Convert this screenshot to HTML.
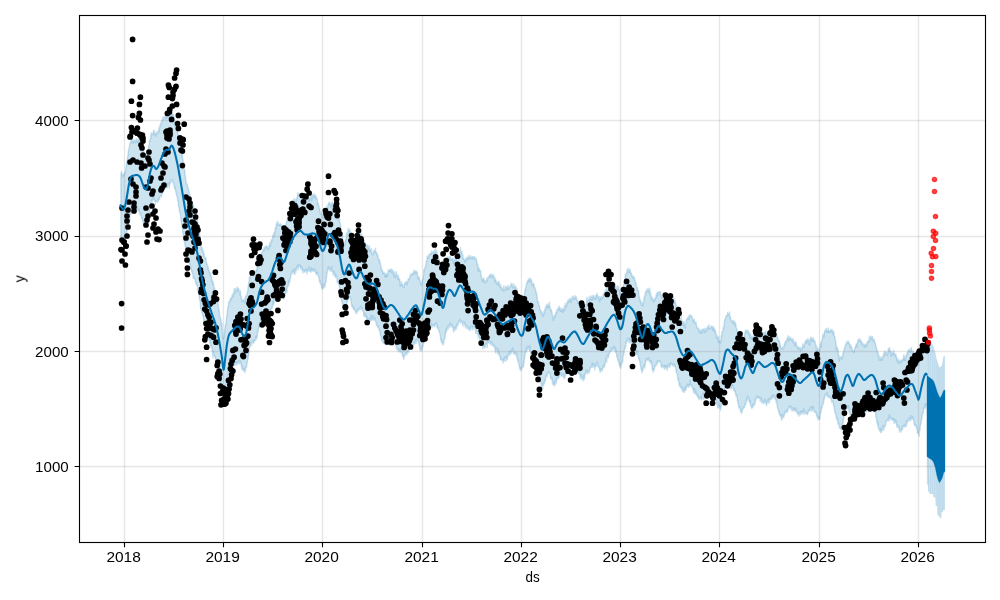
<!DOCTYPE html>
<html><head><meta charset="utf-8"><title>forecast</title>
<style>html,body{margin:0;padding:0;background:#fff;font-family:"Liberation Sans",sans-serif}svg{display:block}</style></head>
<body>
<svg width="1000" height="600" viewBox="0 0 1000 600">
<rect width="1000" height="600" fill="#fff"/>
<path d="M120.9 174.3 L121.2 172.4 L121.4 172.2 L121.7 171.0 L122.0 175.6 L122.3 174.4 L122.5 174.7 L122.8 176.3 L123.1 176.8 L123.3 174.7 L123.6 173.8 L123.9 174.0 L124.2 174.7 L124.4 175.0 L124.7 172.1 L125.0 172.2 L125.2 172.8 L125.5 172.7 L125.8 169.0 L126.1 166.2 L126.3 166.6 L126.6 162.4 L126.9 162.3 L127.1 161.3 L127.4 158.6 L127.7 156.4 L128.0 155.3 L128.2 151.5 L128.5 150.9 L128.8 149.4 L129.1 148.1 L129.3 147.1 L129.6 144.7 L129.9 143.5 L130.1 143.5 L130.4 142.6 L130.7 141.3 L131.0 142.2 L131.2 138.6 L131.5 142.2 L131.8 139.3 L132.0 137.9 L132.3 140.3 L132.6 141.3 L132.9 143.4 L133.1 140.4 L133.4 142.5 L133.7 142.2 L133.9 139.7 L134.2 139.6 L134.5 141.8 L134.8 142.4 L135.0 142.8 L135.3 140.9 L135.6 141.0 L135.8 140.0 L136.1 141.7 L136.4 138.6 L136.7 140.5 L136.9 141.1 L137.2 139.2 L137.5 142.1 L137.7 139.4 L138.0 140.5 L138.3 142.8 L138.6 138.8 L138.8 139.2 L139.1 142.3 L139.4 139.2 L139.6 139.5 L139.9 141.9 L140.2 142.7 L140.5 143.1 L140.7 144.1 L141.0 146.0 L141.3 146.0 L141.6 145.5 L141.8 143.2 L142.1 144.3 L142.4 144.3 L142.6 148.9 L142.9 146.8 L143.2 152.2 L143.5 153.4 L143.7 150.7 L144.0 153.0 L144.3 153.6 L144.5 156.9 L144.8 154.7 L145.1 155.6 L145.4 154.1 L145.6 155.0 L145.9 157.5 L146.2 154.8 L146.4 156.0 L146.7 156.1 L147.0 156.1 L147.3 151.4 L147.5 153.7 L147.8 152.1 L148.1 153.0 L148.3 150.2 L148.6 146.4 L148.9 145.0 L149.2 144.2 L149.4 141.0 L149.7 140.4 L150.0 141.5 L150.2 141.0 L150.5 136.8 L150.8 138.6 L151.1 133.2 L151.3 132.7 L151.6 135.7 L151.9 133.7 L152.1 134.6 L152.4 134.4 L152.7 133.5 L153.0 134.1 L153.2 132.5 L153.5 130.3 L153.8 132.6 L154.1 132.7 L154.3 134.8 L154.6 130.7 L154.9 133.4 L155.1 133.0 L155.4 133.8 L155.7 136.2 L156.0 134.1 L156.2 133.5 L156.5 133.4 L156.8 134.1 L157.0 131.4 L157.3 132.1 L157.6 133.5 L157.9 132.9 L158.1 132.0 L158.4 131.3 L158.7 130.8 L158.9 127.5 L159.2 131.3 L159.5 128.6 L159.8 127.0 L160.0 124.7 L160.3 125.1 L160.6 125.3 L160.8 124.5 L161.1 122.0 L161.4 123.1 L161.7 123.2 L161.9 120.4 L162.2 120.6 L162.5 119.7 L162.7 117.4 L163.0 119.9 L163.3 119.2 L163.6 119.1 L163.8 116.6 L164.1 116.8 L164.4 117.5 L164.6 116.9 L164.9 117.8 L165.2 116.1 L165.5 117.2 L165.7 118.5 L166.0 118.5 L166.3 118.6 L166.6 116.6 L166.8 118.0 L167.1 116.5 L167.4 117.6 L167.6 116.7 L167.9 117.2 L168.2 117.5 L168.5 118.1 L168.7 118.1 L169.0 117.1 L169.3 115.0 L169.5 116.1 L169.8 114.4 L170.1 118.1 L170.4 115.2 L170.6 115.3 L170.9 113.9 L171.2 111.0 L171.4 111.3 L171.7 113.5 L172.0 115.4 L172.3 113.2 L172.5 114.9 L172.8 115.8 L173.1 114.3 L173.3 115.0 L173.6 116.2 L173.9 118.0 L174.2 118.8 L174.4 122.3 L174.7 120.9 L175.0 122.2 L175.2 125.6 L175.5 126.3 L175.8 123.2 L176.1 125.8 L176.3 129.6 L176.6 128.2 L176.9 130.0 L177.1 130.6 L177.4 130.9 L177.7 131.9 L178.0 135.1 L178.2 138.1 L178.5 139.8 L178.8 138.5 L179.1 136.8 L179.3 139.2 L179.6 140.3 L179.9 141.4 L180.1 141.4 L180.4 140.4 L180.7 145.6 L181.0 143.5 L181.2 147.4 L181.5 151.6 L181.8 153.8 L182.0 157.4 L182.3 153.2 L182.6 158.2 L182.9 159.4 L183.1 160.2 L183.4 163.5 L183.7 163.8 L183.9 167.8 L184.2 169.6 L184.5 168.8 L184.8 171.1 L185.0 174.1 L185.3 175.3 L185.6 179.5 L185.8 179.8 L186.1 182.8 L186.4 183.9 L186.7 183.1 L186.9 183.9 L187.2 184.4 L187.5 185.8 L187.7 186.7 L188.0 188.7 L188.3 188.4 L188.6 190.3 L188.8 191.3 L189.1 191.8 L189.4 193.7 L189.6 196.4 L189.9 197.3 L190.2 195.5 L190.5 197.0 L190.7 198.6 L191.0 200.1 L191.3 203.2 L191.6 202.2 L191.8 204.3 L192.1 205.8 L192.4 202.8 L192.6 203.4 L192.9 204.4 L193.2 206.8 L193.5 205.0 L193.7 206.8 L194.0 208.5 L194.3 210.6 L194.5 210.7 L194.8 210.0 L195.1 209.8 L195.4 214.2 L195.6 214.5 L195.9 213.3 L196.2 215.0 L196.4 217.0 L196.7 216.0 L197.0 219.7 L197.3 220.4 L197.5 221.5 L197.8 223.8 L198.1 223.4 L198.3 226.0 L198.6 227.8 L198.9 229.0 L199.2 230.5 L199.4 234.4 L199.7 233.5 L200.0 238.1 L200.2 236.6 L200.5 241.1 L200.8 242.8 L201.1 242.8 L201.3 242.4 L201.6 249.8 L201.9 247.2 L202.1 247.2 L202.4 249.1 L202.7 250.6 L203.0 250.9 L203.2 252.1 L203.5 251.0 L203.8 255.3 L204.0 253.6 L204.3 255.8 L204.6 257.4 L204.9 258.5 L205.1 257.5 L205.4 258.1 L205.7 259.6 L206.0 257.8 L206.2 261.4 L206.5 262.9 L206.8 262.8 L207.0 264.6 L207.3 264.6 L207.6 268.2 L207.9 269.3 L208.1 266.1 L208.4 270.0 L208.7 269.3 L208.9 271.5 L209.2 271.2 L209.5 272.8 L209.8 272.4 L210.0 275.3 L210.3 274.4 L210.6 273.0 L210.8 275.9 L211.1 276.6 L211.4 277.0 L211.7 277.0 L211.9 281.5 L212.2 279.7 L212.5 283.1 L212.7 281.4 L213.0 284.4 L213.3 281.6 L213.6 285.8 L213.8 284.5 L214.1 288.5 L214.4 290.4 L214.6 287.6 L214.9 289.5 L215.2 293.1 L215.5 293.0 L215.7 292.3 L216.0 295.9 L216.3 294.8 L216.5 297.8 L216.8 298.0 L217.1 296.6 L217.4 299.2 L217.6 302.8 L217.9 300.5 L218.2 304.1 L218.5 307.2 L218.7 309.6 L219.0 311.6 L219.3 310.0 L219.5 315.8 L219.8 315.1 L220.1 317.7 L220.4 318.2 L220.6 318.8 L220.9 319.0 L221.2 320.9 L221.4 325.5 L221.7 323.5 L222.0 323.6 L222.3 329.8 L222.5 332.2 L222.8 335.2 L223.1 338.9 L223.3 336.4 L223.6 338.3 L223.9 337.6 L224.2 337.0 L224.4 335.2 L224.7 330.5 L225.0 327.2 L225.2 327.1 L225.5 324.0 L225.8 325.4 L226.1 320.5 L226.3 319.0 L226.6 316.1 L226.9 316.6 L227.1 313.3 L227.4 310.3 L227.7 309.7 L228.0 306.6 L228.2 305.7 L228.5 305.8 L228.8 301.4 L229.0 301.9 L229.3 301.7 L229.6 302.4 L229.9 301.1 L230.1 299.2 L230.4 297.9 L230.7 299.2 L231.0 297.9 L231.2 299.8 L231.5 297.6 L231.8 297.5 L232.0 295.1 L232.3 294.9 L232.6 294.6 L232.9 297.0 L233.1 294.8 L233.4 293.5 L233.7 291.0 L233.9 293.7 L234.2 288.4 L234.5 294.0 L234.8 290.9 L235.0 290.9 L235.3 289.1 L235.6 288.4 L235.8 290.8 L236.1 289.1 L236.4 291.2 L236.7 292.0 L236.9 291.4 L237.2 287.0 L237.5 288.8 L237.7 288.7 L238.0 288.8 L238.3 288.3 L238.6 288.3 L238.8 290.0 L239.1 291.3 L239.4 292.7 L239.6 292.4 L239.9 294.7 L240.2 290.4 L240.5 292.5 L240.7 295.5 L241.0 296.2 L241.3 296.5 L241.5 299.5 L241.8 300.9 L242.1 301.5 L242.4 299.5 L242.6 300.7 L242.9 300.3 L243.2 300.6 L243.5 301.7 L243.7 300.1 L244.0 300.9 L244.3 298.4 L244.5 302.6 L244.8 303.1 L245.1 301.0 L245.4 300.8 L245.6 295.9 L245.9 297.4 L246.2 295.9 L246.4 297.2 L246.7 296.6 L247.0 292.8 L247.3 292.6 L247.5 290.9 L247.8 292.0 L248.1 286.5 L248.3 285.0 L248.6 284.1 L248.9 282.1 L249.2 280.7 L249.4 277.2 L249.7 277.1 L250.0 278.5 L250.2 275.6 L250.5 273.8 L250.8 272.6 L251.1 274.7 L251.3 273.2 L251.6 271.8 L251.9 273.9 L252.1 271.4 L252.4 271.9 L252.7 273.2 L253.0 272.9 L253.2 273.5 L253.5 272.2 L253.8 271.6 L254.0 272.7 L254.3 271.7 L254.6 272.7 L254.9 271.5 L255.1 272.1 L255.4 272.8 L255.7 272.8 L256.0 270.1 L256.2 270.3 L256.5 270.1 L256.8 270.7 L257.0 267.3 L257.3 268.9 L257.6 264.6 L257.9 264.5 L258.1 266.4 L258.4 262.8 L258.7 263.2 L258.9 257.0 L259.2 258.7 L259.5 258.3 L259.8 258.5 L260.0 256.4 L260.3 258.6 L260.6 253.9 L260.8 258.0 L261.1 256.3 L261.4 256.9 L261.7 253.8 L261.9 252.4 L262.2 251.9 L262.5 251.3 L262.7 251.2 L263.0 248.9 L263.3 250.5 L263.6 250.5 L263.8 250.9 L264.1 247.0 L264.4 247.6 L264.6 248.9 L264.9 248.1 L265.2 246.7 L265.5 247.5 L265.7 247.4 L266.0 247.3 L266.3 245.9 L266.5 246.2 L266.8 245.6 L267.1 247.6 L267.4 249.8 L267.6 246.6 L267.9 248.3 L268.2 248.6 L268.5 246.5 L268.7 248.8 L269.0 245.8 L269.3 248.0 L269.5 244.9 L269.8 242.5 L270.1 244.6 L270.4 246.4 L270.6 243.0 L270.9 243.1 L271.2 240.5 L271.4 239.5 L271.7 241.8 L272.0 239.9 L272.3 240.0 L272.5 239.9 L272.8 235.3 L273.1 235.4 L273.3 235.1 L273.6 237.2 L273.9 233.2 L274.2 232.1 L274.4 232.2 L274.7 234.0 L275.0 229.8 L275.2 228.8 L275.5 227.3 L275.8 227.0 L276.1 228.5 L276.3 224.3 L276.6 222.9 L276.9 225.0 L277.1 224.5 L277.4 221.0 L277.7 223.9 L278.0 225.1 L278.2 223.0 L278.5 225.4 L278.8 224.6 L279.0 224.6 L279.3 224.4 L279.6 224.4 L279.9 225.6 L280.1 223.3 L280.4 225.0 L280.7 225.9 L280.9 224.5 L281.2 224.6 L281.5 225.0 L281.8 225.9 L282.0 230.2 L282.3 228.3 L282.6 229.9 L282.9 228.1 L283.1 228.0 L283.4 226.8 L283.7 227.6 L283.9 227.0 L284.2 228.5 L284.5 225.5 L284.8 227.1 L285.0 226.8 L285.3 226.3 L285.6 225.3 L285.8 225.2 L286.1 223.7 L286.4 222.6 L286.7 221.6 L286.9 220.5 L287.2 220.8 L287.5 218.2 L287.7 216.3 L288.0 217.8 L288.3 217.9 L288.6 217.2 L288.8 213.7 L289.1 215.4 L289.4 214.2 L289.6 213.5 L289.9 213.7 L290.2 210.6 L290.5 210.9 L290.7 208.7 L291.0 209.5 L291.3 209.2 L291.5 208.1 L291.8 207.9 L292.1 204.9 L292.4 206.1 L292.6 203.0 L292.9 208.0 L293.2 205.4 L293.4 201.6 L293.7 199.0 L294.0 204.1 L294.3 200.6 L294.5 202.1 L294.8 199.0 L295.1 201.0 L295.4 200.4 L295.6 202.0 L295.9 200.9 L296.2 203.1 L296.4 198.0 L296.7 199.8 L297.0 198.0 L297.3 198.2 L297.5 194.3 L297.8 192.8 L298.1 195.9 L298.3 193.8 L298.6 194.4 L298.9 195.0 L299.2 193.8 L299.4 195.7 L299.7 193.8 L300.0 193.6 L300.2 196.1 L300.5 193.6 L300.8 196.2 L301.1 195.5 L301.3 197.0 L301.6 195.6 L301.9 194.1 L302.1 195.3 L302.4 196.2 L302.7 198.8 L303.0 198.9 L303.2 198.7 L303.5 199.2 L303.8 199.4 L304.0 200.5 L304.3 200.4 L304.6 200.3 L304.9 200.3 L305.1 201.3 L305.4 200.2 L305.7 200.9 L305.9 200.5 L306.2 199.9 L306.5 199.4 L306.8 198.4 L307.0 198.1 L307.3 199.2 L307.6 199.6 L307.9 196.0 L308.1 199.9 L308.4 195.7 L308.7 198.5 L308.9 199.0 L309.2 201.4 L309.5 199.3 L309.8 197.7 L310.0 197.5 L310.3 198.7 L310.6 200.1 L310.8 198.0 L311.1 194.8 L311.4 196.1 L311.7 197.3 L311.9 200.6 L312.2 194.7 L312.5 195.3 L312.7 196.5 L313.0 196.8 L313.3 194.0 L313.6 196.3 L313.8 194.0 L314.1 195.5 L314.4 197.8 L314.6 194.5 L314.9 195.2 L315.2 197.5 L315.5 195.6 L315.7 195.2 L316.0 196.1 L316.3 199.0 L316.5 197.2 L316.8 198.8 L317.1 198.7 L317.4 200.4 L317.6 204.2 L317.9 203.1 L318.2 202.9 L318.4 205.6 L318.7 205.3 L319.0 205.7 L319.3 209.3 L319.5 210.5 L319.8 208.2 L320.1 211.5 L320.4 214.0 L320.6 213.5 L320.9 213.8 L321.2 211.7 L321.4 214.5 L321.7 212.8 L322.0 217.7 L322.3 215.9 L322.5 217.4 L322.8 216.3 L323.1 217.7 L323.3 214.6 L323.6 216.4 L323.9 217.1 L324.2 216.4 L324.4 215.4 L324.7 213.7 L325.0 216.7 L325.2 215.2 L325.5 215.9 L325.8 214.1 L326.1 210.3 L326.3 210.2 L326.6 211.9 L326.9 206.8 L327.1 207.8 L327.4 205.5 L327.7 208.0 L328.0 204.9 L328.2 204.1 L328.5 204.6 L328.8 202.9 L329.0 202.8 L329.3 201.9 L329.6 204.7 L329.9 203.4 L330.1 204.4 L330.4 204.1 L330.7 205.3 L330.9 207.0 L331.2 202.9 L331.5 203.6 L331.8 206.5 L332.0 208.1 L332.3 202.8 L332.6 201.8 L332.9 204.2 L333.1 204.3 L333.4 205.8 L333.7 205.2 L333.9 207.0 L334.2 207.0 L334.5 206.0 L334.8 205.8 L335.0 209.2 L335.3 210.7 L335.6 209.2 L335.8 213.5 L336.1 212.8 L336.4 211.9 L336.7 212.6 L336.9 212.7 L337.2 214.5 L337.5 215.5 L337.7 215.0 L338.0 212.9 L338.3 216.4 L338.6 216.9 L338.8 217.0 L339.1 220.1 L339.4 218.2 L339.6 222.4 L339.9 222.3 L340.2 222.9 L340.5 224.2 L340.7 229.5 L341.0 230.7 L341.3 229.7 L341.5 232.6 L341.8 235.4 L342.1 234.0 L342.4 235.0 L342.6 237.9 L342.9 239.2 L343.2 240.2 L343.4 244.2 L343.7 243.4 L344.0 243.4 L344.3 245.9 L344.5 242.9 L344.8 245.1 L345.1 241.8 L345.4 239.9 L345.6 239.2 L345.9 240.3 L346.2 239.5 L346.4 237.2 L346.7 233.5 L347.0 232.6 L347.3 233.3 L347.5 233.4 L347.8 233.7 L348.1 228.2 L348.3 231.0 L348.6 230.3 L348.9 230.6 L349.2 230.9 L349.4 229.1 L349.7 229.3 L350.0 232.9 L350.2 232.7 L350.5 231.1 L350.8 232.5 L351.1 233.2 L351.3 233.2 L351.6 236.0 L351.9 234.7 L352.1 234.3 L352.4 235.5 L352.7 239.7 L353.0 238.9 L353.2 239.2 L353.5 239.4 L353.8 240.8 L354.0 241.4 L354.3 238.2 L354.6 239.9 L354.9 238.8 L355.1 241.1 L355.4 240.6 L355.7 238.9 L355.9 242.5 L356.2 242.5 L356.5 240.4 L356.8 244.2 L357.0 242.5 L357.3 242.3 L357.6 241.0 L357.9 241.0 L358.1 239.7 L358.4 237.9 L358.7 238.3 L358.9 238.6 L359.2 237.1 L359.5 236.5 L359.8 235.5 L360.0 232.2 L360.3 236.3 L360.6 234.2 L360.8 233.6 L361.1 235.3 L361.4 233.2 L361.7 236.0 L361.9 235.1 L362.2 239.6 L362.5 237.6 L362.7 236.7 L363.0 237.8 L363.3 236.9 L363.6 239.6 L363.8 240.5 L364.1 242.0 L364.4 240.6 L364.6 243.9 L364.9 246.1 L365.2 244.6 L365.5 244.9 L365.7 246.4 L366.0 244.9 L366.3 245.5 L366.5 247.5 L366.8 247.0 L367.1 244.7 L367.4 245.0 L367.6 250.3 L367.9 247.6 L368.2 246.0 L368.4 248.3 L368.7 248.2 L369.0 247.6 L369.3 245.5 L369.5 251.3 L369.8 250.2 L370.1 249.1 L370.3 251.6 L370.6 250.3 L370.9 249.1 L371.2 251.8 L371.4 248.7 L371.7 253.1 L372.0 253.4 L372.3 254.2 L372.5 254.1 L372.8 255.0 L373.1 254.2 L373.3 253.6 L373.6 251.4 L373.9 252.4 L374.2 250.1 L374.4 249.7 L374.7 252.3 L375.0 252.2 L375.2 252.7 L375.5 248.2 L375.8 252.2 L376.1 252.7 L376.3 252.3 L376.6 254.0 L376.9 252.6 L377.1 254.9 L377.4 254.9 L377.7 256.2 L378.0 255.1 L378.2 257.9 L378.5 259.5 L378.8 259.5 L379.0 260.4 L379.3 259.1 L379.6 263.2 L379.9 260.6 L380.1 262.4 L380.4 264.2 L380.7 265.0 L380.9 266.3 L381.2 267.2 L381.5 270.9 L381.8 269.8 L382.0 270.5 L382.3 270.1 L382.6 271.8 L382.8 274.1 L383.1 272.9 L383.4 272.0 L383.7 273.0 L383.9 273.4 L384.2 273.7 L384.5 272.2 L384.8 276.6 L385.0 274.1 L385.3 274.4 L385.6 274.2 L385.8 274.9 L386.1 277.4 L386.4 273.6 L386.7 274.0 L386.9 273.7 L387.2 274.0 L387.5 276.4 L387.7 272.8 L388.0 272.0 L388.3 269.6 L388.6 271.2 L388.8 271.0 L389.1 270.6 L389.4 269.9 L389.6 271.4 L389.9 270.6 L390.2 269.8 L390.5 269.3 L390.7 269.1 L391.0 272.5 L391.3 268.9 L391.5 271.5 L391.8 271.3 L392.1 269.9 L392.4 271.8 L392.6 269.9 L392.9 273.5 L393.2 270.7 L393.4 273.6 L393.7 275.1 L394.0 272.8 L394.3 277.0 L394.5 275.4 L394.8 271.8 L395.1 276.8 L395.3 277.6 L395.6 274.9 L395.9 274.3 L396.2 274.7 L396.4 271.7 L396.7 274.7 L397.0 275.6 L397.3 275.4 L397.5 277.5 L397.8 279.6 L398.1 275.2 L398.3 275.3 L398.6 277.6 L398.9 279.7 L399.2 279.4 L399.4 278.6 L399.7 279.4 L400.0 281.9 L400.2 286.1 L400.5 282.3 L400.8 283.7 L401.1 285.0 L401.3 283.5 L401.6 281.5 L401.9 285.4 L402.1 284.3 L402.4 284.3 L402.7 285.4 L403.0 287.0 L403.2 285.7 L403.5 287.0 L403.8 287.3 L404.0 287.0 L404.3 283.2 L404.6 283.6 L404.9 282.5 L405.1 283.0 L405.4 283.5 L405.7 283.6 L405.9 282.5 L406.2 281.5 L406.5 283.5 L406.8 282.2 L407.0 284.9 L407.3 282.4 L407.6 280.8 L407.8 281.7 L408.1 278.9 L408.4 279.4 L408.7 278.8 L408.9 279.1 L409.2 279.6 L409.5 277.7 L409.8 276.9 L410.0 275.3 L410.3 275.6 L410.6 274.4 L410.8 276.0 L411.1 273.5 L411.4 275.4 L411.7 275.4 L411.9 275.3 L412.2 273.7 L412.5 274.2 L412.7 273.0 L413.0 272.8 L413.3 274.6 L413.6 273.6 L413.8 270.5 L414.1 271.1 L414.4 273.0 L414.6 271.5 L414.9 271.1 L415.2 273.5 L415.5 270.8 L415.7 271.5 L416.0 272.7 L416.3 271.0 L416.5 271.6 L416.8 272.3 L417.1 272.9 L417.4 272.4 L417.6 276.9 L417.9 276.8 L418.2 278.9 L418.4 278.0 L418.7 276.6 L419.0 277.5 L419.3 277.1 L419.5 279.7 L419.8 280.0 L420.1 282.0 L420.3 282.1 L420.6 281.2 L420.9 284.7 L421.2 282.5 L421.4 283.1 L421.7 284.9 L422.0 283.7 L422.3 280.0 L422.5 279.3 L422.8 279.5 L423.1 278.5 L423.3 276.7 L423.6 275.2 L423.9 269.6 L424.2 270.8 L424.4 268.5 L424.7 268.5 L425.0 267.7 L425.2 266.6 L425.5 267.2 L425.8 265.0 L426.1 262.9 L426.3 260.6 L426.6 262.2 L426.9 259.9 L427.1 256.6 L427.4 257.9 L427.7 257.7 L428.0 255.3 L428.2 256.7 L428.5 258.3 L428.8 256.1 L429.0 256.5 L429.3 255.0 L429.6 253.6 L429.9 254.4 L430.1 254.1 L430.4 254.6 L430.7 253.1 L430.9 254.6 L431.2 252.8 L431.5 253.4 L431.8 250.8 L432.0 253.3 L432.3 253.7 L432.6 253.6 L432.8 251.8 L433.1 252.1 L433.4 253.2 L433.7 252.1 L433.9 252.6 L434.2 253.7 L434.5 250.8 L434.8 249.9 L435.0 251.5 L435.3 251.9 L435.6 248.3 L435.8 253.8 L436.1 252.5 L436.4 251.9 L436.7 251.0 L436.9 252.8 L437.2 256.1 L437.5 258.5 L437.7 256.5 L438.0 256.3 L438.3 257.9 L438.6 259.6 L438.8 258.4 L439.1 259.0 L439.4 260.4 L439.6 263.7 L439.9 262.4 L440.2 264.6 L440.5 265.6 L440.7 265.6 L441.0 267.8 L441.3 269.6 L441.5 270.4 L441.8 268.5 L442.1 274.3 L442.4 273.6 L442.6 274.1 L442.9 273.8 L443.2 273.6 L443.4 270.8 L443.7 274.0 L444.0 275.2 L444.3 272.6 L444.5 269.7 L444.8 266.6 L445.1 267.1 L445.3 267.6 L445.6 268.3 L445.9 264.0 L446.2 264.4 L446.4 263.6 L446.7 261.8 L447.0 260.4 L447.2 256.4 L447.5 260.9 L447.8 259.7 L448.1 259.9 L448.3 256.9 L448.6 257.8 L448.9 260.2 L449.2 257.9 L449.4 258.8 L449.7 256.9 L450.0 259.7 L450.2 255.9 L450.5 257.8 L450.8 259.4 L451.1 259.4 L451.3 259.9 L451.6 259.5 L451.9 260.6 L452.1 258.7 L452.4 258.4 L452.7 259.8 L453.0 257.9 L453.2 263.6 L453.5 260.1 L453.8 262.5 L454.0 263.1 L454.3 262.6 L454.6 260.4 L454.9 258.5 L455.1 255.9 L455.4 259.4 L455.7 258.1 L455.9 260.1 L456.2 257.8 L456.5 259.1 L456.8 257.4 L457.0 258.0 L457.3 256.9 L457.6 256.5 L457.8 254.6 L458.1 254.6 L458.4 254.5 L458.7 255.6 L458.9 253.8 L459.2 250.9 L459.5 253.2 L459.7 251.3 L460.0 253.0 L460.3 250.1 L460.6 247.4 L460.8 251.3 L461.1 251.3 L461.4 253.0 L461.7 250.9 L461.9 253.0 L462.2 253.0 L462.5 255.4 L462.7 254.2 L463.0 257.7 L463.3 258.0 L463.6 259.0 L463.8 257.9 L464.1 258.8 L464.4 260.5 L464.6 259.2 L464.9 262.2 L465.2 260.0 L465.5 260.5 L465.7 261.2 L466.0 260.3 L466.3 257.1 L466.5 260.1 L466.8 257.8 L467.1 258.3 L467.4 258.6 L467.6 256.9 L467.9 258.2 L468.2 257.4 L468.4 259.6 L468.7 258.8 L469.0 255.1 L469.3 257.3 L469.5 257.1 L469.8 257.7 L470.1 256.9 L470.3 258.3 L470.6 257.4 L470.9 255.8 L471.2 257.8 L471.4 258.2 L471.7 257.1 L472.0 258.3 L472.2 258.6 L472.5 256.4 L472.8 256.8 L473.1 257.0 L473.3 257.0 L473.6 256.9 L473.9 258.9 L474.2 259.0 L474.4 257.1 L474.7 256.4 L475.0 258.2 L475.2 258.8 L475.5 259.1 L475.8 259.0 L476.1 259.2 L476.3 258.1 L476.6 261.5 L476.9 261.4 L477.1 264.4 L477.4 265.7 L477.7 263.9 L478.0 266.0 L478.2 271.1 L478.5 267.0 L478.8 267.9 L479.0 268.2 L479.3 268.5 L479.6 271.7 L479.9 270.5 L480.1 270.4 L480.4 272.2 L480.7 270.5 L480.9 275.2 L481.2 274.7 L481.5 276.8 L481.8 280.0 L482.0 278.6 L482.3 278.8 L482.6 279.0 L482.8 282.0 L483.1 278.8 L483.4 279.8 L483.7 277.7 L483.9 280.0 L484.2 280.7 L484.5 279.6 L484.7 282.4 L485.0 282.1 L485.3 282.7 L485.6 280.8 L485.8 283.0 L486.1 280.6 L486.4 281.7 L486.7 279.9 L486.9 278.2 L487.2 280.8 L487.5 279.6 L487.7 277.4 L488.0 277.9 L488.3 277.3 L488.6 276.8 L488.8 277.4 L489.1 276.1 L489.4 275.6 L489.6 275.3 L489.9 274.3 L490.2 274.5 L490.5 275.6 L490.7 274.4 L491.0 277.6 L491.3 277.3 L491.5 274.2 L491.8 276.8 L492.1 274.3 L492.4 275.6 L492.6 275.0 L492.9 275.9 L493.2 275.0 L493.4 278.1 L493.7 278.0 L494.0 275.8 L494.3 278.0 L494.5 279.7 L494.8 280.8 L495.1 277.8 L495.3 282.4 L495.6 279.2 L495.9 280.3 L496.2 281.4 L496.4 283.7 L496.7 283.0 L497.0 283.1 L497.2 284.1 L497.5 282.3 L497.8 282.3 L498.1 284.9 L498.3 283.3 L498.6 281.1 L498.9 281.3 L499.2 283.0 L499.4 285.6 L499.7 284.8 L500.0 285.7 L500.2 287.9 L500.5 284.3 L500.8 286.9 L501.1 286.3 L501.3 289.4 L501.6 286.7 L501.9 289.7 L502.1 289.5 L502.4 289.0 L502.7 290.2 L503.0 289.5 L503.2 290.9 L503.5 288.2 L503.8 285.8 L504.0 290.3 L504.3 290.5 L504.6 289.6 L504.9 290.3 L505.1 289.7 L505.4 287.5 L505.7 286.2 L505.9 288.9 L506.2 289.2 L506.5 289.1 L506.8 286.9 L507.0 287.0 L507.3 289.6 L507.6 287.2 L507.8 286.8 L508.1 285.0 L508.4 289.0 L508.7 287.7 L508.9 287.2 L509.2 288.3 L509.5 287.3 L509.7 287.3 L510.0 286.4 L510.3 286.2 L510.6 285.9 L510.8 285.7 L511.1 283.5 L511.4 284.9 L511.7 284.0 L511.9 283.2 L512.2 284.9 L512.5 287.7 L512.7 287.0 L513.0 286.4 L513.3 286.9 L513.6 287.4 L513.8 283.9 L514.1 286.1 L514.4 288.1 L514.6 287.5 L514.9 287.7 L515.2 287.5 L515.5 285.6 L515.7 286.5 L516.0 288.5 L516.3 289.6 L516.5 291.3 L516.8 288.2 L517.1 292.2 L517.4 294.8 L517.6 293.6 L517.9 294.5 L518.2 295.8 L518.4 296.2 L518.7 296.9 L519.0 297.8 L519.3 298.7 L519.5 297.4 L519.8 297.3 L520.1 297.9 L520.3 298.8 L520.6 300.1 L520.9 299.1 L521.2 299.9 L521.4 301.4 L521.7 304.3 L522.0 303.3 L522.2 302.1 L522.5 303.4 L522.8 301.5 L523.1 300.8 L523.3 301.3 L523.6 298.9 L523.9 297.0 L524.1 296.1 L524.4 293.0 L524.7 292.9 L525.0 289.2 L525.2 289.2 L525.5 290.5 L525.8 286.7 L526.1 286.5 L526.3 285.4 L526.6 283.3 L526.9 284.1 L527.1 281.6 L527.4 282.9 L527.7 280.2 L528.0 281.1 L528.2 279.7 L528.5 279.3 L528.8 281.3 L529.0 278.6 L529.3 278.7 L529.6 282.3 L529.9 279.0 L530.1 277.8 L530.4 279.4 L530.7 279.2 L530.9 280.5 L531.2 279.3 L531.5 280.8 L531.8 280.9 L532.0 284.5 L532.3 283.3 L532.6 285.6 L532.8 285.7 L533.1 283.1 L533.4 284.3 L533.7 283.6 L533.9 284.4 L534.2 287.4 L534.5 287.4 L534.7 287.1 L535.0 288.3 L535.3 289.3 L535.6 290.6 L535.8 291.2 L536.1 291.0 L536.4 294.5 L536.6 293.8 L536.9 294.4 L537.2 297.6 L537.5 300.7 L537.7 302.3 L538.0 301.3 L538.3 302.6 L538.6 302.0 L538.8 304.5 L539.1 305.1 L539.4 306.7 L539.6 306.5 L539.9 310.2 L540.2 309.8 L540.5 310.3 L540.7 310.5 L541.0 310.9 L541.3 313.9 L541.5 310.9 L541.8 313.2 L542.1 313.1 L542.4 314.5 L542.6 314.6 L542.9 316.3 L543.2 312.3 L543.4 316.1 L543.7 313.5 L544.0 314.3 L544.3 310.8 L544.5 312.4 L544.8 309.6 L545.1 309.9 L545.3 307.2 L545.6 309.2 L545.9 307.7 L546.2 305.0 L546.4 305.8 L546.7 305.5 L547.0 307.1 L547.2 304.3 L547.5 305.1 L547.8 306.6 L548.1 304.3 L548.3 308.0 L548.6 305.7 L548.9 305.1 L549.1 303.4 L549.4 302.3 L549.7 307.2 L550.0 306.6 L550.2 307.5 L550.5 310.0 L550.8 310.6 L551.1 311.2 L551.3 309.6 L551.6 309.8 L551.9 313.5 L552.1 313.0 L552.4 314.4 L552.7 318.5 L553.0 316.6 L553.2 318.3 L553.5 320.6 L553.8 318.1 L554.0 316.2 L554.3 315.6 L554.6 317.8 L554.9 314.6 L555.1 316.0 L555.4 316.8 L555.7 313.1 L555.9 313.5 L556.2 311.8 L556.5 313.5 L556.8 311.3 L557.0 309.5 L557.3 310.6 L557.6 309.6 L557.8 308.9 L558.1 308.8 L558.4 307.2 L558.7 308.0 L558.9 309.7 L559.2 306.0 L559.5 309.1 L559.7 309.0 L560.0 307.8 L560.3 311.2 L560.6 309.8 L560.8 309.0 L561.1 310.6 L561.4 311.5 L561.6 308.1 L561.9 310.9 L562.2 309.2 L562.5 309.3 L562.7 312.4 L563.0 308.5 L563.3 309.2 L563.6 308.6 L563.8 309.8 L564.1 310.8 L564.4 305.8 L564.6 310.6 L564.9 310.4 L565.2 303.4 L565.5 305.4 L565.7 306.8 L566.0 305.3 L566.3 306.9 L566.5 304.0 L566.8 305.9 L567.1 301.8 L567.4 303.6 L567.6 301.7 L567.9 301.1 L568.2 299.2 L568.4 301.0 L568.7 302.6 L569.0 300.3 L569.3 300.5 L569.5 301.1 L569.8 299.0 L570.1 299.6 L570.3 301.1 L570.6 299.4 L570.9 297.8 L571.2 302.3 L571.4 300.0 L571.7 299.3 L572.0 298.5 L572.2 298.4 L572.5 296.4 L572.8 298.6 L573.1 298.4 L573.3 299.1 L573.6 299.5 L573.9 295.6 L574.1 299.1 L574.4 297.7 L574.7 298.7 L575.0 296.2 L575.2 297.8 L575.5 295.9 L575.8 298.8 L576.1 296.4 L576.3 298.2 L576.6 298.3 L576.9 299.9 L577.1 300.3 L577.4 301.1 L577.7 300.2 L578.0 303.4 L578.2 303.2 L578.5 301.4 L578.8 304.7 L579.0 302.8 L579.3 304.4 L579.6 304.2 L579.9 305.7 L580.1 307.7 L580.4 305.6 L580.7 310.0 L580.9 305.6 L581.2 311.0 L581.5 311.3 L581.8 308.8 L582.0 311.6 L582.3 310.7 L582.6 308.7 L582.8 311.6 L583.1 310.8 L583.4 309.9 L583.7 311.4 L583.9 309.6 L584.2 309.7 L584.5 311.8 L584.7 308.4 L585.0 309.5 L585.3 310.1 L585.6 306.8 L585.8 305.0 L586.1 304.0 L586.4 304.3 L586.6 301.5 L586.9 297.3 L587.2 301.8 L587.5 300.1 L587.7 301.7 L588.0 299.5 L588.3 300.0 L588.6 300.6 L588.8 300.1 L589.1 296.9 L589.4 301.2 L589.6 299.3 L589.9 298.1 L590.2 296.0 L590.5 300.0 L590.7 298.6 L591.0 299.7 L591.3 296.6 L591.5 299.3 L591.8 297.7 L592.1 295.5 L592.4 299.7 L592.6 295.6 L592.9 298.1 L593.2 297.2 L593.4 296.9 L593.7 295.4 L594.0 296.3 L594.3 298.2 L594.5 299.6 L594.8 297.1 L595.1 297.3 L595.3 296.0 L595.6 299.2 L595.9 297.3 L596.2 296.2 L596.4 294.4 L596.7 294.2 L597.0 295.4 L597.2 293.3 L597.5 296.2 L597.8 296.9 L598.1 296.0 L598.3 297.0 L598.6 298.3 L598.9 297.1 L599.1 300.7 L599.4 296.5 L599.7 301.6 L600.0 296.7 L600.2 298.8 L600.5 298.1 L600.8 298.3 L601.0 296.8 L601.3 299.3 L601.6 297.0 L601.9 298.6 L602.1 297.1 L602.4 297.1 L602.7 298.1 L603.0 294.6 L603.2 295.0 L603.5 294.5 L603.8 294.6 L604.0 293.7 L604.3 293.0 L604.6 292.4 L604.9 291.2 L605.1 291.6 L605.4 292.3 L605.7 291.9 L605.9 293.6 L606.2 289.0 L606.5 290.5 L606.8 288.2 L607.0 289.0 L607.3 291.6 L607.6 292.3 L607.8 289.4 L608.1 290.3 L608.4 289.5 L608.7 289.8 L608.9 288.6 L609.2 287.6 L609.5 285.5 L609.7 285.3 L610.0 287.7 L610.3 286.4 L610.6 289.1 L610.8 285.8 L611.1 287.2 L611.4 284.2 L611.6 283.1 L611.9 284.6 L612.2 286.1 L612.5 284.6 L612.7 283.6 L613.0 285.0 L613.3 284.8 L613.5 284.3 L613.8 283.9 L614.1 283.8 L614.4 283.7 L614.6 285.1 L614.9 286.4 L615.2 284.1 L615.5 288.0 L615.7 287.2 L616.0 286.1 L616.3 288.7 L616.5 291.7 L616.8 288.6 L617.1 288.6 L617.4 289.9 L617.6 285.6 L617.9 286.4 L618.2 287.2 L618.4 290.1 L618.7 287.0 L619.0 290.3 L619.3 290.0 L619.5 290.9 L619.8 291.8 L620.1 295.0 L620.3 290.8 L620.6 291.1 L620.9 293.8 L621.2 293.4 L621.4 294.8 L621.7 293.5 L622.0 293.9 L622.2 293.4 L622.5 290.1 L622.8 288.7 L623.1 292.1 L623.3 286.5 L623.6 286.2 L623.9 282.4 L624.1 283.3 L624.4 281.0 L624.7 281.5 L625.0 277.9 L625.2 275.5 L625.5 273.8 L625.8 274.8 L626.0 274.6 L626.3 275.1 L626.6 274.0 L626.9 269.5 L627.1 271.4 L627.4 270.6 L627.7 272.5 L628.0 272.3 L628.2 268.2 L628.5 271.4 L628.8 270.5 L629.0 269.1 L629.3 269.4 L629.6 272.7 L629.9 270.5 L630.1 269.3 L630.4 272.1 L630.7 273.7 L630.9 274.0 L631.2 272.8 L631.5 273.4 L631.8 275.6 L632.0 277.1 L632.3 277.0 L632.6 275.5 L632.8 278.3 L633.1 277.7 L633.4 276.1 L633.7 277.1 L633.9 277.4 L634.2 277.0 L634.5 279.7 L634.7 280.0 L635.0 279.6 L635.3 282.0 L635.6 284.0 L635.8 281.7 L636.1 284.7 L636.4 284.3 L636.6 288.0 L636.9 288.6 L637.2 287.9 L637.5 287.5 L637.7 291.1 L638.0 290.6 L638.3 290.2 L638.5 290.7 L638.8 293.0 L639.1 297.3 L639.4 296.6 L639.6 297.6 L639.9 299.1 L640.2 301.2 L640.5 301.9 L640.7 300.0 L641.0 303.2 L641.3 304.4 L641.5 304.6 L641.8 305.2 L642.1 302.0 L642.4 305.4 L642.6 302.8 L642.9 306.2 L643.2 303.2 L643.4 303.1 L643.7 301.9 L644.0 297.6 L644.3 299.0 L644.5 295.4 L644.8 297.0 L645.1 294.5 L645.3 292.0 L645.6 294.0 L645.9 291.3 L646.2 290.2 L646.4 291.5 L646.7 291.5 L647.0 291.6 L647.2 288.5 L647.5 291.1 L647.8 290.2 L648.1 291.8 L648.3 290.8 L648.6 288.5 L648.9 292.1 L649.1 290.9 L649.4 291.1 L649.7 288.3 L650.0 290.9 L650.2 295.0 L650.5 295.2 L650.8 293.0 L651.0 296.6 L651.3 297.4 L651.6 299.5 L651.9 297.3 L652.1 296.8 L652.4 300.0 L652.7 299.6 L653.0 300.4 L653.2 300.0 L653.5 302.0 L653.8 299.0 L654.0 301.5 L654.3 301.0 L654.6 298.0 L654.9 299.9 L655.1 300.0 L655.4 298.6 L655.7 298.1 L655.9 297.0 L656.2 294.2 L656.5 294.9 L656.8 296.8 L657.0 292.6 L657.3 292.3 L657.6 295.1 L657.8 292.6 L658.1 292.5 L658.4 293.6 L658.7 292.0 L658.9 292.9 L659.2 291.9 L659.5 292.4 L659.7 292.4 L660.0 292.6 L660.3 291.4 L660.6 294.0 L660.8 294.4 L661.1 295.1 L661.4 295.3 L661.6 297.3 L661.9 295.1 L662.2 297.5 L662.5 298.1 L662.7 298.7 L663.0 296.5 L663.3 298.9 L663.5 298.3 L663.8 296.9 L664.1 298.9 L664.4 297.7 L664.6 299.5 L664.9 300.5 L665.2 300.6 L665.5 298.6 L665.7 298.8 L666.0 299.7 L666.3 299.4 L666.5 300.8 L666.8 299.8 L667.1 302.7 L667.4 300.8 L667.6 302.6 L667.9 300.4 L668.2 300.1 L668.4 300.4 L668.7 301.8 L669.0 301.3 L669.3 299.2 L669.5 298.8 L669.8 301.3 L670.1 300.9 L670.3 301.4 L670.6 301.3 L670.9 298.8 L671.2 300.4 L671.4 300.6 L671.7 297.2 L672.0 297.4 L672.2 300.6 L672.5 300.3 L672.8 297.4 L673.1 297.5 L673.3 296.5 L673.6 299.0 L673.9 299.0 L674.1 300.4 L674.4 303.6 L674.7 300.6 L675.0 300.6 L675.2 302.4 L675.5 302.1 L675.8 304.5 L676.0 304.6 L676.3 305.6 L676.6 309.4 L676.9 306.9 L677.1 306.6 L677.4 308.7 L677.7 309.9 L677.9 311.5 L678.2 313.4 L678.5 316.4 L678.8 313.7 L679.0 316.0 L679.3 313.5 L679.6 318.1 L679.9 316.5 L680.1 319.0 L680.4 320.8 L680.7 320.2 L680.9 318.9 L681.2 315.9 L681.5 322.1 L681.8 319.6 L682.0 321.7 L682.3 321.2 L682.6 322.4 L682.8 325.3 L683.1 321.7 L683.4 322.0 L683.7 322.9 L683.9 325.7 L684.2 321.8 L684.5 326.9 L684.7 325.2 L685.0 326.1 L685.3 328.1 L685.6 324.6 L685.8 323.8 L686.1 322.7 L686.4 319.9 L686.6 319.4 L686.9 318.4 L687.2 319.6 L687.5 318.6 L687.7 317.8 L688.0 317.8 L688.3 319.5 L688.5 316.2 L688.8 317.2 L689.1 319.2 L689.4 315.5 L689.6 314.7 L689.9 317.1 L690.2 315.3 L690.4 315.1 L690.7 316.7 L691.0 316.8 L691.3 315.6 L691.5 316.8 L691.8 316.2 L692.1 317.5 L692.4 318.4 L692.6 319.6 L692.9 319.8 L693.2 321.9 L693.4 319.7 L693.7 321.2 L694.0 320.0 L694.3 319.1 L694.5 321.6 L694.8 322.7 L695.1 323.5 L695.3 323.6 L695.6 322.7 L695.9 322.0 L696.2 323.7 L696.4 325.2 L696.7 326.2 L697.0 327.9 L697.2 327.7 L697.5 327.9 L697.8 329.2 L698.1 328.4 L698.3 327.9 L698.6 328.6 L698.9 330.7 L699.1 332.2 L699.4 330.7 L699.7 332.7 L700.0 330.3 L700.2 331.5 L700.5 331.0 L700.8 329.8 L701.0 333.0 L701.3 331.6 L701.6 330.9 L701.9 329.5 L702.1 332.7 L702.4 333.4 L702.7 329.6 L702.9 329.1 L703.2 330.1 L703.5 330.2 L703.8 328.7 L704.0 329.8 L704.3 328.3 L704.6 332.6 L704.9 330.9 L705.1 330.6 L705.4 328.9 L705.7 330.2 L705.9 331.6 L706.2 328.4 L706.5 330.4 L706.8 330.8 L707.0 330.0 L707.3 326.5 L707.6 328.1 L707.8 328.7 L708.1 327.7 L708.4 326.5 L708.7 328.6 L708.9 324.8 L709.2 328.2 L709.5 328.5 L709.7 329.0 L710.0 327.2 L710.3 328.4 L710.6 328.5 L710.8 327.7 L711.1 326.4 L711.4 325.9 L711.6 327.3 L711.9 327.1 L712.2 326.2 L712.5 330.3 L712.7 326.9 L713.0 327.8 L713.3 327.7 L713.5 326.7 L713.8 329.9 L714.1 327.6 L714.4 332.1 L714.6 328.6 L714.9 328.9 L715.2 330.6 L715.4 331.5 L715.7 331.8 L716.0 333.8 L716.3 335.5 L716.5 338.2 L716.8 334.3 L717.1 338.3 L717.4 337.0 L717.6 337.0 L717.9 337.2 L718.2 342.1 L718.4 339.7 L718.7 336.4 L719.0 341.9 L719.3 340.6 L719.5 341.4 L719.8 342.5 L720.1 340.7 L720.3 341.4 L720.6 342.9 L720.9 339.5 L721.2 337.5 L721.4 335.2 L721.7 336.2 L722.0 331.8 L722.2 332.4 L722.5 331.5 L722.8 331.1 L723.1 330.3 L723.3 326.9 L723.6 328.8 L723.9 326.3 L724.1 324.4 L724.4 321.9 L724.7 320.3 L725.0 319.1 L725.2 319.0 L725.5 318.0 L725.8 317.7 L726.0 315.5 L726.3 316.2 L726.6 316.3 L726.9 316.0 L727.1 315.8 L727.4 313.9 L727.7 312.2 L727.9 314.3 L728.2 313.6 L728.5 314.6 L728.8 315.1 L729.0 313.9 L729.3 314.8 L729.6 311.9 L729.9 318.5 L730.1 316.6 L730.4 316.9 L730.7 319.9 L730.9 319.9 L731.2 319.8 L731.5 321.2 L731.8 320.9 L732.0 320.7 L732.3 322.6 L732.6 321.5 L732.8 321.5 L733.1 320.3 L733.4 323.1 L733.7 321.0 L733.9 323.8 L734.2 324.4 L734.5 321.1 L734.7 323.4 L735.0 321.5 L735.3 325.0 L735.6 323.2 L735.8 324.1 L736.1 327.1 L736.4 328.5 L736.6 328.7 L736.9 328.9 L737.2 330.4 L737.5 332.5 L737.7 337.1 L738.0 337.6 L738.3 335.6 L738.5 337.5 L738.8 337.8 L739.1 341.1 L739.4 340.2 L739.6 339.4 L739.9 342.6 L740.2 342.7 L740.4 342.4 L740.7 343.7 L741.0 345.9 L741.3 343.5 L741.5 343.2 L741.8 342.0 L742.1 343.8 L742.4 345.0 L742.6 342.8 L742.9 340.6 L743.2 339.8 L743.4 340.2 L743.7 338.6 L744.0 336.6 L744.3 338.5 L744.5 335.2 L744.8 333.5 L745.1 333.3 L745.3 330.2 L745.6 330.8 L745.9 330.7 L746.2 331.4 L746.4 330.5 L746.7 332.8 L747.0 330.5 L747.2 329.9 L747.5 331.2 L747.8 330.2 L748.1 331.1 L748.3 331.9 L748.6 331.9 L748.9 334.6 L749.1 333.6 L749.4 333.1 L749.7 335.5 L750.0 333.7 L750.2 338.8 L750.5 333.4 L750.8 336.7 L751.0 337.1 L751.3 336.6 L751.6 337.9 L751.9 339.2 L752.1 335.9 L752.4 338.6 L752.7 337.0 L752.9 336.6 L753.2 339.3 L753.5 337.6 L753.8 335.9 L754.0 334.4 L754.3 334.4 L754.6 334.9 L754.9 336.9 L755.1 333.5 L755.4 331.8 L755.7 332.4 L755.9 333.5 L756.2 330.7 L756.5 331.1 L756.8 328.4 L757.0 327.1 L757.3 333.1 L757.6 329.1 L757.8 332.2 L758.1 330.1 L758.4 329.5 L758.7 327.0 L758.9 328.3 L759.2 328.9 L759.5 327.8 L759.7 329.7 L760.0 330.6 L760.3 329.9 L760.6 330.2 L760.8 327.7 L761.1 333.6 L761.4 332.8 L761.6 331.4 L761.9 331.0 L762.2 332.5 L762.5 331.8 L762.7 333.4 L763.0 332.4 L763.3 333.8 L763.5 333.2 L763.8 333.3 L764.1 332.5 L764.4 335.1 L764.6 336.0 L764.9 332.9 L765.2 332.6 L765.4 334.5 L765.7 330.9 L766.0 332.0 L766.3 334.9 L766.5 336.6 L766.8 335.0 L767.1 335.0 L767.3 337.0 L767.6 334.6 L767.9 336.0 L768.2 337.1 L768.4 337.8 L768.7 333.6 L769.0 332.7 L769.3 335.1 L769.5 335.0 L769.8 332.1 L770.1 332.2 L770.3 332.0 L770.6 330.0 L770.9 327.0 L771.2 330.0 L771.4 331.6 L771.7 328.7 L772.0 332.4 L772.2 330.4 L772.5 328.3 L772.8 330.3 L773.1 327.6 L773.3 331.4 L773.6 329.6 L773.9 332.1 L774.1 327.7 L774.4 330.5 L774.7 332.4 L775.0 332.1 L775.2 331.7 L775.5 332.4 L775.8 333.9 L776.0 335.1 L776.3 336.8 L776.6 333.0 L776.9 334.3 L777.1 335.7 L777.4 336.9 L777.7 337.7 L777.9 338.2 L778.2 339.5 L778.5 340.7 L778.8 341.7 L779.0 340.0 L779.3 340.8 L779.6 342.0 L779.8 346.9 L780.1 343.5 L780.4 346.1 L780.7 346.2 L780.9 346.9 L781.2 349.1 L781.5 348.0 L781.8 348.3 L782.0 348.8 L782.3 348.8 L782.6 347.2 L782.8 347.0 L783.1 349.0 L783.4 347.5 L783.7 348.1 L783.9 346.4 L784.2 344.4 L784.5 343.5 L784.7 342.8 L785.0 344.9 L785.3 342.9 L785.6 341.3 L785.8 340.8 L786.1 341.1 L786.4 341.3 L786.6 342.1 L786.9 339.5 L787.2 337.6 L787.5 338.9 L787.7 337.7 L788.0 337.0 L788.3 335.6 L788.5 338.9 L788.8 340.5 L789.1 338.3 L789.4 337.0 L789.6 338.7 L789.9 339.0 L790.2 340.2 L790.4 338.8 L790.7 337.2 L791.0 338.8 L791.3 338.9 L791.5 339.4 L791.8 340.5 L792.1 339.0 L792.3 340.1 L792.6 338.6 L792.9 341.0 L793.2 342.7 L793.4 339.2 L793.7 341.6 L794.0 342.6 L794.3 342.3 L794.5 344.0 L794.8 342.8 L795.1 345.8 L795.3 343.2 L795.6 341.4 L795.9 342.4 L796.2 342.4 L796.4 344.9 L796.7 346.1 L797.0 346.7 L797.2 347.5 L797.5 347.1 L797.8 348.0 L798.1 346.3 L798.3 349.0 L798.6 347.1 L798.9 348.0 L799.1 349.0 L799.4 349.0 L799.7 347.6 L800.0 347.7 L800.2 347.6 L800.5 351.5 L800.8 348.5 L801.0 347.9 L801.3 349.8 L801.6 349.5 L801.9 349.7 L802.1 347.1 L802.4 348.4 L802.7 343.7 L802.9 347.2 L803.2 346.2 L803.5 346.0 L803.8 344.6 L804.0 347.2 L804.3 346.5 L804.6 343.9 L804.8 343.2 L805.1 341.4 L805.4 341.8 L805.7 343.5 L805.9 341.0 L806.2 339.7 L806.5 340.7 L806.8 340.5 L807.0 342.7 L807.3 340.6 L807.6 340.2 L807.8 338.5 L808.1 340.4 L808.4 340.7 L808.7 339.7 L808.9 344.4 L809.2 339.4 L809.5 343.6 L809.7 345.2 L810.0 340.4 L810.3 338.7 L810.6 339.1 L810.8 337.2 L811.1 337.7 L811.4 338.6 L811.6 337.2 L811.9 341.3 L812.2 338.9 L812.5 339.4 L812.7 341.6 L813.0 337.7 L813.3 338.8 L813.5 340.0 L813.8 339.9 L814.1 340.3 L814.4 340.3 L814.6 341.8 L814.9 341.3 L815.2 341.9 L815.4 343.5 L815.7 344.9 L816.0 346.7 L816.3 345.3 L816.5 350.6 L816.8 351.3 L817.1 347.7 L817.3 347.1 L817.6 348.6 L817.9 350.4 L818.2 350.1 L818.4 353.4 L818.7 349.7 L819.0 350.6 L819.3 349.3 L819.5 351.3 L819.8 348.2 L820.1 347.7 L820.3 343.7 L820.6 344.2 L820.9 341.8 L821.2 346.9 L821.4 342.6 L821.7 341.3 L822.0 340.0 L822.2 338.9 L822.5 338.6 L822.8 334.2 L823.1 337.4 L823.3 334.5 L823.6 334.3 L823.9 337.2 L824.1 334.0 L824.4 331.6 L824.7 330.6 L825.0 331.6 L825.2 331.5 L825.5 332.1 L825.8 328.9 L826.0 329.9 L826.3 329.1 L826.6 328.8 L826.9 332.1 L827.1 330.2 L827.4 330.4 L827.7 331.2 L827.9 332.6 L828.2 327.9 L828.5 331.3 L828.8 331.0 L829.0 330.4 L829.3 332.2 L829.6 331.3 L829.8 330.8 L830.1 332.3 L830.4 330.4 L830.7 331.3 L830.9 329.1 L831.2 330.4 L831.5 331.7 L831.8 329.8 L832.0 329.5 L832.3 331.9 L832.6 330.5 L832.8 331.2 L833.1 334.5 L833.4 332.7 L833.7 331.0 L833.9 332.7 L834.2 335.7 L834.5 336.1 L834.7 336.6 L835.0 338.1 L835.3 339.6 L835.6 340.9 L835.8 342.3 L836.1 344.7 L836.4 349.8 L836.6 348.4 L836.9 348.0 L837.2 346.8 L837.5 348.6 L837.7 348.8 L838.0 351.8 L838.3 350.8 L838.5 355.4 L838.8 357.9 L839.1 357.7 L839.4 361.0 L839.6 356.0 L839.9 358.5 L840.2 358.2 L840.4 358.2 L840.7 356.7 L841.0 358.4 L841.3 357.6 L841.5 356.8 L841.8 359.1 L842.1 358.9 L842.3 358.7 L842.6 355.4 L842.9 354.3 L843.2 352.0 L843.4 353.9 L843.7 352.5 L844.0 350.1 L844.2 348.4 L844.5 348.4 L844.8 347.1 L845.1 346.8 L845.3 345.0 L845.6 345.6 L845.9 345.2 L846.2 342.7 L846.4 343.7 L846.7 342.9 L847.0 341.1 L847.2 342.4 L847.5 343.2 L847.8 343.7 L848.1 341.1 L848.3 341.3 L848.6 342.8 L848.9 343.4 L849.1 342.5 L849.4 344.9 L849.7 343.9 L850.0 346.3 L850.2 347.6 L850.5 346.7 L850.8 344.8 L851.0 345.8 L851.3 346.5 L851.6 347.6 L851.9 349.0 L852.1 348.5 L852.4 351.0 L852.7 350.8 L852.9 351.3 L853.2 351.0 L853.5 352.7 L853.8 352.4 L854.0 351.5 L854.3 349.3 L854.6 349.8 L854.8 349.0 L855.1 347.5 L855.4 346.9 L855.7 345.6 L855.9 346.1 L856.2 343.8 L856.5 344.2 L856.7 343.4 L857.0 346.9 L857.3 343.3 L857.6 343.0 L857.8 339.9 L858.1 341.3 L858.4 339.7 L858.7 340.9 L858.9 339.0 L859.2 338.6 L859.5 341.0 L859.7 340.8 L860.0 339.2 L860.3 340.9 L860.6 339.8 L860.8 342.4 L861.1 342.1 L861.4 342.4 L861.6 341.2 L861.9 344.5 L862.2 342.5 L862.5 344.1 L862.7 343.8 L863.0 344.1 L863.3 343.9 L863.5 346.4 L863.8 346.6 L864.1 344.2 L864.4 347.0 L864.6 345.1 L864.9 344.8 L865.2 345.1 L865.4 347.0 L865.7 344.3 L866.0 343.5 L866.3 344.6 L866.5 345.0 L866.8 346.4 L867.1 343.7 L867.3 342.0 L867.6 341.4 L867.9 341.5 L868.2 342.6 L868.4 342.4 L868.7 340.6 L869.0 340.0 L869.2 336.5 L869.5 341.2 L869.8 340.5 L870.1 336.2 L870.3 337.9 L870.6 337.2 L870.9 338.5 L871.2 336.2 L871.4 338.0 L871.7 339.4 L872.0 338.1 L872.2 337.0 L872.5 336.3 L872.8 338.9 L873.1 341.1 L873.3 341.3 L873.6 339.3 L873.9 340.8 L874.1 339.3 L874.4 340.3 L874.7 343.0 L875.0 343.0 L875.2 343.1 L875.5 343.5 L875.8 346.0 L876.0 347.2 L876.3 347.3 L876.6 348.0 L876.9 350.4 L877.1 351.5 L877.4 350.6 L877.7 353.6 L877.9 352.9 L878.2 353.3 L878.5 355.9 L878.8 354.9 L879.0 357.2 L879.3 360.2 L879.6 359.8 L879.8 358.1 L880.1 356.8 L880.4 359.5 L880.7 358.6 L880.9 360.1 L881.2 358.3 L881.5 360.1 L881.7 356.8 L882.0 358.7 L882.3 360.1 L882.6 358.1 L882.8 358.3 L883.1 356.0 L883.4 355.2 L883.7 353.4 L883.9 356.4 L884.2 352.5 L884.5 351.1 L884.7 352.4 L885.0 354.9 L885.3 353.4 L885.6 354.4 L885.8 351.9 L886.1 352.4 L886.4 352.6 L886.6 352.4 L886.9 353.0 L887.2 353.3 L887.5 355.7 L887.7 353.9 L888.0 351.0 L888.3 349.5 L888.5 348.3 L888.8 349.9 L889.1 348.8 L889.4 349.1 L889.6 347.8 L889.9 351.8 L890.2 350.3 L890.4 352.3 L890.7 351.4 L891.0 356.2 L891.3 351.4 L891.5 354.6 L891.8 355.1 L892.1 352.8 L892.3 354.1 L892.6 352.6 L892.9 353.6 L893.2 352.0 L893.4 354.7 L893.7 350.1 L894.0 354.2 L894.2 352.9 L894.5 354.0 L894.8 355.7 L895.1 354.2 L895.3 354.5 L895.6 356.5 L895.9 354.3 L896.2 356.2 L896.4 358.1 L896.7 357.2 L897.0 361.1 L897.2 358.0 L897.5 360.8 L897.8 361.0 L898.1 359.2 L898.3 363.1 L898.6 359.6 L898.9 363.3 L899.1 363.7 L899.4 361.5 L899.7 361.9 L900.0 361.6 L900.2 360.0 L900.5 360.2 L900.8 361.5 L901.0 361.9 L901.3 362.9 L901.6 360.9 L901.9 360.0 L902.1 361.4 L902.4 361.3 L902.7 359.5 L902.9 360.3 L903.2 358.1 L903.5 358.2 L903.8 354.8 L904.0 356.1 L904.3 360.2 L904.6 357.6 L904.8 356.8 L905.1 359.0 L905.4 360.4 L905.7 357.3 L905.9 355.7 L906.2 354.6 L906.5 356.2 L906.7 355.5 L907.0 353.2 L907.3 351.9 L907.6 352.6 L907.8 353.4 L908.1 351.5 L908.4 350.1 L908.7 350.2 L908.9 349.1 L909.2 351.0 L909.5 351.0 L909.7 349.1 L910.0 350.0 L910.3 352.3 L910.6 349.8 L910.8 351.8 L911.1 348.4 L911.4 347.5 L911.6 350.7 L911.9 351.5 L912.2 351.7 L912.5 351.4 L912.7 353.3 L913.0 350.8 L913.3 351.2 L913.5 352.4 L913.8 353.7 L914.1 353.2 L914.4 355.3 L914.6 356.1 L914.9 353.5 L915.2 355.1 L915.4 356.1 L915.7 357.8 L916.0 356.5 L916.3 360.3 L916.5 358.2 L916.8 361.7 L917.1 361.0 L917.3 361.7 L917.6 363.7 L917.9 362.0 L918.2 365.0 L918.4 365.0 L918.7 362.5 L919.0 364.9 L919.2 362.1 L919.5 362.3 L919.8 359.9 L920.1 359.7 L920.3 360.7 L920.6 359.4 L920.9 357.3 L921.1 357.7 L921.4 354.5 L921.7 355.3 L922.0 351.6 L922.2 352.0 L922.5 348.4 L922.8 349.0 L923.1 346.3 L923.3 346.9 L923.6 347.5 L923.9 344.3 L924.1 345.7 L924.4 344.8 L924.7 342.2 L925.0 341.8 L925.2 343.1 L925.5 343.1 L925.8 339.3 L926.0 340.2 L926.3 338.8 L926.6 342.2 L926.9 343.6 L927.1 342.0 L927.6 347.0 L927.6 484.8 L927.1 407.4 L926.9 404.5 L926.6 405.2 L926.3 404.3 L926.0 406.2 L925.8 408.0 L925.5 406.5 L925.2 405.4 L925.0 403.8 L924.7 407.0 L924.4 408.6 L924.1 407.8 L923.9 408.2 L923.6 408.5 L923.3 412.6 L923.1 412.6 L922.8 412.9 L922.5 414.1 L922.2 415.9 L922.0 418.0 L921.7 418.6 L921.4 420.2 L921.1 423.0 L920.9 423.0 L920.6 424.9 L920.3 425.5 L920.1 429.5 L919.8 430.4 L919.5 431.6 L919.2 432.2 L919.0 436.5 L918.7 433.9 L918.4 434.3 L918.2 433.7 L917.9 433.3 L917.6 433.0 L917.3 432.6 L917.1 430.0 L916.8 428.4 L916.5 428.4 L916.3 428.0 L916.0 426.6 L915.7 424.4 L915.4 425.5 L915.2 424.5 L914.9 425.3 L914.6 425.6 L914.4 425.1 L914.1 423.3 L913.8 420.8 L913.5 419.9 L913.3 417.8 L913.0 417.7 L912.7 418.9 L912.5 416.8 L912.2 419.3 L911.9 419.1 L911.6 418.8 L911.4 417.5 L911.1 415.6 L910.8 418.8 L910.6 421.0 L910.3 418.0 L910.0 418.7 L909.7 420.5 L909.5 420.0 L909.2 417.6 L908.9 419.0 L908.7 418.7 L908.4 419.8 L908.1 421.3 L907.8 420.4 L907.6 421.1 L907.3 422.5 L907.0 423.7 L906.7 421.0 L906.5 421.6 L906.2 426.6 L905.9 424.0 L905.7 426.2 L905.4 426.7 L905.1 425.1 L904.8 425.4 L904.6 426.9 L904.3 426.4 L904.0 425.8 L903.8 426.4 L903.5 426.3 L903.2 425.4 L902.9 428.1 L902.7 429.6 L902.4 426.3 L902.1 427.6 L901.9 430.0 L901.6 430.5 L901.3 430.5 L901.0 432.3 L900.8 430.0 L900.5 428.9 L900.2 429.2 L900.0 430.9 L899.7 429.2 L899.4 431.9 L899.1 426.5 L898.9 428.7 L898.6 426.2 L898.3 425.8 L898.1 425.9 L897.8 427.8 L897.5 424.8 L897.2 425.0 L897.0 426.6 L896.7 426.8 L896.4 421.5 L896.2 420.4 L895.9 422.8 L895.6 422.4 L895.3 421.5 L895.1 419.6 L894.8 423.5 L894.5 422.2 L894.2 419.0 L894.0 423.1 L893.7 419.6 L893.4 420.6 L893.2 418.4 L892.9 420.8 L892.6 419.7 L892.3 420.1 L892.1 419.2 L891.8 418.8 L891.5 419.8 L891.3 418.6 L891.0 417.6 L890.7 418.8 L890.4 417.0 L890.2 418.0 L889.9 419.4 L889.6 415.8 L889.4 414.7 L889.1 421.4 L888.8 417.0 L888.5 420.3 L888.3 418.7 L888.0 420.0 L887.7 419.4 L887.5 419.9 L887.2 420.7 L886.9 420.3 L886.6 421.7 L886.4 421.5 L886.1 421.4 L885.8 422.2 L885.6 425.3 L885.3 425.3 L885.0 426.4 L884.7 427.9 L884.5 426.3 L884.2 426.3 L883.9 425.9 L883.7 430.2 L883.4 426.6 L883.1 425.7 L882.8 427.2 L882.6 430.2 L882.3 429.1 L882.0 429.6 L881.7 432.2 L881.5 432.0 L881.2 429.9 L880.9 428.3 L880.7 431.5 L880.4 432.7 L880.1 431.0 L879.8 431.0 L879.6 430.2 L879.3 428.9 L879.0 429.8 L878.8 428.6 L878.5 427.6 L878.2 428.2 L877.9 422.5 L877.7 424.1 L877.4 425.3 L877.1 421.3 L876.9 422.4 L876.6 419.8 L876.3 416.6 L876.0 416.7 L875.8 416.9 L875.5 412.7 L875.2 411.9 L875.0 411.2 L874.7 408.6 L874.4 408.2 L874.1 409.7 L873.9 406.8 L873.6 409.0 L873.3 408.5 L873.1 408.2 L872.8 408.1 L872.5 408.9 L872.2 407.7 L872.0 404.7 L871.7 409.1 L871.4 407.5 L871.2 408.9 L870.9 407.1 L870.6 407.7 L870.3 408.2 L870.1 407.7 L869.8 408.4 L869.5 411.5 L869.2 409.2 L869.0 408.6 L868.7 407.1 L868.4 410.8 L868.2 409.0 L867.9 407.4 L867.6 408.4 L867.3 409.2 L867.1 409.6 L866.8 408.5 L866.5 407.0 L866.3 412.1 L866.0 411.8 L865.7 410.6 L865.4 408.4 L865.2 409.9 L864.9 410.5 L864.6 410.0 L864.4 412.2 L864.1 411.1 L863.8 409.5 L863.5 413.8 L863.3 411.6 L863.0 408.8 L862.7 413.1 L862.5 413.6 L862.2 413.2 L861.9 411.3 L861.6 408.0 L861.4 409.1 L861.1 406.3 L860.8 406.5 L860.6 408.7 L860.3 409.0 L860.0 407.8 L859.7 408.7 L859.5 407.8 L859.2 408.0 L858.9 407.3 L858.7 408.4 L858.4 409.8 L858.1 409.5 L857.8 406.1 L857.6 410.5 L857.3 411.9 L857.0 408.4 L856.7 409.3 L856.5 410.5 L856.2 412.1 L855.9 412.0 L855.7 411.8 L855.4 409.3 L855.1 415.1 L854.8 413.3 L854.6 415.7 L854.3 417.2 L854.0 419.0 L853.8 418.4 L853.5 419.0 L853.2 420.4 L852.9 420.5 L852.7 420.1 L852.4 417.4 L852.1 420.0 L851.9 417.0 L851.6 417.2 L851.3 419.6 L851.0 415.8 L850.8 415.6 L850.5 414.8 L850.2 414.5 L850.0 414.7 L849.7 412.5 L849.4 412.3 L849.1 412.2 L848.9 410.9 L848.6 406.2 L848.3 410.1 L848.1 405.7 L847.8 407.9 L847.5 406.2 L847.2 408.4 L847.0 408.5 L846.7 407.5 L846.4 408.5 L846.2 409.5 L845.9 409.1 L845.6 409.1 L845.3 411.6 L845.1 410.8 L844.8 411.4 L844.5 415.8 L844.2 414.8 L844.0 415.5 L843.7 419.5 L843.4 418.5 L843.2 423.1 L842.9 422.0 L842.6 423.0 L842.3 425.1 L842.1 425.8 L841.8 424.8 L841.5 429.6 L841.3 427.2 L841.0 428.1 L840.7 429.5 L840.4 427.6 L840.2 428.1 L839.9 428.1 L839.6 428.2 L839.4 427.6 L839.1 425.1 L838.8 424.5 L838.5 423.2 L838.3 424.5 L838.0 424.0 L837.7 419.5 L837.5 419.6 L837.2 420.7 L836.9 417.6 L836.6 418.1 L836.4 419.1 L836.1 416.7 L835.8 413.7 L835.6 413.7 L835.3 413.6 L835.0 413.2 L834.7 410.8 L834.5 409.6 L834.2 406.0 L833.9 406.9 L833.7 405.7 L833.4 404.7 L833.1 403.1 L832.8 400.6 L832.6 401.2 L832.3 401.8 L832.0 400.1 L831.8 402.6 L831.5 399.7 L831.2 400.1 L830.9 397.5 L830.7 397.2 L830.4 398.4 L830.1 396.7 L829.8 396.7 L829.6 396.6 L829.3 397.4 L829.0 395.8 L828.8 397.6 L828.5 396.3 L828.2 396.5 L827.9 395.6 L827.7 396.8 L827.4 396.1 L827.1 392.4 L826.9 393.1 L826.6 395.1 L826.3 394.0 L826.0 395.6 L825.8 395.1 L825.5 395.0 L825.2 395.5 L825.0 395.1 L824.7 397.0 L824.4 399.2 L824.1 397.5 L823.9 400.0 L823.6 402.8 L823.3 403.8 L823.1 403.7 L822.8 404.2 L822.5 405.6 L822.2 406.3 L822.0 407.7 L821.7 408.8 L821.4 407.1 L821.2 410.7 L820.9 413.0 L820.6 413.5 L820.3 412.2 L820.1 418.0 L819.8 419.4 L819.5 419.5 L819.3 416.8 L819.0 419.2 L818.7 419.1 L818.4 419.5 L818.2 419.8 L817.9 417.6 L817.6 416.8 L817.3 417.8 L817.1 414.6 L816.8 416.4 L816.5 414.9 L816.3 413.1 L816.0 412.5 L815.7 412.9 L815.4 412.5 L815.2 411.5 L814.9 411.7 L814.6 411.9 L814.4 412.2 L814.1 410.0 L813.8 409.4 L813.5 408.7 L813.3 406.1 L813.0 409.4 L812.7 410.3 L812.5 408.5 L812.2 411.2 L811.9 409.6 L811.6 407.0 L811.4 407.2 L811.1 408.3 L810.8 410.8 L810.6 408.1 L810.3 407.2 L810.0 409.2 L809.7 411.0 L809.5 410.0 L809.2 410.9 L808.9 410.9 L808.7 411.5 L808.4 409.9 L808.1 413.1 L807.8 412.6 L807.6 414.2 L807.3 414.7 L807.0 413.0 L806.8 413.6 L806.5 413.8 L806.2 413.6 L805.9 412.5 L805.7 412.6 L805.4 413.7 L805.1 413.0 L804.8 411.0 L804.6 411.9 L804.3 411.7 L804.0 408.7 L803.8 414.5 L803.5 411.5 L803.2 412.6 L802.9 411.9 L802.7 413.3 L802.4 410.4 L802.1 413.0 L801.9 411.7 L801.6 414.1 L801.3 412.3 L801.0 414.6 L800.8 411.4 L800.5 414.0 L800.2 413.0 L800.0 411.6 L799.7 415.1 L799.4 412.6 L799.1 413.1 L798.9 416.2 L798.6 412.6 L798.3 414.8 L798.1 413.4 L797.8 413.1 L797.5 414.3 L797.2 412.4 L797.0 412.7 L796.7 410.0 L796.4 411.9 L796.2 410.0 L795.9 412.1 L795.6 408.0 L795.3 410.0 L795.1 410.6 L794.8 410.5 L794.5 410.6 L794.3 410.9 L794.0 408.7 L793.7 410.2 L793.4 410.6 L793.2 409.6 L792.9 407.7 L792.6 407.7 L792.3 410.8 L792.1 410.8 L791.8 408.5 L791.5 407.1 L791.3 410.1 L791.0 407.4 L790.7 407.5 L790.4 405.7 L790.2 407.0 L789.9 406.7 L789.6 408.5 L789.4 408.1 L789.1 407.2 L788.8 406.8 L788.5 407.5 L788.3 408.5 L788.0 409.9 L787.7 410.9 L787.5 412.4 L787.2 409.8 L786.9 412.3 L786.6 410.7 L786.4 411.1 L786.1 412.1 L785.8 412.3 L785.6 412.4 L785.3 411.2 L785.0 412.5 L784.7 414.8 L784.5 413.0 L784.2 415.4 L783.9 416.6 L783.7 417.9 L783.4 416.3 L783.1 417.5 L782.8 417.9 L782.6 415.2 L782.3 414.3 L782.0 416.4 L781.8 419.9 L781.5 420.3 L781.2 414.9 L780.9 417.3 L780.7 416.8 L780.4 415.3 L780.1 413.5 L779.8 415.3 L779.6 415.2 L779.3 413.3 L779.0 413.1 L778.8 410.8 L778.5 412.3 L778.2 409.5 L777.9 408.4 L777.7 408.3 L777.4 407.5 L777.1 406.1 L776.9 401.9 L776.6 401.1 L776.3 403.3 L776.0 400.4 L775.8 399.2 L775.5 399.6 L775.2 399.7 L775.0 397.3 L774.7 397.4 L774.4 395.8 L774.1 397.5 L773.9 395.3 L773.6 396.5 L773.3 396.5 L773.1 398.2 L772.8 398.7 L772.5 396.1 L772.2 395.3 L772.0 398.0 L771.7 396.9 L771.4 396.5 L771.2 399.4 L770.9 399.4 L770.6 398.9 L770.3 399.1 L770.1 398.1 L769.8 402.1 L769.5 400.0 L769.3 398.9 L769.0 400.0 L768.7 403.4 L768.4 399.2 L768.2 400.7 L767.9 402.0 L767.6 400.2 L767.3 403.1 L767.1 402.2 L766.8 403.5 L766.5 405.9 L766.3 403.7 L766.0 404.2 L765.7 401.4 L765.4 402.3 L765.2 400.9 L764.9 402.1 L764.6 399.3 L764.4 401.4 L764.1 403.7 L763.8 403.1 L763.5 401.9 L763.3 401.6 L763.0 402.2 L762.7 401.5 L762.5 402.0 L762.2 403.3 L761.9 400.8 L761.6 401.4 L761.4 398.4 L761.1 400.2 L760.8 397.8 L760.6 398.6 L760.3 401.9 L760.0 397.9 L759.7 398.6 L759.5 397.9 L759.2 396.7 L758.9 398.6 L758.7 397.9 L758.4 398.3 L758.1 396.9 L757.8 397.8 L757.6 398.0 L757.3 395.9 L757.0 397.8 L756.8 396.3 L756.5 397.6 L756.2 397.6 L755.9 400.4 L755.7 400.2 L755.4 399.0 L755.1 403.5 L754.9 403.1 L754.6 404.9 L754.3 403.3 L754.0 404.6 L753.8 406.1 L753.5 404.7 L753.2 405.6 L752.9 404.4 L752.7 407.4 L752.4 407.7 L752.1 408.1 L751.9 407.8 L751.6 408.4 L751.3 405.3 L751.0 404.9 L750.8 406.3 L750.5 404.1 L750.2 400.6 L750.0 403.3 L749.7 401.9 L749.4 402.1 L749.1 399.5 L748.9 398.9 L748.6 397.5 L748.3 399.6 L748.1 398.3 L747.8 397.0 L747.5 396.0 L747.2 397.3 L747.0 401.3 L746.7 398.4 L746.4 400.9 L746.2 400.5 L745.9 404.8 L745.6 402.5 L745.3 403.8 L745.1 403.8 L744.8 405.0 L744.5 407.4 L744.3 406.4 L744.0 407.7 L743.7 407.1 L743.4 406.7 L743.2 408.8 L742.9 409.2 L742.6 409.9 L742.4 409.5 L742.1 411.5 L741.8 413.7 L741.5 411.2 L741.3 410.5 L741.0 412.6 L740.7 409.1 L740.4 411.9 L740.2 408.6 L739.9 408.1 L739.6 406.1 L739.4 408.0 L739.1 406.7 L738.8 408.1 L738.5 405.0 L738.3 403.7 L738.0 403.8 L737.7 399.9 L737.5 401.9 L737.2 398.3 L736.9 395.3 L736.6 395.2 L736.4 396.5 L736.1 396.1 L735.8 395.5 L735.6 393.0 L735.3 391.3 L735.0 392.3 L734.7 391.2 L734.5 390.3 L734.2 388.4 L733.9 388.7 L733.7 390.7 L733.4 388.3 L733.1 387.1 L732.8 387.7 L732.6 384.6 L732.3 387.0 L732.0 386.9 L731.8 387.2 L731.5 388.1 L731.2 389.2 L730.9 388.3 L730.7 388.0 L730.4 388.2 L730.1 384.3 L729.9 386.5 L729.6 385.8 L729.3 384.5 L729.0 385.0 L728.8 384.1 L728.5 383.8 L728.2 385.5 L727.9 384.0 L727.7 386.5 L727.4 385.2 L727.1 384.3 L726.9 384.1 L726.6 386.4 L726.3 384.6 L726.0 385.6 L725.8 383.6 L725.5 384.5 L725.2 388.2 L725.0 389.7 L724.7 390.8 L724.4 389.6 L724.1 392.2 L723.9 392.7 L723.6 394.4 L723.3 394.9 L723.1 396.3 L722.8 397.5 L722.5 398.2 L722.2 399.6 L722.0 403.1 L721.7 404.1 L721.4 403.8 L721.2 407.1 L720.9 406.3 L720.6 410.3 L720.3 409.0 L720.1 408.6 L719.8 406.7 L719.5 405.4 L719.3 407.9 L719.0 407.5 L718.7 407.4 L718.4 406.0 L718.2 406.5 L717.9 404.2 L717.6 408.3 L717.4 403.1 L717.1 401.2 L716.8 404.8 L716.5 402.6 L716.3 400.5 L716.0 399.0 L715.7 398.1 L715.4 398.3 L715.2 399.3 L714.9 399.2 L714.6 399.9 L714.4 397.0 L714.1 398.9 L713.8 396.6 L713.5 397.2 L713.3 396.5 L713.0 394.8 L712.7 394.3 L712.5 395.8 L712.2 395.3 L711.9 395.7 L711.6 395.1 L711.4 395.2 L711.1 393.5 L710.8 393.1 L710.6 395.0 L710.3 395.9 L710.0 393.7 L709.7 394.4 L709.5 396.8 L709.2 397.3 L708.9 392.8 L708.7 393.8 L708.4 393.9 L708.1 393.1 L707.8 393.6 L707.6 392.6 L707.3 391.4 L707.0 391.6 L706.8 394.0 L706.5 395.3 L706.2 393.1 L705.9 394.7 L705.7 394.3 L705.4 396.4 L705.1 395.6 L704.9 394.8 L704.6 397.0 L704.3 393.8 L704.0 398.3 L703.8 399.6 L703.5 398.7 L703.2 392.9 L702.9 396.3 L702.7 393.9 L702.4 394.9 L702.1 396.7 L701.9 399.7 L701.6 398.2 L701.3 399.4 L701.0 400.0 L700.8 396.7 L700.5 398.4 L700.2 397.3 L700.0 398.2 L699.7 398.2 L699.4 399.1 L699.1 399.2 L698.9 399.0 L698.6 398.7 L698.3 395.4 L698.1 397.5 L697.8 397.3 L697.5 396.5 L697.2 394.5 L697.0 395.0 L696.7 395.4 L696.4 394.4 L696.2 391.7 L695.9 392.4 L695.6 393.8 L695.3 394.3 L695.1 392.9 L694.8 389.3 L694.5 392.0 L694.3 392.7 L694.0 388.2 L693.7 391.2 L693.4 392.9 L693.2 389.4 L692.9 388.5 L692.6 388.3 L692.4 387.9 L692.1 387.8 L691.8 385.6 L691.5 385.7 L691.3 384.5 L691.0 385.4 L690.7 384.4 L690.4 385.5 L690.2 380.2 L689.9 385.9 L689.6 385.9 L689.4 384.8 L689.1 384.8 L688.8 387.4 L688.5 385.5 L688.3 384.4 L688.0 386.9 L687.7 385.8 L687.5 384.1 L687.2 386.6 L686.9 385.9 L686.6 387.4 L686.4 387.1 L686.1 390.1 L685.8 386.3 L685.6 387.8 L685.3 390.9 L685.0 390.6 L684.7 390.1 L684.5 387.6 L684.2 392.6 L683.9 391.7 L683.7 390.7 L683.4 389.6 L683.1 391.3 L682.8 389.5 L682.6 392.0 L682.3 389.9 L682.0 387.4 L681.8 389.1 L681.5 388.0 L681.2 386.4 L680.9 388.2 L680.7 387.0 L680.4 385.7 L680.1 383.6 L679.9 386.8 L679.6 384.7 L679.3 385.8 L679.0 382.4 L678.8 382.8 L678.5 378.8 L678.2 380.6 L677.9 379.4 L677.7 377.5 L677.4 374.8 L677.1 373.5 L676.9 373.4 L676.6 372.2 L676.3 370.1 L676.0 372.2 L675.8 369.0 L675.5 366.4 L675.2 367.6 L675.0 365.9 L674.7 364.0 L674.4 366.1 L674.1 365.6 L673.9 364.2 L673.6 365.0 L673.3 365.1 L673.1 366.2 L672.8 365.6 L672.5 364.8 L672.2 365.1 L672.0 364.9 L671.7 363.9 L671.4 364.1 L671.2 364.5 L670.9 363.9 L670.6 362.7 L670.3 364.5 L670.1 366.2 L669.8 367.4 L669.5 365.5 L669.3 364.3 L669.0 365.3 L668.7 364.1 L668.4 366.6 L668.2 365.1 L667.9 367.7 L667.6 368.2 L667.4 365.9 L667.1 370.4 L666.8 367.0 L666.5 367.7 L666.3 365.9 L666.0 368.9 L665.7 367.6 L665.5 365.6 L665.2 367.9 L664.9 367.8 L664.6 365.4 L664.4 369.4 L664.1 368.0 L663.8 365.6 L663.5 366.8 L663.3 367.0 L663.0 366.9 L662.7 367.4 L662.5 366.0 L662.2 365.2 L661.9 365.8 L661.6 366.0 L661.4 367.5 L661.1 365.4 L660.8 363.4 L660.6 362.0 L660.3 361.3 L660.0 361.0 L659.7 361.1 L659.5 362.0 L659.2 361.6 L658.9 360.9 L658.7 361.4 L658.4 361.5 L658.1 361.3 L657.8 360.6 L657.6 362.4 L657.3 363.9 L657.0 361.7 L656.8 361.9 L656.5 364.5 L656.2 365.6 L655.9 364.8 L655.7 365.4 L655.4 366.4 L655.1 365.8 L654.9 365.6 L654.6 367.7 L654.3 370.0 L654.0 369.4 L653.8 370.3 L653.5 370.8 L653.2 368.1 L653.0 372.1 L652.7 370.5 L652.4 370.0 L652.1 368.3 L651.9 364.7 L651.6 363.0 L651.3 365.3 L651.0 360.7 L650.8 362.4 L650.5 362.5 L650.2 362.4 L650.0 361.8 L649.7 360.3 L649.4 360.4 L649.1 361.5 L648.9 360.3 L648.6 357.8 L648.3 359.7 L648.1 358.4 L647.8 359.2 L647.5 360.3 L647.2 359.4 L647.0 359.6 L646.7 358.5 L646.4 361.0 L646.2 359.3 L645.9 360.4 L645.6 361.9 L645.3 364.9 L645.1 364.5 L644.8 368.4 L644.5 364.7 L644.3 366.1 L644.0 366.7 L643.7 365.7 L643.4 367.9 L643.2 367.5 L642.9 370.8 L642.6 370.8 L642.4 369.4 L642.1 373.2 L641.8 370.4 L641.5 371.1 L641.3 369.3 L641.0 369.2 L640.7 366.8 L640.5 365.6 L640.2 363.6 L639.9 361.1 L639.6 362.1 L639.4 358.0 L639.1 360.1 L638.8 357.6 L638.5 358.6 L638.3 356.7 L638.0 354.0 L637.7 356.2 L637.5 350.8 L637.2 353.3 L636.9 354.6 L636.6 351.8 L636.4 352.8 L636.1 354.4 L635.8 348.5 L635.6 351.4 L635.3 349.7 L635.0 348.7 L634.7 349.1 L634.5 349.4 L634.2 347.3 L633.9 344.9 L633.7 345.9 L633.4 345.2 L633.1 344.0 L632.8 346.8 L632.6 344.4 L632.3 342.5 L632.0 341.5 L631.8 344.2 L631.5 341.5 L631.2 342.2 L630.9 341.5 L630.7 342.0 L630.4 339.2 L630.1 341.9 L629.9 343.0 L629.6 338.4 L629.3 342.8 L629.0 339.4 L628.8 338.9 L628.5 339.4 L628.2 340.8 L628.0 338.4 L627.7 341.6 L627.4 338.3 L627.1 340.4 L626.9 340.7 L626.6 341.1 L626.3 342.9 L626.0 344.1 L625.8 342.3 L625.5 348.1 L625.2 346.5 L625.0 347.9 L624.7 349.3 L624.4 349.8 L624.1 351.2 L623.9 354.8 L623.6 355.3 L623.3 355.3 L623.1 356.3 L622.8 361.7 L622.5 360.4 L622.2 361.8 L622.0 363.7 L621.7 362.8 L621.4 363.5 L621.2 364.6 L620.9 368.3 L620.6 366.2 L620.3 365.6 L620.1 365.2 L619.8 363.9 L619.5 366.7 L619.3 364.2 L619.0 364.3 L618.7 360.9 L618.4 362.0 L618.2 359.3 L617.9 359.3 L617.6 360.3 L617.4 355.1 L617.1 357.4 L616.8 356.9 L616.5 352.0 L616.3 350.9 L616.0 353.0 L615.7 351.4 L615.5 347.8 L615.2 352.0 L614.9 348.7 L614.6 351.0 L614.4 349.4 L614.1 346.2 L613.8 349.2 L613.5 347.4 L613.3 348.2 L613.0 349.1 L612.7 349.9 L612.5 350.5 L612.2 347.9 L611.9 349.6 L611.6 347.9 L611.4 347.8 L611.1 351.5 L610.8 351.0 L610.6 350.8 L610.3 350.9 L610.0 351.5 L609.7 353.1 L609.5 352.4 L609.2 354.1 L608.9 354.2 L608.7 354.5 L608.4 357.8 L608.1 356.8 L607.8 356.5 L607.6 355.3 L607.3 357.2 L607.0 358.1 L606.8 362.2 L606.5 358.5 L606.2 357.8 L605.9 362.3 L605.7 361.0 L605.4 362.3 L605.1 364.8 L604.9 364.7 L604.6 364.4 L604.3 367.4 L604.0 367.0 L603.8 366.5 L603.5 367.0 L603.2 365.4 L603.0 368.5 L602.7 368.7 L602.4 369.2 L602.1 371.1 L601.9 370.3 L601.6 369.7 L601.3 369.0 L601.0 368.5 L600.8 371.4 L600.5 370.9 L600.2 372.4 L600.0 369.3 L599.7 370.8 L599.4 369.0 L599.1 367.1 L598.9 367.2 L598.6 367.0 L598.3 367.1 L598.1 366.2 L597.8 364.6 L597.5 362.6 L597.2 363.9 L597.0 362.2 L596.7 366.0 L596.4 364.2 L596.2 365.2 L595.9 366.7 L595.6 365.8 L595.3 366.9 L595.1 365.0 L594.8 369.9 L594.5 365.4 L594.3 365.4 L594.0 367.2 L593.7 365.6 L593.4 363.2 L593.2 364.7 L592.9 366.3 L592.6 367.3 L592.4 366.3 L592.1 363.5 L591.8 366.1 L591.5 367.1 L591.3 367.2 L591.0 367.3 L590.7 367.8 L590.5 368.2 L590.2 367.2 L589.9 368.1 L589.6 372.1 L589.4 371.6 L589.1 370.1 L588.8 373.1 L588.6 370.7 L588.3 371.1 L588.0 370.9 L587.7 372.5 L587.5 373.8 L587.2 372.2 L586.9 372.2 L586.6 371.9 L586.4 373.4 L586.1 369.9 L585.8 372.8 L585.6 373.6 L585.3 374.6 L585.0 373.7 L584.7 375.6 L584.5 379.1 L584.2 377.8 L583.9 379.6 L583.7 375.2 L583.4 380.9 L583.1 377.8 L582.8 380.0 L582.6 380.1 L582.3 377.3 L582.0 377.7 L581.8 376.8 L581.5 377.0 L581.2 374.6 L580.9 379.3 L580.7 376.1 L580.4 377.9 L580.1 377.7 L579.9 374.8 L579.6 371.9 L579.3 373.6 L579.0 372.5 L578.8 371.5 L578.5 373.9 L578.2 372.8 L578.0 373.3 L577.7 372.4 L577.4 370.9 L577.1 370.1 L576.9 369.4 L576.6 368.9 L576.3 368.9 L576.1 367.8 L575.8 367.3 L575.5 366.8 L575.2 368.2 L575.0 365.7 L574.7 364.8 L574.4 364.5 L574.1 365.1 L573.9 364.8 L573.6 365.2 L573.3 367.0 L573.1 367.6 L572.8 369.6 L572.5 365.6 L572.2 366.9 L572.0 367.9 L571.7 364.1 L571.4 367.8 L571.2 369.4 L570.9 368.8 L570.6 370.2 L570.3 367.0 L570.1 368.2 L569.8 368.6 L569.5 369.1 L569.3 368.8 L569.0 368.4 L568.7 372.5 L568.4 369.6 L568.2 374.5 L567.9 371.6 L567.6 371.9 L567.4 373.4 L567.1 373.2 L566.8 373.4 L566.5 373.4 L566.3 373.5 L566.0 374.8 L565.7 373.6 L565.5 375.8 L565.2 373.7 L564.9 377.9 L564.6 378.5 L564.4 376.8 L564.1 377.3 L563.8 378.4 L563.6 375.6 L563.3 376.9 L563.0 375.3 L562.7 373.7 L562.5 375.7 L562.2 374.4 L561.9 375.6 L561.6 376.5 L561.4 375.9 L561.1 376.2 L560.8 373.1 L560.6 372.6 L560.3 374.4 L560.0 372.9 L559.7 375.0 L559.5 375.9 L559.2 375.7 L558.9 377.7 L558.7 378.6 L558.4 377.7 L558.1 376.8 L557.8 377.3 L557.6 378.6 L557.3 377.3 L557.0 379.4 L556.8 380.6 L556.5 378.8 L556.2 383.2 L555.9 382.0 L555.7 380.3 L555.4 384.6 L555.1 381.2 L554.9 384.6 L554.6 385.0 L554.3 386.0 L554.0 383.2 L553.8 385.0 L553.5 384.5 L553.2 384.6 L553.0 384.7 L552.7 381.2 L552.4 383.1 L552.1 377.9 L551.9 377.8 L551.6 379.9 L551.3 378.1 L551.1 377.2 L550.8 379.3 L550.5 377.7 L550.2 374.5 L550.0 373.5 L549.7 373.1 L549.4 373.0 L549.1 373.5 L548.9 372.9 L548.6 372.2 L548.3 372.0 L548.1 372.5 L547.8 372.6 L547.5 372.7 L547.2 376.7 L547.0 374.6 L546.7 374.3 L546.4 375.8 L546.2 376.4 L545.9 377.0 L545.6 378.4 L545.3 380.7 L545.1 381.4 L544.8 382.3 L544.5 380.3 L544.3 383.7 L544.0 383.3 L543.7 385.4 L543.4 383.3 L543.2 384.4 L542.9 386.3 L542.6 388.7 L542.4 386.5 L542.1 385.4 L541.8 386.8 L541.5 387.4 L541.3 383.6 L541.0 383.9 L540.7 381.6 L540.5 380.2 L540.2 381.1 L539.9 378.6 L539.6 379.8 L539.4 376.9 L539.1 377.3 L538.8 375.7 L538.6 372.8 L538.3 371.3 L538.0 373.2 L537.7 369.4 L537.5 368.3 L537.2 365.9 L536.9 366.0 L536.6 365.2 L536.4 364.4 L536.1 362.5 L535.8 360.0 L535.6 361.0 L535.3 358.9 L535.0 357.9 L534.7 358.8 L534.5 354.9 L534.2 358.2 L533.9 357.8 L533.7 356.8 L533.4 356.9 L533.1 354.3 L532.8 357.3 L532.6 356.4 L532.3 355.8 L532.0 353.9 L531.8 351.8 L531.5 355.3 L531.2 355.1 L530.9 354.2 L530.7 353.3 L530.4 350.6 L530.1 350.7 L529.9 345.4 L529.6 351.3 L529.3 349.0 L529.0 349.4 L528.8 347.6 L528.5 346.8 L528.2 348.6 L528.0 347.9 L527.7 349.4 L527.4 346.1 L527.1 347.9 L526.9 350.1 L526.6 351.9 L526.3 348.0 L526.1 352.0 L525.8 351.7 L525.5 353.2 L525.2 352.8 L525.0 355.7 L524.7 357.9 L524.4 359.1 L524.1 362.3 L523.9 363.2 L523.6 366.2 L523.3 367.1 L523.1 365.2 L522.8 365.3 L522.5 366.0 L522.2 368.2 L522.0 367.0 L521.7 369.4 L521.4 369.9 L521.2 368.5 L520.9 370.7 L520.6 367.8 L520.3 370.5 L520.1 367.7 L519.8 369.0 L519.5 367.5 L519.3 365.7 L519.0 365.8 L518.7 363.0 L518.4 362.0 L518.2 360.9 L517.9 359.2 L517.6 361.3 L517.4 358.8 L517.1 358.8 L516.8 353.1 L516.5 357.0 L516.3 354.6 L516.0 354.0 L515.7 353.6 L515.5 354.6 L515.2 352.0 L514.9 354.1 L514.6 352.8 L514.4 352.7 L514.1 353.8 L513.8 353.3 L513.6 354.3 L513.3 351.3 L513.0 347.7 L512.7 349.1 L512.5 351.6 L512.2 351.0 L511.9 349.1 L511.7 351.1 L511.4 353.1 L511.1 350.9 L510.8 354.0 L510.6 353.2 L510.3 351.0 L510.0 355.3 L509.7 354.3 L509.5 351.5 L509.2 354.6 L508.9 355.1 L508.7 354.3 L508.4 354.7 L508.1 355.2 L507.8 356.4 L507.6 357.4 L507.3 359.6 L507.0 358.6 L506.8 359.1 L506.5 356.4 L506.2 359.4 L505.9 361.4 L505.7 357.2 L505.4 356.8 L505.1 358.5 L504.9 357.9 L504.6 360.2 L504.3 357.4 L504.0 361.4 L503.8 359.9 L503.5 359.7 L503.2 363.0 L503.0 360.4 L502.7 361.3 L502.4 359.9 L502.1 359.4 L501.9 360.5 L501.6 359.1 L501.3 358.1 L501.1 359.0 L500.8 359.4 L500.5 359.7 L500.2 356.4 L500.0 355.9 L499.7 356.9 L499.4 355.0 L499.2 352.7 L498.9 353.2 L498.6 353.8 L498.3 349.2 L498.1 354.5 L497.8 352.0 L497.5 353.3 L497.2 350.6 L497.0 349.4 L496.7 348.3 L496.4 347.7 L496.2 349.8 L495.9 350.3 L495.6 352.9 L495.3 348.9 L495.1 350.7 L494.8 346.6 L494.5 345.8 L494.3 346.7 L494.0 346.2 L493.7 346.8 L493.4 344.2 L493.2 346.1 L492.9 344.6 L492.6 345.1 L492.4 344.4 L492.1 343.7 L491.8 344.8 L491.5 341.9 L491.3 343.5 L491.0 341.9 L490.7 344.9 L490.5 343.8 L490.2 343.2 L489.9 341.7 L489.6 342.9 L489.4 340.6 L489.1 341.2 L488.8 341.6 L488.6 341.4 L488.3 343.0 L488.0 342.6 L487.7 340.9 L487.5 342.6 L487.2 347.6 L486.9 343.0 L486.7 344.6 L486.4 344.8 L486.1 343.8 L485.8 343.3 L485.6 343.6 L485.3 347.7 L485.0 346.8 L484.7 345.8 L484.5 348.0 L484.2 346.8 L483.9 345.0 L483.7 347.6 L483.4 346.8 L483.1 346.6 L482.8 348.8 L482.6 345.5 L482.3 342.3 L482.0 343.3 L481.8 342.3 L481.5 341.3 L481.2 342.4 L480.9 338.5 L480.7 339.5 L480.4 339.3 L480.1 338.1 L479.9 336.4 L479.6 340.3 L479.3 337.0 L479.0 335.4 L478.8 334.7 L478.5 333.2 L478.2 337.7 L478.0 335.4 L477.7 334.2 L477.4 332.9 L477.1 331.5 L476.9 333.7 L476.6 331.2 L476.3 330.0 L476.1 330.7 L475.8 333.3 L475.5 330.1 L475.2 327.8 L475.0 326.3 L474.7 326.8 L474.4 327.0 L474.2 328.3 L473.9 325.4 L473.6 324.9 L473.3 327.1 L473.1 326.9 L472.8 330.1 L472.5 326.9 L472.2 328.4 L472.0 326.2 L471.7 326.4 L471.4 326.9 L471.2 325.9 L470.9 329.8 L470.6 326.4 L470.3 328.0 L470.1 329.0 L469.8 330.6 L469.5 328.3 L469.3 329.5 L469.0 329.0 L468.7 329.7 L468.4 329.5 L468.2 326.7 L467.9 327.7 L467.6 326.8 L467.4 326.4 L467.1 326.6 L466.8 325.9 L466.5 328.5 L466.3 326.1 L466.0 325.9 L465.7 324.6 L465.5 327.6 L465.2 325.6 L464.9 322.8 L464.6 324.5 L464.4 325.0 L464.1 321.6 L463.8 323.4 L463.6 321.9 L463.3 322.5 L463.0 326.2 L462.7 323.3 L462.5 322.6 L462.2 322.0 L461.9 321.1 L461.7 322.2 L461.4 321.8 L461.1 320.7 L460.8 323.4 L460.6 321.3 L460.3 320.6 L460.0 319.3 L459.7 321.9 L459.5 321.3 L459.2 320.3 L458.9 321.8 L458.7 321.9 L458.4 323.6 L458.1 323.0 L457.8 325.2 L457.6 325.1 L457.3 323.5 L457.0 326.1 L456.8 328.3 L456.5 325.8 L456.2 326.7 L455.9 329.7 L455.7 327.4 L455.4 328.3 L455.1 326.6 L454.9 330.4 L454.6 329.5 L454.3 328.3 L454.0 328.3 L453.8 332.1 L453.5 331.3 L453.2 328.0 L453.0 327.2 L452.7 327.7 L452.4 324.9 L452.1 326.1 L451.9 327.2 L451.6 324.7 L451.3 324.9 L451.1 325.5 L450.8 324.7 L450.5 322.4 L450.2 323.1 L450.0 326.9 L449.7 324.2 L449.4 327.7 L449.2 325.4 L448.9 326.3 L448.6 325.7 L448.3 325.2 L448.1 329.5 L447.8 327.1 L447.5 327.7 L447.2 329.3 L447.0 330.5 L446.7 329.4 L446.4 328.3 L446.2 332.4 L445.9 333.4 L445.6 330.9 L445.3 334.7 L445.1 338.3 L444.8 338.4 L444.5 338.6 L444.3 339.5 L444.0 339.9 L443.7 343.9 L443.4 343.2 L443.2 342.5 L442.9 345.2 L442.6 343.5 L442.4 343.0 L442.1 343.7 L441.8 341.2 L441.5 342.4 L441.3 339.1 L441.0 341.0 L440.7 339.5 L440.5 337.2 L440.2 335.7 L439.9 333.8 L439.6 333.4 L439.4 332.3 L439.1 330.6 L438.8 330.7 L438.6 329.9 L438.3 328.1 L438.0 328.1 L437.7 326.9 L437.5 326.5 L437.2 328.5 L436.9 327.3 L436.7 323.0 L436.4 324.4 L436.1 324.6 L435.8 324.3 L435.6 324.0 L435.3 323.2 L435.0 324.0 L434.8 326.7 L434.5 324.7 L434.2 326.4 L433.9 326.0 L433.7 325.3 L433.4 325.8 L433.1 325.2 L432.8 324.7 L432.6 325.8 L432.3 324.9 L432.0 327.5 L431.8 326.5 L431.5 326.9 L431.2 324.6 L430.9 325.4 L430.7 322.8 L430.4 324.0 L430.1 325.1 L429.9 324.4 L429.6 323.5 L429.3 325.7 L429.0 323.8 L428.8 327.4 L428.5 322.7 L428.2 323.7 L428.0 321.2 L427.7 324.8 L427.4 326.7 L427.1 326.7 L426.9 327.7 L426.6 325.5 L426.3 329.0 L426.1 328.8 L425.8 329.2 L425.5 330.5 L425.2 333.6 L425.0 334.8 L424.7 337.0 L424.4 340.3 L424.2 338.6 L423.9 341.7 L423.6 343.3 L423.3 343.4 L423.1 345.7 L422.8 347.2 L422.5 346.5 L422.3 349.7 L422.0 346.5 L421.7 348.7 L421.4 350.7 L421.2 350.7 L420.9 349.8 L420.6 348.2 L420.3 350.7 L420.1 348.0 L419.8 349.7 L419.5 344.0 L419.3 346.2 L419.0 344.6 L418.7 341.5 L418.4 343.1 L418.2 341.6 L417.9 340.0 L417.6 339.6 L417.4 338.4 L417.1 339.9 L416.8 340.3 L416.5 339.7 L416.3 341.4 L416.0 343.6 L415.7 340.6 L415.5 340.0 L415.2 342.8 L414.9 342.0 L414.6 343.3 L414.4 342.8 L414.1 344.8 L413.8 342.3 L413.6 342.0 L413.3 345.5 L413.0 348.6 L412.7 346.2 L412.5 349.2 L412.2 346.3 L411.9 347.5 L411.7 345.3 L411.4 345.4 L411.1 347.6 L410.8 345.7 L410.6 345.4 L410.3 348.7 L410.0 348.6 L409.8 349.5 L409.5 349.2 L409.2 348.6 L408.9 349.3 L408.7 352.2 L408.4 351.1 L408.1 350.5 L407.8 352.7 L407.6 351.3 L407.3 351.3 L407.0 354.9 L406.8 352.2 L406.5 353.5 L406.2 352.8 L405.9 352.9 L405.7 352.7 L405.4 354.6 L405.1 355.6 L404.9 355.4 L404.6 355.6 L404.3 356.6 L404.0 356.7 L403.8 359.4 L403.5 357.3 L403.2 357.2 L403.0 356.9 L402.7 354.0 L402.4 356.3 L402.1 354.6 L401.9 352.2 L401.6 351.5 L401.3 351.4 L401.1 348.3 L400.8 351.0 L400.5 352.5 L400.2 351.0 L400.0 349.4 L399.7 350.7 L399.4 351.7 L399.2 350.9 L398.9 348.7 L398.6 350.9 L398.3 350.3 L398.1 351.6 L397.8 348.6 L397.5 348.7 L397.3 349.8 L397.0 347.3 L396.7 349.2 L396.4 346.7 L396.2 346.4 L395.9 346.2 L395.6 342.9 L395.3 345.4 L395.1 342.5 L394.8 342.0 L394.5 342.8 L394.3 341.7 L394.0 341.7 L393.7 341.0 L393.4 340.7 L393.2 341.2 L392.9 338.3 L392.6 339.0 L392.4 341.9 L392.1 341.5 L391.8 343.9 L391.5 341.1 L391.3 340.8 L391.0 341.2 L390.7 341.6 L390.5 342.1 L390.2 343.2 L389.9 343.7 L389.6 345.3 L389.4 342.9 L389.1 341.9 L388.8 339.1 L388.6 341.0 L388.3 343.3 L388.0 344.0 L387.7 342.8 L387.5 343.1 L387.2 344.9 L386.9 342.8 L386.7 341.8 L386.4 344.0 L386.1 343.6 L385.8 341.5 L385.6 340.8 L385.3 342.3 L385.0 342.9 L384.8 344.0 L384.5 340.6 L384.2 343.8 L383.9 343.5 L383.7 343.4 L383.4 343.0 L383.1 342.6 L382.8 341.3 L382.6 341.3 L382.3 340.1 L382.0 341.1 L381.8 340.2 L381.5 340.7 L381.2 336.4 L380.9 336.7 L380.7 335.6 L380.4 335.2 L380.1 332.8 L379.9 331.8 L379.6 331.0 L379.3 330.7 L379.0 328.4 L378.8 328.4 L378.5 326.9 L378.2 328.0 L378.0 328.0 L377.7 325.4 L377.4 326.8 L377.1 324.9 L376.9 325.4 L376.6 324.9 L376.3 324.1 L376.1 323.6 L375.8 321.6 L375.5 321.6 L375.2 319.0 L375.0 319.1 L374.7 318.6 L374.4 317.2 L374.2 319.6 L373.9 318.9 L373.6 320.5 L373.3 318.7 L373.1 317.5 L372.8 317.2 L372.5 315.3 L372.3 319.7 L372.0 320.4 L371.7 319.0 L371.4 320.2 L371.2 319.6 L370.9 315.5 L370.6 319.1 L370.3 321.4 L370.1 319.1 L369.8 320.3 L369.5 322.2 L369.3 321.3 L369.0 319.3 L368.7 318.4 L368.4 320.5 L368.2 319.2 L367.9 319.9 L367.6 319.5 L367.4 317.1 L367.1 316.6 L366.8 321.3 L366.5 317.6 L366.3 317.7 L366.0 316.7 L365.7 317.0 L365.5 314.5 L365.2 317.0 L364.9 315.5 L364.6 315.5 L364.4 313.2 L364.1 316.0 L363.8 316.1 L363.6 312.1 L363.3 310.9 L363.0 311.0 L362.7 311.1 L362.5 310.2 L362.2 310.2 L361.9 307.7 L361.7 308.9 L361.4 307.8 L361.1 308.3 L360.8 306.5 L360.6 306.1 L360.3 309.9 L360.0 307.0 L359.8 308.8 L359.5 308.3 L359.2 308.7 L358.9 309.5 L358.7 310.0 L358.4 309.0 L358.1 310.9 L357.9 311.1 L357.6 309.4 L357.3 309.7 L357.0 313.1 L356.8 312.2 L356.5 312.2 L356.2 312.2 L355.9 313.6 L355.7 311.7 L355.4 311.8 L355.1 309.9 L354.9 309.5 L354.6 309.9 L354.3 309.7 L354.0 307.8 L353.8 309.6 L353.5 309.6 L353.2 308.2 L353.0 307.2 L352.7 306.2 L352.4 307.6 L352.1 306.2 L351.9 304.7 L351.6 306.6 L351.3 302.9 L351.1 301.6 L350.8 300.7 L350.5 298.0 L350.2 296.6 L350.0 297.9 L349.7 298.0 L349.4 296.4 L349.2 296.9 L348.9 297.8 L348.6 298.5 L348.3 297.2 L348.1 297.8 L347.8 301.8 L347.5 300.4 L347.3 300.4 L347.0 300.1 L346.7 303.8 L346.4 304.7 L346.2 304.5 L345.9 305.0 L345.6 308.2 L345.4 309.3 L345.1 308.1 L344.8 306.6 L344.5 310.0 L344.3 306.6 L344.0 308.8 L343.7 305.3 L343.4 306.2 L343.2 304.2 L342.9 304.4 L342.6 305.9 L342.4 304.1 L342.1 301.7 L341.8 301.9 L341.5 300.8 L341.3 298.9 L341.0 295.3 L340.7 295.4 L340.5 291.6 L340.2 290.9 L339.9 289.5 L339.6 287.9 L339.4 287.0 L339.1 285.3 L338.8 284.1 L338.6 284.9 L338.3 283.1 L338.0 281.3 L337.7 281.9 L337.5 282.0 L337.2 282.6 L336.9 277.9 L336.7 277.0 L336.4 276.9 L336.1 276.5 L335.8 274.7 L335.6 277.6 L335.3 277.3 L335.0 276.4 L334.8 273.7 L334.5 272.8 L334.2 274.3 L333.9 271.8 L333.7 272.7 L333.4 275.3 L333.1 274.5 L332.9 271.2 L332.6 271.8 L332.3 269.1 L332.0 268.6 L331.8 266.5 L331.5 271.5 L331.2 268.0 L330.9 269.6 L330.7 268.4 L330.4 271.3 L330.1 269.2 L329.9 268.8 L329.6 269.8 L329.3 269.5 L329.0 266.7 L328.8 270.0 L328.5 268.4 L328.2 267.5 L328.0 268.6 L327.7 269.5 L327.4 270.9 L327.1 273.4 L326.9 273.5 L326.6 277.8 L326.3 276.4 L326.1 281.3 L325.8 282.8 L325.5 282.3 L325.2 282.8 L325.0 287.0 L324.7 285.4 L324.4 287.0 L324.2 284.9 L323.9 287.9 L323.6 284.4 L323.3 287.3 L323.1 287.6 L322.8 288.2 L322.5 289.3 L322.3 288.5 L322.0 288.5 L321.7 288.4 L321.4 286.6 L321.2 284.4 L320.9 283.1 L320.6 284.3 L320.4 283.5 L320.1 280.7 L319.8 282.5 L319.5 281.9 L319.3 279.5 L319.0 277.6 L318.7 277.4 L318.4 276.7 L318.2 275.4 L317.9 275.1 L317.6 273.4 L317.4 271.9 L317.1 273.6 L316.8 274.2 L316.5 274.7 L316.3 273.3 L316.0 273.9 L315.7 273.1 L315.5 272.0 L315.2 270.0 L314.9 271.8 L314.6 269.2 L314.4 271.4 L314.1 270.1 L313.8 271.4 L313.6 270.1 L313.3 268.8 L313.0 270.9 L312.7 269.4 L312.5 271.1 L312.2 271.1 L311.9 270.5 L311.7 271.6 L311.4 268.3 L311.1 272.3 L310.8 271.7 L310.6 271.2 L310.3 271.0 L310.0 271.6 L309.8 268.4 L309.5 267.7 L309.2 269.1 L308.9 266.9 L308.7 271.0 L308.4 270.9 L308.1 271.5 L307.9 269.5 L307.6 272.1 L307.3 270.1 L307.0 273.9 L306.8 272.3 L306.5 269.1 L306.2 271.9 L305.9 269.5 L305.7 269.7 L305.4 271.3 L305.1 269.7 L304.9 271.9 L304.6 271.4 L304.3 272.2 L304.0 270.8 L303.8 271.5 L303.5 270.4 L303.2 269.7 L303.0 273.1 L302.7 270.1 L302.4 270.4 L302.1 269.3 L301.9 266.9 L301.6 270.0 L301.3 266.1 L301.1 266.7 L300.8 268.9 L300.5 268.7 L300.2 267.4 L300.0 264.9 L299.7 266.0 L299.4 266.0 L299.2 265.6 L298.9 266.4 L298.6 266.9 L298.3 264.7 L298.1 270.2 L297.8 265.7 L297.5 267.6 L297.3 268.6 L297.0 266.2 L296.7 269.3 L296.4 267.9 L296.2 269.7 L295.9 272.6 L295.6 270.1 L295.4 268.9 L295.1 270.1 L294.8 274.8 L294.5 274.2 L294.3 272.7 L294.0 269.2 L293.7 272.5 L293.4 271.8 L293.2 271.7 L292.9 273.5 L292.6 271.7 L292.4 271.4 L292.1 271.1 L291.8 270.8 L291.5 273.8 L291.3 273.3 L291.0 275.3 L290.7 276.1 L290.5 278.9 L290.2 278.1 L289.9 281.0 L289.6 282.6 L289.4 280.3 L289.1 282.3 L288.8 285.1 L288.6 281.1 L288.3 285.6 L288.0 286.6 L287.7 286.6 L287.5 286.6 L287.2 287.2 L286.9 292.5 L286.7 292.1 L286.4 290.7 L286.1 292.0 L285.8 289.3 L285.6 292.6 L285.3 295.1 L285.0 296.6 L284.8 296.3 L284.5 296.9 L284.2 298.1 L283.9 295.1 L283.7 299.1 L283.4 298.8 L283.1 295.3 L282.9 293.8 L282.6 291.9 L282.3 294.6 L282.0 297.1 L281.8 295.0 L281.5 294.5 L281.2 295.4 L280.9 294.4 L280.7 293.3 L280.4 292.8 L280.1 293.5 L279.9 292.3 L279.6 293.1 L279.3 291.4 L279.0 292.0 L278.8 293.9 L278.5 290.5 L278.2 294.1 L278.0 292.1 L277.7 290.4 L277.4 290.7 L277.1 289.1 L276.9 293.4 L276.6 293.3 L276.3 293.3 L276.1 290.9 L275.8 291.8 L275.5 292.6 L275.2 295.5 L275.0 294.6 L274.7 299.6 L274.4 296.4 L274.2 302.1 L273.9 302.7 L273.6 304.5 L273.3 305.2 L273.1 301.3 L272.8 302.6 L272.5 305.5 L272.3 307.5 L272.0 308.7 L271.7 307.4 L271.4 308.0 L271.2 309.1 L270.9 309.7 L270.6 309.7 L270.4 309.1 L270.1 310.7 L269.8 314.2 L269.5 311.8 L269.3 312.3 L269.0 312.4 L268.7 315.3 L268.5 313.6 L268.2 313.6 L267.9 312.0 L267.6 312.4 L267.4 312.7 L267.1 311.5 L266.8 310.2 L266.5 313.5 L266.3 314.5 L266.0 313.6 L265.7 315.3 L265.5 316.1 L265.2 316.5 L264.9 314.3 L264.6 313.4 L264.4 315.9 L264.1 317.8 L263.8 317.7 L263.6 318.8 L263.3 319.2 L263.0 317.5 L262.7 316.7 L262.5 321.8 L262.2 321.2 L261.9 320.2 L261.7 321.3 L261.4 320.8 L261.1 319.9 L260.8 319.1 L260.6 322.2 L260.3 324.0 L260.0 322.9 L259.8 326.3 L259.5 327.6 L259.2 327.2 L258.9 326.9 L258.7 326.6 L258.4 328.8 L258.1 332.2 L257.9 331.8 L257.6 331.3 L257.3 337.5 L257.0 335.5 L256.8 337.4 L256.5 339.4 L256.2 337.0 L256.0 339.7 L255.7 336.9 L255.4 340.6 L255.1 339.6 L254.9 340.7 L254.6 339.8 L254.3 341.0 L254.0 342.5 L253.8 342.2 L253.5 342.6 L253.2 343.4 L253.0 340.2 L252.7 340.1 L252.4 340.9 L252.1 342.4 L251.9 341.5 L251.6 345.9 L251.3 341.5 L251.1 342.9 L250.8 343.4 L250.5 344.6 L250.2 346.6 L250.0 345.5 L249.7 345.9 L249.4 348.3 L249.2 350.0 L248.9 353.0 L248.6 355.5 L248.3 356.2 L248.1 359.1 L247.8 355.8 L247.5 361.4 L247.3 363.1 L247.0 361.9 L246.7 367.0 L246.4 366.2 L246.2 367.4 L245.9 366.8 L245.6 369.2 L245.4 369.7 L245.1 370.9 L244.8 372.6 L244.5 371.3 L244.3 371.0 L244.0 368.3 L243.7 370.6 L243.5 369.0 L243.2 370.6 L242.9 370.3 L242.6 369.8 L242.4 367.4 L242.1 365.2 L241.8 366.3 L241.5 368.9 L241.3 366.2 L241.0 362.8 L240.7 363.9 L240.5 361.9 L240.2 363.0 L239.9 359.8 L239.6 360.0 L239.4 364.0 L239.1 361.5 L238.8 360.8 L238.6 360.9 L238.3 363.1 L238.0 363.7 L237.7 363.8 L237.5 362.3 L237.2 362.0 L236.9 361.8 L236.7 364.9 L236.4 364.0 L236.1 362.3 L235.8 364.8 L235.6 363.3 L235.3 363.2 L235.0 360.7 L234.8 364.3 L234.5 365.6 L234.2 365.5 L233.9 361.9 L233.7 364.9 L233.4 364.8 L233.1 364.8 L232.9 364.5 L232.6 366.0 L232.3 365.3 L232.0 365.3 L231.8 365.6 L231.5 365.7 L231.2 368.1 L231.0 368.5 L230.7 369.0 L230.4 368.4 L230.1 366.1 L229.9 367.3 L229.6 370.1 L229.3 368.7 L229.0 373.4 L228.8 369.6 L228.5 372.1 L228.2 374.2 L228.0 374.9 L227.7 375.1 L227.4 374.9 L227.1 378.1 L226.9 377.9 L226.6 381.8 L226.3 383.6 L226.1 384.9 L225.8 387.9 L225.5 389.3 L225.2 391.9 L225.0 394.4 L224.7 398.2 L224.4 397.5 L224.2 402.1 L223.9 401.4 L223.6 403.4 L223.3 403.3 L223.1 402.0 L222.8 398.5 L222.5 394.5 L222.3 394.0 L222.0 390.9 L221.7 388.2 L221.4 386.0 L221.2 386.4 L220.9 385.7 L220.6 383.3 L220.4 380.2 L220.1 380.1 L219.8 377.4 L219.5 376.3 L219.3 376.0 L219.0 372.6 L218.7 373.0 L218.5 370.9 L218.2 368.0 L217.9 367.2 L217.6 367.7 L217.4 364.9 L217.1 363.7 L216.8 361.0 L216.5 362.0 L216.3 361.9 L216.0 360.2 L215.7 360.7 L215.5 357.2 L215.2 358.2 L214.9 357.5 L214.6 355.3 L214.4 355.0 L214.1 355.5 L213.8 354.3 L213.6 353.4 L213.3 351.1 L213.0 358.0 L212.7 353.5 L212.5 351.6 L212.2 350.6 L211.9 348.2 L211.7 347.7 L211.4 346.0 L211.1 345.3 L210.8 346.7 L210.6 346.0 L210.3 339.6 L210.0 342.0 L209.8 343.2 L209.5 336.7 L209.2 340.1 L208.9 339.7 L208.7 339.9 L208.4 336.2 L208.1 337.5 L207.9 335.4 L207.6 336.1 L207.3 331.3 L207.0 332.9 L206.8 331.7 L206.5 331.4 L206.2 329.0 L206.0 331.3 L205.7 330.5 L205.4 324.8 L205.1 324.2 L204.9 324.2 L204.6 322.6 L204.3 321.2 L204.0 323.6 L203.8 322.6 L203.5 317.4 L203.2 317.4 L203.0 315.1 L202.7 315.8 L202.4 314.2 L202.1 313.1 L201.9 312.4 L201.6 309.9 L201.3 309.0 L201.1 310.3 L200.8 308.7 L200.5 308.2 L200.2 301.0 L200.0 301.9 L199.7 299.2 L199.4 298.4 L199.2 297.8 L198.9 294.3 L198.6 292.7 L198.3 290.8 L198.1 292.1 L197.8 290.8 L197.5 285.7 L197.3 284.3 L197.0 286.0 L196.7 284.4 L196.4 282.8 L196.2 282.2 L195.9 283.1 L195.6 284.0 L195.4 280.2 L195.1 279.9 L194.8 279.7 L194.5 277.1 L194.3 277.0 L194.0 278.6 L193.7 277.1 L193.5 278.6 L193.2 278.4 L192.9 274.2 L192.6 274.0 L192.4 271.7 L192.1 270.9 L191.8 272.1 L191.6 271.4 L191.3 269.3 L191.0 269.5 L190.7 267.4 L190.5 266.1 L190.2 264.7 L189.9 263.0 L189.6 264.6 L189.4 262.4 L189.1 261.3 L188.8 262.1 L188.6 262.1 L188.3 258.5 L188.0 260.5 L187.7 258.4 L187.5 259.1 L187.2 256.0 L186.9 254.6 L186.7 256.8 L186.4 251.4 L186.1 251.4 L185.8 246.5 L185.6 246.3 L185.3 247.2 L185.0 243.9 L184.8 244.6 L184.5 239.9 L184.2 237.4 L183.9 241.0 L183.7 237.5 L183.4 235.2 L183.1 234.6 L182.9 233.2 L182.6 228.7 L182.3 227.9 L182.0 227.1 L181.8 225.8 L181.5 222.8 L181.2 220.1 L181.0 220.2 L180.7 217.0 L180.4 214.2 L180.1 212.6 L179.9 212.9 L179.6 212.0 L179.3 211.5 L179.1 207.0 L178.8 206.0 L178.5 206.9 L178.2 202.6 L178.0 201.5 L177.7 201.1 L177.4 197.0 L177.1 196.3 L176.9 196.5 L176.6 195.3 L176.3 193.6 L176.1 193.2 L175.8 191.7 L175.5 190.3 L175.2 187.4 L175.0 190.0 L174.7 187.1 L174.4 187.1 L174.2 187.8 L173.9 185.2 L173.6 182.6 L173.3 183.2 L173.1 182.5 L172.8 182.4 L172.5 181.5 L172.3 180.3 L172.0 180.7 L171.7 179.8 L171.4 179.8 L171.2 180.5 L170.9 181.1 L170.6 182.9 L170.4 182.3 L170.1 184.2 L169.8 182.2 L169.5 184.2 L169.3 188.2 L169.0 185.5 L168.7 184.6 L168.5 183.4 L168.2 186.0 L167.9 183.6 L167.6 186.8 L167.4 186.9 L167.1 187.9 L166.8 186.0 L166.6 187.4 L166.3 187.9 L166.0 187.5 L165.7 187.2 L165.5 188.3 L165.2 186.0 L164.9 185.9 L164.6 187.8 L164.4 189.4 L164.1 187.6 L163.8 190.5 L163.6 189.3 L163.3 190.6 L163.0 189.1 L162.7 191.0 L162.5 192.8 L162.2 193.1 L161.9 195.4 L161.7 195.1 L161.4 196.6 L161.1 197.1 L160.8 195.1 L160.6 195.8 L160.3 195.9 L160.0 196.6 L159.8 196.9 L159.5 199.4 L159.2 199.0 L158.9 197.8 L158.7 198.8 L158.4 201.5 L158.1 199.4 L157.9 199.3 L157.6 202.0 L157.3 201.3 L157.0 201.8 L156.8 201.5 L156.5 201.8 L156.2 201.0 L156.0 202.0 L155.7 200.6 L155.4 204.5 L155.1 200.3 L154.9 200.5 L154.6 199.9 L154.3 200.1 L154.1 198.4 L153.8 199.3 L153.5 200.3 L153.2 195.7 L153.0 199.8 L152.7 199.3 L152.4 198.3 L152.1 202.3 L151.9 200.8 L151.6 199.9 L151.3 202.7 L151.1 204.8 L150.8 204.0 L150.5 203.4 L150.2 207.9 L150.0 207.7 L149.7 209.7 L149.4 212.8 L149.2 214.4 L148.9 214.5 L148.6 213.4 L148.3 218.4 L148.1 218.0 L147.8 222.0 L147.5 223.1 L147.3 222.6 L147.0 220.5 L146.7 223.6 L146.4 224.3 L146.2 222.2 L145.9 221.8 L145.6 221.8 L145.4 223.1 L145.1 223.4 L144.8 222.8 L144.5 223.6 L144.3 224.7 L144.0 224.9 L143.7 222.8 L143.5 221.5 L143.2 222.1 L142.9 221.2 L142.6 221.8 L142.4 218.1 L142.1 219.0 L141.8 218.1 L141.6 218.9 L141.3 217.3 L141.0 215.1 L140.7 213.4 L140.5 215.5 L140.2 213.0 L139.9 214.6 L139.6 213.3 L139.4 209.9 L139.1 211.4 L138.8 209.2 L138.6 211.8 L138.3 210.4 L138.0 209.3 L137.7 209.9 L137.5 206.1 L137.2 210.1 L136.9 207.4 L136.7 209.1 L136.4 211.3 L136.1 208.4 L135.8 211.9 L135.6 210.4 L135.3 208.9 L135.0 211.3 L134.8 209.2 L134.5 209.6 L134.2 210.0 L133.9 211.9 L133.7 210.1 L133.4 207.8 L133.1 208.5 L132.9 208.9 L132.6 211.0 L132.3 212.3 L132.0 212.8 L131.8 211.7 L131.5 213.0 L131.2 212.3 L131.0 214.1 L130.7 211.8 L130.4 211.7 L130.1 214.5 L129.9 217.8 L129.6 222.0 L129.3 219.5 L129.1 219.6 L128.8 222.7 L128.5 220.4 L128.2 224.4 L128.0 226.4 L127.7 227.6 L127.4 230.3 L127.1 229.0 L126.9 233.1 L126.6 232.1 L126.3 236.4 L126.1 237.0 L125.8 238.9 L125.5 238.5 L125.2 238.3 L125.0 243.5 L124.7 241.0 L124.4 238.3 L124.2 237.9 L123.9 241.0 L123.6 240.9 L123.3 241.4 L123.1 242.9 L122.8 241.3 L122.5 243.6 L122.3 242.1 L122.0 244.3 L121.7 240.8 L121.4 240.8 L121.2 243.8 L120.9 240.3Z" fill="#0072B2" fill-opacity="0.2" stroke="none"/>
<path d="M927.6 484.8 L927.1 407.4 L926.9 404.5 L926.6 405.2 L926.3 404.3 L926.0 406.2 L925.8 408.0 L925.5 406.5 L925.2 405.4 L925.0 403.8 L924.7 407.0 L924.4 408.6 L924.1 407.8 L923.9 408.2 L923.6 408.5 L923.3 412.6 L923.1 412.6 L922.8 412.9 L922.5 414.1 L922.2 415.9 L922.0 418.0 L921.7 418.6 L921.4 420.2 L921.1 423.0 L920.9 423.0 L920.6 424.9 L920.3 425.5 L920.1 429.5 L919.8 430.4 L919.5 431.6 L919.2 432.2 L919.0 436.5 L918.7 433.9 L918.4 434.3 L918.2 433.7 L917.9 433.3 L917.6 433.0 L917.3 432.6 L917.1 430.0 L916.8 428.4 L916.5 428.4 L916.3 428.0 L916.0 426.6 L915.7 424.4 L915.4 425.5 L915.2 424.5 L914.9 425.3 L914.6 425.6 L914.4 425.1 L914.1 423.3 L913.8 420.8 L913.5 419.9 L913.3 417.8 L913.0 417.7 L912.7 418.9 L912.5 416.8 L912.2 419.3 L911.9 419.1 L911.6 418.8 L911.4 417.5 L911.1 415.6 L910.8 418.8 L910.6 421.0 L910.3 418.0 L910.0 418.7 L909.7 420.5 L909.5 420.0 L909.2 417.6 L908.9 419.0 L908.7 418.7 L908.4 419.8 L908.1 421.3 L907.8 420.4 L907.6 421.1 L907.3 422.5 L907.0 423.7 L906.7 421.0 L906.5 421.6 L906.2 426.6 L905.9 424.0 L905.7 426.2 L905.4 426.7 L905.1 425.1 L904.8 425.4 L904.6 426.9 L904.3 426.4 L904.0 425.8 L903.8 426.4 L903.5 426.3 L903.2 425.4 L902.9 428.1 L902.7 429.6 L902.4 426.3 L902.1 427.6 L901.9 430.0 L901.6 430.5 L901.3 430.5 L901.0 432.3 L900.8 430.0 L900.5 428.9 L900.2 429.2 L900.0 430.9 L899.7 429.2 L899.4 431.9 L899.1 426.5 L898.9 428.7 L898.6 426.2 L898.3 425.8 L898.1 425.9 L897.8 427.8 L897.5 424.8 L897.2 425.0 L897.0 426.6 L896.7 426.8 L896.4 421.5 L896.2 420.4 L895.9 422.8 L895.6 422.4 L895.3 421.5 L895.1 419.6 L894.8 423.5 L894.5 422.2 L894.2 419.0 L894.0 423.1 L893.7 419.6 L893.4 420.6 L893.2 418.4 L892.9 420.8 L892.6 419.7 L892.3 420.1 L892.1 419.2 L891.8 418.8 L891.5 419.8 L891.3 418.6 L891.0 417.6 L890.7 418.8 L890.4 417.0 L890.2 418.0 L889.9 419.4 L889.6 415.8 L889.4 414.7 L889.1 421.4 L888.8 417.0 L888.5 420.3 L888.3 418.7 L888.0 420.0 L887.7 419.4 L887.5 419.9 L887.2 420.7 L886.9 420.3 L886.6 421.7 L886.4 421.5 L886.1 421.4 L885.8 422.2 L885.6 425.3 L885.3 425.3 L885.0 426.4 L884.7 427.9 L884.5 426.3 L884.2 426.3 L883.9 425.9 L883.7 430.2 L883.4 426.6 L883.1 425.7 L882.8 427.2 L882.6 430.2 L882.3 429.1 L882.0 429.6 L881.7 432.2 L881.5 432.0 L881.2 429.9 L880.9 428.3 L880.7 431.5 L880.4 432.7 L880.1 431.0 L879.8 431.0 L879.6 430.2 L879.3 428.9 L879.0 429.8 L878.8 428.6 L878.5 427.6 L878.2 428.2 L877.9 422.5 L877.7 424.1 L877.4 425.3 L877.1 421.3 L876.9 422.4 L876.6 419.8 L876.3 416.6 L876.0 416.7 L875.8 416.9 L875.5 412.7 L875.2 411.9 L875.0 411.2 L874.7 408.6 L874.4 408.2 L874.1 409.7 L873.9 406.8 L873.6 409.0 L873.3 408.5 L873.1 408.2 L872.8 408.1 L872.5 408.9 L872.2 407.7 L872.0 404.7 L871.7 409.1 L871.4 407.5 L871.2 408.9 L870.9 407.1 L870.6 407.7 L870.3 408.2 L870.1 407.7 L869.8 408.4 L869.5 411.5 L869.2 409.2 L869.0 408.6 L868.7 407.1 L868.4 410.8 L868.2 409.0 L867.9 407.4 L867.6 408.4 L867.3 409.2 L867.1 409.6 L866.8 408.5 L866.5 407.0 L866.3 412.1 L866.0 411.8 L865.7 410.6 L865.4 408.4 L865.2 409.9 L864.9 410.5 L864.6 410.0 L864.4 412.2 L864.1 411.1 L863.8 409.5 L863.5 413.8 L863.3 411.6 L863.0 408.8 L862.7 413.1 L862.5 413.6 L862.2 413.2 L861.9 411.3 L861.6 408.0 L861.4 409.1 L861.1 406.3 L860.8 406.5 L860.6 408.7 L860.3 409.0 L860.0 407.8 L859.7 408.7 L859.5 407.8 L859.2 408.0 L858.9 407.3 L858.7 408.4 L858.4 409.8 L858.1 409.5 L857.8 406.1 L857.6 410.5 L857.3 411.9 L857.0 408.4 L856.7 409.3 L856.5 410.5 L856.2 412.1 L855.9 412.0 L855.7 411.8 L855.4 409.3 L855.1 415.1 L854.8 413.3 L854.6 415.7 L854.3 417.2 L854.0 419.0 L853.8 418.4 L853.5 419.0 L853.2 420.4 L852.9 420.5 L852.7 420.1 L852.4 417.4 L852.1 420.0 L851.9 417.0 L851.6 417.2 L851.3 419.6 L851.0 415.8 L850.8 415.6 L850.5 414.8 L850.2 414.5 L850.0 414.7 L849.7 412.5 L849.4 412.3 L849.1 412.2 L848.9 410.9 L848.6 406.2 L848.3 410.1 L848.1 405.7 L847.8 407.9 L847.5 406.2 L847.2 408.4 L847.0 408.5 L846.7 407.5 L846.4 408.5 L846.2 409.5 L845.9 409.1 L845.6 409.1 L845.3 411.6 L845.1 410.8 L844.8 411.4 L844.5 415.8 L844.2 414.8 L844.0 415.5 L843.7 419.5 L843.4 418.5 L843.2 423.1 L842.9 422.0 L842.6 423.0 L842.3 425.1 L842.1 425.8 L841.8 424.8 L841.5 429.6 L841.3 427.2 L841.0 428.1 L840.7 429.5 L840.4 427.6 L840.2 428.1 L839.9 428.1 L839.6 428.2 L839.4 427.6 L839.1 425.1 L838.8 424.5 L838.5 423.2 L838.3 424.5 L838.0 424.0 L837.7 419.5 L837.5 419.6 L837.2 420.7 L836.9 417.6 L836.6 418.1 L836.4 419.1 L836.1 416.7 L835.8 413.7 L835.6 413.7 L835.3 413.6 L835.0 413.2 L834.7 410.8 L834.5 409.6 L834.2 406.0 L833.9 406.9 L833.7 405.7 L833.4 404.7 L833.1 403.1 L832.8 400.6 L832.6 401.2 L832.3 401.8 L832.0 400.1 L831.8 402.6 L831.5 399.7 L831.2 400.1 L830.9 397.5 L830.7 397.2 L830.4 398.4 L830.1 396.7 L829.8 396.7 L829.6 396.6 L829.3 397.4 L829.0 395.8 L828.8 397.6 L828.5 396.3 L828.2 396.5 L827.9 395.6 L827.7 396.8 L827.4 396.1 L827.1 392.4 L826.9 393.1 L826.6 395.1 L826.3 394.0 L826.0 395.6 L825.8 395.1 L825.5 395.0 L825.2 395.5 L825.0 395.1 L824.7 397.0 L824.4 399.2 L824.1 397.5 L823.9 400.0 L823.6 402.8 L823.3 403.8 L823.1 403.7 L822.8 404.2 L822.5 405.6 L822.2 406.3 L822.0 407.7 L821.7 408.8 L821.4 407.1 L821.2 410.7 L820.9 413.0 L820.6 413.5 L820.3 412.2 L820.1 418.0 L819.8 419.4 L819.5 419.5 L819.3 416.8 L819.0 419.2 L818.7 419.1 L818.4 419.5 L818.2 419.8 L817.9 417.6 L817.6 416.8 L817.3 417.8 L817.1 414.6 L816.8 416.4 L816.5 414.9 L816.3 413.1 L816.0 412.5 L815.7 412.9 L815.4 412.5 L815.2 411.5 L814.9 411.7 L814.6 411.9 L814.4 412.2 L814.1 410.0 L813.8 409.4 L813.5 408.7 L813.3 406.1 L813.0 409.4 L812.7 410.3 L812.5 408.5 L812.2 411.2 L811.9 409.6 L811.6 407.0 L811.4 407.2 L811.1 408.3 L810.8 410.8 L810.6 408.1 L810.3 407.2 L810.0 409.2 L809.7 411.0 L809.5 410.0 L809.2 410.9 L808.9 410.9 L808.7 411.5 L808.4 409.9 L808.1 413.1 L807.8 412.6 L807.6 414.2 L807.3 414.7 L807.0 413.0 L806.8 413.6 L806.5 413.8 L806.2 413.6 L805.9 412.5 L805.7 412.6 L805.4 413.7 L805.1 413.0 L804.8 411.0 L804.6 411.9 L804.3 411.7 L804.0 408.7 L803.8 414.5 L803.5 411.5 L803.2 412.6 L802.9 411.9 L802.7 413.3 L802.4 410.4 L802.1 413.0 L801.9 411.7 L801.6 414.1 L801.3 412.3 L801.0 414.6 L800.8 411.4 L800.5 414.0 L800.2 413.0 L800.0 411.6 L799.7 415.1 L799.4 412.6 L799.1 413.1 L798.9 416.2 L798.6 412.6 L798.3 414.8 L798.1 413.4 L797.8 413.1 L797.5 414.3 L797.2 412.4 L797.0 412.7 L796.7 410.0 L796.4 411.9 L796.2 410.0 L795.9 412.1 L795.6 408.0 L795.3 410.0 L795.1 410.6 L794.8 410.5 L794.5 410.6 L794.3 410.9 L794.0 408.7 L793.7 410.2 L793.4 410.6 L793.2 409.6 L792.9 407.7 L792.6 407.7 L792.3 410.8 L792.1 410.8 L791.8 408.5 L791.5 407.1 L791.3 410.1 L791.0 407.4 L790.7 407.5 L790.4 405.7 L790.2 407.0 L789.9 406.7 L789.6 408.5 L789.4 408.1 L789.1 407.2 L788.8 406.8 L788.5 407.5 L788.3 408.5 L788.0 409.9 L787.7 410.9 L787.5 412.4 L787.2 409.8 L786.9 412.3 L786.6 410.7 L786.4 411.1 L786.1 412.1 L785.8 412.3 L785.6 412.4 L785.3 411.2 L785.0 412.5 L784.7 414.8 L784.5 413.0 L784.2 415.4 L783.9 416.6 L783.7 417.9 L783.4 416.3 L783.1 417.5 L782.8 417.9 L782.6 415.2 L782.3 414.3 L782.0 416.4 L781.8 419.9 L781.5 420.3 L781.2 414.9 L780.9 417.3 L780.7 416.8 L780.4 415.3 L780.1 413.5 L779.8 415.3 L779.6 415.2 L779.3 413.3 L779.0 413.1 L778.8 410.8 L778.5 412.3 L778.2 409.5 L777.9 408.4 L777.7 408.3 L777.4 407.5 L777.1 406.1 L776.9 401.9 L776.6 401.1 L776.3 403.3 L776.0 400.4 L775.8 399.2 L775.5 399.6 L775.2 399.7 L775.0 397.3 L774.7 397.4 L774.4 395.8 L774.1 397.5 L773.9 395.3 L773.6 396.5 L773.3 396.5 L773.1 398.2 L772.8 398.7 L772.5 396.1 L772.2 395.3 L772.0 398.0 L771.7 396.9 L771.4 396.5 L771.2 399.4 L770.9 399.4 L770.6 398.9 L770.3 399.1 L770.1 398.1 L769.8 402.1 L769.5 400.0 L769.3 398.9 L769.0 400.0 L768.7 403.4 L768.4 399.2 L768.2 400.7 L767.9 402.0 L767.6 400.2 L767.3 403.1 L767.1 402.2 L766.8 403.5 L766.5 405.9 L766.3 403.7 L766.0 404.2 L765.7 401.4 L765.4 402.3 L765.2 400.9 L764.9 402.1 L764.6 399.3 L764.4 401.4 L764.1 403.7 L763.8 403.1 L763.5 401.9 L763.3 401.6 L763.0 402.2 L762.7 401.5 L762.5 402.0 L762.2 403.3 L761.9 400.8 L761.6 401.4 L761.4 398.4 L761.1 400.2 L760.8 397.8 L760.6 398.6 L760.3 401.9 L760.0 397.9 L759.7 398.6 L759.5 397.9 L759.2 396.7 L758.9 398.6 L758.7 397.9 L758.4 398.3 L758.1 396.9 L757.8 397.8 L757.6 398.0 L757.3 395.9 L757.0 397.8 L756.8 396.3 L756.5 397.6 L756.2 397.6 L755.9 400.4 L755.7 400.2 L755.4 399.0 L755.1 403.5 L754.9 403.1 L754.6 404.9 L754.3 403.3 L754.0 404.6 L753.8 406.1 L753.5 404.7 L753.2 405.6 L752.9 404.4 L752.7 407.4 L752.4 407.7 L752.1 408.1 L751.9 407.8 L751.6 408.4 L751.3 405.3 L751.0 404.9 L750.8 406.3 L750.5 404.1 L750.2 400.6 L750.0 403.3 L749.7 401.9 L749.4 402.1 L749.1 399.5 L748.9 398.9 L748.6 397.5 L748.3 399.6 L748.1 398.3 L747.8 397.0 L747.5 396.0 L747.2 397.3 L747.0 401.3 L746.7 398.4 L746.4 400.9 L746.2 400.5 L745.9 404.8 L745.6 402.5 L745.3 403.8 L745.1 403.8 L744.8 405.0 L744.5 407.4 L744.3 406.4 L744.0 407.7 L743.7 407.1 L743.4 406.7 L743.2 408.8 L742.9 409.2 L742.6 409.9 L742.4 409.5 L742.1 411.5 L741.8 413.7 L741.5 411.2 L741.3 410.5 L741.0 412.6 L740.7 409.1 L740.4 411.9 L740.2 408.6 L739.9 408.1 L739.6 406.1 L739.4 408.0 L739.1 406.7 L738.8 408.1 L738.5 405.0 L738.3 403.7 L738.0 403.8 L737.7 399.9 L737.5 401.9 L737.2 398.3 L736.9 395.3 L736.6 395.2 L736.4 396.5 L736.1 396.1 L735.8 395.5 L735.6 393.0 L735.3 391.3 L735.0 392.3 L734.7 391.2 L734.5 390.3 L734.2 388.4 L733.9 388.7 L733.7 390.7 L733.4 388.3 L733.1 387.1 L732.8 387.7 L732.6 384.6 L732.3 387.0 L732.0 386.9 L731.8 387.2 L731.5 388.1 L731.2 389.2 L730.9 388.3 L730.7 388.0 L730.4 388.2 L730.1 384.3 L729.9 386.5 L729.6 385.8 L729.3 384.5 L729.0 385.0 L728.8 384.1 L728.5 383.8 L728.2 385.5 L727.9 384.0 L727.7 386.5 L727.4 385.2 L727.1 384.3 L726.9 384.1 L726.6 386.4 L726.3 384.6 L726.0 385.6 L725.8 383.6 L725.5 384.5 L725.2 388.2 L725.0 389.7 L724.7 390.8 L724.4 389.6 L724.1 392.2 L723.9 392.7 L723.6 394.4 L723.3 394.9 L723.1 396.3 L722.8 397.5 L722.5 398.2 L722.2 399.6 L722.0 403.1 L721.7 404.1 L721.4 403.8 L721.2 407.1 L720.9 406.3 L720.6 410.3 L720.3 409.0 L720.1 408.6 L719.8 406.7 L719.5 405.4 L719.3 407.9 L719.0 407.5 L718.7 407.4 L718.4 406.0 L718.2 406.5 L717.9 404.2 L717.6 408.3 L717.4 403.1 L717.1 401.2 L716.8 404.8 L716.5 402.6 L716.3 400.5 L716.0 399.0 L715.7 398.1 L715.4 398.3 L715.2 399.3 L714.9 399.2 L714.6 399.9 L714.4 397.0 L714.1 398.9 L713.8 396.6 L713.5 397.2 L713.3 396.5 L713.0 394.8 L712.7 394.3 L712.5 395.8 L712.2 395.3 L711.9 395.7 L711.6 395.1 L711.4 395.2 L711.1 393.5 L710.8 393.1 L710.6 395.0 L710.3 395.9 L710.0 393.7 L709.7 394.4 L709.5 396.8 L709.2 397.3 L708.9 392.8 L708.7 393.8 L708.4 393.9 L708.1 393.1 L707.8 393.6 L707.6 392.6 L707.3 391.4 L707.0 391.6 L706.8 394.0 L706.5 395.3 L706.2 393.1 L705.9 394.7 L705.7 394.3 L705.4 396.4 L705.1 395.6 L704.9 394.8 L704.6 397.0 L704.3 393.8 L704.0 398.3 L703.8 399.6 L703.5 398.7 L703.2 392.9 L702.9 396.3 L702.7 393.9 L702.4 394.9 L702.1 396.7 L701.9 399.7 L701.6 398.2 L701.3 399.4 L701.0 400.0 L700.8 396.7 L700.5 398.4 L700.2 397.3 L700.0 398.2 L699.7 398.2 L699.4 399.1 L699.1 399.2 L698.9 399.0 L698.6 398.7 L698.3 395.4 L698.1 397.5 L697.8 397.3 L697.5 396.5 L697.2 394.5 L697.0 395.0 L696.7 395.4 L696.4 394.4 L696.2 391.7 L695.9 392.4 L695.6 393.8 L695.3 394.3 L695.1 392.9 L694.8 389.3 L694.5 392.0 L694.3 392.7 L694.0 388.2 L693.7 391.2 L693.4 392.9 L693.2 389.4 L692.9 388.5 L692.6 388.3 L692.4 387.9 L692.1 387.8 L691.8 385.6 L691.5 385.7 L691.3 384.5 L691.0 385.4 L690.7 384.4 L690.4 385.5 L690.2 380.2 L689.9 385.9 L689.6 385.9 L689.4 384.8 L689.1 384.8 L688.8 387.4 L688.5 385.5 L688.3 384.4 L688.0 386.9 L687.7 385.8 L687.5 384.1 L687.2 386.6 L686.9 385.9 L686.6 387.4 L686.4 387.1 L686.1 390.1 L685.8 386.3 L685.6 387.8 L685.3 390.9 L685.0 390.6 L684.7 390.1 L684.5 387.6 L684.2 392.6 L683.9 391.7 L683.7 390.7 L683.4 389.6 L683.1 391.3 L682.8 389.5 L682.6 392.0 L682.3 389.9 L682.0 387.4 L681.8 389.1 L681.5 388.0 L681.2 386.4 L680.9 388.2 L680.7 387.0 L680.4 385.7 L680.1 383.6 L679.9 386.8 L679.6 384.7 L679.3 385.8 L679.0 382.4 L678.8 382.8 L678.5 378.8 L678.2 380.6 L677.9 379.4 L677.7 377.5 L677.4 374.8 L677.1 373.5 L676.9 373.4 L676.6 372.2 L676.3 370.1 L676.0 372.2 L675.8 369.0 L675.5 366.4 L675.2 367.6 L675.0 365.9 L674.7 364.0 L674.4 366.1 L674.1 365.6 L673.9 364.2 L673.6 365.0 L673.3 365.1 L673.1 366.2 L672.8 365.6 L672.5 364.8 L672.2 365.1 L672.0 364.9 L671.7 363.9 L671.4 364.1 L671.2 364.5 L670.9 363.9 L670.6 362.7 L670.3 364.5 L670.1 366.2 L669.8 367.4 L669.5 365.5 L669.3 364.3 L669.0 365.3 L668.7 364.1 L668.4 366.6 L668.2 365.1 L667.9 367.7 L667.6 368.2 L667.4 365.9 L667.1 370.4 L666.8 367.0 L666.5 367.7 L666.3 365.9 L666.0 368.9 L665.7 367.6 L665.5 365.6 L665.2 367.9 L664.9 367.8 L664.6 365.4 L664.4 369.4 L664.1 368.0 L663.8 365.6 L663.5 366.8 L663.3 367.0 L663.0 366.9 L662.7 367.4 L662.5 366.0 L662.2 365.2 L661.9 365.8 L661.6 366.0 L661.4 367.5 L661.1 365.4 L660.8 363.4 L660.6 362.0 L660.3 361.3 L660.0 361.0 L659.7 361.1 L659.5 362.0 L659.2 361.6 L658.9 360.9 L658.7 361.4 L658.4 361.5 L658.1 361.3 L657.8 360.6 L657.6 362.4 L657.3 363.9 L657.0 361.7 L656.8 361.9 L656.5 364.5 L656.2 365.6 L655.9 364.8 L655.7 365.4 L655.4 366.4 L655.1 365.8 L654.9 365.6 L654.6 367.7 L654.3 370.0 L654.0 369.4 L653.8 370.3 L653.5 370.8 L653.2 368.1 L653.0 372.1 L652.7 370.5 L652.4 370.0 L652.1 368.3 L651.9 364.7 L651.6 363.0 L651.3 365.3 L651.0 360.7 L650.8 362.4 L650.5 362.5 L650.2 362.4 L650.0 361.8 L649.7 360.3 L649.4 360.4 L649.1 361.5 L648.9 360.3 L648.6 357.8 L648.3 359.7 L648.1 358.4 L647.8 359.2 L647.5 360.3 L647.2 359.4 L647.0 359.6 L646.7 358.5 L646.4 361.0 L646.2 359.3 L645.9 360.4 L645.6 361.9 L645.3 364.9 L645.1 364.5 L644.8 368.4 L644.5 364.7 L644.3 366.1 L644.0 366.7 L643.7 365.7 L643.4 367.9 L643.2 367.5 L642.9 370.8 L642.6 370.8 L642.4 369.4 L642.1 373.2 L641.8 370.4 L641.5 371.1 L641.3 369.3 L641.0 369.2 L640.7 366.8 L640.5 365.6 L640.2 363.6 L639.9 361.1 L639.6 362.1 L639.4 358.0 L639.1 360.1 L638.8 357.6 L638.5 358.6 L638.3 356.7 L638.0 354.0 L637.7 356.2 L637.5 350.8 L637.2 353.3 L636.9 354.6 L636.6 351.8 L636.4 352.8 L636.1 354.4 L635.8 348.5 L635.6 351.4 L635.3 349.7 L635.0 348.7 L634.7 349.1 L634.5 349.4 L634.2 347.3 L633.9 344.9 L633.7 345.9 L633.4 345.2 L633.1 344.0 L632.8 346.8 L632.6 344.4 L632.3 342.5 L632.0 341.5 L631.8 344.2 L631.5 341.5 L631.2 342.2 L630.9 341.5 L630.7 342.0 L630.4 339.2 L630.1 341.9 L629.9 343.0 L629.6 338.4 L629.3 342.8 L629.0 339.4 L628.8 338.9 L628.5 339.4 L628.2 340.8 L628.0 338.4 L627.7 341.6 L627.4 338.3 L627.1 340.4 L626.9 340.7 L626.6 341.1 L626.3 342.9 L626.0 344.1 L625.8 342.3 L625.5 348.1 L625.2 346.5 L625.0 347.9 L624.7 349.3 L624.4 349.8 L624.1 351.2 L623.9 354.8 L623.6 355.3 L623.3 355.3 L623.1 356.3 L622.8 361.7 L622.5 360.4 L622.2 361.8 L622.0 363.7 L621.7 362.8 L621.4 363.5 L621.2 364.6 L620.9 368.3 L620.6 366.2 L620.3 365.6 L620.1 365.2 L619.8 363.9 L619.5 366.7 L619.3 364.2 L619.0 364.3 L618.7 360.9 L618.4 362.0 L618.2 359.3 L617.9 359.3 L617.6 360.3 L617.4 355.1 L617.1 357.4 L616.8 356.9 L616.5 352.0 L616.3 350.9 L616.0 353.0 L615.7 351.4 L615.5 347.8 L615.2 352.0 L614.9 348.7 L614.6 351.0 L614.4 349.4 L614.1 346.2 L613.8 349.2 L613.5 347.4 L613.3 348.2 L613.0 349.1 L612.7 349.9 L612.5 350.5 L612.2 347.9 L611.9 349.6 L611.6 347.9 L611.4 347.8 L611.1 351.5 L610.8 351.0 L610.6 350.8 L610.3 350.9 L610.0 351.5 L609.7 353.1 L609.5 352.4 L609.2 354.1 L608.9 354.2 L608.7 354.5 L608.4 357.8 L608.1 356.8 L607.8 356.5 L607.6 355.3 L607.3 357.2 L607.0 358.1 L606.8 362.2 L606.5 358.5 L606.2 357.8 L605.9 362.3 L605.7 361.0 L605.4 362.3 L605.1 364.8 L604.9 364.7 L604.6 364.4 L604.3 367.4 L604.0 367.0 L603.8 366.5 L603.5 367.0 L603.2 365.4 L603.0 368.5 L602.7 368.7 L602.4 369.2 L602.1 371.1 L601.9 370.3 L601.6 369.7 L601.3 369.0 L601.0 368.5 L600.8 371.4 L600.5 370.9 L600.2 372.4 L600.0 369.3 L599.7 370.8 L599.4 369.0 L599.1 367.1 L598.9 367.2 L598.6 367.0 L598.3 367.1 L598.1 366.2 L597.8 364.6 L597.5 362.6 L597.2 363.9 L597.0 362.2 L596.7 366.0 L596.4 364.2 L596.2 365.2 L595.9 366.7 L595.6 365.8 L595.3 366.9 L595.1 365.0 L594.8 369.9 L594.5 365.4 L594.3 365.4 L594.0 367.2 L593.7 365.6 L593.4 363.2 L593.2 364.7 L592.9 366.3 L592.6 367.3 L592.4 366.3 L592.1 363.5 L591.8 366.1 L591.5 367.1 L591.3 367.2 L591.0 367.3 L590.7 367.8 L590.5 368.2 L590.2 367.2 L589.9 368.1 L589.6 372.1 L589.4 371.6 L589.1 370.1 L588.8 373.1 L588.6 370.7 L588.3 371.1 L588.0 370.9 L587.7 372.5 L587.5 373.8 L587.2 372.2 L586.9 372.2 L586.6 371.9 L586.4 373.4 L586.1 369.9 L585.8 372.8 L585.6 373.6 L585.3 374.6 L585.0 373.7 L584.7 375.6 L584.5 379.1 L584.2 377.8 L583.9 379.6 L583.7 375.2 L583.4 380.9 L583.1 377.8 L582.8 380.0 L582.6 380.1 L582.3 377.3 L582.0 377.7 L581.8 376.8 L581.5 377.0 L581.2 374.6 L580.9 379.3 L580.7 376.1 L580.4 377.9 L580.1 377.7 L579.9 374.8 L579.6 371.9 L579.3 373.6 L579.0 372.5 L578.8 371.5 L578.5 373.9 L578.2 372.8 L578.0 373.3 L577.7 372.4 L577.4 370.9 L577.1 370.1 L576.9 369.4 L576.6 368.9 L576.3 368.9 L576.1 367.8 L575.8 367.3 L575.5 366.8 L575.2 368.2 L575.0 365.7 L574.7 364.8 L574.4 364.5 L574.1 365.1 L573.9 364.8 L573.6 365.2 L573.3 367.0 L573.1 367.6 L572.8 369.6 L572.5 365.6 L572.2 366.9 L572.0 367.9 L571.7 364.1 L571.4 367.8 L571.2 369.4 L570.9 368.8 L570.6 370.2 L570.3 367.0 L570.1 368.2 L569.8 368.6 L569.5 369.1 L569.3 368.8 L569.0 368.4 L568.7 372.5 L568.4 369.6 L568.2 374.5 L567.9 371.6 L567.6 371.9 L567.4 373.4 L567.1 373.2 L566.8 373.4 L566.5 373.4 L566.3 373.5 L566.0 374.8 L565.7 373.6 L565.5 375.8 L565.2 373.7 L564.9 377.9 L564.6 378.5 L564.4 376.8 L564.1 377.3 L563.8 378.4 L563.6 375.6 L563.3 376.9 L563.0 375.3 L562.7 373.7 L562.5 375.7 L562.2 374.4 L561.9 375.6 L561.6 376.5 L561.4 375.9 L561.1 376.2 L560.8 373.1 L560.6 372.6 L560.3 374.4 L560.0 372.9 L559.7 375.0 L559.5 375.9 L559.2 375.7 L558.9 377.7 L558.7 378.6 L558.4 377.7 L558.1 376.8 L557.8 377.3 L557.6 378.6 L557.3 377.3 L557.0 379.4 L556.8 380.6 L556.5 378.8 L556.2 383.2 L555.9 382.0 L555.7 380.3 L555.4 384.6 L555.1 381.2 L554.9 384.6 L554.6 385.0 L554.3 386.0 L554.0 383.2 L553.8 385.0 L553.5 384.5 L553.2 384.6 L553.0 384.7 L552.7 381.2 L552.4 383.1 L552.1 377.9 L551.9 377.8 L551.6 379.9 L551.3 378.1 L551.1 377.2 L550.8 379.3 L550.5 377.7 L550.2 374.5 L550.0 373.5 L549.7 373.1 L549.4 373.0 L549.1 373.5 L548.9 372.9 L548.6 372.2 L548.3 372.0 L548.1 372.5 L547.8 372.6 L547.5 372.7 L547.2 376.7 L547.0 374.6 L546.7 374.3 L546.4 375.8 L546.2 376.4 L545.9 377.0 L545.6 378.4 L545.3 380.7 L545.1 381.4 L544.8 382.3 L544.5 380.3 L544.3 383.7 L544.0 383.3 L543.7 385.4 L543.4 383.3 L543.2 384.4 L542.9 386.3 L542.6 388.7 L542.4 386.5 L542.1 385.4 L541.8 386.8 L541.5 387.4 L541.3 383.6 L541.0 383.9 L540.7 381.6 L540.5 380.2 L540.2 381.1 L539.9 378.6 L539.6 379.8 L539.4 376.9 L539.1 377.3 L538.8 375.7 L538.6 372.8 L538.3 371.3 L538.0 373.2 L537.7 369.4 L537.5 368.3 L537.2 365.9 L536.9 366.0 L536.6 365.2 L536.4 364.4 L536.1 362.5 L535.8 360.0 L535.6 361.0 L535.3 358.9 L535.0 357.9 L534.7 358.8 L534.5 354.9 L534.2 358.2 L533.9 357.8 L533.7 356.8 L533.4 356.9 L533.1 354.3 L532.8 357.3 L532.6 356.4 L532.3 355.8 L532.0 353.9 L531.8 351.8 L531.5 355.3 L531.2 355.1 L530.9 354.2 L530.7 353.3 L530.4 350.6 L530.1 350.7 L529.9 345.4 L529.6 351.3 L529.3 349.0 L529.0 349.4 L528.8 347.6 L528.5 346.8 L528.2 348.6 L528.0 347.9 L527.7 349.4 L527.4 346.1 L527.1 347.9 L526.9 350.1 L526.6 351.9 L526.3 348.0 L526.1 352.0 L525.8 351.7 L525.5 353.2 L525.2 352.8 L525.0 355.7 L524.7 357.9 L524.4 359.1 L524.1 362.3 L523.9 363.2 L523.6 366.2 L523.3 367.1 L523.1 365.2 L522.8 365.3 L522.5 366.0 L522.2 368.2 L522.0 367.0 L521.7 369.4 L521.4 369.9 L521.2 368.5 L520.9 370.7 L520.6 367.8 L520.3 370.5 L520.1 367.7 L519.8 369.0 L519.5 367.5 L519.3 365.7 L519.0 365.8 L518.7 363.0 L518.4 362.0 L518.2 360.9 L517.9 359.2 L517.6 361.3 L517.4 358.8 L517.1 358.8 L516.8 353.1 L516.5 357.0 L516.3 354.6 L516.0 354.0 L515.7 353.6 L515.5 354.6 L515.2 352.0 L514.9 354.1 L514.6 352.8 L514.4 352.7 L514.1 353.8 L513.8 353.3 L513.6 354.3 L513.3 351.3 L513.0 347.7 L512.7 349.1 L512.5 351.6 L512.2 351.0 L511.9 349.1 L511.7 351.1 L511.4 353.1 L511.1 350.9 L510.8 354.0 L510.6 353.2 L510.3 351.0 L510.0 355.3 L509.7 354.3 L509.5 351.5 L509.2 354.6 L508.9 355.1 L508.7 354.3 L508.4 354.7 L508.1 355.2 L507.8 356.4 L507.6 357.4 L507.3 359.6 L507.0 358.6 L506.8 359.1 L506.5 356.4 L506.2 359.4 L505.9 361.4 L505.7 357.2 L505.4 356.8 L505.1 358.5 L504.9 357.9 L504.6 360.2 L504.3 357.4 L504.0 361.4 L503.8 359.9 L503.5 359.7 L503.2 363.0 L503.0 360.4 L502.7 361.3 L502.4 359.9 L502.1 359.4 L501.9 360.5 L501.6 359.1 L501.3 358.1 L501.1 359.0 L500.8 359.4 L500.5 359.7 L500.2 356.4 L500.0 355.9 L499.7 356.9 L499.4 355.0 L499.2 352.7 L498.9 353.2 L498.6 353.8 L498.3 349.2 L498.1 354.5 L497.8 352.0 L497.5 353.3 L497.2 350.6 L497.0 349.4 L496.7 348.3 L496.4 347.7 L496.2 349.8 L495.9 350.3 L495.6 352.9 L495.3 348.9 L495.1 350.7 L494.8 346.6 L494.5 345.8 L494.3 346.7 L494.0 346.2 L493.7 346.8 L493.4 344.2 L493.2 346.1 L492.9 344.6 L492.6 345.1 L492.4 344.4 L492.1 343.7 L491.8 344.8 L491.5 341.9 L491.3 343.5 L491.0 341.9 L490.7 344.9 L490.5 343.8 L490.2 343.2 L489.9 341.7 L489.6 342.9 L489.4 340.6 L489.1 341.2 L488.8 341.6 L488.6 341.4 L488.3 343.0 L488.0 342.6 L487.7 340.9 L487.5 342.6 L487.2 347.6 L486.9 343.0 L486.7 344.6 L486.4 344.8 L486.1 343.8 L485.8 343.3 L485.6 343.6 L485.3 347.7 L485.0 346.8 L484.7 345.8 L484.5 348.0 L484.2 346.8 L483.9 345.0 L483.7 347.6 L483.4 346.8 L483.1 346.6 L482.8 348.8 L482.6 345.5 L482.3 342.3 L482.0 343.3 L481.8 342.3 L481.5 341.3 L481.2 342.4 L480.9 338.5 L480.7 339.5 L480.4 339.3 L480.1 338.1 L479.9 336.4 L479.6 340.3 L479.3 337.0 L479.0 335.4 L478.8 334.7 L478.5 333.2 L478.2 337.7 L478.0 335.4 L477.7 334.2 L477.4 332.9 L477.1 331.5 L476.9 333.7 L476.6 331.2 L476.3 330.0 L476.1 330.7 L475.8 333.3 L475.5 330.1 L475.2 327.8 L475.0 326.3 L474.7 326.8 L474.4 327.0 L474.2 328.3 L473.9 325.4 L473.6 324.9 L473.3 327.1 L473.1 326.9 L472.8 330.1 L472.5 326.9 L472.2 328.4 L472.0 326.2 L471.7 326.4 L471.4 326.9 L471.2 325.9 L470.9 329.8 L470.6 326.4 L470.3 328.0 L470.1 329.0 L469.8 330.6 L469.5 328.3 L469.3 329.5 L469.0 329.0 L468.7 329.7 L468.4 329.5 L468.2 326.7 L467.9 327.7 L467.6 326.8 L467.4 326.4 L467.1 326.6 L466.8 325.9 L466.5 328.5 L466.3 326.1 L466.0 325.9 L465.7 324.6 L465.5 327.6 L465.2 325.6 L464.9 322.8 L464.6 324.5 L464.4 325.0 L464.1 321.6 L463.8 323.4 L463.6 321.9 L463.3 322.5 L463.0 326.2 L462.7 323.3 L462.5 322.6 L462.2 322.0 L461.9 321.1 L461.7 322.2 L461.4 321.8 L461.1 320.7 L460.8 323.4 L460.6 321.3 L460.3 320.6 L460.0 319.3 L459.7 321.9 L459.5 321.3 L459.2 320.3 L458.9 321.8 L458.7 321.9 L458.4 323.6 L458.1 323.0 L457.8 325.2 L457.6 325.1 L457.3 323.5 L457.0 326.1 L456.8 328.3 L456.5 325.8 L456.2 326.7 L455.9 329.7 L455.7 327.4 L455.4 328.3 L455.1 326.6 L454.9 330.4 L454.6 329.5 L454.3 328.3 L454.0 328.3 L453.8 332.1 L453.5 331.3 L453.2 328.0 L453.0 327.2 L452.7 327.7 L452.4 324.9 L452.1 326.1 L451.9 327.2 L451.6 324.7 L451.3 324.9 L451.1 325.5 L450.8 324.7 L450.5 322.4 L450.2 323.1 L450.0 326.9 L449.7 324.2 L449.4 327.7 L449.2 325.4 L448.9 326.3 L448.6 325.7 L448.3 325.2 L448.1 329.5 L447.8 327.1 L447.5 327.7 L447.2 329.3 L447.0 330.5 L446.7 329.4 L446.4 328.3 L446.2 332.4 L445.9 333.4 L445.6 330.9 L445.3 334.7 L445.1 338.3 L444.8 338.4 L444.5 338.6 L444.3 339.5 L444.0 339.9 L443.7 343.9 L443.4 343.2 L443.2 342.5 L442.9 345.2 L442.6 343.5 L442.4 343.0 L442.1 343.7 L441.8 341.2 L441.5 342.4 L441.3 339.1 L441.0 341.0 L440.7 339.5 L440.5 337.2 L440.2 335.7 L439.9 333.8 L439.6 333.4 L439.4 332.3 L439.1 330.6 L438.8 330.7 L438.6 329.9 L438.3 328.1 L438.0 328.1 L437.7 326.9 L437.5 326.5 L437.2 328.5 L436.9 327.3 L436.7 323.0 L436.4 324.4 L436.1 324.6 L435.8 324.3 L435.6 324.0 L435.3 323.2 L435.0 324.0 L434.8 326.7 L434.5 324.7 L434.2 326.4 L433.9 326.0 L433.7 325.3 L433.4 325.8 L433.1 325.2 L432.8 324.7 L432.6 325.8 L432.3 324.9 L432.0 327.5 L431.8 326.5 L431.5 326.9 L431.2 324.6 L430.9 325.4 L430.7 322.8 L430.4 324.0 L430.1 325.1 L429.9 324.4 L429.6 323.5 L429.3 325.7 L429.0 323.8 L428.8 327.4 L428.5 322.7 L428.2 323.7 L428.0 321.2 L427.7 324.8 L427.4 326.7 L427.1 326.7 L426.9 327.7 L426.6 325.5 L426.3 329.0 L426.1 328.8 L425.8 329.2 L425.5 330.5 L425.2 333.6 L425.0 334.8 L424.7 337.0 L424.4 340.3 L424.2 338.6 L423.9 341.7 L423.6 343.3 L423.3 343.4 L423.1 345.7 L422.8 347.2 L422.5 346.5 L422.3 349.7 L422.0 346.5 L421.7 348.7 L421.4 350.7 L421.2 350.7 L420.9 349.8 L420.6 348.2 L420.3 350.7 L420.1 348.0 L419.8 349.7 L419.5 344.0 L419.3 346.2 L419.0 344.6 L418.7 341.5 L418.4 343.1 L418.2 341.6 L417.9 340.0 L417.6 339.6 L417.4 338.4 L417.1 339.9 L416.8 340.3 L416.5 339.7 L416.3 341.4 L416.0 343.6 L415.7 340.6 L415.5 340.0 L415.2 342.8 L414.9 342.0 L414.6 343.3 L414.4 342.8 L414.1 344.8 L413.8 342.3 L413.6 342.0 L413.3 345.5 L413.0 348.6 L412.7 346.2 L412.5 349.2 L412.2 346.3 L411.9 347.5 L411.7 345.3 L411.4 345.4 L411.1 347.6 L410.8 345.7 L410.6 345.4 L410.3 348.7 L410.0 348.6 L409.8 349.5 L409.5 349.2 L409.2 348.6 L408.9 349.3 L408.7 352.2 L408.4 351.1 L408.1 350.5 L407.8 352.7 L407.6 351.3 L407.3 351.3 L407.0 354.9 L406.8 352.2 L406.5 353.5 L406.2 352.8 L405.9 352.9 L405.7 352.7 L405.4 354.6 L405.1 355.6 L404.9 355.4 L404.6 355.6 L404.3 356.6 L404.0 356.7 L403.8 359.4 L403.5 357.3 L403.2 357.2 L403.0 356.9 L402.7 354.0 L402.4 356.3 L402.1 354.6 L401.9 352.2 L401.6 351.5 L401.3 351.4 L401.1 348.3 L400.8 351.0 L400.5 352.5 L400.2 351.0 L400.0 349.4 L399.7 350.7 L399.4 351.7 L399.2 350.9 L398.9 348.7 L398.6 350.9 L398.3 350.3 L398.1 351.6 L397.8 348.6 L397.5 348.7 L397.3 349.8 L397.0 347.3 L396.7 349.2 L396.4 346.7 L396.2 346.4 L395.9 346.2 L395.6 342.9 L395.3 345.4 L395.1 342.5 L394.8 342.0 L394.5 342.8 L394.3 341.7 L394.0 341.7 L393.7 341.0 L393.4 340.7 L393.2 341.2 L392.9 338.3 L392.6 339.0 L392.4 341.9 L392.1 341.5 L391.8 343.9 L391.5 341.1 L391.3 340.8 L391.0 341.2 L390.7 341.6 L390.5 342.1 L390.2 343.2 L389.9 343.7 L389.6 345.3 L389.4 342.9 L389.1 341.9 L388.8 339.1 L388.6 341.0 L388.3 343.3 L388.0 344.0 L387.7 342.8 L387.5 343.1 L387.2 344.9 L386.9 342.8 L386.7 341.8 L386.4 344.0 L386.1 343.6 L385.8 341.5 L385.6 340.8 L385.3 342.3 L385.0 342.9 L384.8 344.0 L384.5 340.6 L384.2 343.8 L383.9 343.5 L383.7 343.4 L383.4 343.0 L383.1 342.6 L382.8 341.3 L382.6 341.3 L382.3 340.1 L382.0 341.1 L381.8 340.2 L381.5 340.7 L381.2 336.4 L380.9 336.7 L380.7 335.6 L380.4 335.2 L380.1 332.8 L379.9 331.8 L379.6 331.0 L379.3 330.7 L379.0 328.4 L378.8 328.4 L378.5 326.9 L378.2 328.0 L378.0 328.0 L377.7 325.4 L377.4 326.8 L377.1 324.9 L376.9 325.4 L376.6 324.9 L376.3 324.1 L376.1 323.6 L375.8 321.6 L375.5 321.6 L375.2 319.0 L375.0 319.1 L374.7 318.6 L374.4 317.2 L374.2 319.6 L373.9 318.9 L373.6 320.5 L373.3 318.7 L373.1 317.5 L372.8 317.2 L372.5 315.3 L372.3 319.7 L372.0 320.4 L371.7 319.0 L371.4 320.2 L371.2 319.6 L370.9 315.5 L370.6 319.1 L370.3 321.4 L370.1 319.1 L369.8 320.3 L369.5 322.2 L369.3 321.3 L369.0 319.3 L368.7 318.4 L368.4 320.5 L368.2 319.2 L367.9 319.9 L367.6 319.5 L367.4 317.1 L367.1 316.6 L366.8 321.3 L366.5 317.6 L366.3 317.7 L366.0 316.7 L365.7 317.0 L365.5 314.5 L365.2 317.0 L364.9 315.5 L364.6 315.5 L364.4 313.2 L364.1 316.0 L363.8 316.1 L363.6 312.1 L363.3 310.9 L363.0 311.0 L362.7 311.1 L362.5 310.2 L362.2 310.2 L361.9 307.7 L361.7 308.9 L361.4 307.8 L361.1 308.3 L360.8 306.5 L360.6 306.1 L360.3 309.9 L360.0 307.0 L359.8 308.8 L359.5 308.3 L359.2 308.7 L358.9 309.5 L358.7 310.0 L358.4 309.0 L358.1 310.9 L357.9 311.1 L357.6 309.4 L357.3 309.7 L357.0 313.1 L356.8 312.2 L356.5 312.2 L356.2 312.2 L355.9 313.6 L355.7 311.7 L355.4 311.8 L355.1 309.9 L354.9 309.5 L354.6 309.9 L354.3 309.7 L354.0 307.8 L353.8 309.6 L353.5 309.6 L353.2 308.2 L353.0 307.2 L352.7 306.2 L352.4 307.6 L352.1 306.2 L351.9 304.7 L351.6 306.6 L351.3 302.9 L351.1 301.6 L350.8 300.7 L350.5 298.0 L350.2 296.6 L350.0 297.9 L349.7 298.0 L349.4 296.4 L349.2 296.9 L348.9 297.8 L348.6 298.5 L348.3 297.2 L348.1 297.8 L347.8 301.8 L347.5 300.4 L347.3 300.4 L347.0 300.1 L346.7 303.8 L346.4 304.7 L346.2 304.5 L345.9 305.0 L345.6 308.2 L345.4 309.3 L345.1 308.1 L344.8 306.6 L344.5 310.0 L344.3 306.6 L344.0 308.8 L343.7 305.3 L343.4 306.2 L343.2 304.2 L342.9 304.4 L342.6 305.9 L342.4 304.1 L342.1 301.7 L341.8 301.9 L341.5 300.8 L341.3 298.9 L341.0 295.3 L340.7 295.4 L340.5 291.6 L340.2 290.9 L339.9 289.5 L339.6 287.9 L339.4 287.0 L339.1 285.3 L338.8 284.1 L338.6 284.9 L338.3 283.1 L338.0 281.3 L337.7 281.9 L337.5 282.0 L337.2 282.6 L336.9 277.9 L336.7 277.0 L336.4 276.9 L336.1 276.5 L335.8 274.7 L335.6 277.6 L335.3 277.3 L335.0 276.4 L334.8 273.7 L334.5 272.8 L334.2 274.3 L333.9 271.8 L333.7 272.7 L333.4 275.3 L333.1 274.5 L332.9 271.2 L332.6 271.8 L332.3 269.1 L332.0 268.6 L331.8 266.5 L331.5 271.5 L331.2 268.0 L330.9 269.6 L330.7 268.4 L330.4 271.3 L330.1 269.2 L329.9 268.8 L329.6 269.8 L329.3 269.5 L329.0 266.7 L328.8 270.0 L328.5 268.4 L328.2 267.5 L328.0 268.6 L327.7 269.5 L327.4 270.9 L327.1 273.4 L326.9 273.5 L326.6 277.8 L326.3 276.4 L326.1 281.3 L325.8 282.8 L325.5 282.3 L325.2 282.8 L325.0 287.0 L324.7 285.4 L324.4 287.0 L324.2 284.9 L323.9 287.9 L323.6 284.4 L323.3 287.3 L323.1 287.6 L322.8 288.2 L322.5 289.3 L322.3 288.5 L322.0 288.5 L321.7 288.4 L321.4 286.6 L321.2 284.4 L320.9 283.1 L320.6 284.3 L320.4 283.5 L320.1 280.7 L319.8 282.5 L319.5 281.9 L319.3 279.5 L319.0 277.6 L318.7 277.4 L318.4 276.7 L318.2 275.4 L317.9 275.1 L317.6 273.4 L317.4 271.9 L317.1 273.6 L316.8 274.2 L316.5 274.7 L316.3 273.3 L316.0 273.9 L315.7 273.1 L315.5 272.0 L315.2 270.0 L314.9 271.8 L314.6 269.2 L314.4 271.4 L314.1 270.1 L313.8 271.4 L313.6 270.1 L313.3 268.8 L313.0 270.9 L312.7 269.4 L312.5 271.1 L312.2 271.1 L311.9 270.5 L311.7 271.6 L311.4 268.3 L311.1 272.3 L310.8 271.7 L310.6 271.2 L310.3 271.0 L310.0 271.6 L309.8 268.4 L309.5 267.7 L309.2 269.1 L308.9 266.9 L308.7 271.0 L308.4 270.9 L308.1 271.5 L307.9 269.5 L307.6 272.1 L307.3 270.1 L307.0 273.9 L306.8 272.3 L306.5 269.1 L306.2 271.9 L305.9 269.5 L305.7 269.7 L305.4 271.3 L305.1 269.7 L304.9 271.9 L304.6 271.4 L304.3 272.2 L304.0 270.8 L303.8 271.5 L303.5 270.4 L303.2 269.7 L303.0 273.1 L302.7 270.1 L302.4 270.4 L302.1 269.3 L301.9 266.9 L301.6 270.0 L301.3 266.1 L301.1 266.7 L300.8 268.9 L300.5 268.7 L300.2 267.4 L300.0 264.9 L299.7 266.0 L299.4 266.0 L299.2 265.6 L298.9 266.4 L298.6 266.9 L298.3 264.7 L298.1 270.2 L297.8 265.7 L297.5 267.6 L297.3 268.6 L297.0 266.2 L296.7 269.3 L296.4 267.9 L296.2 269.7 L295.9 272.6 L295.6 270.1 L295.4 268.9 L295.1 270.1 L294.8 274.8 L294.5 274.2 L294.3 272.7 L294.0 269.2 L293.7 272.5 L293.4 271.8 L293.2 271.7 L292.9 273.5 L292.6 271.7 L292.4 271.4 L292.1 271.1 L291.8 270.8 L291.5 273.8 L291.3 273.3 L291.0 275.3 L290.7 276.1 L290.5 278.9 L290.2 278.1 L289.9 281.0 L289.6 282.6 L289.4 280.3 L289.1 282.3 L288.8 285.1 L288.6 281.1 L288.3 285.6 L288.0 286.6 L287.7 286.6 L287.5 286.6 L287.2 287.2 L286.9 292.5 L286.7 292.1 L286.4 290.7 L286.1 292.0 L285.8 289.3 L285.6 292.6 L285.3 295.1 L285.0 296.6 L284.8 296.3 L284.5 296.9 L284.2 298.1 L283.9 295.1 L283.7 299.1 L283.4 298.8 L283.1 295.3 L282.9 293.8 L282.6 291.9 L282.3 294.6 L282.0 297.1 L281.8 295.0 L281.5 294.5 L281.2 295.4 L280.9 294.4 L280.7 293.3 L280.4 292.8 L280.1 293.5 L279.9 292.3 L279.6 293.1 L279.3 291.4 L279.0 292.0 L278.8 293.9 L278.5 290.5 L278.2 294.1 L278.0 292.1 L277.7 290.4 L277.4 290.7 L277.1 289.1 L276.9 293.4 L276.6 293.3 L276.3 293.3 L276.1 290.9 L275.8 291.8 L275.5 292.6 L275.2 295.5 L275.0 294.6 L274.7 299.6 L274.4 296.4 L274.2 302.1 L273.9 302.7 L273.6 304.5 L273.3 305.2 L273.1 301.3 L272.8 302.6 L272.5 305.5 L272.3 307.5 L272.0 308.7 L271.7 307.4 L271.4 308.0 L271.2 309.1 L270.9 309.7 L270.6 309.7 L270.4 309.1 L270.1 310.7 L269.8 314.2 L269.5 311.8 L269.3 312.3 L269.0 312.4 L268.7 315.3 L268.5 313.6 L268.2 313.6 L267.9 312.0 L267.6 312.4 L267.4 312.7 L267.1 311.5 L266.8 310.2 L266.5 313.5 L266.3 314.5 L266.0 313.6 L265.7 315.3 L265.5 316.1 L265.2 316.5 L264.9 314.3 L264.6 313.4 L264.4 315.9 L264.1 317.8 L263.8 317.7 L263.6 318.8 L263.3 319.2 L263.0 317.5 L262.7 316.7 L262.5 321.8 L262.2 321.2 L261.9 320.2 L261.7 321.3 L261.4 320.8 L261.1 319.9 L260.8 319.1 L260.6 322.2 L260.3 324.0 L260.0 322.9 L259.8 326.3 L259.5 327.6 L259.2 327.2 L258.9 326.9 L258.7 326.6 L258.4 328.8 L258.1 332.2 L257.9 331.8 L257.6 331.3 L257.3 337.5 L257.0 335.5 L256.8 337.4 L256.5 339.4 L256.2 337.0 L256.0 339.7 L255.7 336.9 L255.4 340.6 L255.1 339.6 L254.9 340.7 L254.6 339.8 L254.3 341.0 L254.0 342.5 L253.8 342.2 L253.5 342.6 L253.2 343.4 L253.0 340.2 L252.7 340.1 L252.4 340.9 L252.1 342.4 L251.9 341.5 L251.6 345.9 L251.3 341.5 L251.1 342.9 L250.8 343.4 L250.5 344.6 L250.2 346.6 L250.0 345.5 L249.7 345.9 L249.4 348.3 L249.2 350.0 L248.9 353.0 L248.6 355.5 L248.3 356.2 L248.1 359.1 L247.8 355.8 L247.5 361.4 L247.3 363.1 L247.0 361.9 L246.7 367.0 L246.4 366.2 L246.2 367.4 L245.9 366.8 L245.6 369.2 L245.4 369.7 L245.1 370.9 L244.8 372.6 L244.5 371.3 L244.3 371.0 L244.0 368.3 L243.7 370.6 L243.5 369.0 L243.2 370.6 L242.9 370.3 L242.6 369.8 L242.4 367.4 L242.1 365.2 L241.8 366.3 L241.5 368.9 L241.3 366.2 L241.0 362.8 L240.7 363.9 L240.5 361.9 L240.2 363.0 L239.9 359.8 L239.6 360.0 L239.4 364.0 L239.1 361.5 L238.8 360.8 L238.6 360.9 L238.3 363.1 L238.0 363.7 L237.7 363.8 L237.5 362.3 L237.2 362.0 L236.9 361.8 L236.7 364.9 L236.4 364.0 L236.1 362.3 L235.8 364.8 L235.6 363.3 L235.3 363.2 L235.0 360.7 L234.8 364.3 L234.5 365.6 L234.2 365.5 L233.9 361.9 L233.7 364.9 L233.4 364.8 L233.1 364.8 L232.9 364.5 L232.6 366.0 L232.3 365.3 L232.0 365.3 L231.8 365.6 L231.5 365.7 L231.2 368.1 L231.0 368.5 L230.7 369.0 L230.4 368.4 L230.1 366.1 L229.9 367.3 L229.6 370.1 L229.3 368.7 L229.0 373.4 L228.8 369.6 L228.5 372.1 L228.2 374.2 L228.0 374.9 L227.7 375.1 L227.4 374.9 L227.1 378.1 L226.9 377.9 L226.6 381.8 L226.3 383.6 L226.1 384.9 L225.8 387.9 L225.5 389.3 L225.2 391.9 L225.0 394.4 L224.7 398.2 L224.4 397.5 L224.2 402.1 L223.9 401.4 L223.6 403.4 L223.3 403.3 L223.1 402.0 L222.8 398.5 L222.5 394.5 L222.3 394.0 L222.0 390.9 L221.7 388.2 L221.4 386.0 L221.2 386.4 L220.9 385.7 L220.6 383.3 L220.4 380.2 L220.1 380.1 L219.8 377.4 L219.5 376.3 L219.3 376.0 L219.0 372.6 L218.7 373.0 L218.5 370.9 L218.2 368.0 L217.9 367.2 L217.6 367.7 L217.4 364.9 L217.1 363.7 L216.8 361.0 L216.5 362.0 L216.3 361.9 L216.0 360.2 L215.7 360.7 L215.5 357.2 L215.2 358.2 L214.9 357.5 L214.6 355.3 L214.4 355.0 L214.1 355.5 L213.8 354.3 L213.6 353.4 L213.3 351.1 L213.0 358.0 L212.7 353.5 L212.5 351.6 L212.2 350.6 L211.9 348.2 L211.7 347.7 L211.4 346.0 L211.1 345.3 L210.8 346.7 L210.6 346.0 L210.3 339.6 L210.0 342.0 L209.8 343.2 L209.5 336.7 L209.2 340.1 L208.9 339.7 L208.7 339.9 L208.4 336.2 L208.1 337.5 L207.9 335.4 L207.6 336.1 L207.3 331.3 L207.0 332.9 L206.8 331.7 L206.5 331.4 L206.2 329.0 L206.0 331.3 L205.7 330.5 L205.4 324.8 L205.1 324.2 L204.9 324.2 L204.6 322.6 L204.3 321.2 L204.0 323.6 L203.8 322.6 L203.5 317.4 L203.2 317.4 L203.0 315.1 L202.7 315.8 L202.4 314.2 L202.1 313.1 L201.9 312.4 L201.6 309.9 L201.3 309.0 L201.1 310.3 L200.8 308.7 L200.5 308.2 L200.2 301.0 L200.0 301.9 L199.7 299.2 L199.4 298.4 L199.2 297.8 L198.9 294.3 L198.6 292.7 L198.3 290.8 L198.1 292.1 L197.8 290.8 L197.5 285.7 L197.3 284.3 L197.0 286.0 L196.7 284.4 L196.4 282.8 L196.2 282.2 L195.9 283.1 L195.6 284.0 L195.4 280.2 L195.1 279.9 L194.8 279.7 L194.5 277.1 L194.3 277.0 L194.0 278.6 L193.7 277.1 L193.5 278.6 L193.2 278.4 L192.9 274.2 L192.6 274.0 L192.4 271.7 L192.1 270.9 L191.8 272.1 L191.6 271.4 L191.3 269.3 L191.0 269.5 L190.7 267.4 L190.5 266.1 L190.2 264.7 L189.9 263.0 L189.6 264.6 L189.4 262.4 L189.1 261.3 L188.8 262.1 L188.6 262.1 L188.3 258.5 L188.0 260.5 L187.7 258.4 L187.5 259.1 L187.2 256.0 L186.9 254.6 L186.7 256.8 L186.4 251.4 L186.1 251.4 L185.8 246.5 L185.6 246.3 L185.3 247.2 L185.0 243.9 L184.8 244.6 L184.5 239.9 L184.2 237.4 L183.9 241.0 L183.7 237.5 L183.4 235.2 L183.1 234.6 L182.9 233.2 L182.6 228.7 L182.3 227.9 L182.0 227.1 L181.8 225.8 L181.5 222.8 L181.2 220.1 L181.0 220.2 L180.7 217.0 L180.4 214.2 L180.1 212.6 L179.9 212.9 L179.6 212.0 L179.3 211.5 L179.1 207.0 L178.8 206.0 L178.5 206.9 L178.2 202.6 L178.0 201.5 L177.7 201.1 L177.4 197.0 L177.1 196.3 L176.9 196.5 L176.6 195.3 L176.3 193.6 L176.1 193.2 L175.8 191.7 L175.5 190.3 L175.2 187.4 L175.0 190.0 L174.7 187.1 L174.4 187.1 L174.2 187.8 L173.9 185.2 L173.6 182.6 L173.3 183.2 L173.1 182.5 L172.8 182.4 L172.5 181.5 L172.3 180.3 L172.0 180.7 L171.7 179.8 L171.4 179.8 L171.2 180.5 L170.9 181.1 L170.6 182.9 L170.4 182.3 L170.1 184.2 L169.8 182.2 L169.5 184.2 L169.3 188.2 L169.0 185.5 L168.7 184.6 L168.5 183.4 L168.2 186.0 L167.9 183.6 L167.6 186.8 L167.4 186.9 L167.1 187.9 L166.8 186.0 L166.6 187.4 L166.3 187.9 L166.0 187.5 L165.7 187.2 L165.5 188.3 L165.2 186.0 L164.9 185.9 L164.6 187.8 L164.4 189.4 L164.1 187.6 L163.8 190.5 L163.6 189.3 L163.3 190.6 L163.0 189.1 L162.7 191.0 L162.5 192.8 L162.2 193.1 L161.9 195.4 L161.7 195.1 L161.4 196.6 L161.1 197.1 L160.8 195.1 L160.6 195.8 L160.3 195.9 L160.0 196.6 L159.8 196.9 L159.5 199.4 L159.2 199.0 L158.9 197.8 L158.7 198.8 L158.4 201.5 L158.1 199.4 L157.9 199.3 L157.6 202.0 L157.3 201.3 L157.0 201.8 L156.8 201.5 L156.5 201.8 L156.2 201.0 L156.0 202.0 L155.7 200.6 L155.4 204.5 L155.1 200.3 L154.9 200.5 L154.6 199.9 L154.3 200.1 L154.1 198.4 L153.8 199.3 L153.5 200.3 L153.2 195.7 L153.0 199.8 L152.7 199.3 L152.4 198.3 L152.1 202.3 L151.9 200.8 L151.6 199.9 L151.3 202.7 L151.1 204.8 L150.8 204.0 L150.5 203.4 L150.2 207.9 L150.0 207.7 L149.7 209.7 L149.4 212.8 L149.2 214.4 L148.9 214.5 L148.6 213.4 L148.3 218.4 L148.1 218.0 L147.8 222.0 L147.5 223.1 L147.3 222.6 L147.0 220.5 L146.7 223.6 L146.4 224.3 L146.2 222.2 L145.9 221.8 L145.6 221.8 L145.4 223.1 L145.1 223.4 L144.8 222.8 L144.5 223.6 L144.3 224.7 L144.0 224.9 L143.7 222.8 L143.5 221.5 L143.2 222.1 L142.9 221.2 L142.6 221.8 L142.4 218.1 L142.1 219.0 L141.8 218.1 L141.6 218.9 L141.3 217.3 L141.0 215.1 L140.7 213.4 L140.5 215.5 L140.2 213.0 L139.9 214.6 L139.6 213.3 L139.4 209.9 L139.1 211.4 L138.8 209.2 L138.6 211.8 L138.3 210.4 L138.0 209.3 L137.7 209.9 L137.5 206.1 L137.2 210.1 L136.9 207.4 L136.7 209.1 L136.4 211.3 L136.1 208.4 L135.8 211.9 L135.6 210.4 L135.3 208.9 L135.0 211.3 L134.8 209.2 L134.5 209.6 L134.2 210.0 L133.9 211.9 L133.7 210.1 L133.4 207.8 L133.1 208.5 L132.9 208.9 L132.6 211.0 L132.3 212.3 L132.0 212.8 L131.8 211.7 L131.5 213.0 L131.2 212.3 L131.0 214.1 L130.7 211.8 L130.4 211.7 L130.1 214.5 L129.9 217.8 L129.6 222.0 L129.3 219.5 L129.1 219.6 L128.8 222.7 L128.5 220.4 L128.2 224.4 L128.0 226.4 L127.7 227.6 L127.4 230.3 L127.1 229.0 L126.9 233.1 L126.6 232.1 L126.3 236.4 L126.1 237.0 L125.8 238.9 L125.5 238.5 L125.2 238.3 L125.0 243.5 L124.7 241.0 L124.4 238.3 L124.2 237.9 L123.9 241.0 L123.6 240.9 L123.3 241.4 L123.1 242.9 L122.8 241.3 L122.5 243.6 L122.3 242.1 L122.0 244.3 L121.7 240.8 L121.4 240.8 L121.2 243.8 L120.9 240.3 L120.9 174.3 L121.2 172.4 L121.4 172.2 L121.7 171.0 L122.0 175.6 L122.3 174.4 L122.5 174.7 L122.8 176.3 L123.1 176.8 L123.3 174.7 L123.6 173.8 L123.9 174.0 L124.2 174.7 L124.4 175.0 L124.7 172.1 L125.0 172.2 L125.2 172.8 L125.5 172.7 L125.8 169.0 L126.1 166.2 L126.3 166.6 L126.6 162.4 L126.9 162.3 L127.1 161.3 L127.4 158.6 L127.7 156.4 L128.0 155.3 L128.2 151.5 L128.5 150.9 L128.8 149.4 L129.1 148.1 L129.3 147.1 L129.6 144.7 L129.9 143.5 L130.1 143.5 L130.4 142.6 L130.7 141.3 L131.0 142.2 L131.2 138.6 L131.5 142.2 L131.8 139.3 L132.0 137.9 L132.3 140.3 L132.6 141.3 L132.9 143.4 L133.1 140.4 L133.4 142.5 L133.7 142.2 L133.9 139.7 L134.2 139.6 L134.5 141.8 L134.8 142.4 L135.0 142.8 L135.3 140.9 L135.6 141.0 L135.8 140.0 L136.1 141.7 L136.4 138.6 L136.7 140.5 L136.9 141.1 L137.2 139.2 L137.5 142.1 L137.7 139.4 L138.0 140.5 L138.3 142.8 L138.6 138.8 L138.8 139.2 L139.1 142.3 L139.4 139.2 L139.6 139.5 L139.9 141.9 L140.2 142.7 L140.5 143.1 L140.7 144.1 L141.0 146.0 L141.3 146.0 L141.6 145.5 L141.8 143.2 L142.1 144.3 L142.4 144.3 L142.6 148.9 L142.9 146.8 L143.2 152.2 L143.5 153.4 L143.7 150.7 L144.0 153.0 L144.3 153.6 L144.5 156.9 L144.8 154.7 L145.1 155.6 L145.4 154.1 L145.6 155.0 L145.9 157.5 L146.2 154.8 L146.4 156.0 L146.7 156.1 L147.0 156.1 L147.3 151.4 L147.5 153.7 L147.8 152.1 L148.1 153.0 L148.3 150.2 L148.6 146.4 L148.9 145.0 L149.2 144.2 L149.4 141.0 L149.7 140.4 L150.0 141.5 L150.2 141.0 L150.5 136.8 L150.8 138.6 L151.1 133.2 L151.3 132.7 L151.6 135.7 L151.9 133.7 L152.1 134.6 L152.4 134.4 L152.7 133.5 L153.0 134.1 L153.2 132.5 L153.5 130.3 L153.8 132.6 L154.1 132.7 L154.3 134.8 L154.6 130.7 L154.9 133.4 L155.1 133.0 L155.4 133.8 L155.7 136.2 L156.0 134.1 L156.2 133.5 L156.5 133.4 L156.8 134.1 L157.0 131.4 L157.3 132.1 L157.6 133.5 L157.9 132.9 L158.1 132.0 L158.4 131.3 L158.7 130.8 L158.9 127.5 L159.2 131.3 L159.5 128.6 L159.8 127.0 L160.0 124.7 L160.3 125.1 L160.6 125.3 L160.8 124.5 L161.1 122.0 L161.4 123.1 L161.7 123.2 L161.9 120.4 L162.2 120.6 L162.5 119.7 L162.7 117.4 L163.0 119.9 L163.3 119.2 L163.6 119.1 L163.8 116.6 L164.1 116.8 L164.4 117.5 L164.6 116.9 L164.9 117.8 L165.2 116.1 L165.5 117.2 L165.7 118.5 L166.0 118.5 L166.3 118.6 L166.6 116.6 L166.8 118.0 L167.1 116.5 L167.4 117.6 L167.6 116.7 L167.9 117.2 L168.2 117.5 L168.5 118.1 L168.7 118.1 L169.0 117.1 L169.3 115.0 L169.5 116.1 L169.8 114.4 L170.1 118.1 L170.4 115.2 L170.6 115.3 L170.9 113.9 L171.2 111.0 L171.4 111.3 L171.7 113.5 L172.0 115.4 L172.3 113.2 L172.5 114.9 L172.8 115.8 L173.1 114.3 L173.3 115.0 L173.6 116.2 L173.9 118.0 L174.2 118.8 L174.4 122.3 L174.7 120.9 L175.0 122.2 L175.2 125.6 L175.5 126.3 L175.8 123.2 L176.1 125.8 L176.3 129.6 L176.6 128.2 L176.9 130.0 L177.1 130.6 L177.4 130.9 L177.7 131.9 L178.0 135.1 L178.2 138.1 L178.5 139.8 L178.8 138.5 L179.1 136.8 L179.3 139.2 L179.6 140.3 L179.9 141.4 L180.1 141.4 L180.4 140.4 L180.7 145.6 L181.0 143.5 L181.2 147.4 L181.5 151.6 L181.8 153.8 L182.0 157.4 L182.3 153.2 L182.6 158.2 L182.9 159.4 L183.1 160.2 L183.4 163.5 L183.7 163.8 L183.9 167.8 L184.2 169.6 L184.5 168.8 L184.8 171.1 L185.0 174.1 L185.3 175.3 L185.6 179.5 L185.8 179.8 L186.1 182.8 L186.4 183.9 L186.7 183.1 L186.9 183.9 L187.2 184.4 L187.5 185.8 L187.7 186.7 L188.0 188.7 L188.3 188.4 L188.6 190.3 L188.8 191.3 L189.1 191.8 L189.4 193.7 L189.6 196.4 L189.9 197.3 L190.2 195.5 L190.5 197.0 L190.7 198.6 L191.0 200.1 L191.3 203.2 L191.6 202.2 L191.8 204.3 L192.1 205.8 L192.4 202.8 L192.6 203.4 L192.9 204.4 L193.2 206.8 L193.5 205.0 L193.7 206.8 L194.0 208.5 L194.3 210.6 L194.5 210.7 L194.8 210.0 L195.1 209.8 L195.4 214.2 L195.6 214.5 L195.9 213.3 L196.2 215.0 L196.4 217.0 L196.7 216.0 L197.0 219.7 L197.3 220.4 L197.5 221.5 L197.8 223.8 L198.1 223.4 L198.3 226.0 L198.6 227.8 L198.9 229.0 L199.2 230.5 L199.4 234.4 L199.7 233.5 L200.0 238.1 L200.2 236.6 L200.5 241.1 L200.8 242.8 L201.1 242.8 L201.3 242.4 L201.6 249.8 L201.9 247.2 L202.1 247.2 L202.4 249.1 L202.7 250.6 L203.0 250.9 L203.2 252.1 L203.5 251.0 L203.8 255.3 L204.0 253.6 L204.3 255.8 L204.6 257.4 L204.9 258.5 L205.1 257.5 L205.4 258.1 L205.7 259.6 L206.0 257.8 L206.2 261.4 L206.5 262.9 L206.8 262.8 L207.0 264.6 L207.3 264.6 L207.6 268.2 L207.9 269.3 L208.1 266.1 L208.4 270.0 L208.7 269.3 L208.9 271.5 L209.2 271.2 L209.5 272.8 L209.8 272.4 L210.0 275.3 L210.3 274.4 L210.6 273.0 L210.8 275.9 L211.1 276.6 L211.4 277.0 L211.7 277.0 L211.9 281.5 L212.2 279.7 L212.5 283.1 L212.7 281.4 L213.0 284.4 L213.3 281.6 L213.6 285.8 L213.8 284.5 L214.1 288.5 L214.4 290.4 L214.6 287.6 L214.9 289.5 L215.2 293.1 L215.5 293.0 L215.7 292.3 L216.0 295.9 L216.3 294.8 L216.5 297.8 L216.8 298.0 L217.1 296.6 L217.4 299.2 L217.6 302.8 L217.9 300.5 L218.2 304.1 L218.5 307.2 L218.7 309.6 L219.0 311.6 L219.3 310.0 L219.5 315.8 L219.8 315.1 L220.1 317.7 L220.4 318.2 L220.6 318.8 L220.9 319.0 L221.2 320.9 L221.4 325.5 L221.7 323.5 L222.0 323.6 L222.3 329.8 L222.5 332.2 L222.8 335.2 L223.1 338.9 L223.3 336.4 L223.6 338.3 L223.9 337.6 L224.2 337.0 L224.4 335.2 L224.7 330.5 L225.0 327.2 L225.2 327.1 L225.5 324.0 L225.8 325.4 L226.1 320.5 L226.3 319.0 L226.6 316.1 L226.9 316.6 L227.1 313.3 L227.4 310.3 L227.7 309.7 L228.0 306.6 L228.2 305.7 L228.5 305.8 L228.8 301.4 L229.0 301.9 L229.3 301.7 L229.6 302.4 L229.9 301.1 L230.1 299.2 L230.4 297.9 L230.7 299.2 L231.0 297.9 L231.2 299.8 L231.5 297.6 L231.8 297.5 L232.0 295.1 L232.3 294.9 L232.6 294.6 L232.9 297.0 L233.1 294.8 L233.4 293.5 L233.7 291.0 L233.9 293.7 L234.2 288.4 L234.5 294.0 L234.8 290.9 L235.0 290.9 L235.3 289.1 L235.6 288.4 L235.8 290.8 L236.1 289.1 L236.4 291.2 L236.7 292.0 L236.9 291.4 L237.2 287.0 L237.5 288.8 L237.7 288.7 L238.0 288.8 L238.3 288.3 L238.6 288.3 L238.8 290.0 L239.1 291.3 L239.4 292.7 L239.6 292.4 L239.9 294.7 L240.2 290.4 L240.5 292.5 L240.7 295.5 L241.0 296.2 L241.3 296.5 L241.5 299.5 L241.8 300.9 L242.1 301.5 L242.4 299.5 L242.6 300.7 L242.9 300.3 L243.2 300.6 L243.5 301.7 L243.7 300.1 L244.0 300.9 L244.3 298.4 L244.5 302.6 L244.8 303.1 L245.1 301.0 L245.4 300.8 L245.6 295.9 L245.9 297.4 L246.2 295.9 L246.4 297.2 L246.7 296.6 L247.0 292.8 L247.3 292.6 L247.5 290.9 L247.8 292.0 L248.1 286.5 L248.3 285.0 L248.6 284.1 L248.9 282.1 L249.2 280.7 L249.4 277.2 L249.7 277.1 L250.0 278.5 L250.2 275.6 L250.5 273.8 L250.8 272.6 L251.1 274.7 L251.3 273.2 L251.6 271.8 L251.9 273.9 L252.1 271.4 L252.4 271.9 L252.7 273.2 L253.0 272.9 L253.2 273.5 L253.5 272.2 L253.8 271.6 L254.0 272.7 L254.3 271.7 L254.6 272.7 L254.9 271.5 L255.1 272.1 L255.4 272.8 L255.7 272.8 L256.0 270.1 L256.2 270.3 L256.5 270.1 L256.8 270.7 L257.0 267.3 L257.3 268.9 L257.6 264.6 L257.9 264.5 L258.1 266.4 L258.4 262.8 L258.7 263.2 L258.9 257.0 L259.2 258.7 L259.5 258.3 L259.8 258.5 L260.0 256.4 L260.3 258.6 L260.6 253.9 L260.8 258.0 L261.1 256.3 L261.4 256.9 L261.7 253.8 L261.9 252.4 L262.2 251.9 L262.5 251.3 L262.7 251.2 L263.0 248.9 L263.3 250.5 L263.6 250.5 L263.8 250.9 L264.1 247.0 L264.4 247.6 L264.6 248.9 L264.9 248.1 L265.2 246.7 L265.5 247.5 L265.7 247.4 L266.0 247.3 L266.3 245.9 L266.5 246.2 L266.8 245.6 L267.1 247.6 L267.4 249.8 L267.6 246.6 L267.9 248.3 L268.2 248.6 L268.5 246.5 L268.7 248.8 L269.0 245.8 L269.3 248.0 L269.5 244.9 L269.8 242.5 L270.1 244.6 L270.4 246.4 L270.6 243.0 L270.9 243.1 L271.2 240.5 L271.4 239.5 L271.7 241.8 L272.0 239.9 L272.3 240.0 L272.5 239.9 L272.8 235.3 L273.1 235.4 L273.3 235.1 L273.6 237.2 L273.9 233.2 L274.2 232.1 L274.4 232.2 L274.7 234.0 L275.0 229.8 L275.2 228.8 L275.5 227.3 L275.8 227.0 L276.1 228.5 L276.3 224.3 L276.6 222.9 L276.9 225.0 L277.1 224.5 L277.4 221.0 L277.7 223.9 L278.0 225.1 L278.2 223.0 L278.5 225.4 L278.8 224.6 L279.0 224.6 L279.3 224.4 L279.6 224.4 L279.9 225.6 L280.1 223.3 L280.4 225.0 L280.7 225.9 L280.9 224.5 L281.2 224.6 L281.5 225.0 L281.8 225.9 L282.0 230.2 L282.3 228.3 L282.6 229.9 L282.9 228.1 L283.1 228.0 L283.4 226.8 L283.7 227.6 L283.9 227.0 L284.2 228.5 L284.5 225.5 L284.8 227.1 L285.0 226.8 L285.3 226.3 L285.6 225.3 L285.8 225.2 L286.1 223.7 L286.4 222.6 L286.7 221.6 L286.9 220.5 L287.2 220.8 L287.5 218.2 L287.7 216.3 L288.0 217.8 L288.3 217.9 L288.6 217.2 L288.8 213.7 L289.1 215.4 L289.4 214.2 L289.6 213.5 L289.9 213.7 L290.2 210.6 L290.5 210.9 L290.7 208.7 L291.0 209.5 L291.3 209.2 L291.5 208.1 L291.8 207.9 L292.1 204.9 L292.4 206.1 L292.6 203.0 L292.9 208.0 L293.2 205.4 L293.4 201.6 L293.7 199.0 L294.0 204.1 L294.3 200.6 L294.5 202.1 L294.8 199.0 L295.1 201.0 L295.4 200.4 L295.6 202.0 L295.9 200.9 L296.2 203.1 L296.4 198.0 L296.7 199.8 L297.0 198.0 L297.3 198.2 L297.5 194.3 L297.8 192.8 L298.1 195.9 L298.3 193.8 L298.6 194.4 L298.9 195.0 L299.2 193.8 L299.4 195.7 L299.7 193.8 L300.0 193.6 L300.2 196.1 L300.5 193.6 L300.8 196.2 L301.1 195.5 L301.3 197.0 L301.6 195.6 L301.9 194.1 L302.1 195.3 L302.4 196.2 L302.7 198.8 L303.0 198.9 L303.2 198.7 L303.5 199.2 L303.8 199.4 L304.0 200.5 L304.3 200.4 L304.6 200.3 L304.9 200.3 L305.1 201.3 L305.4 200.2 L305.7 200.9 L305.9 200.5 L306.2 199.9 L306.5 199.4 L306.8 198.4 L307.0 198.1 L307.3 199.2 L307.6 199.6 L307.9 196.0 L308.1 199.9 L308.4 195.7 L308.7 198.5 L308.9 199.0 L309.2 201.4 L309.5 199.3 L309.8 197.7 L310.0 197.5 L310.3 198.7 L310.6 200.1 L310.8 198.0 L311.1 194.8 L311.4 196.1 L311.7 197.3 L311.9 200.6 L312.2 194.7 L312.5 195.3 L312.7 196.5 L313.0 196.8 L313.3 194.0 L313.6 196.3 L313.8 194.0 L314.1 195.5 L314.4 197.8 L314.6 194.5 L314.9 195.2 L315.2 197.5 L315.5 195.6 L315.7 195.2 L316.0 196.1 L316.3 199.0 L316.5 197.2 L316.8 198.8 L317.1 198.7 L317.4 200.4 L317.6 204.2 L317.9 203.1 L318.2 202.9 L318.4 205.6 L318.7 205.3 L319.0 205.7 L319.3 209.3 L319.5 210.5 L319.8 208.2 L320.1 211.5 L320.4 214.0 L320.6 213.5 L320.9 213.8 L321.2 211.7 L321.4 214.5 L321.7 212.8 L322.0 217.7 L322.3 215.9 L322.5 217.4 L322.8 216.3 L323.1 217.7 L323.3 214.6 L323.6 216.4 L323.9 217.1 L324.2 216.4 L324.4 215.4 L324.7 213.7 L325.0 216.7 L325.2 215.2 L325.5 215.9 L325.8 214.1 L326.1 210.3 L326.3 210.2 L326.6 211.9 L326.9 206.8 L327.1 207.8 L327.4 205.5 L327.7 208.0 L328.0 204.9 L328.2 204.1 L328.5 204.6 L328.8 202.9 L329.0 202.8 L329.3 201.9 L329.6 204.7 L329.9 203.4 L330.1 204.4 L330.4 204.1 L330.7 205.3 L330.9 207.0 L331.2 202.9 L331.5 203.6 L331.8 206.5 L332.0 208.1 L332.3 202.8 L332.6 201.8 L332.9 204.2 L333.1 204.3 L333.4 205.8 L333.7 205.2 L333.9 207.0 L334.2 207.0 L334.5 206.0 L334.8 205.8 L335.0 209.2 L335.3 210.7 L335.6 209.2 L335.8 213.5 L336.1 212.8 L336.4 211.9 L336.7 212.6 L336.9 212.7 L337.2 214.5 L337.5 215.5 L337.7 215.0 L338.0 212.9 L338.3 216.4 L338.6 216.9 L338.8 217.0 L339.1 220.1 L339.4 218.2 L339.6 222.4 L339.9 222.3 L340.2 222.9 L340.5 224.2 L340.7 229.5 L341.0 230.7 L341.3 229.7 L341.5 232.6 L341.8 235.4 L342.1 234.0 L342.4 235.0 L342.6 237.9 L342.9 239.2 L343.2 240.2 L343.4 244.2 L343.7 243.4 L344.0 243.4 L344.3 245.9 L344.5 242.9 L344.8 245.1 L345.1 241.8 L345.4 239.9 L345.6 239.2 L345.9 240.3 L346.2 239.5 L346.4 237.2 L346.7 233.5 L347.0 232.6 L347.3 233.3 L347.5 233.4 L347.8 233.7 L348.1 228.2 L348.3 231.0 L348.6 230.3 L348.9 230.6 L349.2 230.9 L349.4 229.1 L349.7 229.3 L350.0 232.9 L350.2 232.7 L350.5 231.1 L350.8 232.5 L351.1 233.2 L351.3 233.2 L351.6 236.0 L351.9 234.7 L352.1 234.3 L352.4 235.5 L352.7 239.7 L353.0 238.9 L353.2 239.2 L353.5 239.4 L353.8 240.8 L354.0 241.4 L354.3 238.2 L354.6 239.9 L354.9 238.8 L355.1 241.1 L355.4 240.6 L355.7 238.9 L355.9 242.5 L356.2 242.5 L356.5 240.4 L356.8 244.2 L357.0 242.5 L357.3 242.3 L357.6 241.0 L357.9 241.0 L358.1 239.7 L358.4 237.9 L358.7 238.3 L358.9 238.6 L359.2 237.1 L359.5 236.5 L359.8 235.5 L360.0 232.2 L360.3 236.3 L360.6 234.2 L360.8 233.6 L361.1 235.3 L361.4 233.2 L361.7 236.0 L361.9 235.1 L362.2 239.6 L362.5 237.6 L362.7 236.7 L363.0 237.8 L363.3 236.9 L363.6 239.6 L363.8 240.5 L364.1 242.0 L364.4 240.6 L364.6 243.9 L364.9 246.1 L365.2 244.6 L365.5 244.9 L365.7 246.4 L366.0 244.9 L366.3 245.5 L366.5 247.5 L366.8 247.0 L367.1 244.7 L367.4 245.0 L367.6 250.3 L367.9 247.6 L368.2 246.0 L368.4 248.3 L368.7 248.2 L369.0 247.6 L369.3 245.5 L369.5 251.3 L369.8 250.2 L370.1 249.1 L370.3 251.6 L370.6 250.3 L370.9 249.1 L371.2 251.8 L371.4 248.7 L371.7 253.1 L372.0 253.4 L372.3 254.2 L372.5 254.1 L372.8 255.0 L373.1 254.2 L373.3 253.6 L373.6 251.4 L373.9 252.4 L374.2 250.1 L374.4 249.7 L374.7 252.3 L375.0 252.2 L375.2 252.7 L375.5 248.2 L375.8 252.2 L376.1 252.7 L376.3 252.3 L376.6 254.0 L376.9 252.6 L377.1 254.9 L377.4 254.9 L377.7 256.2 L378.0 255.1 L378.2 257.9 L378.5 259.5 L378.8 259.5 L379.0 260.4 L379.3 259.1 L379.6 263.2 L379.9 260.6 L380.1 262.4 L380.4 264.2 L380.7 265.0 L380.9 266.3 L381.2 267.2 L381.5 270.9 L381.8 269.8 L382.0 270.5 L382.3 270.1 L382.6 271.8 L382.8 274.1 L383.1 272.9 L383.4 272.0 L383.7 273.0 L383.9 273.4 L384.2 273.7 L384.5 272.2 L384.8 276.6 L385.0 274.1 L385.3 274.4 L385.6 274.2 L385.8 274.9 L386.1 277.4 L386.4 273.6 L386.7 274.0 L386.9 273.7 L387.2 274.0 L387.5 276.4 L387.7 272.8 L388.0 272.0 L388.3 269.6 L388.6 271.2 L388.8 271.0 L389.1 270.6 L389.4 269.9 L389.6 271.4 L389.9 270.6 L390.2 269.8 L390.5 269.3 L390.7 269.1 L391.0 272.5 L391.3 268.9 L391.5 271.5 L391.8 271.3 L392.1 269.9 L392.4 271.8 L392.6 269.9 L392.9 273.5 L393.2 270.7 L393.4 273.6 L393.7 275.1 L394.0 272.8 L394.3 277.0 L394.5 275.4 L394.8 271.8 L395.1 276.8 L395.3 277.6 L395.6 274.9 L395.9 274.3 L396.2 274.7 L396.4 271.7 L396.7 274.7 L397.0 275.6 L397.3 275.4 L397.5 277.5 L397.8 279.6 L398.1 275.2 L398.3 275.3 L398.6 277.6 L398.9 279.7 L399.2 279.4 L399.4 278.6 L399.7 279.4 L400.0 281.9 L400.2 286.1 L400.5 282.3 L400.8 283.7 L401.1 285.0 L401.3 283.5 L401.6 281.5 L401.9 285.4 L402.1 284.3 L402.4 284.3 L402.7 285.4 L403.0 287.0 L403.2 285.7 L403.5 287.0 L403.8 287.3 L404.0 287.0 L404.3 283.2 L404.6 283.6 L404.9 282.5 L405.1 283.0 L405.4 283.5 L405.7 283.6 L405.9 282.5 L406.2 281.5 L406.5 283.5 L406.8 282.2 L407.0 284.9 L407.3 282.4 L407.6 280.8 L407.8 281.7 L408.1 278.9 L408.4 279.4 L408.7 278.8 L408.9 279.1 L409.2 279.6 L409.5 277.7 L409.8 276.9 L410.0 275.3 L410.3 275.6 L410.6 274.4 L410.8 276.0 L411.1 273.5 L411.4 275.4 L411.7 275.4 L411.9 275.3 L412.2 273.7 L412.5 274.2 L412.7 273.0 L413.0 272.8 L413.3 274.6 L413.6 273.6 L413.8 270.5 L414.1 271.1 L414.4 273.0 L414.6 271.5 L414.9 271.1 L415.2 273.5 L415.5 270.8 L415.7 271.5 L416.0 272.7 L416.3 271.0 L416.5 271.6 L416.8 272.3 L417.1 272.9 L417.4 272.4 L417.6 276.9 L417.9 276.8 L418.2 278.9 L418.4 278.0 L418.7 276.6 L419.0 277.5 L419.3 277.1 L419.5 279.7 L419.8 280.0 L420.1 282.0 L420.3 282.1 L420.6 281.2 L420.9 284.7 L421.2 282.5 L421.4 283.1 L421.7 284.9 L422.0 283.7 L422.3 280.0 L422.5 279.3 L422.8 279.5 L423.1 278.5 L423.3 276.7 L423.6 275.2 L423.9 269.6 L424.2 270.8 L424.4 268.5 L424.7 268.5 L425.0 267.7 L425.2 266.6 L425.5 267.2 L425.8 265.0 L426.1 262.9 L426.3 260.6 L426.6 262.2 L426.9 259.9 L427.1 256.6 L427.4 257.9 L427.7 257.7 L428.0 255.3 L428.2 256.7 L428.5 258.3 L428.8 256.1 L429.0 256.5 L429.3 255.0 L429.6 253.6 L429.9 254.4 L430.1 254.1 L430.4 254.6 L430.7 253.1 L430.9 254.6 L431.2 252.8 L431.5 253.4 L431.8 250.8 L432.0 253.3 L432.3 253.7 L432.6 253.6 L432.8 251.8 L433.1 252.1 L433.4 253.2 L433.7 252.1 L433.9 252.6 L434.2 253.7 L434.5 250.8 L434.8 249.9 L435.0 251.5 L435.3 251.9 L435.6 248.3 L435.8 253.8 L436.1 252.5 L436.4 251.9 L436.7 251.0 L436.9 252.8 L437.2 256.1 L437.5 258.5 L437.7 256.5 L438.0 256.3 L438.3 257.9 L438.6 259.6 L438.8 258.4 L439.1 259.0 L439.4 260.4 L439.6 263.7 L439.9 262.4 L440.2 264.6 L440.5 265.6 L440.7 265.6 L441.0 267.8 L441.3 269.6 L441.5 270.4 L441.8 268.5 L442.1 274.3 L442.4 273.6 L442.6 274.1 L442.9 273.8 L443.2 273.6 L443.4 270.8 L443.7 274.0 L444.0 275.2 L444.3 272.6 L444.5 269.7 L444.8 266.6 L445.1 267.1 L445.3 267.6 L445.6 268.3 L445.9 264.0 L446.2 264.4 L446.4 263.6 L446.7 261.8 L447.0 260.4 L447.2 256.4 L447.5 260.9 L447.8 259.7 L448.1 259.9 L448.3 256.9 L448.6 257.8 L448.9 260.2 L449.2 257.9 L449.4 258.8 L449.7 256.9 L450.0 259.7 L450.2 255.9 L450.5 257.8 L450.8 259.4 L451.1 259.4 L451.3 259.9 L451.6 259.5 L451.9 260.6 L452.1 258.7 L452.4 258.4 L452.7 259.8 L453.0 257.9 L453.2 263.6 L453.5 260.1 L453.8 262.5 L454.0 263.1 L454.3 262.6 L454.6 260.4 L454.9 258.5 L455.1 255.9 L455.4 259.4 L455.7 258.1 L455.9 260.1 L456.2 257.8 L456.5 259.1 L456.8 257.4 L457.0 258.0 L457.3 256.9 L457.6 256.5 L457.8 254.6 L458.1 254.6 L458.4 254.5 L458.7 255.6 L458.9 253.8 L459.2 250.9 L459.5 253.2 L459.7 251.3 L460.0 253.0 L460.3 250.1 L460.6 247.4 L460.8 251.3 L461.1 251.3 L461.4 253.0 L461.7 250.9 L461.9 253.0 L462.2 253.0 L462.5 255.4 L462.7 254.2 L463.0 257.7 L463.3 258.0 L463.6 259.0 L463.8 257.9 L464.1 258.8 L464.4 260.5 L464.6 259.2 L464.9 262.2 L465.2 260.0 L465.5 260.5 L465.7 261.2 L466.0 260.3 L466.3 257.1 L466.5 260.1 L466.8 257.8 L467.1 258.3 L467.4 258.6 L467.6 256.9 L467.9 258.2 L468.2 257.4 L468.4 259.6 L468.7 258.8 L469.0 255.1 L469.3 257.3 L469.5 257.1 L469.8 257.7 L470.1 256.9 L470.3 258.3 L470.6 257.4 L470.9 255.8 L471.2 257.8 L471.4 258.2 L471.7 257.1 L472.0 258.3 L472.2 258.6 L472.5 256.4 L472.8 256.8 L473.1 257.0 L473.3 257.0 L473.6 256.9 L473.9 258.9 L474.2 259.0 L474.4 257.1 L474.7 256.4 L475.0 258.2 L475.2 258.8 L475.5 259.1 L475.8 259.0 L476.1 259.2 L476.3 258.1 L476.6 261.5 L476.9 261.4 L477.1 264.4 L477.4 265.7 L477.7 263.9 L478.0 266.0 L478.2 271.1 L478.5 267.0 L478.8 267.9 L479.0 268.2 L479.3 268.5 L479.6 271.7 L479.9 270.5 L480.1 270.4 L480.4 272.2 L480.7 270.5 L480.9 275.2 L481.2 274.7 L481.5 276.8 L481.8 280.0 L482.0 278.6 L482.3 278.8 L482.6 279.0 L482.8 282.0 L483.1 278.8 L483.4 279.8 L483.7 277.7 L483.9 280.0 L484.2 280.7 L484.5 279.6 L484.7 282.4 L485.0 282.1 L485.3 282.7 L485.6 280.8 L485.8 283.0 L486.1 280.6 L486.4 281.7 L486.7 279.9 L486.9 278.2 L487.2 280.8 L487.5 279.6 L487.7 277.4 L488.0 277.9 L488.3 277.3 L488.6 276.8 L488.8 277.4 L489.1 276.1 L489.4 275.6 L489.6 275.3 L489.9 274.3 L490.2 274.5 L490.5 275.6 L490.7 274.4 L491.0 277.6 L491.3 277.3 L491.5 274.2 L491.8 276.8 L492.1 274.3 L492.4 275.6 L492.6 275.0 L492.9 275.9 L493.2 275.0 L493.4 278.1 L493.7 278.0 L494.0 275.8 L494.3 278.0 L494.5 279.7 L494.8 280.8 L495.1 277.8 L495.3 282.4 L495.6 279.2 L495.9 280.3 L496.2 281.4 L496.4 283.7 L496.7 283.0 L497.0 283.1 L497.2 284.1 L497.5 282.3 L497.8 282.3 L498.1 284.9 L498.3 283.3 L498.6 281.1 L498.9 281.3 L499.2 283.0 L499.4 285.6 L499.7 284.8 L500.0 285.7 L500.2 287.9 L500.5 284.3 L500.8 286.9 L501.1 286.3 L501.3 289.4 L501.6 286.7 L501.9 289.7 L502.1 289.5 L502.4 289.0 L502.7 290.2 L503.0 289.5 L503.2 290.9 L503.5 288.2 L503.8 285.8 L504.0 290.3 L504.3 290.5 L504.6 289.6 L504.9 290.3 L505.1 289.7 L505.4 287.5 L505.7 286.2 L505.9 288.9 L506.2 289.2 L506.5 289.1 L506.8 286.9 L507.0 287.0 L507.3 289.6 L507.6 287.2 L507.8 286.8 L508.1 285.0 L508.4 289.0 L508.7 287.7 L508.9 287.2 L509.2 288.3 L509.5 287.3 L509.7 287.3 L510.0 286.4 L510.3 286.2 L510.6 285.9 L510.8 285.7 L511.1 283.5 L511.4 284.9 L511.7 284.0 L511.9 283.2 L512.2 284.9 L512.5 287.7 L512.7 287.0 L513.0 286.4 L513.3 286.9 L513.6 287.4 L513.8 283.9 L514.1 286.1 L514.4 288.1 L514.6 287.5 L514.9 287.7 L515.2 287.5 L515.5 285.6 L515.7 286.5 L516.0 288.5 L516.3 289.6 L516.5 291.3 L516.8 288.2 L517.1 292.2 L517.4 294.8 L517.6 293.6 L517.9 294.5 L518.2 295.8 L518.4 296.2 L518.7 296.9 L519.0 297.8 L519.3 298.7 L519.5 297.4 L519.8 297.3 L520.1 297.9 L520.3 298.8 L520.6 300.1 L520.9 299.1 L521.2 299.9 L521.4 301.4 L521.7 304.3 L522.0 303.3 L522.2 302.1 L522.5 303.4 L522.8 301.5 L523.1 300.8 L523.3 301.3 L523.6 298.9 L523.9 297.0 L524.1 296.1 L524.4 293.0 L524.7 292.9 L525.0 289.2 L525.2 289.2 L525.5 290.5 L525.8 286.7 L526.1 286.5 L526.3 285.4 L526.6 283.3 L526.9 284.1 L527.1 281.6 L527.4 282.9 L527.7 280.2 L528.0 281.1 L528.2 279.7 L528.5 279.3 L528.8 281.3 L529.0 278.6 L529.3 278.7 L529.6 282.3 L529.9 279.0 L530.1 277.8 L530.4 279.4 L530.7 279.2 L530.9 280.5 L531.2 279.3 L531.5 280.8 L531.8 280.9 L532.0 284.5 L532.3 283.3 L532.6 285.6 L532.8 285.7 L533.1 283.1 L533.4 284.3 L533.7 283.6 L533.9 284.4 L534.2 287.4 L534.5 287.4 L534.7 287.1 L535.0 288.3 L535.3 289.3 L535.6 290.6 L535.8 291.2 L536.1 291.0 L536.4 294.5 L536.6 293.8 L536.9 294.4 L537.2 297.6 L537.5 300.7 L537.7 302.3 L538.0 301.3 L538.3 302.6 L538.6 302.0 L538.8 304.5 L539.1 305.1 L539.4 306.7 L539.6 306.5 L539.9 310.2 L540.2 309.8 L540.5 310.3 L540.7 310.5 L541.0 310.9 L541.3 313.9 L541.5 310.9 L541.8 313.2 L542.1 313.1 L542.4 314.5 L542.6 314.6 L542.9 316.3 L543.2 312.3 L543.4 316.1 L543.7 313.5 L544.0 314.3 L544.3 310.8 L544.5 312.4 L544.8 309.6 L545.1 309.9 L545.3 307.2 L545.6 309.2 L545.9 307.7 L546.2 305.0 L546.4 305.8 L546.7 305.5 L547.0 307.1 L547.2 304.3 L547.5 305.1 L547.8 306.6 L548.1 304.3 L548.3 308.0 L548.6 305.7 L548.9 305.1 L549.1 303.4 L549.4 302.3 L549.7 307.2 L550.0 306.6 L550.2 307.5 L550.5 310.0 L550.8 310.6 L551.1 311.2 L551.3 309.6 L551.6 309.8 L551.9 313.5 L552.1 313.0 L552.4 314.4 L552.7 318.5 L553.0 316.6 L553.2 318.3 L553.5 320.6 L553.8 318.1 L554.0 316.2 L554.3 315.6 L554.6 317.8 L554.9 314.6 L555.1 316.0 L555.4 316.8 L555.7 313.1 L555.9 313.5 L556.2 311.8 L556.5 313.5 L556.8 311.3 L557.0 309.5 L557.3 310.6 L557.6 309.6 L557.8 308.9 L558.1 308.8 L558.4 307.2 L558.7 308.0 L558.9 309.7 L559.2 306.0 L559.5 309.1 L559.7 309.0 L560.0 307.8 L560.3 311.2 L560.6 309.8 L560.8 309.0 L561.1 310.6 L561.4 311.5 L561.6 308.1 L561.9 310.9 L562.2 309.2 L562.5 309.3 L562.7 312.4 L563.0 308.5 L563.3 309.2 L563.6 308.6 L563.8 309.8 L564.1 310.8 L564.4 305.8 L564.6 310.6 L564.9 310.4 L565.2 303.4 L565.5 305.4 L565.7 306.8 L566.0 305.3 L566.3 306.9 L566.5 304.0 L566.8 305.9 L567.1 301.8 L567.4 303.6 L567.6 301.7 L567.9 301.1 L568.2 299.2 L568.4 301.0 L568.7 302.6 L569.0 300.3 L569.3 300.5 L569.5 301.1 L569.8 299.0 L570.1 299.6 L570.3 301.1 L570.6 299.4 L570.9 297.8 L571.2 302.3 L571.4 300.0 L571.7 299.3 L572.0 298.5 L572.2 298.4 L572.5 296.4 L572.8 298.6 L573.1 298.4 L573.3 299.1 L573.6 299.5 L573.9 295.6 L574.1 299.1 L574.4 297.7 L574.7 298.7 L575.0 296.2 L575.2 297.8 L575.5 295.9 L575.8 298.8 L576.1 296.4 L576.3 298.2 L576.6 298.3 L576.9 299.9 L577.1 300.3 L577.4 301.1 L577.7 300.2 L578.0 303.4 L578.2 303.2 L578.5 301.4 L578.8 304.7 L579.0 302.8 L579.3 304.4 L579.6 304.2 L579.9 305.7 L580.1 307.7 L580.4 305.6 L580.7 310.0 L580.9 305.6 L581.2 311.0 L581.5 311.3 L581.8 308.8 L582.0 311.6 L582.3 310.7 L582.6 308.7 L582.8 311.6 L583.1 310.8 L583.4 309.9 L583.7 311.4 L583.9 309.6 L584.2 309.7 L584.5 311.8 L584.7 308.4 L585.0 309.5 L585.3 310.1 L585.6 306.8 L585.8 305.0 L586.1 304.0 L586.4 304.3 L586.6 301.5 L586.9 297.3 L587.2 301.8 L587.5 300.1 L587.7 301.7 L588.0 299.5 L588.3 300.0 L588.6 300.6 L588.8 300.1 L589.1 296.9 L589.4 301.2 L589.6 299.3 L589.9 298.1 L590.2 296.0 L590.5 300.0 L590.7 298.6 L591.0 299.7 L591.3 296.6 L591.5 299.3 L591.8 297.7 L592.1 295.5 L592.4 299.7 L592.6 295.6 L592.9 298.1 L593.2 297.2 L593.4 296.9 L593.7 295.4 L594.0 296.3 L594.3 298.2 L594.5 299.6 L594.8 297.1 L595.1 297.3 L595.3 296.0 L595.6 299.2 L595.9 297.3 L596.2 296.2 L596.4 294.4 L596.7 294.2 L597.0 295.4 L597.2 293.3 L597.5 296.2 L597.8 296.9 L598.1 296.0 L598.3 297.0 L598.6 298.3 L598.9 297.1 L599.1 300.7 L599.4 296.5 L599.7 301.6 L600.0 296.7 L600.2 298.8 L600.5 298.1 L600.8 298.3 L601.0 296.8 L601.3 299.3 L601.6 297.0 L601.9 298.6 L602.1 297.1 L602.4 297.1 L602.7 298.1 L603.0 294.6 L603.2 295.0 L603.5 294.5 L603.8 294.6 L604.0 293.7 L604.3 293.0 L604.6 292.4 L604.9 291.2 L605.1 291.6 L605.4 292.3 L605.7 291.9 L605.9 293.6 L606.2 289.0 L606.5 290.5 L606.8 288.2 L607.0 289.0 L607.3 291.6 L607.6 292.3 L607.8 289.4 L608.1 290.3 L608.4 289.5 L608.7 289.8 L608.9 288.6 L609.2 287.6 L609.5 285.5 L609.7 285.3 L610.0 287.7 L610.3 286.4 L610.6 289.1 L610.8 285.8 L611.1 287.2 L611.4 284.2 L611.6 283.1 L611.9 284.6 L612.2 286.1 L612.5 284.6 L612.7 283.6 L613.0 285.0 L613.3 284.8 L613.5 284.3 L613.8 283.9 L614.1 283.8 L614.4 283.7 L614.6 285.1 L614.9 286.4 L615.2 284.1 L615.5 288.0 L615.7 287.2 L616.0 286.1 L616.3 288.7 L616.5 291.7 L616.8 288.6 L617.1 288.6 L617.4 289.9 L617.6 285.6 L617.9 286.4 L618.2 287.2 L618.4 290.1 L618.7 287.0 L619.0 290.3 L619.3 290.0 L619.5 290.9 L619.8 291.8 L620.1 295.0 L620.3 290.8 L620.6 291.1 L620.9 293.8 L621.2 293.4 L621.4 294.8 L621.7 293.5 L622.0 293.9 L622.2 293.4 L622.5 290.1 L622.8 288.7 L623.1 292.1 L623.3 286.5 L623.6 286.2 L623.9 282.4 L624.1 283.3 L624.4 281.0 L624.7 281.5 L625.0 277.9 L625.2 275.5 L625.5 273.8 L625.8 274.8 L626.0 274.6 L626.3 275.1 L626.6 274.0 L626.9 269.5 L627.1 271.4 L627.4 270.6 L627.7 272.5 L628.0 272.3 L628.2 268.2 L628.5 271.4 L628.8 270.5 L629.0 269.1 L629.3 269.4 L629.6 272.7 L629.9 270.5 L630.1 269.3 L630.4 272.1 L630.7 273.7 L630.9 274.0 L631.2 272.8 L631.5 273.4 L631.8 275.6 L632.0 277.1 L632.3 277.0 L632.6 275.5 L632.8 278.3 L633.1 277.7 L633.4 276.1 L633.7 277.1 L633.9 277.4 L634.2 277.0 L634.5 279.7 L634.7 280.0 L635.0 279.6 L635.3 282.0 L635.6 284.0 L635.8 281.7 L636.1 284.7 L636.4 284.3 L636.6 288.0 L636.9 288.6 L637.2 287.9 L637.5 287.5 L637.7 291.1 L638.0 290.6 L638.3 290.2 L638.5 290.7 L638.8 293.0 L639.1 297.3 L639.4 296.6 L639.6 297.6 L639.9 299.1 L640.2 301.2 L640.5 301.9 L640.7 300.0 L641.0 303.2 L641.3 304.4 L641.5 304.6 L641.8 305.2 L642.1 302.0 L642.4 305.4 L642.6 302.8 L642.9 306.2 L643.2 303.2 L643.4 303.1 L643.7 301.9 L644.0 297.6 L644.3 299.0 L644.5 295.4 L644.8 297.0 L645.1 294.5 L645.3 292.0 L645.6 294.0 L645.9 291.3 L646.2 290.2 L646.4 291.5 L646.7 291.5 L647.0 291.6 L647.2 288.5 L647.5 291.1 L647.8 290.2 L648.1 291.8 L648.3 290.8 L648.6 288.5 L648.9 292.1 L649.1 290.9 L649.4 291.1 L649.7 288.3 L650.0 290.9 L650.2 295.0 L650.5 295.2 L650.8 293.0 L651.0 296.6 L651.3 297.4 L651.6 299.5 L651.9 297.3 L652.1 296.8 L652.4 300.0 L652.7 299.6 L653.0 300.4 L653.2 300.0 L653.5 302.0 L653.8 299.0 L654.0 301.5 L654.3 301.0 L654.6 298.0 L654.9 299.9 L655.1 300.0 L655.4 298.6 L655.7 298.1 L655.9 297.0 L656.2 294.2 L656.5 294.9 L656.8 296.8 L657.0 292.6 L657.3 292.3 L657.6 295.1 L657.8 292.6 L658.1 292.5 L658.4 293.6 L658.7 292.0 L658.9 292.9 L659.2 291.9 L659.5 292.4 L659.7 292.4 L660.0 292.6 L660.3 291.4 L660.6 294.0 L660.8 294.4 L661.1 295.1 L661.4 295.3 L661.6 297.3 L661.9 295.1 L662.2 297.5 L662.5 298.1 L662.7 298.7 L663.0 296.5 L663.3 298.9 L663.5 298.3 L663.8 296.9 L664.1 298.9 L664.4 297.7 L664.6 299.5 L664.9 300.5 L665.2 300.6 L665.5 298.6 L665.7 298.8 L666.0 299.7 L666.3 299.4 L666.5 300.8 L666.8 299.8 L667.1 302.7 L667.4 300.8 L667.6 302.6 L667.9 300.4 L668.2 300.1 L668.4 300.4 L668.7 301.8 L669.0 301.3 L669.3 299.2 L669.5 298.8 L669.8 301.3 L670.1 300.9 L670.3 301.4 L670.6 301.3 L670.9 298.8 L671.2 300.4 L671.4 300.6 L671.7 297.2 L672.0 297.4 L672.2 300.6 L672.5 300.3 L672.8 297.4 L673.1 297.5 L673.3 296.5 L673.6 299.0 L673.9 299.0 L674.1 300.4 L674.4 303.6 L674.7 300.6 L675.0 300.6 L675.2 302.4 L675.5 302.1 L675.8 304.5 L676.0 304.6 L676.3 305.6 L676.6 309.4 L676.9 306.9 L677.1 306.6 L677.4 308.7 L677.7 309.9 L677.9 311.5 L678.2 313.4 L678.5 316.4 L678.8 313.7 L679.0 316.0 L679.3 313.5 L679.6 318.1 L679.9 316.5 L680.1 319.0 L680.4 320.8 L680.7 320.2 L680.9 318.9 L681.2 315.9 L681.5 322.1 L681.8 319.6 L682.0 321.7 L682.3 321.2 L682.6 322.4 L682.8 325.3 L683.1 321.7 L683.4 322.0 L683.7 322.9 L683.9 325.7 L684.2 321.8 L684.5 326.9 L684.7 325.2 L685.0 326.1 L685.3 328.1 L685.6 324.6 L685.8 323.8 L686.1 322.7 L686.4 319.9 L686.6 319.4 L686.9 318.4 L687.2 319.6 L687.5 318.6 L687.7 317.8 L688.0 317.8 L688.3 319.5 L688.5 316.2 L688.8 317.2 L689.1 319.2 L689.4 315.5 L689.6 314.7 L689.9 317.1 L690.2 315.3 L690.4 315.1 L690.7 316.7 L691.0 316.8 L691.3 315.6 L691.5 316.8 L691.8 316.2 L692.1 317.5 L692.4 318.4 L692.6 319.6 L692.9 319.8 L693.2 321.9 L693.4 319.7 L693.7 321.2 L694.0 320.0 L694.3 319.1 L694.5 321.6 L694.8 322.7 L695.1 323.5 L695.3 323.6 L695.6 322.7 L695.9 322.0 L696.2 323.7 L696.4 325.2 L696.7 326.2 L697.0 327.9 L697.2 327.7 L697.5 327.9 L697.8 329.2 L698.1 328.4 L698.3 327.9 L698.6 328.6 L698.9 330.7 L699.1 332.2 L699.4 330.7 L699.7 332.7 L700.0 330.3 L700.2 331.5 L700.5 331.0 L700.8 329.8 L701.0 333.0 L701.3 331.6 L701.6 330.9 L701.9 329.5 L702.1 332.7 L702.4 333.4 L702.7 329.6 L702.9 329.1 L703.2 330.1 L703.5 330.2 L703.8 328.7 L704.0 329.8 L704.3 328.3 L704.6 332.6 L704.9 330.9 L705.1 330.6 L705.4 328.9 L705.7 330.2 L705.9 331.6 L706.2 328.4 L706.5 330.4 L706.8 330.8 L707.0 330.0 L707.3 326.5 L707.6 328.1 L707.8 328.7 L708.1 327.7 L708.4 326.5 L708.7 328.6 L708.9 324.8 L709.2 328.2 L709.5 328.5 L709.7 329.0 L710.0 327.2 L710.3 328.4 L710.6 328.5 L710.8 327.7 L711.1 326.4 L711.4 325.9 L711.6 327.3 L711.9 327.1 L712.2 326.2 L712.5 330.3 L712.7 326.9 L713.0 327.8 L713.3 327.7 L713.5 326.7 L713.8 329.9 L714.1 327.6 L714.4 332.1 L714.6 328.6 L714.9 328.9 L715.2 330.6 L715.4 331.5 L715.7 331.8 L716.0 333.8 L716.3 335.5 L716.5 338.2 L716.8 334.3 L717.1 338.3 L717.4 337.0 L717.6 337.0 L717.9 337.2 L718.2 342.1 L718.4 339.7 L718.7 336.4 L719.0 341.9 L719.3 340.6 L719.5 341.4 L719.8 342.5 L720.1 340.7 L720.3 341.4 L720.6 342.9 L720.9 339.5 L721.2 337.5 L721.4 335.2 L721.7 336.2 L722.0 331.8 L722.2 332.4 L722.5 331.5 L722.8 331.1 L723.1 330.3 L723.3 326.9 L723.6 328.8 L723.9 326.3 L724.1 324.4 L724.4 321.9 L724.7 320.3 L725.0 319.1 L725.2 319.0 L725.5 318.0 L725.8 317.7 L726.0 315.5 L726.3 316.2 L726.6 316.3 L726.9 316.0 L727.1 315.8 L727.4 313.9 L727.7 312.2 L727.9 314.3 L728.2 313.6 L728.5 314.6 L728.8 315.1 L729.0 313.9 L729.3 314.8 L729.6 311.9 L729.9 318.5 L730.1 316.6 L730.4 316.9 L730.7 319.9 L730.9 319.9 L731.2 319.8 L731.5 321.2 L731.8 320.9 L732.0 320.7 L732.3 322.6 L732.6 321.5 L732.8 321.5 L733.1 320.3 L733.4 323.1 L733.7 321.0 L733.9 323.8 L734.2 324.4 L734.5 321.1 L734.7 323.4 L735.0 321.5 L735.3 325.0 L735.6 323.2 L735.8 324.1 L736.1 327.1 L736.4 328.5 L736.6 328.7 L736.9 328.9 L737.2 330.4 L737.5 332.5 L737.7 337.1 L738.0 337.6 L738.3 335.6 L738.5 337.5 L738.8 337.8 L739.1 341.1 L739.4 340.2 L739.6 339.4 L739.9 342.6 L740.2 342.7 L740.4 342.4 L740.7 343.7 L741.0 345.9 L741.3 343.5 L741.5 343.2 L741.8 342.0 L742.1 343.8 L742.4 345.0 L742.6 342.8 L742.9 340.6 L743.2 339.8 L743.4 340.2 L743.7 338.6 L744.0 336.6 L744.3 338.5 L744.5 335.2 L744.8 333.5 L745.1 333.3 L745.3 330.2 L745.6 330.8 L745.9 330.7 L746.2 331.4 L746.4 330.5 L746.7 332.8 L747.0 330.5 L747.2 329.9 L747.5 331.2 L747.8 330.2 L748.1 331.1 L748.3 331.9 L748.6 331.9 L748.9 334.6 L749.1 333.6 L749.4 333.1 L749.7 335.5 L750.0 333.7 L750.2 338.8 L750.5 333.4 L750.8 336.7 L751.0 337.1 L751.3 336.6 L751.6 337.9 L751.9 339.2 L752.1 335.9 L752.4 338.6 L752.7 337.0 L752.9 336.6 L753.2 339.3 L753.5 337.6 L753.8 335.9 L754.0 334.4 L754.3 334.4 L754.6 334.9 L754.9 336.9 L755.1 333.5 L755.4 331.8 L755.7 332.4 L755.9 333.5 L756.2 330.7 L756.5 331.1 L756.8 328.4 L757.0 327.1 L757.3 333.1 L757.6 329.1 L757.8 332.2 L758.1 330.1 L758.4 329.5 L758.7 327.0 L758.9 328.3 L759.2 328.9 L759.5 327.8 L759.7 329.7 L760.0 330.6 L760.3 329.9 L760.6 330.2 L760.8 327.7 L761.1 333.6 L761.4 332.8 L761.6 331.4 L761.9 331.0 L762.2 332.5 L762.5 331.8 L762.7 333.4 L763.0 332.4 L763.3 333.8 L763.5 333.2 L763.8 333.3 L764.1 332.5 L764.4 335.1 L764.6 336.0 L764.9 332.9 L765.2 332.6 L765.4 334.5 L765.7 330.9 L766.0 332.0 L766.3 334.9 L766.5 336.6 L766.8 335.0 L767.1 335.0 L767.3 337.0 L767.6 334.6 L767.9 336.0 L768.2 337.1 L768.4 337.8 L768.7 333.6 L769.0 332.7 L769.3 335.1 L769.5 335.0 L769.8 332.1 L770.1 332.2 L770.3 332.0 L770.6 330.0 L770.9 327.0 L771.2 330.0 L771.4 331.6 L771.7 328.7 L772.0 332.4 L772.2 330.4 L772.5 328.3 L772.8 330.3 L773.1 327.6 L773.3 331.4 L773.6 329.6 L773.9 332.1 L774.1 327.7 L774.4 330.5 L774.7 332.4 L775.0 332.1 L775.2 331.7 L775.5 332.4 L775.8 333.9 L776.0 335.1 L776.3 336.8 L776.6 333.0 L776.9 334.3 L777.1 335.7 L777.4 336.9 L777.7 337.7 L777.9 338.2 L778.2 339.5 L778.5 340.7 L778.8 341.7 L779.0 340.0 L779.3 340.8 L779.6 342.0 L779.8 346.9 L780.1 343.5 L780.4 346.1 L780.7 346.2 L780.9 346.9 L781.2 349.1 L781.5 348.0 L781.8 348.3 L782.0 348.8 L782.3 348.8 L782.6 347.2 L782.8 347.0 L783.1 349.0 L783.4 347.5 L783.7 348.1 L783.9 346.4 L784.2 344.4 L784.5 343.5 L784.7 342.8 L785.0 344.9 L785.3 342.9 L785.6 341.3 L785.8 340.8 L786.1 341.1 L786.4 341.3 L786.6 342.1 L786.9 339.5 L787.2 337.6 L787.5 338.9 L787.7 337.7 L788.0 337.0 L788.3 335.6 L788.5 338.9 L788.8 340.5 L789.1 338.3 L789.4 337.0 L789.6 338.7 L789.9 339.0 L790.2 340.2 L790.4 338.8 L790.7 337.2 L791.0 338.8 L791.3 338.9 L791.5 339.4 L791.8 340.5 L792.1 339.0 L792.3 340.1 L792.6 338.6 L792.9 341.0 L793.2 342.7 L793.4 339.2 L793.7 341.6 L794.0 342.6 L794.3 342.3 L794.5 344.0 L794.8 342.8 L795.1 345.8 L795.3 343.2 L795.6 341.4 L795.9 342.4 L796.2 342.4 L796.4 344.9 L796.7 346.1 L797.0 346.7 L797.2 347.5 L797.5 347.1 L797.8 348.0 L798.1 346.3 L798.3 349.0 L798.6 347.1 L798.9 348.0 L799.1 349.0 L799.4 349.0 L799.7 347.6 L800.0 347.7 L800.2 347.6 L800.5 351.5 L800.8 348.5 L801.0 347.9 L801.3 349.8 L801.6 349.5 L801.9 349.7 L802.1 347.1 L802.4 348.4 L802.7 343.7 L802.9 347.2 L803.2 346.2 L803.5 346.0 L803.8 344.6 L804.0 347.2 L804.3 346.5 L804.6 343.9 L804.8 343.2 L805.1 341.4 L805.4 341.8 L805.7 343.5 L805.9 341.0 L806.2 339.7 L806.5 340.7 L806.8 340.5 L807.0 342.7 L807.3 340.6 L807.6 340.2 L807.8 338.5 L808.1 340.4 L808.4 340.7 L808.7 339.7 L808.9 344.4 L809.2 339.4 L809.5 343.6 L809.7 345.2 L810.0 340.4 L810.3 338.7 L810.6 339.1 L810.8 337.2 L811.1 337.7 L811.4 338.6 L811.6 337.2 L811.9 341.3 L812.2 338.9 L812.5 339.4 L812.7 341.6 L813.0 337.7 L813.3 338.8 L813.5 340.0 L813.8 339.9 L814.1 340.3 L814.4 340.3 L814.6 341.8 L814.9 341.3 L815.2 341.9 L815.4 343.5 L815.7 344.9 L816.0 346.7 L816.3 345.3 L816.5 350.6 L816.8 351.3 L817.1 347.7 L817.3 347.1 L817.6 348.6 L817.9 350.4 L818.2 350.1 L818.4 353.4 L818.7 349.7 L819.0 350.6 L819.3 349.3 L819.5 351.3 L819.8 348.2 L820.1 347.7 L820.3 343.7 L820.6 344.2 L820.9 341.8 L821.2 346.9 L821.4 342.6 L821.7 341.3 L822.0 340.0 L822.2 338.9 L822.5 338.6 L822.8 334.2 L823.1 337.4 L823.3 334.5 L823.6 334.3 L823.9 337.2 L824.1 334.0 L824.4 331.6 L824.7 330.6 L825.0 331.6 L825.2 331.5 L825.5 332.1 L825.8 328.9 L826.0 329.9 L826.3 329.1 L826.6 328.8 L826.9 332.1 L827.1 330.2 L827.4 330.4 L827.7 331.2 L827.9 332.6 L828.2 327.9 L828.5 331.3 L828.8 331.0 L829.0 330.4 L829.3 332.2 L829.6 331.3 L829.8 330.8 L830.1 332.3 L830.4 330.4 L830.7 331.3 L830.9 329.1 L831.2 330.4 L831.5 331.7 L831.8 329.8 L832.0 329.5 L832.3 331.9 L832.6 330.5 L832.8 331.2 L833.1 334.5 L833.4 332.7 L833.7 331.0 L833.9 332.7 L834.2 335.7 L834.5 336.1 L834.7 336.6 L835.0 338.1 L835.3 339.6 L835.6 340.9 L835.8 342.3 L836.1 344.7 L836.4 349.8 L836.6 348.4 L836.9 348.0 L837.2 346.8 L837.5 348.6 L837.7 348.8 L838.0 351.8 L838.3 350.8 L838.5 355.4 L838.8 357.9 L839.1 357.7 L839.4 361.0 L839.6 356.0 L839.9 358.5 L840.2 358.2 L840.4 358.2 L840.7 356.7 L841.0 358.4 L841.3 357.6 L841.5 356.8 L841.8 359.1 L842.1 358.9 L842.3 358.7 L842.6 355.4 L842.9 354.3 L843.2 352.0 L843.4 353.9 L843.7 352.5 L844.0 350.1 L844.2 348.4 L844.5 348.4 L844.8 347.1 L845.1 346.8 L845.3 345.0 L845.6 345.6 L845.9 345.2 L846.2 342.7 L846.4 343.7 L846.7 342.9 L847.0 341.1 L847.2 342.4 L847.5 343.2 L847.8 343.7 L848.1 341.1 L848.3 341.3 L848.6 342.8 L848.9 343.4 L849.1 342.5 L849.4 344.9 L849.7 343.9 L850.0 346.3 L850.2 347.6 L850.5 346.7 L850.8 344.8 L851.0 345.8 L851.3 346.5 L851.6 347.6 L851.9 349.0 L852.1 348.5 L852.4 351.0 L852.7 350.8 L852.9 351.3 L853.2 351.0 L853.5 352.7 L853.8 352.4 L854.0 351.5 L854.3 349.3 L854.6 349.8 L854.8 349.0 L855.1 347.5 L855.4 346.9 L855.7 345.6 L855.9 346.1 L856.2 343.8 L856.5 344.2 L856.7 343.4 L857.0 346.9 L857.3 343.3 L857.6 343.0 L857.8 339.9 L858.1 341.3 L858.4 339.7 L858.7 340.9 L858.9 339.0 L859.2 338.6 L859.5 341.0 L859.7 340.8 L860.0 339.2 L860.3 340.9 L860.6 339.8 L860.8 342.4 L861.1 342.1 L861.4 342.4 L861.6 341.2 L861.9 344.5 L862.2 342.5 L862.5 344.1 L862.7 343.8 L863.0 344.1 L863.3 343.9 L863.5 346.4 L863.8 346.6 L864.1 344.2 L864.4 347.0 L864.6 345.1 L864.9 344.8 L865.2 345.1 L865.4 347.0 L865.7 344.3 L866.0 343.5 L866.3 344.6 L866.5 345.0 L866.8 346.4 L867.1 343.7 L867.3 342.0 L867.6 341.4 L867.9 341.5 L868.2 342.6 L868.4 342.4 L868.7 340.6 L869.0 340.0 L869.2 336.5 L869.5 341.2 L869.8 340.5 L870.1 336.2 L870.3 337.9 L870.6 337.2 L870.9 338.5 L871.2 336.2 L871.4 338.0 L871.7 339.4 L872.0 338.1 L872.2 337.0 L872.5 336.3 L872.8 338.9 L873.1 341.1 L873.3 341.3 L873.6 339.3 L873.9 340.8 L874.1 339.3 L874.4 340.3 L874.7 343.0 L875.0 343.0 L875.2 343.1 L875.5 343.5 L875.8 346.0 L876.0 347.2 L876.3 347.3 L876.6 348.0 L876.9 350.4 L877.1 351.5 L877.4 350.6 L877.7 353.6 L877.9 352.9 L878.2 353.3 L878.5 355.9 L878.8 354.9 L879.0 357.2 L879.3 360.2 L879.6 359.8 L879.8 358.1 L880.1 356.8 L880.4 359.5 L880.7 358.6 L880.9 360.1 L881.2 358.3 L881.5 360.1 L881.7 356.8 L882.0 358.7 L882.3 360.1 L882.6 358.1 L882.8 358.3 L883.1 356.0 L883.4 355.2 L883.7 353.4 L883.9 356.4 L884.2 352.5 L884.5 351.1 L884.7 352.4 L885.0 354.9 L885.3 353.4 L885.6 354.4 L885.8 351.9 L886.1 352.4 L886.4 352.6 L886.6 352.4 L886.9 353.0 L887.2 353.3 L887.5 355.7 L887.7 353.9 L888.0 351.0 L888.3 349.5 L888.5 348.3 L888.8 349.9 L889.1 348.8 L889.4 349.1 L889.6 347.8 L889.9 351.8 L890.2 350.3 L890.4 352.3 L890.7 351.4 L891.0 356.2 L891.3 351.4 L891.5 354.6 L891.8 355.1 L892.1 352.8 L892.3 354.1 L892.6 352.6 L892.9 353.6 L893.2 352.0 L893.4 354.7 L893.7 350.1 L894.0 354.2 L894.2 352.9 L894.5 354.0 L894.8 355.7 L895.1 354.2 L895.3 354.5 L895.6 356.5 L895.9 354.3 L896.2 356.2 L896.4 358.1 L896.7 357.2 L897.0 361.1 L897.2 358.0 L897.5 360.8 L897.8 361.0 L898.1 359.2 L898.3 363.1 L898.6 359.6 L898.9 363.3 L899.1 363.7 L899.4 361.5 L899.7 361.9 L900.0 361.6 L900.2 360.0 L900.5 360.2 L900.8 361.5 L901.0 361.9 L901.3 362.9 L901.6 360.9 L901.9 360.0 L902.1 361.4 L902.4 361.3 L902.7 359.5 L902.9 360.3 L903.2 358.1 L903.5 358.2 L903.8 354.8 L904.0 356.1 L904.3 360.2 L904.6 357.6 L904.8 356.8 L905.1 359.0 L905.4 360.4 L905.7 357.3 L905.9 355.7 L906.2 354.6 L906.5 356.2 L906.7 355.5 L907.0 353.2 L907.3 351.9 L907.6 352.6 L907.8 353.4 L908.1 351.5 L908.4 350.1 L908.7 350.2 L908.9 349.1 L909.2 351.0 L909.5 351.0 L909.7 349.1 L910.0 350.0 L910.3 352.3 L910.6 349.8 L910.8 351.8 L911.1 348.4 L911.4 347.5 L911.6 350.7 L911.9 351.5 L912.2 351.7 L912.5 351.4 L912.7 353.3 L913.0 350.8 L913.3 351.2 L913.5 352.4 L913.8 353.7 L914.1 353.2 L914.4 355.3 L914.6 356.1 L914.9 353.5 L915.2 355.1 L915.4 356.1 L915.7 357.8 L916.0 356.5 L916.3 360.3 L916.5 358.2 L916.8 361.7 L917.1 361.0 L917.3 361.7 L917.6 363.7 L917.9 362.0 L918.2 365.0 L918.4 365.0 L918.7 362.5 L919.0 364.9 L919.2 362.1 L919.5 362.3 L919.8 359.9 L920.1 359.7 L920.3 360.7 L920.6 359.4 L920.9 357.3 L921.1 357.7 L921.4 354.5 L921.7 355.3 L922.0 351.6 L922.2 352.0 L922.5 348.4 L922.8 349.0 L923.1 346.3 L923.3 346.9 L923.6 347.5 L923.9 344.3 L924.1 345.7 L924.4 344.8 L924.7 342.2 L925.0 341.8 L925.2 343.1 L925.5 343.1 L925.8 339.3 L926.0 340.2 L926.3 338.8 L926.6 342.2 L926.9 343.6 L927.1 342.0 L927.6 347.0" fill="none" stroke="#0072B2" stroke-opacity="0.2" stroke-width="1.39" stroke-linejoin="round"/>
<path d="M927.4 346.0 L929.6 343.0 L932.0 343.6 L933.6 346.4 L935.2 352.2 L936.8 359.6 L938.4 364.4 L939.2 367.2 L940.8 366.8 L942.0 365.2 L942.8 359.6 L943.6 356.4 L945.0 356.0 L945.0 510.0 L943.2 510.0 L942.8 512.0 L941.4 512.4 L941.2 517.6 L940.0 518.8 L939.2 516.0 L937.4 515.2 L937.2 506.4 L935.6 505.6 L935.2 497.6 L933.6 497.6 L932.8 494.0 L930.0 494.0 L928.0 490.8Z" fill="#0072B2" fill-opacity="0.2" stroke="none"/>
<path d="M928.4 344.6V491.4" stroke="#0072B2" stroke-opacity="0.075" stroke-width="1.05"/>
<path d="M930.5 343.2V494.0" stroke="#0072B2" stroke-opacity="0.075" stroke-width="1.05"/>
<path d="M932.6 344.7V494.0" stroke="#0072B2" stroke-opacity="0.075" stroke-width="1.05"/>
<path d="M934.7 350.4V497.6" stroke="#0072B2" stroke-opacity="0.075" stroke-width="1.05"/>
<path d="M936.8 359.6V506.2" stroke="#0072B2" stroke-opacity="0.075" stroke-width="1.05"/>
<path d="M938.2 363.8V515.6" stroke="#0072B2" stroke-opacity="0.075" stroke-width="1.05"/>
<path d="M939.6 367.1V517.4" stroke="#0072B2" stroke-opacity="0.075" stroke-width="1.05"/>
<path d="M941.0 366.5V517.8" stroke="#0072B2" stroke-opacity="0.075" stroke-width="1.05"/>
<path d="M942.4 362.4V512.1" stroke="#0072B2" stroke-opacity="0.075" stroke-width="1.05"/>
<path d="M943.8 356.3V510.0" stroke="#0072B2" stroke-opacity="0.075" stroke-width="1.05"/>
<path d="M124.50 15.5V542.5M223.50 15.5V542.5M322.50 15.5V542.5M422.50 15.5V542.5M521.50 15.5V542.5M620.50 15.5V542.5M719.50 15.5V542.5M819.50 15.5V542.5M918.50 15.5V542.5" stroke="#808080" stroke-opacity="0.2" stroke-width="1.39" fill="none"/>
<path d="M79.5 120.50H985.5M79.5 236.50H985.5M79.5 351.50H985.5M79.5 466.50H985.5" stroke="#808080" stroke-opacity="0.2" stroke-width="1.39" fill="none"/>
<g fill="#000">
<circle cx="132.6" cy="39.4" r="2.85"/>
<circle cx="132.6" cy="81.4" r="2.85"/>
<circle cx="131.4" cy="101.2" r="2.85"/>
<circle cx="140.4" cy="97.2" r="2.85"/>
<circle cx="139.4" cy="104.4" r="2.85"/>
<circle cx="132.6" cy="115.6" r="2.85"/>
<circle cx="139.4" cy="113.4" r="2.85"/>
<circle cx="138.4" cy="117.4" r="2.85"/>
<circle cx="140.4" cy="120.0" r="2.85"/>
<circle cx="131.4" cy="127.6" r="2.85"/>
<circle cx="137.4" cy="128.0" r="2.85"/>
<circle cx="133.4" cy="130.6" r="2.85"/>
<circle cx="130.4" cy="136.2" r="2.85"/>
<circle cx="137.0" cy="133.0" r="2.85"/>
<circle cx="140.0" cy="134.4" r="2.85"/>
<circle cx="142.4" cy="135.0" r="2.85"/>
<circle cx="143.0" cy="138.0" r="2.85"/>
<circle cx="176.6" cy="70.0" r="2.85"/>
<circle cx="176.0" cy="73.4" r="2.85"/>
<circle cx="174.6" cy="78.0" r="2.85"/>
<circle cx="168.4" cy="85.0" r="2.85"/>
<circle cx="169.2" cy="87.4" r="2.85"/>
<circle cx="176.0" cy="86.4" r="2.85"/>
<circle cx="174.4" cy="89.4" r="2.85"/>
<circle cx="173.0" cy="92.0" r="2.85"/>
<circle cx="168.4" cy="97.2" r="2.85"/>
<circle cx="173.0" cy="95.6" r="2.85"/>
<circle cx="172.4" cy="98.6" r="2.85"/>
<circle cx="176.6" cy="104.4" r="2.85"/>
<circle cx="172.4" cy="106.0" r="2.85"/>
<circle cx="169.8" cy="109.4" r="2.85"/>
<circle cx="169.4" cy="112.0" r="2.85"/>
<circle cx="167.4" cy="113.4" r="2.85"/>
<circle cx="178.4" cy="115.4" r="2.85"/>
<circle cx="171.6" cy="119.4" r="2.85"/>
<circle cx="177.6" cy="123.6" r="2.85"/>
<circle cx="184.2" cy="124.2" r="2.85"/>
<circle cx="178.4" cy="128.4" r="2.85"/>
<circle cx="167.0" cy="131.0" r="2.85"/>
<circle cx="170.0" cy="130.0" r="2.85"/>
<circle cx="167.0" cy="135.0" r="2.85"/>
<circle cx="170.0" cy="135.0" r="2.85"/>
<circle cx="180.0" cy="138.0" r="2.85"/>
<circle cx="183.0" cy="139.4" r="2.85"/>
<circle cx="132.0" cy="132.0" r="2.85"/>
<circle cx="137.0" cy="133.0" r="2.85"/>
<circle cx="140.0" cy="135.0" r="2.85"/>
<circle cx="142.0" cy="138.0" r="2.85"/>
<circle cx="130.0" cy="137.0" r="2.85"/>
<circle cx="143.0" cy="141.0" r="2.85"/>
<circle cx="141.0" cy="145.0" r="2.85"/>
<circle cx="142.0" cy="148.0" r="2.85"/>
<circle cx="149.0" cy="152.0" r="2.85"/>
<circle cx="143.0" cy="155.0" r="2.85"/>
<circle cx="148.0" cy="158.0" r="2.85"/>
<circle cx="130.0" cy="162.0" r="2.85"/>
<circle cx="133.0" cy="160.0" r="2.85"/>
<circle cx="137.0" cy="162.0" r="2.85"/>
<circle cx="141.0" cy="163.0" r="2.85"/>
<circle cx="145.0" cy="166.0" r="2.85"/>
<circle cx="141.6" cy="168.0" r="2.85"/>
<circle cx="149.0" cy="160.0" r="2.85"/>
<circle cx="150.0" cy="164.0" r="2.85"/>
<circle cx="131.0" cy="179.0" r="2.85"/>
<circle cx="133.0" cy="184.0" r="2.85"/>
<circle cx="136.0" cy="187.0" r="2.85"/>
<circle cx="136.0" cy="192.0" r="2.85"/>
<circle cx="136.0" cy="196.0" r="2.85"/>
<circle cx="129.0" cy="202.0" r="2.85"/>
<circle cx="134.0" cy="203.0" r="2.85"/>
<circle cx="134.0" cy="207.0" r="2.85"/>
<circle cx="122.0" cy="208.0" r="2.85"/>
<circle cx="128.0" cy="210.0" r="2.85"/>
<circle cx="134.0" cy="211.0" r="2.85"/>
<circle cx="127.0" cy="216.0" r="2.85"/>
<circle cx="127.0" cy="221.0" r="2.85"/>
<circle cx="128.0" cy="227.0" r="2.85"/>
<circle cx="127.0" cy="236.0" r="2.85"/>
<circle cx="122.0" cy="240.0" r="2.85"/>
<circle cx="124.0" cy="242.0" r="2.85"/>
<circle cx="126.0" cy="246.0" r="2.85"/>
<circle cx="121.0" cy="249.6" r="2.85"/>
<circle cx="151.0" cy="178.0" r="2.85"/>
<circle cx="150.0" cy="181.0" r="2.85"/>
<circle cx="146.0" cy="187.0" r="2.85"/>
<circle cx="148.0" cy="188.0" r="2.85"/>
<circle cx="153.0" cy="191.0" r="2.85"/>
<circle cx="152.0" cy="194.0" r="2.85"/>
<circle cx="146.0" cy="208.0" r="2.85"/>
<circle cx="152.0" cy="206.0" r="2.85"/>
<circle cx="155.0" cy="211.0" r="2.85"/>
<circle cx="148.0" cy="216.0" r="2.85"/>
<circle cx="153.0" cy="214.0" r="2.85"/>
<circle cx="156.0" cy="218.0" r="2.85"/>
<circle cx="147.0" cy="220.0" r="2.85"/>
<circle cx="146.0" cy="225.0" r="2.85"/>
<circle cx="154.0" cy="224.0" r="2.85"/>
<circle cx="153.0" cy="228.0" r="2.85"/>
<circle cx="158.0" cy="229.0" r="2.85"/>
<circle cx="156.0" cy="232.0" r="2.85"/>
<circle cx="160.0" cy="231.0" r="2.85"/>
<circle cx="148.0" cy="235.0" r="2.85"/>
<circle cx="147.0" cy="242.0" r="2.85"/>
<circle cx="157.0" cy="239.0" r="2.85"/>
<circle cx="159.0" cy="239.6" r="2.85"/>
<circle cx="166.0" cy="132.0" r="2.85"/>
<circle cx="170.0" cy="133.0" r="2.85"/>
<circle cx="167.0" cy="138.0" r="2.85"/>
<circle cx="169.0" cy="139.0" r="2.85"/>
<circle cx="166.0" cy="149.0" r="2.85"/>
<circle cx="168.0" cy="152.0" r="2.85"/>
<circle cx="165.0" cy="154.0" r="2.85"/>
<circle cx="162.0" cy="163.0" r="2.85"/>
<circle cx="164.0" cy="166.0" r="2.85"/>
<circle cx="165.0" cy="167.0" r="2.85"/>
<circle cx="163.0" cy="173.0" r="2.85"/>
<circle cx="161.0" cy="178.0" r="2.85"/>
<circle cx="164.0" cy="185.0" r="2.85"/>
<circle cx="162.0" cy="188.0" r="2.85"/>
<circle cx="161.0" cy="190.0" r="2.85"/>
<circle cx="180.0" cy="138.0" r="2.85"/>
<circle cx="183.0" cy="140.0" r="2.85"/>
<circle cx="180.0" cy="143.0" r="2.85"/>
<circle cx="183.0" cy="145.0" r="2.85"/>
<circle cx="181.0" cy="150.0" r="2.85"/>
<circle cx="182.4" cy="151.0" r="2.85"/>
<circle cx="182.4" cy="165.6" r="2.85"/>
<circle cx="186.0" cy="197.0" r="2.85"/>
<circle cx="189.0" cy="199.0" r="2.85"/>
<circle cx="190.0" cy="203.0" r="2.85"/>
<circle cx="190.0" cy="207.0" r="2.85"/>
<circle cx="189.0" cy="211.0" r="2.85"/>
<circle cx="195.0" cy="211.0" r="2.85"/>
<circle cx="190.0" cy="215.0" r="2.85"/>
<circle cx="195.6" cy="217.0" r="2.85"/>
<circle cx="186.0" cy="220.0" r="2.85"/>
<circle cx="192.0" cy="222.0" r="2.85"/>
<circle cx="195.0" cy="224.0" r="2.85"/>
<circle cx="185.0" cy="226.0" r="2.85"/>
<circle cx="197.0" cy="227.0" r="2.85"/>
<circle cx="194.0" cy="229.0" r="2.85"/>
<circle cx="198.0" cy="230.0" r="2.85"/>
<circle cx="188.0" cy="233.0" r="2.85"/>
<circle cx="196.0" cy="234.0" r="2.85"/>
<circle cx="193.0" cy="236.0" r="2.85"/>
<circle cx="186.0" cy="238.0" r="2.85"/>
<circle cx="198.0" cy="239.0" r="2.85"/>
<circle cx="194.0" cy="242.0" r="2.85"/>
<circle cx="199.0" cy="243.0" r="2.85"/>
<circle cx="195.0" cy="248.0" r="2.85"/>
<circle cx="188.0" cy="250.0" r="2.85"/>
<circle cx="121.6" cy="303.6" r="2.85"/>
<circle cx="121.6" cy="328.0" r="2.85"/>
<circle cx="122.0" cy="250.0" r="2.85"/>
<circle cx="125.0" cy="254.0" r="2.85"/>
<circle cx="122.0" cy="261.0" r="2.85"/>
<circle cx="125.4" cy="265.0" r="2.85"/>
<circle cx="124.0" cy="242.0" r="2.85"/>
<circle cx="126.0" cy="246.0" r="2.85"/>
<circle cx="186.0" cy="254.0" r="2.85"/>
<circle cx="187.0" cy="260.0" r="2.85"/>
<circle cx="187.4" cy="268.0" r="2.85"/>
<circle cx="187.4" cy="274.4" r="2.85"/>
<circle cx="192.0" cy="252.0" r="2.85"/>
<circle cx="198.0" cy="243.0" r="2.85"/>
<circle cx="199.0" cy="258.0" r="2.85"/>
<circle cx="253.5" cy="239.2" r="2.85"/>
<circle cx="252.2" cy="244.9" r="2.85"/>
<circle cx="254.8" cy="244.9" r="2.85"/>
<circle cx="259.8" cy="244.2" r="2.85"/>
<circle cx="259.1" cy="247.4" r="2.85"/>
<circle cx="254.1" cy="249.2" r="2.85"/>
<circle cx="254.8" cy="252.4" r="2.85"/>
<circle cx="251.6" cy="255.5" r="2.85"/>
<circle cx="259.8" cy="256.8" r="2.85"/>
<circle cx="284.1" cy="228.0" r="2.85"/>
<circle cx="286.0" cy="229.9" r="2.85"/>
<circle cx="288.5" cy="231.8" r="2.85"/>
<circle cx="290.4" cy="233.6" r="2.85"/>
<circle cx="284.8" cy="233.0" r="2.85"/>
<circle cx="282.9" cy="238.0" r="2.85"/>
<circle cx="287.9" cy="236.8" r="2.85"/>
<circle cx="291.0" cy="238.0" r="2.85"/>
<circle cx="286.0" cy="241.8" r="2.85"/>
<circle cx="289.8" cy="241.8" r="2.85"/>
<circle cx="284.1" cy="244.9" r="2.85"/>
<circle cx="287.9" cy="245.5" r="2.85"/>
<circle cx="286.0" cy="250.5" r="2.85"/>
<circle cx="279.1" cy="255.5" r="2.85"/>
<circle cx="307.9" cy="184.2" r="2.85"/>
<circle cx="307.2" cy="189.2" r="2.85"/>
<circle cx="309.1" cy="193.0" r="2.85"/>
<circle cx="302.2" cy="195.5" r="2.85"/>
<circle cx="306.0" cy="196.8" r="2.85"/>
<circle cx="303.5" cy="201.8" r="2.85"/>
<circle cx="292.2" cy="203.6" r="2.85"/>
<circle cx="294.8" cy="205.5" r="2.85"/>
<circle cx="309.1" cy="206.1" r="2.85"/>
<circle cx="291.6" cy="208.6" r="2.85"/>
<circle cx="302.9" cy="209.2" r="2.85"/>
<circle cx="296.0" cy="210.5" r="2.85"/>
<circle cx="299.1" cy="211.1" r="2.85"/>
<circle cx="304.8" cy="212.4" r="2.85"/>
<circle cx="289.8" cy="213.6" r="2.85"/>
<circle cx="294.8" cy="214.2" r="2.85"/>
<circle cx="301.0" cy="215.5" r="2.85"/>
<circle cx="290.4" cy="218.6" r="2.85"/>
<circle cx="298.5" cy="218.6" r="2.85"/>
<circle cx="296.0" cy="221.8" r="2.85"/>
<circle cx="299.1" cy="223.0" r="2.85"/>
<circle cx="296.6" cy="226.1" r="2.85"/>
<circle cx="299.1" cy="226.8" r="2.85"/>
<circle cx="297.2" cy="229.9" r="2.85"/>
<circle cx="309.8" cy="236.8" r="2.85"/>
<circle cx="200.4" cy="261.0" r="2.85"/>
<circle cx="200.4" cy="269.8" r="2.85"/>
<circle cx="201.0" cy="272.9" r="2.85"/>
<circle cx="201.6" cy="278.5" r="2.85"/>
<circle cx="202.2" cy="281.0" r="2.85"/>
<circle cx="202.9" cy="284.8" r="2.85"/>
<circle cx="201.6" cy="289.1" r="2.85"/>
<circle cx="201.0" cy="292.2" r="2.85"/>
<circle cx="203.5" cy="293.5" r="2.85"/>
<circle cx="204.1" cy="299.8" r="2.85"/>
<circle cx="205.4" cy="303.5" r="2.85"/>
<circle cx="204.8" cy="309.1" r="2.85"/>
<circle cx="206.6" cy="311.0" r="2.85"/>
<circle cx="209.1" cy="304.8" r="2.85"/>
<circle cx="207.9" cy="314.8" r="2.85"/>
<circle cx="209.1" cy="317.2" r="2.85"/>
<circle cx="206.0" cy="323.5" r="2.85"/>
<circle cx="209.1" cy="322.9" r="2.85"/>
<circle cx="211.0" cy="322.2" r="2.85"/>
<circle cx="206.6" cy="328.5" r="2.85"/>
<circle cx="210.4" cy="327.9" r="2.85"/>
<circle cx="214.8" cy="329.8" r="2.85"/>
<circle cx="216.0" cy="327.9" r="2.85"/>
<circle cx="215.4" cy="272.2" r="2.85"/>
<circle cx="215.4" cy="292.9" r="2.85"/>
<circle cx="214.1" cy="297.2" r="2.85"/>
<circle cx="216.6" cy="299.1" r="2.85"/>
<circle cx="213.5" cy="301.6" r="2.85"/>
<circle cx="210.4" cy="303.5" r="2.85"/>
<circle cx="240.4" cy="314.1" r="2.85"/>
<circle cx="237.9" cy="317.2" r="2.85"/>
<circle cx="241.0" cy="319.1" r="2.85"/>
<circle cx="236.0" cy="321.6" r="2.85"/>
<circle cx="239.1" cy="322.9" r="2.85"/>
<circle cx="234.8" cy="325.4" r="2.85"/>
<circle cx="241.6" cy="324.8" r="2.85"/>
<circle cx="236.0" cy="329.1" r="2.85"/>
<circle cx="239.8" cy="329.8" r="2.85"/>
<circle cx="247.2" cy="318.5" r="2.85"/>
<circle cx="249.1" cy="323.5" r="2.85"/>
<circle cx="246.6" cy="326.0" r="2.85"/>
<circle cx="248.5" cy="327.9" r="2.85"/>
<circle cx="251.0" cy="311.0" r="2.85"/>
<circle cx="251.0" cy="297.9" r="2.85"/>
<circle cx="249.8" cy="300.4" r="2.85"/>
<circle cx="252.2" cy="301.6" r="2.85"/>
<circle cx="249.1" cy="303.5" r="2.85"/>
<circle cx="252.9" cy="304.1" r="2.85"/>
<circle cx="250.4" cy="305.4" r="2.85"/>
<circle cx="252.2" cy="272.9" r="2.85"/>
<circle cx="252.2" cy="285.4" r="2.85"/>
<circle cx="258.5" cy="276.6" r="2.85"/>
<circle cx="257.9" cy="279.1" r="2.85"/>
<circle cx="261.6" cy="281.6" r="2.85"/>
<circle cx="257.9" cy="263.5" r="2.85"/>
<circle cx="259.8" cy="262.9" r="2.85"/>
<circle cx="261.0" cy="259.8" r="2.85"/>
<circle cx="259.1" cy="257.9" r="2.85"/>
<circle cx="261.6" cy="292.2" r="2.85"/>
<circle cx="267.2" cy="297.2" r="2.85"/>
<circle cx="267.9" cy="299.8" r="2.85"/>
<circle cx="264.8" cy="302.9" r="2.85"/>
<circle cx="261.6" cy="304.1" r="2.85"/>
<circle cx="266.0" cy="301.6" r="2.85"/>
<circle cx="266.0" cy="311.0" r="2.85"/>
<circle cx="262.2" cy="314.1" r="2.85"/>
<circle cx="266.0" cy="314.8" r="2.85"/>
<circle cx="271.0" cy="313.5" r="2.85"/>
<circle cx="263.5" cy="317.9" r="2.85"/>
<circle cx="267.9" cy="318.5" r="2.85"/>
<circle cx="264.8" cy="321.0" r="2.85"/>
<circle cx="271.0" cy="321.6" r="2.85"/>
<circle cx="267.9" cy="324.1" r="2.85"/>
<circle cx="272.2" cy="323.5" r="2.85"/>
<circle cx="262.2" cy="324.8" r="2.85"/>
<circle cx="271.0" cy="328.5" r="2.85"/>
<circle cx="269.1" cy="330.4" r="2.85"/>
<circle cx="277.9" cy="310.4" r="2.85"/>
<circle cx="277.9" cy="299.1" r="2.85"/>
<circle cx="282.2" cy="295.4" r="2.85"/>
<circle cx="273.5" cy="295.4" r="2.85"/>
<circle cx="277.2" cy="293.5" r="2.85"/>
<circle cx="273.5" cy="275.4" r="2.85"/>
<circle cx="272.2" cy="279.8" r="2.85"/>
<circle cx="281.6" cy="279.8" r="2.85"/>
<circle cx="274.8" cy="282.9" r="2.85"/>
<circle cx="278.5" cy="282.9" r="2.85"/>
<circle cx="282.9" cy="282.9" r="2.85"/>
<circle cx="276.0" cy="286.6" r="2.85"/>
<circle cx="282.2" cy="289.1" r="2.85"/>
<circle cx="276.6" cy="290.4" r="2.85"/>
<circle cx="277.9" cy="292.9" r="2.85"/>
<circle cx="279.8" cy="264.8" r="2.85"/>
<circle cx="280.4" cy="268.5" r="2.85"/>
<circle cx="281.0" cy="262.2" r="2.85"/>
<circle cx="278.5" cy="258.5" r="2.85"/>
<circle cx="309.8" cy="257.2" r="2.85"/>
<circle cx="205.4" cy="336.6" r="2.85"/>
<circle cx="207.9" cy="334.1" r="2.85"/>
<circle cx="211.0" cy="335.4" r="2.85"/>
<circle cx="213.5" cy="337.2" r="2.85"/>
<circle cx="204.8" cy="339.8" r="2.85"/>
<circle cx="216.0" cy="342.2" r="2.85"/>
<circle cx="206.6" cy="347.2" r="2.85"/>
<circle cx="206.6" cy="359.5" r="2.85"/>
<circle cx="217.9" cy="362.2" r="2.85"/>
<circle cx="217.2" cy="365.4" r="2.85"/>
<circle cx="219.1" cy="371.0" r="2.85"/>
<circle cx="217.9" cy="373.5" r="2.85"/>
<circle cx="219.8" cy="374.1" r="2.85"/>
<circle cx="217.2" cy="376.6" r="2.85"/>
<circle cx="219.1" cy="378.5" r="2.85"/>
<circle cx="220.4" cy="386.0" r="2.85"/>
<circle cx="222.9" cy="387.9" r="2.85"/>
<circle cx="220.4" cy="393.5" r="2.85"/>
<circle cx="223.5" cy="392.2" r="2.85"/>
<circle cx="221.6" cy="400.4" r="2.85"/>
<circle cx="224.1" cy="399.1" r="2.85"/>
<circle cx="221.0" cy="404.8" r="2.85"/>
<circle cx="224.8" cy="404.1" r="2.85"/>
<circle cx="236.0" cy="334.1" r="2.85"/>
<circle cx="235.4" cy="349.1" r="2.85"/>
<circle cx="232.9" cy="350.4" r="2.85"/>
<circle cx="234.1" cy="357.2" r="2.85"/>
<circle cx="232.2" cy="360.4" r="2.85"/>
<circle cx="231.0" cy="364.1" r="2.85"/>
<circle cx="230.4" cy="368.5" r="2.85"/>
<circle cx="232.9" cy="371.0" r="2.85"/>
<circle cx="231.6" cy="374.8" r="2.85"/>
<circle cx="231.0" cy="378.5" r="2.85"/>
<circle cx="228.5" cy="380.4" r="2.85"/>
<circle cx="229.8" cy="384.8" r="2.85"/>
<circle cx="229.1" cy="389.1" r="2.85"/>
<circle cx="226.6" cy="389.8" r="2.85"/>
<circle cx="228.5" cy="393.5" r="2.85"/>
<circle cx="226.0" cy="396.0" r="2.85"/>
<circle cx="227.9" cy="399.1" r="2.85"/>
<circle cx="226.0" cy="402.9" r="2.85"/>
<circle cx="241.0" cy="339.8" r="2.85"/>
<circle cx="244.8" cy="338.5" r="2.85"/>
<circle cx="247.9" cy="336.0" r="2.85"/>
<circle cx="246.6" cy="342.9" r="2.85"/>
<circle cx="244.1" cy="345.4" r="2.85"/>
<circle cx="246.0" cy="350.4" r="2.85"/>
<circle cx="242.9" cy="355.4" r="2.85"/>
<circle cx="243.5" cy="356.6" r="2.85"/>
<circle cx="268.5" cy="336.0" r="2.85"/>
<circle cx="272.2" cy="336.6" r="2.85"/>
<circle cx="269.5" cy="342.5" r="2.85"/>
<circle cx="269.8" cy="332.9" r="2.85"/>
<circle cx="328.5" cy="176.2" r="2.85"/>
<circle cx="328.5" cy="192.5" r="2.85"/>
<circle cx="334.1" cy="190.6" r="2.85"/>
<circle cx="335.4" cy="193.1" r="2.85"/>
<circle cx="336.6" cy="199.4" r="2.85"/>
<circle cx="336.6" cy="203.8" r="2.85"/>
<circle cx="336.0" cy="206.2" r="2.85"/>
<circle cx="335.4" cy="210.0" r="2.85"/>
<circle cx="337.9" cy="210.6" r="2.85"/>
<circle cx="337.2" cy="215.6" r="2.85"/>
<circle cx="325.4" cy="210.6" r="2.85"/>
<circle cx="326.0" cy="213.8" r="2.85"/>
<circle cx="329.8" cy="213.8" r="2.85"/>
<circle cx="327.2" cy="216.9" r="2.85"/>
<circle cx="328.5" cy="218.1" r="2.85"/>
<circle cx="318.5" cy="221.2" r="2.85"/>
<circle cx="324.1" cy="224.4" r="2.85"/>
<circle cx="330.4" cy="224.4" r="2.85"/>
<circle cx="317.9" cy="227.5" r="2.85"/>
<circle cx="320.4" cy="228.8" r="2.85"/>
<circle cx="319.1" cy="231.2" r="2.85"/>
<circle cx="322.9" cy="231.9" r="2.85"/>
<circle cx="324.8" cy="233.8" r="2.85"/>
<circle cx="319.8" cy="235.0" r="2.85"/>
<circle cx="317.2" cy="237.5" r="2.85"/>
<circle cx="322.9" cy="237.5" r="2.85"/>
<circle cx="321.6" cy="241.2" r="2.85"/>
<circle cx="324.1" cy="241.9" r="2.85"/>
<circle cx="313.5" cy="241.2" r="2.85"/>
<circle cx="311.0" cy="238.8" r="2.85"/>
<circle cx="311.0" cy="207.5" r="2.85"/>
<circle cx="338.5" cy="230.0" r="2.85"/>
<circle cx="339.8" cy="233.8" r="2.85"/>
<circle cx="334.8" cy="232.5" r="2.85"/>
<circle cx="332.9" cy="235.0" r="2.85"/>
<circle cx="335.4" cy="237.5" r="2.85"/>
<circle cx="340.4" cy="241.2" r="2.85"/>
<circle cx="329.8" cy="241.2" r="2.85"/>
<circle cx="358.5" cy="225.0" r="2.85"/>
<circle cx="358.5" cy="230.6" r="2.85"/>
<circle cx="351.6" cy="235.6" r="2.85"/>
<circle cx="357.2" cy="235.6" r="2.85"/>
<circle cx="351.0" cy="240.6" r="2.85"/>
<circle cx="352.9" cy="241.2" r="2.85"/>
<circle cx="357.9" cy="239.4" r="2.85"/>
<circle cx="361.0" cy="238.8" r="2.85"/>
<circle cx="311.0" cy="243.8" r="2.85"/>
<circle cx="314.1" cy="242.5" r="2.85"/>
<circle cx="316.0" cy="246.2" r="2.85"/>
<circle cx="312.9" cy="248.8" r="2.85"/>
<circle cx="311.0" cy="251.2" r="2.85"/>
<circle cx="315.4" cy="252.5" r="2.85"/>
<circle cx="316.6" cy="254.4" r="2.85"/>
<circle cx="311.0" cy="256.2" r="2.85"/>
<circle cx="323.5" cy="242.5" r="2.85"/>
<circle cx="329.8" cy="242.5" r="2.85"/>
<circle cx="331.6" cy="246.2" r="2.85"/>
<circle cx="331.0" cy="250.6" r="2.85"/>
<circle cx="337.9" cy="242.5" r="2.85"/>
<circle cx="341.0" cy="243.8" r="2.85"/>
<circle cx="340.4" cy="247.5" r="2.85"/>
<circle cx="341.0" cy="251.2" r="2.85"/>
<circle cx="337.9" cy="251.9" r="2.85"/>
<circle cx="352.2" cy="242.5" r="2.85"/>
<circle cx="356.0" cy="242.5" r="2.85"/>
<circle cx="361.0" cy="242.5" r="2.85"/>
<circle cx="354.1" cy="245.0" r="2.85"/>
<circle cx="359.1" cy="245.6" r="2.85"/>
<circle cx="362.9" cy="245.0" r="2.85"/>
<circle cx="352.2" cy="248.8" r="2.85"/>
<circle cx="355.4" cy="249.4" r="2.85"/>
<circle cx="362.2" cy="248.8" r="2.85"/>
<circle cx="351.0" cy="252.5" r="2.85"/>
<circle cx="354.8" cy="253.1" r="2.85"/>
<circle cx="360.4" cy="252.5" r="2.85"/>
<circle cx="364.8" cy="251.9" r="2.85"/>
<circle cx="351.6" cy="256.2" r="2.85"/>
<circle cx="356.6" cy="255.6" r="2.85"/>
<circle cx="362.2" cy="256.2" r="2.85"/>
<circle cx="365.4" cy="256.2" r="2.85"/>
<circle cx="353.5" cy="259.4" r="2.85"/>
<circle cx="359.1" cy="260.0" r="2.85"/>
<circle cx="364.1" cy="260.0" r="2.85"/>
<circle cx="364.8" cy="266.2" r="2.85"/>
<circle cx="359.1" cy="269.4" r="2.85"/>
<circle cx="349.1" cy="273.1" r="2.85"/>
<circle cx="341.6" cy="281.9" r="2.85"/>
<circle cx="345.4" cy="280.6" r="2.85"/>
<circle cx="347.9" cy="282.5" r="2.85"/>
<circle cx="348.5" cy="286.9" r="2.85"/>
<circle cx="346.6" cy="289.4" r="2.85"/>
<circle cx="341.0" cy="291.9" r="2.85"/>
<circle cx="347.2" cy="291.9" r="2.85"/>
<circle cx="341.6" cy="295.0" r="2.85"/>
<circle cx="346.0" cy="296.9" r="2.85"/>
<circle cx="345.4" cy="306.9" r="2.85"/>
<circle cx="370.4" cy="275.0" r="2.85"/>
<circle cx="366.6" cy="277.5" r="2.85"/>
<circle cx="369.1" cy="280.6" r="2.85"/>
<circle cx="376.6" cy="280.6" r="2.85"/>
<circle cx="364.8" cy="283.8" r="2.85"/>
<circle cx="377.9" cy="284.4" r="2.85"/>
<circle cx="366.0" cy="286.9" r="2.85"/>
<circle cx="369.8" cy="288.1" r="2.85"/>
<circle cx="373.5" cy="289.4" r="2.85"/>
<circle cx="376.0" cy="292.5" r="2.85"/>
<circle cx="368.5" cy="293.8" r="2.85"/>
<circle cx="372.2" cy="295.0" r="2.85"/>
<circle cx="375.4" cy="296.2" r="2.85"/>
<circle cx="379.1" cy="296.9" r="2.85"/>
<circle cx="366.0" cy="298.8" r="2.85"/>
<circle cx="373.5" cy="299.4" r="2.85"/>
<circle cx="381.0" cy="300.0" r="2.85"/>
<circle cx="372.2" cy="302.5" r="2.85"/>
<circle cx="379.1" cy="301.9" r="2.85"/>
<circle cx="382.9" cy="303.8" r="2.85"/>
<circle cx="367.9" cy="305.0" r="2.85"/>
<circle cx="379.8" cy="305.6" r="2.85"/>
<circle cx="384.1" cy="306.9" r="2.85"/>
<circle cx="345.4" cy="307.5" r="2.85"/>
<circle cx="342.2" cy="314.4" r="2.85"/>
<circle cx="346.0" cy="313.1" r="2.85"/>
<circle cx="342.2" cy="330.0" r="2.85"/>
<circle cx="342.9" cy="333.1" r="2.85"/>
<circle cx="343.5" cy="336.2" r="2.85"/>
<circle cx="342.9" cy="342.5" r="2.85"/>
<circle cx="346.0" cy="341.2" r="2.85"/>
<circle cx="367.2" cy="322.5" r="2.85"/>
<circle cx="367.9" cy="308.1" r="2.85"/>
<circle cx="372.2" cy="307.5" r="2.85"/>
<circle cx="369.8" cy="307.5" r="2.85"/>
<circle cx="379.8" cy="307.5" r="2.85"/>
<circle cx="380.4" cy="312.5" r="2.85"/>
<circle cx="382.9" cy="313.8" r="2.85"/>
<circle cx="386.0" cy="315.6" r="2.85"/>
<circle cx="383.5" cy="318.8" r="2.85"/>
<circle cx="386.6" cy="319.4" r="2.85"/>
<circle cx="386.0" cy="326.2" r="2.85"/>
<circle cx="393.5" cy="324.4" r="2.85"/>
<circle cx="399.8" cy="320.0" r="2.85"/>
<circle cx="402.2" cy="323.8" r="2.85"/>
<circle cx="401.0" cy="326.9" r="2.85"/>
<circle cx="394.8" cy="328.1" r="2.85"/>
<circle cx="387.2" cy="332.5" r="2.85"/>
<circle cx="391.0" cy="334.4" r="2.85"/>
<circle cx="397.2" cy="332.5" r="2.85"/>
<circle cx="401.0" cy="331.9" r="2.85"/>
<circle cx="406.0" cy="331.2" r="2.85"/>
<circle cx="409.8" cy="330.0" r="2.85"/>
<circle cx="413.5" cy="330.0" r="2.85"/>
<circle cx="386.0" cy="337.5" r="2.85"/>
<circle cx="392.2" cy="337.5" r="2.85"/>
<circle cx="398.5" cy="336.2" r="2.85"/>
<circle cx="403.5" cy="335.6" r="2.85"/>
<circle cx="408.5" cy="335.0" r="2.85"/>
<circle cx="412.2" cy="333.8" r="2.85"/>
<circle cx="387.2" cy="341.9" r="2.85"/>
<circle cx="391.6" cy="342.5" r="2.85"/>
<circle cx="397.2" cy="341.9" r="2.85"/>
<circle cx="401.6" cy="340.0" r="2.85"/>
<circle cx="406.0" cy="339.4" r="2.85"/>
<circle cx="410.4" cy="338.1" r="2.85"/>
<circle cx="404.1" cy="343.8" r="2.85"/>
<circle cx="408.5" cy="343.1" r="2.85"/>
<circle cx="404.1" cy="347.5" r="2.85"/>
<circle cx="410.4" cy="346.9" r="2.85"/>
<circle cx="415.4" cy="310.6" r="2.85"/>
<circle cx="413.5" cy="314.4" r="2.85"/>
<circle cx="417.9" cy="316.2" r="2.85"/>
<circle cx="409.8" cy="320.0" r="2.85"/>
<circle cx="414.8" cy="320.6" r="2.85"/>
<circle cx="419.1" cy="323.1" r="2.85"/>
<circle cx="413.5" cy="324.4" r="2.85"/>
<circle cx="421.0" cy="326.9" r="2.85"/>
<circle cx="420.4" cy="331.2" r="2.85"/>
<circle cx="424.8" cy="332.5" r="2.85"/>
<circle cx="419.8" cy="335.6" r="2.85"/>
<circle cx="424.1" cy="336.2" r="2.85"/>
<circle cx="422.9" cy="339.4" r="2.85"/>
<circle cx="424.8" cy="323.1" r="2.85"/>
<circle cx="448.5" cy="225.6" r="2.85"/>
<circle cx="448.1" cy="233.1" r="2.85"/>
<circle cx="451.9" cy="233.8" r="2.85"/>
<circle cx="447.5" cy="238.8" r="2.85"/>
<circle cx="451.9" cy="238.8" r="2.85"/>
<circle cx="445.6" cy="241.2" r="2.85"/>
<circle cx="450.0" cy="242.5" r="2.85"/>
<circle cx="455.0" cy="242.5" r="2.85"/>
<circle cx="451.9" cy="246.9" r="2.85"/>
<circle cx="434.4" cy="245.0" r="2.85"/>
<circle cx="446.2" cy="249.4" r="2.85"/>
<circle cx="456.2" cy="250.0" r="2.85"/>
<circle cx="443.1" cy="253.8" r="2.85"/>
<circle cx="452.5" cy="253.1" r="2.85"/>
<circle cx="457.5" cy="256.2" r="2.85"/>
<circle cx="435.6" cy="256.9" r="2.85"/>
<circle cx="433.8" cy="261.2" r="2.85"/>
<circle cx="436.9" cy="262.5" r="2.85"/>
<circle cx="446.2" cy="260.6" r="2.85"/>
<circle cx="442.5" cy="264.4" r="2.85"/>
<circle cx="446.9" cy="265.0" r="2.85"/>
<circle cx="441.9" cy="268.1" r="2.85"/>
<circle cx="445.6" cy="269.4" r="2.85"/>
<circle cx="443.8" cy="272.5" r="2.85"/>
<circle cx="457.5" cy="264.4" r="2.85"/>
<circle cx="461.9" cy="266.9" r="2.85"/>
<circle cx="458.1" cy="269.4" r="2.85"/>
<circle cx="463.1" cy="268.1" r="2.85"/>
<circle cx="458.8" cy="272.5" r="2.85"/>
<circle cx="462.5" cy="272.5" r="2.85"/>
<circle cx="456.9" cy="275.6" r="2.85"/>
<circle cx="461.2" cy="276.2" r="2.85"/>
<circle cx="465.0" cy="276.2" r="2.85"/>
<circle cx="458.8" cy="280.0" r="2.85"/>
<circle cx="463.8" cy="280.0" r="2.85"/>
<circle cx="465.6" cy="283.8" r="2.85"/>
<circle cx="467.5" cy="288.1" r="2.85"/>
<circle cx="432.5" cy="275.0" r="2.85"/>
<circle cx="433.1" cy="278.8" r="2.85"/>
<circle cx="430.0" cy="282.5" r="2.85"/>
<circle cx="436.2" cy="281.9" r="2.85"/>
<circle cx="431.9" cy="285.6" r="2.85"/>
<circle cx="437.5" cy="285.6" r="2.85"/>
<circle cx="442.5" cy="286.2" r="2.85"/>
<circle cx="428.8" cy="285.0" r="2.85"/>
<circle cx="428.8" cy="290.0" r="2.85"/>
<circle cx="432.5" cy="290.0" r="2.85"/>
<circle cx="437.5" cy="290.0" r="2.85"/>
<circle cx="442.5" cy="290.0" r="2.85"/>
<circle cx="430.0" cy="292.5" r="2.85"/>
<circle cx="440.0" cy="291.9" r="2.85"/>
<circle cx="441.9" cy="294.4" r="2.85"/>
<circle cx="429.4" cy="296.9" r="2.85"/>
<circle cx="437.5" cy="301.2" r="2.85"/>
<circle cx="440.0" cy="303.1" r="2.85"/>
<circle cx="429.4" cy="310.0" r="2.85"/>
<circle cx="428.1" cy="311.9" r="2.85"/>
<circle cx="427.5" cy="320.6" r="2.85"/>
<circle cx="426.2" cy="325.0" r="2.85"/>
<circle cx="428.1" cy="328.1" r="2.85"/>
<circle cx="426.9" cy="333.1" r="2.85"/>
<circle cx="425.0" cy="338.8" r="2.85"/>
<circle cx="466.2" cy="290.0" r="2.85"/>
<circle cx="468.1" cy="290.6" r="2.85"/>
<circle cx="466.9" cy="295.6" r="2.85"/>
<circle cx="470.0" cy="296.9" r="2.85"/>
<circle cx="474.4" cy="295.6" r="2.85"/>
<circle cx="468.1" cy="300.6" r="2.85"/>
<circle cx="473.1" cy="300.6" r="2.85"/>
<circle cx="467.5" cy="303.8" r="2.85"/>
<circle cx="473.1" cy="305.0" r="2.85"/>
<circle cx="476.2" cy="303.8" r="2.85"/>
<circle cx="475.0" cy="307.5" r="2.85"/>
<circle cx="468.1" cy="310.6" r="2.85"/>
<circle cx="475.6" cy="310.6" r="2.85"/>
<circle cx="476.2" cy="316.9" r="2.85"/>
<circle cx="475.6" cy="321.9" r="2.85"/>
<circle cx="480.0" cy="322.5" r="2.85"/>
<circle cx="478.1" cy="326.2" r="2.85"/>
<circle cx="481.9" cy="326.9" r="2.85"/>
<circle cx="481.2" cy="330.6" r="2.85"/>
<circle cx="485.0" cy="329.4" r="2.85"/>
<circle cx="483.1" cy="333.8" r="2.85"/>
<circle cx="486.2" cy="333.1" r="2.85"/>
<circle cx="483.8" cy="337.5" r="2.85"/>
<circle cx="486.9" cy="337.5" r="2.85"/>
<circle cx="481.2" cy="343.1" r="2.85"/>
<circle cx="491.2" cy="301.2" r="2.85"/>
<circle cx="489.4" cy="305.0" r="2.85"/>
<circle cx="495.0" cy="305.6" r="2.85"/>
<circle cx="488.1" cy="309.4" r="2.85"/>
<circle cx="493.8" cy="308.8" r="2.85"/>
<circle cx="490.0" cy="316.9" r="2.85"/>
<circle cx="493.1" cy="319.4" r="2.85"/>
<circle cx="486.9" cy="320.0" r="2.85"/>
<circle cx="488.1" cy="324.4" r="2.85"/>
<circle cx="486.2" cy="326.9" r="2.85"/>
<circle cx="510.6" cy="303.1" r="2.85"/>
<circle cx="506.2" cy="306.9" r="2.85"/>
<circle cx="512.5" cy="307.5" r="2.85"/>
<circle cx="503.1" cy="310.6" r="2.85"/>
<circle cx="508.1" cy="311.2" r="2.85"/>
<circle cx="513.8" cy="311.9" r="2.85"/>
<circle cx="500.0" cy="314.4" r="2.85"/>
<circle cx="505.0" cy="315.0" r="2.85"/>
<circle cx="511.2" cy="315.6" r="2.85"/>
<circle cx="497.5" cy="318.1" r="2.85"/>
<circle cx="502.5" cy="318.8" r="2.85"/>
<circle cx="514.4" cy="321.2" r="2.85"/>
<circle cx="511.2" cy="323.8" r="2.85"/>
<circle cx="497.5" cy="324.4" r="2.85"/>
<circle cx="506.9" cy="325.6" r="2.85"/>
<circle cx="499.4" cy="328.1" r="2.85"/>
<circle cx="512.5" cy="330.0" r="2.85"/>
<circle cx="499.4" cy="332.5" r="2.85"/>
<circle cx="507.5" cy="334.4" r="2.85"/>
<circle cx="515.0" cy="292.5" r="2.85"/>
<circle cx="516.9" cy="296.2" r="2.85"/>
<circle cx="521.2" cy="298.1" r="2.85"/>
<circle cx="524.4" cy="298.8" r="2.85"/>
<circle cx="516.2" cy="300.6" r="2.85"/>
<circle cx="520.6" cy="302.5" r="2.85"/>
<circle cx="526.2" cy="303.1" r="2.85"/>
<circle cx="515.6" cy="305.6" r="2.85"/>
<circle cx="520.0" cy="306.9" r="2.85"/>
<circle cx="525.0" cy="306.9" r="2.85"/>
<circle cx="530.6" cy="305.6" r="2.85"/>
<circle cx="518.1" cy="310.6" r="2.85"/>
<circle cx="523.1" cy="310.6" r="2.85"/>
<circle cx="527.5" cy="310.0" r="2.85"/>
<circle cx="531.2" cy="311.9" r="2.85"/>
<circle cx="520.0" cy="313.1" r="2.85"/>
<circle cx="526.2" cy="315.0" r="2.85"/>
<circle cx="532.5" cy="315.0" r="2.85"/>
<circle cx="533.1" cy="318.1" r="2.85"/>
<circle cx="529.4" cy="321.2" r="2.85"/>
<circle cx="531.9" cy="325.0" r="2.85"/>
<circle cx="528.1" cy="328.8" r="2.85"/>
<circle cx="534.4" cy="353.1" r="2.85"/>
<circle cx="533.1" cy="357.5" r="2.85"/>
<circle cx="541.2" cy="355.0" r="2.85"/>
<circle cx="543.8" cy="338.1" r="2.85"/>
<circle cx="546.9" cy="336.9" r="2.85"/>
<circle cx="542.5" cy="341.2" r="2.85"/>
<circle cx="548.8" cy="341.2" r="2.85"/>
<circle cx="546.2" cy="345.0" r="2.85"/>
<circle cx="548.8" cy="347.5" r="2.85"/>
<circle cx="543.1" cy="347.5" r="2.85"/>
<circle cx="546.9" cy="352.5" r="2.85"/>
<circle cx="548.8" cy="356.9" r="2.85"/>
<circle cx="501.2" cy="327.5" r="2.85"/>
<circle cx="506.2" cy="327.5" r="2.85"/>
<circle cx="511.2" cy="327.5" r="2.85"/>
<circle cx="500.0" cy="331.2" r="2.85"/>
<circle cx="507.5" cy="333.8" r="2.85"/>
<circle cx="512.5" cy="330.0" r="2.85"/>
<circle cx="528.8" cy="328.1" r="2.85"/>
<circle cx="534.4" cy="353.1" r="2.85"/>
<circle cx="533.1" cy="358.1" r="2.85"/>
<circle cx="541.2" cy="355.0" r="2.85"/>
<circle cx="536.2" cy="361.2" r="2.85"/>
<circle cx="533.1" cy="365.0" r="2.85"/>
<circle cx="538.1" cy="363.8" r="2.85"/>
<circle cx="541.9" cy="365.0" r="2.85"/>
<circle cx="536.9" cy="368.8" r="2.85"/>
<circle cx="541.2" cy="368.8" r="2.85"/>
<circle cx="536.2" cy="373.1" r="2.85"/>
<circle cx="539.4" cy="372.5" r="2.85"/>
<circle cx="538.1" cy="379.4" r="2.85"/>
<circle cx="539.4" cy="389.4" r="2.85"/>
<circle cx="539.4" cy="395.0" r="2.85"/>
<circle cx="543.8" cy="337.5" r="2.85"/>
<circle cx="546.9" cy="338.1" r="2.85"/>
<circle cx="543.1" cy="341.9" r="2.85"/>
<circle cx="550.0" cy="346.9" r="2.85"/>
<circle cx="546.9" cy="349.4" r="2.85"/>
<circle cx="550.0" cy="351.9" r="2.85"/>
<circle cx="547.5" cy="355.6" r="2.85"/>
<circle cx="551.9" cy="356.2" r="2.85"/>
<circle cx="562.5" cy="338.1" r="2.85"/>
<circle cx="560.6" cy="349.4" r="2.85"/>
<circle cx="565.0" cy="348.1" r="2.85"/>
<circle cx="563.1" cy="351.9" r="2.85"/>
<circle cx="566.9" cy="352.5" r="2.85"/>
<circle cx="556.9" cy="358.8" r="2.85"/>
<circle cx="561.2" cy="358.8" r="2.85"/>
<circle cx="566.2" cy="357.5" r="2.85"/>
<circle cx="552.5" cy="363.1" r="2.85"/>
<circle cx="556.9" cy="363.8" r="2.85"/>
<circle cx="565.0" cy="363.1" r="2.85"/>
<circle cx="560.0" cy="367.5" r="2.85"/>
<circle cx="555.6" cy="368.1" r="2.85"/>
<circle cx="556.9" cy="373.1" r="2.85"/>
<circle cx="567.5" cy="363.8" r="2.85"/>
<circle cx="566.2" cy="367.5" r="2.85"/>
<circle cx="568.1" cy="371.2" r="2.85"/>
<circle cx="571.9" cy="373.1" r="2.85"/>
<circle cx="570.6" cy="380.0" r="2.85"/>
<circle cx="574.4" cy="371.9" r="2.85"/>
<circle cx="575.6" cy="358.8" r="2.85"/>
<circle cx="580.0" cy="360.6" r="2.85"/>
<circle cx="575.0" cy="363.1" r="2.85"/>
<circle cx="579.4" cy="365.0" r="2.85"/>
<circle cx="576.2" cy="367.5" r="2.85"/>
<circle cx="580.0" cy="368.1" r="2.85"/>
<circle cx="572.5" cy="366.2" r="2.85"/>
<circle cx="586.2" cy="327.5" r="2.85"/>
<circle cx="590.0" cy="327.5" r="2.85"/>
<circle cx="596.2" cy="327.5" r="2.85"/>
<circle cx="593.8" cy="333.8" r="2.85"/>
<circle cx="598.8" cy="334.4" r="2.85"/>
<circle cx="595.0" cy="340.0" r="2.85"/>
<circle cx="598.1" cy="343.8" r="2.85"/>
<circle cx="598.8" cy="347.5" r="2.85"/>
<circle cx="587.5" cy="330.0" r="2.85"/>
<circle cx="581.6" cy="303.2" r="2.85"/>
<circle cx="582.2" cy="305.8" r="2.85"/>
<circle cx="590.4" cy="305.1" r="2.85"/>
<circle cx="591.0" cy="308.9" r="2.85"/>
<circle cx="582.9" cy="310.8" r="2.85"/>
<circle cx="592.2" cy="310.8" r="2.85"/>
<circle cx="579.8" cy="315.8" r="2.85"/>
<circle cx="585.4" cy="315.1" r="2.85"/>
<circle cx="589.8" cy="314.5" r="2.85"/>
<circle cx="593.5" cy="319.5" r="2.85"/>
<circle cx="584.1" cy="320.1" r="2.85"/>
<circle cx="589.1" cy="320.8" r="2.85"/>
<circle cx="585.4" cy="324.5" r="2.85"/>
<circle cx="590.4" cy="324.5" r="2.85"/>
<circle cx="586.6" cy="328.2" r="2.85"/>
<circle cx="596.0" cy="326.4" r="2.85"/>
<circle cx="608.5" cy="271.4" r="2.85"/>
<circle cx="606.0" cy="274.5" r="2.85"/>
<circle cx="611.0" cy="274.5" r="2.85"/>
<circle cx="609.1" cy="278.9" r="2.85"/>
<circle cx="607.2" cy="284.5" r="2.85"/>
<circle cx="612.2" cy="284.5" r="2.85"/>
<circle cx="611.0" cy="288.9" r="2.85"/>
<circle cx="607.2" cy="294.5" r="2.85"/>
<circle cx="614.1" cy="292.0" r="2.85"/>
<circle cx="614.8" cy="296.4" r="2.85"/>
<circle cx="616.0" cy="299.5" r="2.85"/>
<circle cx="613.5" cy="302.0" r="2.85"/>
<circle cx="617.2" cy="304.5" r="2.85"/>
<circle cx="619.1" cy="305.8" r="2.85"/>
<circle cx="617.2" cy="308.9" r="2.85"/>
<circle cx="618.5" cy="313.2" r="2.85"/>
<circle cx="619.8" cy="317.0" r="2.85"/>
<circle cx="622.2" cy="305.1" r="2.85"/>
<circle cx="624.8" cy="302.0" r="2.85"/>
<circle cx="622.9" cy="298.2" r="2.85"/>
<circle cx="623.5" cy="295.8" r="2.85"/>
<circle cx="626.6" cy="281.4" r="2.85"/>
<circle cx="623.5" cy="289.5" r="2.85"/>
<circle cx="629.1" cy="287.0" r="2.85"/>
<circle cx="627.2" cy="291.4" r="2.85"/>
<circle cx="631.6" cy="290.1" r="2.85"/>
<circle cx="626.0" cy="295.1" r="2.85"/>
<circle cx="630.4" cy="295.1" r="2.85"/>
<circle cx="632.9" cy="295.1" r="2.85"/>
<circle cx="639.1" cy="313.9" r="2.85"/>
<circle cx="639.8" cy="318.2" r="2.85"/>
<circle cx="640.4" cy="322.0" r="2.85"/>
<circle cx="636.0" cy="323.9" r="2.85"/>
<circle cx="635.4" cy="327.6" r="2.85"/>
<circle cx="643.5" cy="327.0" r="2.85"/>
<circle cx="639.1" cy="329.5" r="2.85"/>
<circle cx="665.4" cy="295.1" r="2.85"/>
<circle cx="670.4" cy="295.8" r="2.85"/>
<circle cx="667.2" cy="299.5" r="2.85"/>
<circle cx="671.0" cy="301.4" r="2.85"/>
<circle cx="664.8" cy="302.6" r="2.85"/>
<circle cx="669.1" cy="304.5" r="2.85"/>
<circle cx="660.4" cy="306.4" r="2.85"/>
<circle cx="666.0" cy="306.4" r="2.85"/>
<circle cx="671.0" cy="307.6" r="2.85"/>
<circle cx="659.8" cy="310.1" r="2.85"/>
<circle cx="664.1" cy="310.8" r="2.85"/>
<circle cx="669.8" cy="311.4" r="2.85"/>
<circle cx="678.5" cy="309.5" r="2.85"/>
<circle cx="658.5" cy="314.5" r="2.85"/>
<circle cx="662.9" cy="315.1" r="2.85"/>
<circle cx="673.5" cy="313.2" r="2.85"/>
<circle cx="679.1" cy="313.2" r="2.85"/>
<circle cx="657.9" cy="318.9" r="2.85"/>
<circle cx="663.5" cy="319.5" r="2.85"/>
<circle cx="671.6" cy="317.6" r="2.85"/>
<circle cx="677.2" cy="317.0" r="2.85"/>
<circle cx="657.2" cy="323.2" r="2.85"/>
<circle cx="674.8" cy="320.8" r="2.85"/>
<circle cx="679.1" cy="323.2" r="2.85"/>
<circle cx="656.6" cy="327.0" r="2.85"/>
<circle cx="658.5" cy="329.5" r="2.85"/>
<circle cx="672.2" cy="327.0" r="2.85"/>
<circle cx="606.2" cy="330.6" r="2.85"/>
<circle cx="605.0" cy="335.0" r="2.85"/>
<circle cx="601.9" cy="336.9" r="2.85"/>
<circle cx="605.6" cy="340.0" r="2.85"/>
<circle cx="601.2" cy="343.1" r="2.85"/>
<circle cx="604.4" cy="345.0" r="2.85"/>
<circle cx="601.9" cy="348.1" r="2.85"/>
<circle cx="635.6" cy="330.6" r="2.85"/>
<circle cx="641.2" cy="330.6" r="2.85"/>
<circle cx="635.0" cy="332.5" r="2.85"/>
<circle cx="640.0" cy="331.9" r="2.85"/>
<circle cx="633.8" cy="336.2" r="2.85"/>
<circle cx="634.4" cy="340.0" r="2.85"/>
<circle cx="640.6" cy="339.4" r="2.85"/>
<circle cx="633.8" cy="346.2" r="2.85"/>
<circle cx="633.1" cy="348.8" r="2.85"/>
<circle cx="632.5" cy="353.8" r="2.85"/>
<circle cx="632.5" cy="366.5" r="2.85"/>
<circle cx="644.4" cy="330.6" r="2.85"/>
<circle cx="648.1" cy="330.6" r="2.85"/>
<circle cx="643.8" cy="335.0" r="2.85"/>
<circle cx="649.4" cy="335.0" r="2.85"/>
<circle cx="653.8" cy="335.0" r="2.85"/>
<circle cx="645.0" cy="339.4" r="2.85"/>
<circle cx="651.2" cy="339.4" r="2.85"/>
<circle cx="656.2" cy="339.4" r="2.85"/>
<circle cx="646.9" cy="343.1" r="2.85"/>
<circle cx="653.1" cy="343.8" r="2.85"/>
<circle cx="646.9" cy="346.9" r="2.85"/>
<circle cx="652.5" cy="347.5" r="2.85"/>
<circle cx="656.2" cy="345.6" r="2.85"/>
<circle cx="657.5" cy="330.6" r="2.85"/>
<circle cx="680.4" cy="331.5" r="2.85"/>
<circle cx="687.5" cy="350.6" r="2.85"/>
<circle cx="688.8" cy="354.4" r="2.85"/>
<circle cx="686.2" cy="358.1" r="2.85"/>
<circle cx="680.0" cy="360.6" r="2.85"/>
<circle cx="685.0" cy="362.5" r="2.85"/>
<circle cx="681.9" cy="364.4" r="2.85"/>
<circle cx="688.1" cy="363.8" r="2.85"/>
<circle cx="682.5" cy="368.1" r="2.85"/>
<circle cx="687.5" cy="368.1" r="2.85"/>
<circle cx="690.0" cy="354.5" r="2.85"/>
<circle cx="691.2" cy="364.5" r="2.85"/>
<circle cx="694.4" cy="366.4" r="2.85"/>
<circle cx="696.9" cy="364.5" r="2.85"/>
<circle cx="692.5" cy="370.1" r="2.85"/>
<circle cx="697.5" cy="369.5" r="2.85"/>
<circle cx="700.0" cy="368.2" r="2.85"/>
<circle cx="691.9" cy="373.9" r="2.85"/>
<circle cx="696.2" cy="374.5" r="2.85"/>
<circle cx="701.2" cy="373.2" r="2.85"/>
<circle cx="706.2" cy="373.9" r="2.85"/>
<circle cx="695.6" cy="378.9" r="2.85"/>
<circle cx="699.4" cy="377.6" r="2.85"/>
<circle cx="704.4" cy="377.0" r="2.85"/>
<circle cx="700.6" cy="382.6" r="2.85"/>
<circle cx="702.5" cy="385.8" r="2.85"/>
<circle cx="706.9" cy="388.9" r="2.85"/>
<circle cx="708.8" cy="392.0" r="2.85"/>
<circle cx="706.9" cy="395.8" r="2.85"/>
<circle cx="711.2" cy="394.5" r="2.85"/>
<circle cx="713.1" cy="398.2" r="2.85"/>
<circle cx="706.2" cy="403.2" r="2.85"/>
<circle cx="712.5" cy="403.2" r="2.85"/>
<circle cx="716.2" cy="383.2" r="2.85"/>
<circle cx="714.4" cy="387.6" r="2.85"/>
<circle cx="717.5" cy="388.2" r="2.85"/>
<circle cx="716.2" cy="392.6" r="2.85"/>
<circle cx="720.6" cy="390.8" r="2.85"/>
<circle cx="719.4" cy="395.8" r="2.85"/>
<circle cx="724.4" cy="392.6" r="2.85"/>
<circle cx="722.5" cy="399.5" r="2.85"/>
<circle cx="725.0" cy="402.6" r="2.85"/>
<circle cx="735.6" cy="358.2" r="2.85"/>
<circle cx="734.4" cy="363.2" r="2.85"/>
<circle cx="733.1" cy="366.4" r="2.85"/>
<circle cx="730.6" cy="372.0" r="2.85"/>
<circle cx="733.8" cy="373.2" r="2.85"/>
<circle cx="725.6" cy="376.4" r="2.85"/>
<circle cx="730.6" cy="377.0" r="2.85"/>
<circle cx="733.1" cy="380.1" r="2.85"/>
<circle cx="724.4" cy="382.0" r="2.85"/>
<circle cx="728.8" cy="382.0" r="2.85"/>
<circle cx="727.5" cy="385.8" r="2.85"/>
<circle cx="740.0" cy="333.9" r="2.85"/>
<circle cx="738.1" cy="338.2" r="2.85"/>
<circle cx="742.5" cy="339.5" r="2.85"/>
<circle cx="736.9" cy="343.9" r="2.85"/>
<circle cx="741.2" cy="344.5" r="2.85"/>
<circle cx="745.0" cy="344.5" r="2.85"/>
<circle cx="735.0" cy="347.6" r="2.85"/>
<circle cx="739.4" cy="348.2" r="2.85"/>
<circle cx="744.4" cy="348.9" r="2.85"/>
<circle cx="747.5" cy="353.2" r="2.85"/>
<circle cx="746.2" cy="357.6" r="2.85"/>
<circle cx="751.2" cy="357.0" r="2.85"/>
<circle cx="748.1" cy="361.4" r="2.85"/>
<circle cx="751.9" cy="361.4" r="2.85"/>
<circle cx="751.2" cy="365.1" r="2.85"/>
<circle cx="754.4" cy="351.4" r="2.85"/>
<circle cx="756.2" cy="348.2" r="2.85"/>
<circle cx="756.2" cy="333.2" r="2.85"/>
<circle cx="760.0" cy="334.5" r="2.85"/>
<circle cx="770.0" cy="333.2" r="2.85"/>
<circle cx="773.8" cy="334.5" r="2.85"/>
<circle cx="755.6" cy="339.5" r="2.85"/>
<circle cx="758.1" cy="343.2" r="2.85"/>
<circle cx="765.6" cy="338.2" r="2.85"/>
<circle cx="770.0" cy="339.5" r="2.85"/>
<circle cx="762.5" cy="344.5" r="2.85"/>
<circle cx="767.5" cy="343.9" r="2.85"/>
<circle cx="774.4" cy="345.1" r="2.85"/>
<circle cx="761.9" cy="348.2" r="2.85"/>
<circle cx="765.6" cy="349.5" r="2.85"/>
<circle cx="770.0" cy="348.9" r="2.85"/>
<circle cx="775.6" cy="348.9" r="2.85"/>
<circle cx="762.5" cy="352.6" r="2.85"/>
<circle cx="777.5" cy="354.5" r="2.85"/>
<circle cx="776.9" cy="358.9" r="2.85"/>
<circle cx="778.1" cy="363.2" r="2.85"/>
<circle cx="786.2" cy="363.9" r="2.85"/>
<circle cx="783.1" cy="368.9" r="2.85"/>
<circle cx="786.9" cy="368.9" r="2.85"/>
<circle cx="781.9" cy="372.6" r="2.85"/>
<circle cx="785.6" cy="373.2" r="2.85"/>
<circle cx="781.2" cy="377.0" r="2.85"/>
<circle cx="777.5" cy="383.9" r="2.85"/>
<circle cx="779.4" cy="387.6" r="2.85"/>
<circle cx="779.4" cy="395.8" r="2.85"/>
<circle cx="790.0" cy="378.2" r="2.85"/>
<circle cx="793.8" cy="377.0" r="2.85"/>
<circle cx="788.8" cy="382.0" r="2.85"/>
<circle cx="793.1" cy="382.0" r="2.85"/>
<circle cx="788.1" cy="386.4" r="2.85"/>
<circle cx="791.9" cy="385.8" r="2.85"/>
<circle cx="787.5" cy="389.5" r="2.85"/>
<circle cx="791.2" cy="389.5" r="2.85"/>
<circle cx="788.8" cy="393.2" r="2.85"/>
<circle cx="803.1" cy="356.4" r="2.85"/>
<circle cx="799.4" cy="360.1" r="2.85"/>
<circle cx="796.2" cy="362.0" r="2.85"/>
<circle cx="801.2" cy="363.9" r="2.85"/>
<circle cx="793.1" cy="365.8" r="2.85"/>
<circle cx="798.1" cy="367.0" r="2.85"/>
<circle cx="803.1" cy="367.6" r="2.85"/>
<circle cx="793.8" cy="370.1" r="2.85"/>
<circle cx="816.9" cy="354.4" r="2.85"/>
<circle cx="805.6" cy="356.2" r="2.85"/>
<circle cx="817.5" cy="358.8" r="2.85"/>
<circle cx="807.5" cy="360.0" r="2.85"/>
<circle cx="812.5" cy="361.9" r="2.85"/>
<circle cx="817.5" cy="363.1" r="2.85"/>
<circle cx="806.9" cy="364.4" r="2.85"/>
<circle cx="811.2" cy="365.6" r="2.85"/>
<circle cx="815.6" cy="366.2" r="2.85"/>
<circle cx="807.5" cy="368.8" r="2.85"/>
<circle cx="811.9" cy="369.4" r="2.85"/>
<circle cx="820.0" cy="371.9" r="2.85"/>
<circle cx="820.6" cy="379.4" r="2.85"/>
<circle cx="823.8" cy="383.1" r="2.85"/>
<circle cx="823.1" cy="386.9" r="2.85"/>
<circle cx="830.6" cy="361.9" r="2.85"/>
<circle cx="827.5" cy="366.2" r="2.85"/>
<circle cx="833.1" cy="365.6" r="2.85"/>
<circle cx="828.8" cy="370.6" r="2.85"/>
<circle cx="832.5" cy="370.0" r="2.85"/>
<circle cx="828.1" cy="375.0" r="2.85"/>
<circle cx="831.9" cy="375.0" r="2.85"/>
<circle cx="829.4" cy="379.4" r="2.85"/>
<circle cx="833.1" cy="379.4" r="2.85"/>
<circle cx="830.6" cy="383.1" r="2.85"/>
<circle cx="834.4" cy="383.8" r="2.85"/>
<circle cx="835.0" cy="387.5" r="2.85"/>
<circle cx="835.6" cy="391.9" r="2.85"/>
<circle cx="839.4" cy="393.1" r="2.85"/>
<circle cx="843.1" cy="393.8" r="2.85"/>
<circle cx="835.0" cy="396.2" r="2.85"/>
<circle cx="840.0" cy="398.1" r="2.85"/>
<circle cx="843.8" cy="406.9" r="2.85"/>
<circle cx="855.0" cy="403.8" r="2.85"/>
<circle cx="855.6" cy="407.5" r="2.85"/>
<circle cx="859.4" cy="406.9" r="2.85"/>
<circle cx="868.1" cy="393.1" r="2.85"/>
<circle cx="865.0" cy="397.5" r="2.85"/>
<circle cx="870.0" cy="397.5" r="2.85"/>
<circle cx="863.1" cy="401.2" r="2.85"/>
<circle cx="867.5" cy="401.9" r="2.85"/>
<circle cx="873.1" cy="400.6" r="2.85"/>
<circle cx="861.9" cy="405.0" r="2.85"/>
<circle cx="866.2" cy="406.2" r="2.85"/>
<circle cx="871.2" cy="405.0" r="2.85"/>
<circle cx="875.6" cy="404.4" r="2.85"/>
<circle cx="863.8" cy="408.8" r="2.85"/>
<circle cx="870.0" cy="408.8" r="2.85"/>
<circle cx="874.4" cy="408.8" r="2.85"/>
<circle cx="878.8" cy="407.5" r="2.85"/>
<circle cx="876.2" cy="392.5" r="2.85"/>
<circle cx="880.0" cy="397.5" r="2.85"/>
<circle cx="878.8" cy="401.2" r="2.85"/>
<circle cx="883.1" cy="400.0" r="2.85"/>
<circle cx="882.5" cy="403.8" r="2.85"/>
<circle cx="886.9" cy="397.5" r="2.85"/>
<circle cx="883.1" cy="383.1" r="2.85"/>
<circle cx="883.8" cy="387.5" r="2.85"/>
<circle cx="886.2" cy="393.8" r="2.85"/>
<circle cx="890.6" cy="393.8" r="2.85"/>
<circle cx="890.0" cy="390.0" r="2.85"/>
<circle cx="894.4" cy="380.0" r="2.85"/>
<circle cx="896.2" cy="383.1" r="2.85"/>
<circle cx="900.6" cy="381.9" r="2.85"/>
<circle cx="894.4" cy="387.5" r="2.85"/>
<circle cx="898.8" cy="387.5" r="2.85"/>
<circle cx="902.5" cy="385.0" r="2.85"/>
<circle cx="893.1" cy="391.9" r="2.85"/>
<circle cx="897.5" cy="391.9" r="2.85"/>
<circle cx="897.5" cy="395.6" r="2.85"/>
<circle cx="906.2" cy="380.0" r="2.85"/>
<circle cx="907.5" cy="381.9" r="2.85"/>
<circle cx="906.9" cy="390.0" r="2.85"/>
<circle cx="903.8" cy="398.1" r="2.85"/>
<circle cx="904.4" cy="403.1" r="2.85"/>
<circle cx="905.0" cy="372.5" r="2.85"/>
<circle cx="907.5" cy="371.2" r="2.85"/>
<circle cx="911.9" cy="370.6" r="2.85"/>
<circle cx="908.8" cy="367.5" r="2.85"/>
<circle cx="912.5" cy="366.2" r="2.85"/>
<circle cx="910.6" cy="362.5" r="2.85"/>
<circle cx="915.0" cy="363.8" r="2.85"/>
<circle cx="912.5" cy="358.8" r="2.85"/>
<circle cx="916.9" cy="360.0" r="2.85"/>
<circle cx="920.6" cy="358.1" r="2.85"/>
<circle cx="915.0" cy="355.6" r="2.85"/>
<circle cx="918.8" cy="355.0" r="2.85"/>
<circle cx="919.4" cy="351.2" r="2.85"/>
<circle cx="922.5" cy="350.6" r="2.85"/>
<circle cx="926.9" cy="350.6" r="2.85"/>
<circle cx="922.5" cy="345.6" r="2.85"/>
<circle cx="926.2" cy="346.9" r="2.85"/>
<circle cx="925.0" cy="339.4" r="2.85"/>
<circle cx="928.1" cy="342.5" r="2.85"/>
<circle cx="860.0" cy="410.0" r="2.85"/>
<circle cx="855.0" cy="411.9" r="2.85"/>
<circle cx="862.5" cy="414.4" r="2.85"/>
<circle cx="858.1" cy="414.4" r="2.85"/>
<circle cx="853.8" cy="416.2" r="2.85"/>
<circle cx="850.6" cy="419.4" r="2.85"/>
<circle cx="854.4" cy="418.8" r="2.85"/>
<circle cx="850.0" cy="423.8" r="2.85"/>
<circle cx="844.4" cy="427.5" r="2.85"/>
<circle cx="848.1" cy="428.1" r="2.85"/>
<circle cx="850.0" cy="430.0" r="2.85"/>
<circle cx="845.6" cy="432.5" r="2.85"/>
<circle cx="847.5" cy="434.4" r="2.85"/>
<circle cx="846.2" cy="437.5" r="2.85"/>
<circle cx="845.0" cy="443.1" r="2.85"/>
<circle cx="845.6" cy="445.6" r="2.85"/>
<circle cx="844.4" cy="413.1" r="2.85"/>
<circle cx="756.2" cy="325.0" r="2.85"/>
<circle cx="759.4" cy="329.4" r="2.85"/>
<circle cx="771.9" cy="326.9" r="2.85"/>
<circle cx="773.8" cy="330.0" r="2.85"/>
<circle cx="757.5" cy="328.1" r="2.85"/>
<circle cx="772.5" cy="331.2" r="2.85"/>
<circle cx="755.6" cy="331.2" r="2.85"/>
<circle cx="193.6" cy="222.5" r="2.85"/>
<circle cx="194.3" cy="226.8" r="2.85"/>
<circle cx="196.0" cy="228.4" r="2.85"/>
<circle cx="195.8" cy="229.7" r="2.85"/>
<circle cx="194.7" cy="231.8" r="2.85"/>
<circle cx="194.4" cy="235.1" r="2.85"/>
<circle cx="196.1" cy="240.5" r="2.85"/>
<circle cx="198.1" cy="240.7" r="2.85"/>
<circle cx="196.2" cy="242.9" r="2.85"/>
<circle cx="195.7" cy="242.7" r="2.85"/>
<circle cx="189.7" cy="250.6" r="2.85"/>
<circle cx="256.7" cy="245.9" r="2.85"/>
<circle cx="254.2" cy="246.8" r="2.85"/>
<circle cx="256.2" cy="248.4" r="2.85"/>
<circle cx="285.5" cy="231.4" r="2.85"/>
<circle cx="286.8" cy="232.0" r="2.85"/>
<circle cx="288.6" cy="234.2" r="2.85"/>
<circle cx="288.7" cy="235.2" r="2.85"/>
<circle cx="286.6" cy="234.5" r="2.85"/>
<circle cx="285.2" cy="237.9" r="2.85"/>
<circle cx="284.6" cy="239.6" r="2.85"/>
<circle cx="289.4" cy="237.3" r="2.85"/>
<circle cx="286.7" cy="239.4" r="2.85"/>
<circle cx="289.3" cy="239.4" r="2.85"/>
<circle cx="287.9" cy="241.9" r="2.85"/>
<circle cx="284.9" cy="243.7" r="2.85"/>
<circle cx="286.5" cy="243.7" r="2.85"/>
<circle cx="285.6" cy="245.1" r="2.85"/>
<circle cx="304.6" cy="196.0" r="2.85"/>
<circle cx="293.2" cy="206.6" r="2.85"/>
<circle cx="295.7" cy="207.7" r="2.85"/>
<circle cx="293.5" cy="209.1" r="2.85"/>
<circle cx="301.3" cy="210.0" r="2.85"/>
<circle cx="295.7" cy="212.1" r="2.85"/>
<circle cx="297.1" cy="212.2" r="2.85"/>
<circle cx="299.7" cy="212.9" r="2.85"/>
<circle cx="292.0" cy="214.2" r="2.85"/>
<circle cx="299.4" cy="217.5" r="2.85"/>
<circle cx="297.4" cy="219.7" r="2.85"/>
<circle cx="298.9" cy="220.5" r="2.85"/>
<circle cx="298.0" cy="222.8" r="2.85"/>
<circle cx="298.0" cy="224.3" r="2.85"/>
<circle cx="207.4" cy="304.4" r="2.85"/>
<circle cx="207.6" cy="303.7" r="2.85"/>
<circle cx="208.4" cy="322.8" r="2.85"/>
<circle cx="209.6" cy="324.9" r="2.85"/>
<circle cx="208.4" cy="327.8" r="2.85"/>
<circle cx="213.0" cy="329.0" r="2.85"/>
<circle cx="214.3" cy="299.1" r="2.85"/>
<circle cx="239.2" cy="318.2" r="2.85"/>
<circle cx="238.8" cy="320.0" r="2.85"/>
<circle cx="240.1" cy="320.7" r="2.85"/>
<circle cx="237.8" cy="321.9" r="2.85"/>
<circle cx="236.9" cy="323.7" r="2.85"/>
<circle cx="240.3" cy="327.7" r="2.85"/>
<circle cx="243.7" cy="324.9" r="2.85"/>
<circle cx="237.7" cy="329.9" r="2.85"/>
<circle cx="235.6" cy="331.1" r="2.85"/>
<circle cx="248.3" cy="324.4" r="2.85"/>
<circle cx="250.9" cy="302.7" r="2.85"/>
<circle cx="249.7" cy="302.4" r="2.85"/>
<circle cx="250.2" cy="302.5" r="2.85"/>
<circle cx="251.7" cy="303.7" r="2.85"/>
<circle cx="251.1" cy="303.8" r="2.85"/>
<circle cx="259.9" cy="261.6" r="2.85"/>
<circle cx="259.4" cy="260.1" r="2.85"/>
<circle cx="267.1" cy="299.2" r="2.85"/>
<circle cx="266.3" cy="312.8" r="2.85"/>
<circle cx="264.4" cy="314.6" r="2.85"/>
<circle cx="268.7" cy="314.2" r="2.85"/>
<circle cx="265.1" cy="316.4" r="2.85"/>
<circle cx="266.9" cy="316.3" r="2.85"/>
<circle cx="265.5" cy="318.5" r="2.85"/>
<circle cx="264.2" cy="319.3" r="2.85"/>
<circle cx="266.1" cy="319.4" r="2.85"/>
<circle cx="269.7" cy="320.3" r="2.85"/>
<circle cx="266.6" cy="322.1" r="2.85"/>
<circle cx="263.7" cy="323.3" r="2.85"/>
<circle cx="269.9" cy="322.6" r="2.85"/>
<circle cx="270.3" cy="323.9" r="2.85"/>
<circle cx="269.4" cy="326.5" r="2.85"/>
<circle cx="270.3" cy="331.0" r="2.85"/>
<circle cx="279.9" cy="294.9" r="2.85"/>
<circle cx="280.4" cy="294.0" r="2.85"/>
<circle cx="275.6" cy="294.8" r="2.85"/>
<circle cx="275.3" cy="294.2" r="2.85"/>
<circle cx="273.6" cy="281.3" r="2.85"/>
<circle cx="279.6" cy="281.0" r="2.85"/>
<circle cx="276.8" cy="282.8" r="2.85"/>
<circle cx="274.9" cy="284.7" r="2.85"/>
<circle cx="280.7" cy="283.0" r="2.85"/>
<circle cx="277.7" cy="284.3" r="2.85"/>
<circle cx="280.0" cy="260.5" r="2.85"/>
<circle cx="218.2" cy="376.4" r="2.85"/>
<circle cx="218.2" cy="375.3" r="2.85"/>
<circle cx="223.4" cy="390.5" r="2.85"/>
<circle cx="224.9" cy="389.2" r="2.85"/>
<circle cx="222.1" cy="392.4" r="2.85"/>
<circle cx="225.5" cy="391.4" r="2.85"/>
<circle cx="225.5" cy="392.8" r="2.85"/>
<circle cx="224.9" cy="393.7" r="2.85"/>
<circle cx="222.8" cy="402.0" r="2.85"/>
<circle cx="223.9" cy="402.0" r="2.85"/>
<circle cx="224.0" cy="401.6" r="2.85"/>
<circle cx="225.2" cy="398.0" r="2.85"/>
<circle cx="225.7" cy="399.2" r="2.85"/>
<circle cx="224.8" cy="401.3" r="2.85"/>
<circle cx="223.1" cy="404.1" r="2.85"/>
<circle cx="231.6" cy="370.0" r="2.85"/>
<circle cx="227.7" cy="391.3" r="2.85"/>
<circle cx="227.7" cy="394.5" r="2.85"/>
<circle cx="226.7" cy="397.4" r="2.85"/>
<circle cx="243.2" cy="339.4" r="2.85"/>
<circle cx="246.6" cy="336.8" r="2.85"/>
<circle cx="245.4" cy="341.0" r="2.85"/>
<circle cx="245.4" cy="344.4" r="2.85"/>
<circle cx="270.5" cy="336.2" r="2.85"/>
<circle cx="269.3" cy="334.8" r="2.85"/>
<circle cx="271.2" cy="334.9" r="2.85"/>
<circle cx="336.9" cy="208.3" r="2.85"/>
<circle cx="328.2" cy="214.0" r="2.85"/>
<circle cx="327.2" cy="216.0" r="2.85"/>
<circle cx="328.4" cy="215.1" r="2.85"/>
<circle cx="321.8" cy="230.1" r="2.85"/>
<circle cx="320.6" cy="231.8" r="2.85"/>
<circle cx="319.5" cy="233.4" r="2.85"/>
<circle cx="321.5" cy="233.3" r="2.85"/>
<circle cx="322.0" cy="234.0" r="2.85"/>
<circle cx="323.5" cy="236.1" r="2.85"/>
<circle cx="318.6" cy="236.7" r="2.85"/>
<circle cx="321.5" cy="235.9" r="2.85"/>
<circle cx="315.2" cy="239.2" r="2.85"/>
<circle cx="322.4" cy="239.2" r="2.85"/>
<circle cx="323.6" cy="239.6" r="2.85"/>
<circle cx="323.5" cy="240.2" r="2.85"/>
<circle cx="312.6" cy="239.8" r="2.85"/>
<circle cx="312.2" cy="242.6" r="2.85"/>
<circle cx="311.2" cy="241.2" r="2.85"/>
<circle cx="312.1" cy="241.1" r="2.85"/>
<circle cx="337.0" cy="233.2" r="2.85"/>
<circle cx="334.7" cy="234.7" r="2.85"/>
<circle cx="336.9" cy="240.0" r="2.85"/>
<circle cx="357.9" cy="237.7" r="2.85"/>
<circle cx="353.2" cy="241.1" r="2.85"/>
<circle cx="353.0" cy="243.1" r="2.85"/>
<circle cx="355.1" cy="240.7" r="2.85"/>
<circle cx="354.7" cy="241.5" r="2.85"/>
<circle cx="353.9" cy="242.7" r="2.85"/>
<circle cx="356.9" cy="240.8" r="2.85"/>
<circle cx="359.6" cy="241.2" r="2.85"/>
<circle cx="361.2" cy="240.5" r="2.85"/>
<circle cx="312.8" cy="243.2" r="2.85"/>
<circle cx="313.6" cy="244.9" r="2.85"/>
<circle cx="312.2" cy="246.1" r="2.85"/>
<circle cx="314.7" cy="247.1" r="2.85"/>
<circle cx="314.1" cy="250.6" r="2.85"/>
<circle cx="312.8" cy="252.2" r="2.85"/>
<circle cx="310.9" cy="254.0" r="2.85"/>
<circle cx="339.5" cy="243.3" r="2.85"/>
<circle cx="341.1" cy="245.5" r="2.85"/>
<circle cx="340.7" cy="249.6" r="2.85"/>
<circle cx="339.3" cy="250.1" r="2.85"/>
<circle cx="353.7" cy="242.3" r="2.85"/>
<circle cx="358.3" cy="242.6" r="2.85"/>
<circle cx="357.2" cy="243.6" r="2.85"/>
<circle cx="359.8" cy="243.8" r="2.85"/>
<circle cx="357.0" cy="245.7" r="2.85"/>
<circle cx="353.0" cy="246.8" r="2.85"/>
<circle cx="354.3" cy="247.1" r="2.85"/>
<circle cx="361.1" cy="245.7" r="2.85"/>
<circle cx="357.3" cy="248.0" r="2.85"/>
<circle cx="360.2" cy="247.4" r="2.85"/>
<circle cx="362.3" cy="247.1" r="2.85"/>
<circle cx="353.3" cy="251.0" r="2.85"/>
<circle cx="353.0" cy="251.2" r="2.85"/>
<circle cx="355.2" cy="251.4" r="2.85"/>
<circle cx="361.3" cy="250.8" r="2.85"/>
<circle cx="363.3" cy="250.2" r="2.85"/>
<circle cx="352.7" cy="252.8" r="2.85"/>
<circle cx="353.2" cy="255.2" r="2.85"/>
<circle cx="362.4" cy="252.7" r="2.85"/>
<circle cx="358.9" cy="253.6" r="2.85"/>
<circle cx="361.5" cy="254.4" r="2.85"/>
<circle cx="364.0" cy="254.2" r="2.85"/>
<circle cx="354.4" cy="256.1" r="2.85"/>
<circle cx="355.6" cy="257.5" r="2.85"/>
<circle cx="357.9" cy="257.7" r="2.85"/>
<circle cx="360.5" cy="257.6" r="2.85"/>
<circle cx="363.7" cy="258.1" r="2.85"/>
<circle cx="367.7" cy="279.3" r="2.85"/>
<circle cx="367.2" cy="282.0" r="2.85"/>
<circle cx="368.3" cy="287.8" r="2.85"/>
<circle cx="374.5" cy="293.6" r="2.85"/>
<circle cx="375.5" cy="294.7" r="2.85"/>
<circle cx="370.1" cy="294.0" r="2.85"/>
<circle cx="373.3" cy="295.3" r="2.85"/>
<circle cx="373.3" cy="297.2" r="2.85"/>
<circle cx="376.9" cy="296.9" r="2.85"/>
<circle cx="374.4" cy="298.0" r="2.85"/>
<circle cx="378.8" cy="299.1" r="2.85"/>
<circle cx="372.9" cy="300.9" r="2.85"/>
<circle cx="369.9" cy="303.8" r="2.85"/>
<circle cx="372.2" cy="304.9" r="2.85"/>
<circle cx="370.7" cy="304.7" r="2.85"/>
<circle cx="380.7" cy="303.2" r="2.85"/>
<circle cx="381.3" cy="305.0" r="2.85"/>
<circle cx="381.7" cy="305.5" r="2.85"/>
<circle cx="370.0" cy="306.4" r="2.85"/>
<circle cx="381.5" cy="306.2" r="2.85"/>
<circle cx="382.3" cy="306.8" r="2.85"/>
<circle cx="382.8" cy="316.6" r="2.85"/>
<circle cx="384.9" cy="317.4" r="2.85"/>
<circle cx="401.3" cy="329.8" r="2.85"/>
<circle cx="396.0" cy="330.7" r="2.85"/>
<circle cx="399.2" cy="332.0" r="2.85"/>
<circle cx="397.6" cy="334.2" r="2.85"/>
<circle cx="403.1" cy="331.8" r="2.85"/>
<circle cx="399.9" cy="334.1" r="2.85"/>
<circle cx="401.9" cy="333.7" r="2.85"/>
<circle cx="405.0" cy="333.1" r="2.85"/>
<circle cx="407.0" cy="333.3" r="2.85"/>
<circle cx="412.1" cy="330.4" r="2.85"/>
<circle cx="409.2" cy="332.2" r="2.85"/>
<circle cx="410.8" cy="331.8" r="2.85"/>
<circle cx="391.4" cy="340.2" r="2.85"/>
<circle cx="401.3" cy="336.0" r="2.85"/>
<circle cx="399.8" cy="338.0" r="2.85"/>
<circle cx="405.7" cy="335.4" r="2.85"/>
<circle cx="402.3" cy="338.2" r="2.85"/>
<circle cx="405.2" cy="337.8" r="2.85"/>
<circle cx="410.1" cy="334.1" r="2.85"/>
<circle cx="407.3" cy="336.8" r="2.85"/>
<circle cx="409.0" cy="336.9" r="2.85"/>
<circle cx="399.9" cy="341.3" r="2.85"/>
<circle cx="403.9" cy="339.2" r="2.85"/>
<circle cx="403.4" cy="342.1" r="2.85"/>
<circle cx="407.7" cy="338.8" r="2.85"/>
<circle cx="404.7" cy="341.3" r="2.85"/>
<circle cx="407.7" cy="341.5" r="2.85"/>
<circle cx="409.4" cy="340.4" r="2.85"/>
<circle cx="405.9" cy="343.1" r="2.85"/>
<circle cx="404.6" cy="345.9" r="2.85"/>
<circle cx="415.5" cy="315.6" r="2.85"/>
<circle cx="416.3" cy="318.8" r="2.85"/>
<circle cx="412.6" cy="320.1" r="2.85"/>
<circle cx="416.6" cy="321.7" r="2.85"/>
<circle cx="414.1" cy="322.0" r="2.85"/>
<circle cx="420.0" cy="324.6" r="2.85"/>
<circle cx="420.6" cy="328.8" r="2.85"/>
<circle cx="422.7" cy="325.4" r="2.85"/>
<circle cx="423.1" cy="326.0" r="2.85"/>
<circle cx="422.6" cy="331.7" r="2.85"/>
<circle cx="424.8" cy="334.7" r="2.85"/>
<circle cx="426.0" cy="330.3" r="2.85"/>
<circle cx="422.4" cy="336.3" r="2.85"/>
<circle cx="423.0" cy="337.7" r="2.85"/>
<circle cx="425.8" cy="334.3" r="2.85"/>
<circle cx="449.4" cy="239.2" r="2.85"/>
<circle cx="449.0" cy="241.1" r="2.85"/>
<circle cx="451.2" cy="240.5" r="2.85"/>
<circle cx="447.7" cy="241.4" r="2.85"/>
<circle cx="452.5" cy="242.7" r="2.85"/>
<circle cx="450.7" cy="245.0" r="2.85"/>
<circle cx="453.7" cy="245.0" r="2.85"/>
<circle cx="454.4" cy="248.6" r="2.85"/>
<circle cx="454.4" cy="251.6" r="2.85"/>
<circle cx="445.2" cy="264.8" r="2.85"/>
<circle cx="443.4" cy="268.9" r="2.85"/>
<circle cx="460.3" cy="267.7" r="2.85"/>
<circle cx="461.0" cy="269.1" r="2.85"/>
<circle cx="460.6" cy="270.8" r="2.85"/>
<circle cx="462.7" cy="270.3" r="2.85"/>
<circle cx="461.0" cy="272.7" r="2.85"/>
<circle cx="457.4" cy="274.4" r="2.85"/>
<circle cx="460.4" cy="274.2" r="2.85"/>
<circle cx="462.3" cy="274.1" r="2.85"/>
<circle cx="463.6" cy="274.2" r="2.85"/>
<circle cx="458.6" cy="276.0" r="2.85"/>
<circle cx="462.6" cy="276.3" r="2.85"/>
<circle cx="460.4" cy="278.5" r="2.85"/>
<circle cx="462.5" cy="278.5" r="2.85"/>
<circle cx="464.8" cy="277.9" r="2.85"/>
<circle cx="461.6" cy="279.9" r="2.85"/>
<circle cx="465.1" cy="281.7" r="2.85"/>
<circle cx="432.7" cy="276.4" r="2.85"/>
<circle cx="431.1" cy="281.1" r="2.85"/>
<circle cx="435.0" cy="280.5" r="2.85"/>
<circle cx="431.1" cy="284.5" r="2.85"/>
<circle cx="436.7" cy="284.0" r="2.85"/>
<circle cx="429.8" cy="287.9" r="2.85"/>
<circle cx="432.3" cy="287.5" r="2.85"/>
<circle cx="440.0" cy="286.3" r="2.85"/>
<circle cx="437.6" cy="288.0" r="2.85"/>
<circle cx="431.0" cy="290.2" r="2.85"/>
<circle cx="434.7" cy="289.9" r="2.85"/>
<circle cx="431.6" cy="291.0" r="2.85"/>
<circle cx="439.8" cy="290.0" r="2.85"/>
<circle cx="429.2" cy="294.4" r="2.85"/>
<circle cx="427.0" cy="323.1" r="2.85"/>
<circle cx="427.5" cy="326.5" r="2.85"/>
<circle cx="467.3" cy="293.0" r="2.85"/>
<circle cx="468.5" cy="296.0" r="2.85"/>
<circle cx="467.3" cy="298.4" r="2.85"/>
<circle cx="472.6" cy="296.4" r="2.85"/>
<circle cx="469.0" cy="299.1" r="2.85"/>
<circle cx="471.8" cy="298.8" r="2.85"/>
<circle cx="474.2" cy="297.7" r="2.85"/>
<circle cx="470.9" cy="300.3" r="2.85"/>
<circle cx="473.6" cy="302.6" r="2.85"/>
<circle cx="474.6" cy="304.0" r="2.85"/>
<circle cx="475.2" cy="306.0" r="2.85"/>
<circle cx="477.5" cy="322.5" r="2.85"/>
<circle cx="478.6" cy="324.8" r="2.85"/>
<circle cx="481.2" cy="324.5" r="2.85"/>
<circle cx="480.1" cy="326.4" r="2.85"/>
<circle cx="482.0" cy="328.7" r="2.85"/>
<circle cx="483.5" cy="327.9" r="2.85"/>
<circle cx="483.8" cy="326.7" r="2.85"/>
<circle cx="483.3" cy="329.9" r="2.85"/>
<circle cx="481.8" cy="332.4" r="2.85"/>
<circle cx="483.4" cy="332.3" r="2.85"/>
<circle cx="484.4" cy="331.9" r="2.85"/>
<circle cx="485.8" cy="330.9" r="2.85"/>
<circle cx="483.5" cy="335.1" r="2.85"/>
<circle cx="484.8" cy="335.6" r="2.85"/>
<circle cx="484.5" cy="335.1" r="2.85"/>
<circle cx="491.3" cy="318.0" r="2.85"/>
<circle cx="495.0" cy="319.0" r="2.85"/>
<circle cx="487.3" cy="321.7" r="2.85"/>
<circle cx="511.1" cy="305.4" r="2.85"/>
<circle cx="513.0" cy="304.2" r="2.85"/>
<circle cx="507.6" cy="308.7" r="2.85"/>
<circle cx="512.7" cy="309.2" r="2.85"/>
<circle cx="513.6" cy="306.7" r="2.85"/>
<circle cx="505.8" cy="310.7" r="2.85"/>
<circle cx="504.1" cy="312.9" r="2.85"/>
<circle cx="506.1" cy="312.7" r="2.85"/>
<circle cx="509.9" cy="313.4" r="2.85"/>
<circle cx="512.9" cy="314.2" r="2.85"/>
<circle cx="516.1" cy="311.0" r="2.85"/>
<circle cx="502.1" cy="315.0" r="2.85"/>
<circle cx="498.6" cy="316.6" r="2.85"/>
<circle cx="501.2" cy="316.5" r="2.85"/>
<circle cx="499.7" cy="318.1" r="2.85"/>
<circle cx="511.6" cy="325.5" r="2.85"/>
<circle cx="498.1" cy="326.4" r="2.85"/>
<circle cx="508.6" cy="327.0" r="2.85"/>
<circle cx="499.4" cy="330.3" r="2.85"/>
<circle cx="500.6" cy="330.0" r="2.85"/>
<circle cx="518.7" cy="297.2" r="2.85"/>
<circle cx="516.3" cy="298.6" r="2.85"/>
<circle cx="518.8" cy="299.5" r="2.85"/>
<circle cx="520.7" cy="300.2" r="2.85"/>
<circle cx="522.5" cy="300.9" r="2.85"/>
<circle cx="518.6" cy="301.6" r="2.85"/>
<circle cx="516.0" cy="303.5" r="2.85"/>
<circle cx="520.0" cy="304.5" r="2.85"/>
<circle cx="525.2" cy="304.9" r="2.85"/>
<circle cx="517.7" cy="306.5" r="2.85"/>
<circle cx="516.6" cy="308.5" r="2.85"/>
<circle cx="522.6" cy="307.2" r="2.85"/>
<circle cx="519.2" cy="308.4" r="2.85"/>
<circle cx="521.6" cy="309.2" r="2.85"/>
<circle cx="523.7" cy="308.8" r="2.85"/>
<circle cx="526.2" cy="308.2" r="2.85"/>
<circle cx="528.6" cy="307.4" r="2.85"/>
<circle cx="520.9" cy="310.5" r="2.85"/>
<circle cx="525.3" cy="310.1" r="2.85"/>
<circle cx="521.7" cy="311.8" r="2.85"/>
<circle cx="524.9" cy="313.1" r="2.85"/>
<circle cx="529.1" cy="311.4" r="2.85"/>
<circle cx="526.6" cy="312.5" r="2.85"/>
<circle cx="531.5" cy="319.6" r="2.85"/>
<circle cx="530.1" cy="323.0" r="2.85"/>
<circle cx="534.7" cy="359.7" r="2.85"/>
<circle cx="545.5" cy="337.9" r="2.85"/>
<circle cx="543.7" cy="340.0" r="2.85"/>
<circle cx="544.2" cy="342.8" r="2.85"/>
<circle cx="545.0" cy="340.0" r="2.85"/>
<circle cx="547.2" cy="343.4" r="2.85"/>
<circle cx="547.8" cy="339.7" r="2.85"/>
<circle cx="547.5" cy="345.8" r="2.85"/>
<circle cx="544.4" cy="346.5" r="2.85"/>
<circle cx="544.7" cy="343.7" r="2.85"/>
<circle cx="548.0" cy="346.3" r="2.85"/>
<circle cx="547.0" cy="347.0" r="2.85"/>
<circle cx="548.2" cy="350.1" r="2.85"/>
<circle cx="549.2" cy="349.3" r="2.85"/>
<circle cx="545.4" cy="348.5" r="2.85"/>
<circle cx="547.5" cy="355.1" r="2.85"/>
<circle cx="549.5" cy="354.7" r="2.85"/>
<circle cx="504.2" cy="328.0" r="2.85"/>
<circle cx="500.2" cy="329.1" r="2.85"/>
<circle cx="508.6" cy="327.8" r="2.85"/>
<circle cx="534.9" cy="363.2" r="2.85"/>
<circle cx="535.8" cy="364.2" r="2.85"/>
<circle cx="534.8" cy="366.5" r="2.85"/>
<circle cx="539.9" cy="364.6" r="2.85"/>
<circle cx="537.9" cy="366.7" r="2.85"/>
<circle cx="539.1" cy="368.3" r="2.85"/>
<circle cx="538.0" cy="370.2" r="2.85"/>
<circle cx="542.9" cy="339.5" r="2.85"/>
<circle cx="545.2" cy="340.4" r="2.85"/>
<circle cx="548.2" cy="348.5" r="2.85"/>
<circle cx="548.8" cy="350.6" r="2.85"/>
<circle cx="549.1" cy="353.5" r="2.85"/>
<circle cx="549.5" cy="356.3" r="2.85"/>
<circle cx="564.3" cy="350.4" r="2.85"/>
<circle cx="565.5" cy="351.9" r="2.85"/>
<circle cx="556.9" cy="361.6" r="2.85"/>
<circle cx="564.2" cy="358.0" r="2.85"/>
<circle cx="554.7" cy="363.8" r="2.85"/>
<circle cx="556.4" cy="366.4" r="2.85"/>
<circle cx="566.0" cy="365.0" r="2.85"/>
<circle cx="558.2" cy="368.2" r="2.85"/>
<circle cx="567.1" cy="365.5" r="2.85"/>
<circle cx="570.0" cy="364.9" r="2.85"/>
<circle cx="575.5" cy="369.5" r="2.85"/>
<circle cx="575.6" cy="360.7" r="2.85"/>
<circle cx="577.5" cy="362.2" r="2.85"/>
<circle cx="580.1" cy="363.1" r="2.85"/>
<circle cx="577.1" cy="364.0" r="2.85"/>
<circle cx="575.8" cy="365.0" r="2.85"/>
<circle cx="574.1" cy="364.3" r="2.85"/>
<circle cx="578.1" cy="366.7" r="2.85"/>
<circle cx="578.6" cy="367.5" r="2.85"/>
<circle cx="574.3" cy="367.2" r="2.85"/>
<circle cx="588.3" cy="327.2" r="2.85"/>
<circle cx="588.8" cy="326.2" r="2.85"/>
<circle cx="588.0" cy="326.4" r="2.85"/>
<circle cx="588.4" cy="327.9" r="2.85"/>
<circle cx="596.7" cy="341.6" r="2.85"/>
<circle cx="599.8" cy="345.6" r="2.85"/>
<circle cx="583.7" cy="312.7" r="2.85"/>
<circle cx="587.6" cy="314.4" r="2.85"/>
<circle cx="584.7" cy="317.9" r="2.85"/>
<circle cx="591.2" cy="320.1" r="2.85"/>
<circle cx="586.3" cy="320.7" r="2.85"/>
<circle cx="587.0" cy="322.4" r="2.85"/>
<circle cx="590.0" cy="322.1" r="2.85"/>
<circle cx="587.9" cy="324.5" r="2.85"/>
<circle cx="588.6" cy="326.1" r="2.85"/>
<circle cx="608.3" cy="274.1" r="2.85"/>
<circle cx="610.2" cy="284.8" r="2.85"/>
<circle cx="611.9" cy="287.1" r="2.85"/>
<circle cx="612.9" cy="290.9" r="2.85"/>
<circle cx="614.4" cy="300.5" r="2.85"/>
<circle cx="617.0" cy="301.6" r="2.85"/>
<circle cx="615.0" cy="303.3" r="2.85"/>
<circle cx="616.8" cy="306.5" r="2.85"/>
<circle cx="620.2" cy="305.3" r="2.85"/>
<circle cx="618.6" cy="307.5" r="2.85"/>
<circle cx="624.2" cy="300.6" r="2.85"/>
<circle cx="624.3" cy="296.3" r="2.85"/>
<circle cx="625.0" cy="290.1" r="2.85"/>
<circle cx="628.5" cy="289.6" r="2.85"/>
<circle cx="629.0" cy="291.2" r="2.85"/>
<circle cx="626.3" cy="293.4" r="2.85"/>
<circle cx="628.5" cy="293.4" r="2.85"/>
<circle cx="630.9" cy="293.1" r="2.85"/>
<circle cx="628.3" cy="295.4" r="2.85"/>
<circle cx="637.7" cy="322.6" r="2.85"/>
<circle cx="637.4" cy="328.6" r="2.85"/>
<circle cx="641.3" cy="328.6" r="2.85"/>
<circle cx="641.9" cy="329.1" r="2.85"/>
<circle cx="643.5" cy="328.8" r="2.85"/>
<circle cx="637.6" cy="329.9" r="2.85"/>
<circle cx="636.8" cy="331.1" r="2.85"/>
<circle cx="641.5" cy="330.5" r="2.85"/>
<circle cx="666.6" cy="297.4" r="2.85"/>
<circle cx="669.1" cy="298.0" r="2.85"/>
<circle cx="668.9" cy="300.0" r="2.85"/>
<circle cx="665.9" cy="301.5" r="2.85"/>
<circle cx="668.2" cy="302.4" r="2.85"/>
<circle cx="670.1" cy="303.3" r="2.85"/>
<circle cx="666.6" cy="303.9" r="2.85"/>
<circle cx="664.9" cy="304.0" r="2.85"/>
<circle cx="667.6" cy="305.3" r="2.85"/>
<circle cx="670.5" cy="306.2" r="2.85"/>
<circle cx="668.3" cy="307.3" r="2.85"/>
<circle cx="665.6" cy="308.9" r="2.85"/>
<circle cx="670.4" cy="309.3" r="2.85"/>
<circle cx="662.4" cy="310.8" r="2.85"/>
<circle cx="663.4" cy="313.4" r="2.85"/>
<circle cx="671.3" cy="312.6" r="2.85"/>
<circle cx="660.4" cy="315.0" r="2.85"/>
<circle cx="672.1" cy="315.7" r="2.85"/>
<circle cx="675.8" cy="314.7" r="2.85"/>
<circle cx="675.9" cy="319.3" r="2.85"/>
<circle cx="603.4" cy="336.4" r="2.85"/>
<circle cx="603.3" cy="338.2" r="2.85"/>
<circle cx="603.5" cy="341.3" r="2.85"/>
<circle cx="603.3" cy="344.0" r="2.85"/>
<circle cx="601.9" cy="345.2" r="2.85"/>
<circle cx="637.9" cy="331.0" r="2.85"/>
<circle cx="642.1" cy="332.6" r="2.85"/>
<circle cx="638.0" cy="332.3" r="2.85"/>
<circle cx="642.3" cy="330.9" r="2.85"/>
<circle cx="641.9" cy="333.8" r="2.85"/>
<circle cx="642.2" cy="337.6" r="2.85"/>
<circle cx="642.4" cy="339.4" r="2.85"/>
<circle cx="646.0" cy="330.4" r="2.85"/>
<circle cx="644.0" cy="332.6" r="2.85"/>
<circle cx="648.5" cy="332.6" r="2.85"/>
<circle cx="644.8" cy="337.3" r="2.85"/>
<circle cx="651.1" cy="334.6" r="2.85"/>
<circle cx="649.9" cy="337.5" r="2.85"/>
<circle cx="653.0" cy="337.1" r="2.85"/>
<circle cx="646.3" cy="341.0" r="2.85"/>
<circle cx="653.3" cy="339.5" r="2.85"/>
<circle cx="652.0" cy="341.6" r="2.85"/>
<circle cx="654.9" cy="341.6" r="2.85"/>
<circle cx="646.6" cy="345.2" r="2.85"/>
<circle cx="653.3" cy="345.2" r="2.85"/>
<circle cx="655.0" cy="344.9" r="2.85"/>
<circle cx="688.6" cy="352.5" r="2.85"/>
<circle cx="688.0" cy="356.5" r="2.85"/>
<circle cx="685.3" cy="359.8" r="2.85"/>
<circle cx="682.4" cy="361.8" r="2.85"/>
<circle cx="680.7" cy="362.9" r="2.85"/>
<circle cx="683.0" cy="363.2" r="2.85"/>
<circle cx="686.7" cy="363.1" r="2.85"/>
<circle cx="681.7" cy="366.5" r="2.85"/>
<circle cx="688.0" cy="365.9" r="2.85"/>
<circle cx="689.2" cy="366.1" r="2.85"/>
<circle cx="690.0" cy="369.0" r="2.85"/>
<circle cx="692.6" cy="365.2" r="2.85"/>
<circle cx="693.5" cy="368.5" r="2.85"/>
<circle cx="695.5" cy="367.5" r="2.85"/>
<circle cx="697.0" cy="367.1" r="2.85"/>
<circle cx="694.6" cy="369.6" r="2.85"/>
<circle cx="692.2" cy="372.4" r="2.85"/>
<circle cx="697.0" cy="372.3" r="2.85"/>
<circle cx="699.6" cy="371.6" r="2.85"/>
<circle cx="700.6" cy="370.9" r="2.85"/>
<circle cx="693.6" cy="374.4" r="2.85"/>
<circle cx="698.5" cy="373.6" r="2.85"/>
<circle cx="695.6" cy="376.6" r="2.85"/>
<circle cx="698.1" cy="376.5" r="2.85"/>
<circle cx="700.4" cy="375.7" r="2.85"/>
<circle cx="702.3" cy="375.1" r="2.85"/>
<circle cx="697.7" cy="378.5" r="2.85"/>
<circle cx="702.3" cy="377.8" r="2.85"/>
<circle cx="699.6" cy="380.4" r="2.85"/>
<circle cx="705.2" cy="387.4" r="2.85"/>
<circle cx="707.5" cy="394.3" r="2.85"/>
<circle cx="709.7" cy="393.5" r="2.85"/>
<circle cx="709.4" cy="394.7" r="2.85"/>
<circle cx="712.6" cy="396.9" r="2.85"/>
<circle cx="714.2" cy="393.6" r="2.85"/>
<circle cx="716.4" cy="386.2" r="2.85"/>
<circle cx="715.7" cy="390.5" r="2.85"/>
<circle cx="716.6" cy="390.1" r="2.85"/>
<circle cx="718.7" cy="391.8" r="2.85"/>
<circle cx="717.5" cy="394.2" r="2.85"/>
<circle cx="719.9" cy="392.8" r="2.85"/>
<circle cx="732.7" cy="372.2" r="2.85"/>
<circle cx="731.0" cy="374.7" r="2.85"/>
<circle cx="732.1" cy="374.7" r="2.85"/>
<circle cx="728.1" cy="377.2" r="2.85"/>
<circle cx="732.0" cy="378.4" r="2.85"/>
<circle cx="729.3" cy="379.2" r="2.85"/>
<circle cx="730.9" cy="380.6" r="2.85"/>
<circle cx="726.7" cy="381.7" r="2.85"/>
<circle cx="728.5" cy="383.6" r="2.85"/>
<circle cx="740.7" cy="339.2" r="2.85"/>
<circle cx="741.8" cy="341.9" r="2.85"/>
<circle cx="738.9" cy="344.6" r="2.85"/>
<circle cx="738.2" cy="346.5" r="2.85"/>
<circle cx="743.3" cy="344.4" r="2.85"/>
<circle cx="740.8" cy="346.5" r="2.85"/>
<circle cx="743.1" cy="347.0" r="2.85"/>
<circle cx="749.0" cy="355.2" r="2.85"/>
<circle cx="749.2" cy="357.4" r="2.85"/>
<circle cx="749.8" cy="358.7" r="2.85"/>
<circle cx="750.4" cy="361.5" r="2.85"/>
<circle cx="757.5" cy="345.5" r="2.85"/>
<circle cx="757.6" cy="333.9" r="2.85"/>
<circle cx="758.0" cy="331.6" r="2.85"/>
<circle cx="756.8" cy="330.4" r="2.85"/>
<circle cx="758.1" cy="332.8" r="2.85"/>
<circle cx="771.9" cy="334.3" r="2.85"/>
<circle cx="771.4" cy="331.8" r="2.85"/>
<circle cx="771.3" cy="332.5" r="2.85"/>
<circle cx="773.3" cy="332.9" r="2.85"/>
<circle cx="760.7" cy="344.1" r="2.85"/>
<circle cx="767.3" cy="339.0" r="2.85"/>
<circle cx="765.3" cy="344.3" r="2.85"/>
<circle cx="761.8" cy="346.5" r="2.85"/>
<circle cx="768.9" cy="346.0" r="2.85"/>
<circle cx="763.3" cy="348.4" r="2.85"/>
<circle cx="762.3" cy="350.0" r="2.85"/>
<circle cx="768.1" cy="349.4" r="2.85"/>
<circle cx="764.3" cy="351.4" r="2.85"/>
<circle cx="785.3" cy="369.0" r="2.85"/>
<circle cx="784.6" cy="370.9" r="2.85"/>
<circle cx="783.3" cy="373.4" r="2.85"/>
<circle cx="791.8" cy="380.6" r="2.85"/>
<circle cx="790.6" cy="382.3" r="2.85"/>
<circle cx="790.8" cy="384.3" r="2.85"/>
<circle cx="789.9" cy="385.6" r="2.85"/>
<circle cx="790.1" cy="387.5" r="2.85"/>
<circle cx="789.4" cy="389.6" r="2.85"/>
<circle cx="799.8" cy="362.1" r="2.85"/>
<circle cx="798.5" cy="362.8" r="2.85"/>
<circle cx="797.4" cy="364.7" r="2.85"/>
<circle cx="800.0" cy="365.6" r="2.85"/>
<circle cx="801.7" cy="365.5" r="2.85"/>
<circle cx="795.3" cy="366.2" r="2.85"/>
<circle cx="805.0" cy="366.2" r="2.85"/>
<circle cx="810.0" cy="360.9" r="2.85"/>
<circle cx="807.7" cy="362.3" r="2.85"/>
<circle cx="815.3" cy="363.0" r="2.85"/>
<circle cx="811.4" cy="363.8" r="2.85"/>
<circle cx="813.9" cy="363.6" r="2.85"/>
<circle cx="808.9" cy="364.6" r="2.85"/>
<circle cx="807.2" cy="366.8" r="2.85"/>
<circle cx="813.1" cy="365.8" r="2.85"/>
<circle cx="809.5" cy="366.7" r="2.85"/>
<circle cx="811.7" cy="367.0" r="2.85"/>
<circle cx="830.6" cy="370.8" r="2.85"/>
<circle cx="830.8" cy="372.5" r="2.85"/>
<circle cx="830.0" cy="375.3" r="2.85"/>
<circle cx="831.0" cy="377.1" r="2.85"/>
<circle cx="830.8" cy="379.6" r="2.85"/>
<circle cx="832.3" cy="381.6" r="2.85"/>
<circle cx="832.6" cy="383.2" r="2.85"/>
<circle cx="838.0" cy="392.6" r="2.85"/>
<circle cx="836.9" cy="394.4" r="2.85"/>
<circle cx="839.9" cy="395.5" r="2.85"/>
<circle cx="855.7" cy="405.3" r="2.85"/>
<circle cx="857.4" cy="405.7" r="2.85"/>
<circle cx="857.5" cy="406.7" r="2.85"/>
<circle cx="857.7" cy="408.3" r="2.85"/>
<circle cx="855.1" cy="409.7" r="2.85"/>
<circle cx="861.8" cy="408.3" r="2.85"/>
<circle cx="867.4" cy="397.4" r="2.85"/>
<circle cx="866.2" cy="399.4" r="2.85"/>
<circle cx="869.2" cy="400.1" r="2.85"/>
<circle cx="865.5" cy="401.1" r="2.85"/>
<circle cx="862.4" cy="403.1" r="2.85"/>
<circle cx="867.3" cy="403.6" r="2.85"/>
<circle cx="869.5" cy="403.2" r="2.85"/>
<circle cx="872.1" cy="402.3" r="2.85"/>
<circle cx="874.1" cy="402.6" r="2.85"/>
<circle cx="864.1" cy="405.2" r="2.85"/>
<circle cx="862.7" cy="407.2" r="2.85"/>
<circle cx="860.6" cy="407.4" r="2.85"/>
<circle cx="869.1" cy="405.3" r="2.85"/>
<circle cx="864.7" cy="407.5" r="2.85"/>
<circle cx="868.2" cy="407.3" r="2.85"/>
<circle cx="873.2" cy="404.8" r="2.85"/>
<circle cx="870.5" cy="407.2" r="2.85"/>
<circle cx="872.6" cy="407.2" r="2.85"/>
<circle cx="875.3" cy="406.3" r="2.85"/>
<circle cx="877.4" cy="405.6" r="2.85"/>
<circle cx="877.0" cy="402.9" r="2.85"/>
<circle cx="862.1" cy="409.6" r="2.85"/>
<circle cx="879.2" cy="399.7" r="2.85"/>
<circle cx="881.6" cy="398.3" r="2.85"/>
<circle cx="881.2" cy="401.0" r="2.85"/>
<circle cx="881.1" cy="402.2" r="2.85"/>
<circle cx="883.1" cy="402.2" r="2.85"/>
<circle cx="885.3" cy="399.0" r="2.85"/>
<circle cx="886.9" cy="395.7" r="2.85"/>
<circle cx="888.7" cy="394.0" r="2.85"/>
<circle cx="888.0" cy="391.8" r="2.85"/>
<circle cx="890.4" cy="391.4" r="2.85"/>
<circle cx="892.0" cy="391.2" r="2.85"/>
<circle cx="895.5" cy="381.2" r="2.85"/>
<circle cx="898.2" cy="382.2" r="2.85"/>
<circle cx="895.2" cy="384.9" r="2.85"/>
<circle cx="897.4" cy="385.2" r="2.85"/>
<circle cx="901.5" cy="383.8" r="2.85"/>
<circle cx="896.8" cy="387.1" r="2.85"/>
<circle cx="894.0" cy="390.1" r="2.85"/>
<circle cx="895.9" cy="390.1" r="2.85"/>
<circle cx="900.2" cy="386.1" r="2.85"/>
<circle cx="898.3" cy="389.5" r="2.85"/>
<circle cx="895.2" cy="391.9" r="2.85"/>
<circle cx="897.8" cy="393.4" r="2.85"/>
<circle cx="909.6" cy="370.9" r="2.85"/>
<circle cx="908.5" cy="368.9" r="2.85"/>
<circle cx="910.6" cy="368.8" r="2.85"/>
<circle cx="912.4" cy="368.3" r="2.85"/>
<circle cx="910.6" cy="366.7" r="2.85"/>
<circle cx="911.1" cy="364.1" r="2.85"/>
<circle cx="913.7" cy="365.3" r="2.85"/>
<circle cx="912.6" cy="363.1" r="2.85"/>
<circle cx="913.3" cy="361.6" r="2.85"/>
<circle cx="915.9" cy="361.6" r="2.85"/>
<circle cx="914.2" cy="359.0" r="2.85"/>
<circle cx="918.5" cy="358.6" r="2.85"/>
<circle cx="916.3" cy="358.2" r="2.85"/>
<circle cx="918.2" cy="357.7" r="2.85"/>
<circle cx="919.9" cy="356.2" r="2.85"/>
<circle cx="917.3" cy="354.9" r="2.85"/>
<circle cx="919.0" cy="352.6" r="2.85"/>
<circle cx="922.5" cy="348.3" r="2.85"/>
<circle cx="923.9" cy="348.8" r="2.85"/>
<circle cx="927.0" cy="348.8" r="2.85"/>
<circle cx="924.1" cy="346.0" r="2.85"/>
<circle cx="927.5" cy="344.3" r="2.85"/>
<circle cx="857.4" cy="411.1" r="2.85"/>
<circle cx="861.3" cy="412.3" r="2.85"/>
<circle cx="859.4" cy="412.0" r="2.85"/>
<circle cx="856.4" cy="413.3" r="2.85"/>
<circle cx="855.8" cy="414.9" r="2.85"/>
<circle cx="852.5" cy="418.7" r="2.85"/>
<circle cx="848.9" cy="426.1" r="2.85"/>
<circle cx="845.9" cy="428.2" r="2.85"/>
<circle cx="846.7" cy="430.2" r="2.85"/>
<circle cx="847.6" cy="431.7" r="2.85"/>
<circle cx="756.5" cy="327.0" r="2.85"/>
<circle cx="757.8" cy="330.3" r="2.85"/>
<circle cx="772.4" cy="329.5" r="2.85"/>
<circle cx="756.9" cy="329.7" r="2.85"/>
</g>
<path d="M120.0 204.4 L120.5 205.3 L121.0 206.2 L121.5 207.2 L122.0 208.0 L122.5 208.7 L123.0 209.0 L123.5 208.9 L124.0 208.4 L124.5 207.4 L125.0 206.0 L125.5 204.0 L126.0 201.6 L126.5 198.8 L127.0 196.0 L127.5 193.0 L128.0 189.8 L128.5 186.7 L129.0 184.0 L129.5 181.7 L130.0 179.7 L130.5 178.1 L131.0 177.0 L131.5 176.3 L132.0 176.0 L132.5 175.8 L133.0 175.7 L133.5 175.7 L134.0 175.6 L134.5 175.4 L135.0 175.2 L135.5 175.1 L136.0 175.0 L136.5 174.9 L137.0 175.0 L137.5 175.1 L138.0 175.3 L138.5 175.6 L139.0 175.9 L139.5 176.4 L140.0 177.0 L140.5 177.9 L141.0 179.2 L141.5 180.6 L142.0 182.0 L142.5 183.3 L143.0 184.7 L143.5 186.1 L144.0 187.3 L144.5 188.2 L145.0 188.8 L145.5 189.2 L146.0 189.3 L146.5 188.9 L147.0 187.8 L147.5 186.1 L148.0 184.0 L148.5 181.4 L149.0 178.5 L149.5 175.5 L150.0 173.0 L150.5 171.0 L151.0 169.4 L151.5 168.0 L152.0 167.0 L152.5 166.3 L153.0 165.9 L153.5 165.9 L154.0 166.0 L154.5 166.6 L155.0 167.6 L155.5 168.5 L156.0 169.0 L156.5 168.9 L157.0 168.5 L157.5 167.8 L158.0 167.0 L158.5 166.0 L159.0 164.7 L159.5 163.3 L160.0 162.0 L160.5 160.6 L161.0 159.2 L161.5 157.8 L162.0 156.4 L162.5 155.1 L163.0 154.0 L163.5 153.1 L164.0 152.2 L164.5 151.5 L165.0 150.9 L165.5 150.4 L166.0 150.0 L166.5 149.8 L167.0 149.7 L167.5 149.8 L168.0 149.9 L168.5 149.9 L169.0 149.6 L169.5 149.0 L170.0 148.0 L170.5 146.9 L171.0 146.0 L171.5 145.6 L172.0 145.8 L172.5 146.4 L173.0 147.3 L173.5 148.6 L174.0 150.0 L174.5 151.6 L175.0 153.4 L175.5 155.4 L176.0 157.5 L176.5 159.7 L177.0 162.0 L177.5 164.4 L178.0 167.0 L178.5 169.6 L179.0 172.4 L179.5 175.2 L180.0 178.0 L180.5 180.9 L181.0 183.9 L181.5 186.9 L182.0 189.9 L182.5 193.0 L183.0 196.0 L183.5 199.1 L184.0 202.2 L184.5 205.4 L185.0 208.4 L185.5 211.3 L186.0 214.0 L186.5 216.4 L187.0 218.5 L187.5 220.5 L188.0 222.4 L188.5 224.2 L189.0 226.0 L189.5 227.8 L190.0 229.5 L190.5 231.2 L191.0 232.8 L191.5 234.4 L192.0 236.0 L192.5 237.5 L193.0 239.0 L193.5 240.4 L194.0 242.0 L194.5 243.6 L195.0 245.2 L195.5 246.8 L196.0 248.4 L196.5 250.1 L197.0 251.9 L197.5 253.8 L198.0 256.0 L198.5 258.6 L199.0 261.5 L199.5 264.7 L200.0 268.0 L200.5 271.1 L201.0 274.0 L201.5 276.6 L202.0 279.1 L202.5 281.5 L203.0 283.8 L203.5 285.9 L204.0 288.0 L204.5 290.0 L205.0 291.8 L205.5 293.6 L206.0 295.4 L206.5 297.1 L207.0 298.7 L207.5 300.4 L208.0 302.0 L208.5 303.6 L209.0 305.1 L209.5 306.6 L210.0 308.1 L210.5 309.6 L211.0 311.0 L211.5 312.5 L212.0 314.0 L212.5 315.5 L213.0 316.9 L213.5 318.2 L214.0 319.6 L214.5 321.1 L215.0 322.6 L215.5 324.2 L216.0 326.0 L216.5 328.0 L217.0 330.1 L217.5 332.4 L218.0 334.8 L218.5 337.4 L219.0 340.0 L219.5 342.7 L220.0 345.6 L220.5 348.6 L221.0 351.6 L221.5 354.8 L222.0 358.0 L222.5 362.3 L223.0 367.0 L223.5 369.8 L224.0 368.8 L224.5 364.6 L225.0 360.0 L225.5 355.9 L226.0 351.7 L226.5 347.5 L227.0 344.0 L227.5 341.1 L228.0 338.6 L228.5 336.6 L229.0 335.0 L229.5 333.9 L230.0 333.1 L230.5 332.5 L231.0 332.0 L231.5 331.5 L232.0 331.0 L232.5 330.4 L233.0 329.9 L233.5 329.4 L234.0 328.9 L234.5 328.4 L235.0 328.0 L235.5 327.6 L236.0 327.2 L236.5 326.9 L237.0 326.6 L237.5 326.5 L238.0 326.4 L238.5 326.5 L239.0 326.8 L239.5 327.3 L240.0 328.0 L240.5 329.1 L241.0 330.4 L241.5 331.8 L242.0 333.1 L242.5 334.2 L243.0 335.1 L243.5 335.9 L244.0 336.4 L244.5 336.3 L245.0 335.9 L245.5 335.0 L246.0 333.6 L246.5 331.5 L247.0 328.8 L247.5 325.6 L248.0 322.1 L248.5 318.8 L249.0 316.0 L249.5 313.7 L250.0 311.7 L250.5 310.1 L251.0 309.0 L251.5 308.3 L252.0 307.9 L252.5 307.8 L253.0 307.6 L253.5 307.4 L254.0 307.0 L254.5 306.4 L255.0 305.8 L255.5 305.1 L256.0 304.3 L256.5 303.3 L257.0 302.0 L257.5 300.3 L258.0 298.3 L258.5 296.1 L259.0 293.8 L259.5 291.7 L260.0 290.0 L260.5 288.6 L261.0 287.4 L261.5 286.4 L262.0 285.5 L262.5 284.7 L263.0 284.0 L263.5 283.4 L264.0 282.9 L264.5 282.6 L265.0 282.3 L265.5 282.0 L266.0 281.6 L266.5 281.2 L267.0 280.9 L267.5 280.6 L268.0 280.2 L268.5 279.7 L269.0 279.0 L269.5 278.1 L270.0 277.1 L270.5 275.9 L271.0 274.6 L271.5 273.3 L272.0 272.0 L272.5 270.6 L273.0 269.0 L273.5 267.4 L274.0 265.8 L274.5 264.3 L275.0 263.0 L275.5 261.9 L276.0 260.8 L276.5 259.9 L277.0 259.1 L277.5 258.5 L278.0 258.0 L278.5 257.7 L279.0 257.6 L279.5 257.7 L280.0 257.8 L280.5 258.1 L281.0 258.4 L281.5 259.0 L282.0 259.9 L282.5 260.8 L283.0 261.7 L283.5 262.1 L284.0 262.0 L284.5 261.3 L285.0 260.2 L285.5 258.9 L286.0 257.3 L286.5 255.7 L287.0 254.1 L287.5 252.5 L288.0 251.0 L288.5 249.6 L289.0 248.1 L289.5 246.7 L290.0 245.2 L290.5 243.8 L291.0 242.4 L291.5 241.1 L292.0 240.0 L292.5 239.0 L293.0 238.1 L293.5 237.3 L294.0 236.5 L294.5 235.8 L295.0 235.2 L295.5 234.6 L296.0 234.0 L296.5 233.4 L297.0 232.8 L297.5 232.2 L298.0 231.7 L298.5 231.3 L299.0 230.9 L299.5 230.7 L300.0 230.6 L300.5 230.7 L301.0 231.0 L301.5 231.5 L302.0 232.1 L302.5 232.6 L303.0 233.2 L303.5 233.7 L304.0 234.0 L304.5 234.2 L305.0 234.4 L305.5 234.5 L306.0 234.6 L306.5 234.6 L307.0 234.6 L307.5 234.6 L308.0 234.6 L308.5 234.5 L309.0 234.4 L309.5 234.2 L310.0 234.1 L310.5 233.9 L311.0 233.7 L311.5 233.5 L312.0 233.4 L312.5 233.4 L313.0 233.4 L313.5 233.5 L314.0 233.6 L314.5 233.7 L315.0 233.9 L315.5 234.3 L316.0 234.7 L316.5 235.3 L317.0 236.0 L317.5 237.0 L318.0 238.5 L318.5 240.1 L319.0 241.8 L319.5 243.5 L320.0 245.0 L320.5 246.5 L321.0 248.1 L321.5 249.5 L322.0 250.6 L322.5 251.0 L323.0 250.9 L323.5 250.3 L324.0 249.4 L324.5 248.3 L325.0 247.0 L325.5 245.4 L326.0 243.5 L326.5 241.5 L327.0 239.4 L327.5 237.5 L328.0 236.0 L328.5 234.9 L329.0 234.2 L329.5 234.0 L330.0 234.0 L330.5 234.3 L331.0 234.9 L331.5 235.6 L332.0 236.4 L332.5 237.2 L333.0 238.0 L333.5 238.8 L334.0 239.5 L334.5 240.2 L335.0 240.9 L335.5 241.7 L336.0 242.7 L336.5 243.7 L337.0 245.0 L337.5 246.5 L338.0 248.3 L338.5 250.3 L339.0 252.4 L339.5 254.7 L340.0 257.0 L340.5 259.6 L341.0 262.5 L341.5 265.5 L342.0 268.2 L342.5 270.4 L343.0 272.2 L343.5 273.7 L344.0 274.5 L344.5 274.5 L345.0 273.8 L345.5 272.4 L346.0 270.8 L346.5 269.3 L347.0 268.0 L347.5 266.9 L348.0 265.9 L348.5 265.0 L349.0 264.6 L349.5 264.7 L350.0 265.4 L350.5 266.7 L351.0 268.2 L351.5 269.7 L352.0 271.0 L352.5 272.2 L353.0 273.4 L353.5 274.5 L354.0 275.6 L354.5 276.6 L355.0 277.4 L355.5 278.0 L356.0 278.3 L356.5 278.3 L357.0 278.0 L357.5 277.1 L358.0 275.6 L358.5 274.1 L359.0 273.0 L359.5 272.3 L360.0 271.9 L360.5 271.7 L361.0 272.0 L361.5 272.7 L362.0 273.6 L362.5 274.7 L363.0 275.9 L363.5 277.0 L364.0 278.0 L364.5 279.0 L365.0 279.9 L365.5 280.9 L366.0 281.8 L366.5 282.5 L367.0 283.0 L367.5 283.3 L368.0 283.5 L368.5 283.6 L369.0 283.6 L369.5 283.6 L370.0 283.6 L370.5 283.6 L371.0 283.6 L371.5 283.6 L372.0 283.6 L372.5 283.5 L373.0 283.5 L373.5 283.7 L374.0 284.0 L374.5 284.5 L375.0 285.2 L375.5 286.0 L376.0 286.9 L376.5 287.9 L377.0 289.0 L377.5 290.3 L378.0 291.7 L378.5 293.3 L379.0 294.9 L379.5 296.5 L380.0 298.0 L380.5 299.4 L381.0 300.9 L381.5 302.3 L382.0 303.7 L382.5 304.9 L383.0 306.0 L383.5 307.0 L384.0 307.8 L384.5 308.6 L385.0 309.1 L385.5 309.4 L386.0 309.3 L386.5 308.9 L387.0 308.2 L387.5 307.5 L388.0 307.0 L388.5 306.6 L389.0 306.1 L389.5 305.7 L390.0 305.3 L390.5 305.1 L391.0 305.0 L391.5 305.1 L392.0 305.3 L392.5 305.6 L393.0 306.0 L393.5 306.5 L394.0 307.0 L394.5 307.6 L395.0 308.3 L395.5 309.1 L396.0 309.8 L396.5 310.7 L397.0 311.5 L397.5 312.2 L398.0 313.0 L398.5 313.7 L399.0 314.5 L399.5 315.3 L400.0 316.0 L400.5 316.8 L401.0 317.4 L401.5 318.1 L402.0 318.6 L402.5 319.1 L403.0 319.4 L403.5 319.6 L404.0 319.6 L404.5 319.3 L405.0 318.9 L405.5 318.4 L406.0 317.8 L406.5 317.1 L407.0 316.4 L407.5 315.7 L408.0 315.0 L408.5 314.3 L409.0 313.5 L409.5 312.7 L410.0 311.9 L410.5 311.1 L411.0 310.4 L411.5 309.6 L412.0 309.0 L412.5 308.4 L413.0 307.7 L413.5 307.1 L414.0 306.5 L414.5 305.9 L415.0 305.6 L415.5 305.4 L416.0 305.4 L416.5 305.8 L417.0 306.6 L417.5 307.6 L418.0 308.8 L418.5 310.0 L419.0 311.0 L419.5 312.1 L420.0 313.4 L420.5 314.5 L421.0 315.1 L421.5 314.9 L422.0 313.7 L422.5 311.9 L423.0 309.6 L423.5 307.3 L424.0 305.0 L424.5 302.7 L425.0 300.2 L425.5 297.6 L426.0 295.1 L426.5 292.8 L427.0 291.0 L427.5 289.7 L428.0 288.7 L428.5 288.1 L429.0 287.7 L429.5 287.4 L430.0 287.3 L430.5 287.4 L431.0 287.5 L431.5 287.8 L432.0 288.1 L432.5 288.4 L433.0 288.6 L433.5 288.7 L434.0 288.7 L434.5 288.7 L435.0 288.7 L435.5 288.8 L436.0 289.0 L436.5 289.4 L437.0 290.0 L437.5 291.0 L438.0 292.3 L438.5 293.9 L439.0 295.7 L439.5 297.4 L440.0 299.0 L440.5 300.7 L441.0 302.7 L441.5 304.8 L442.0 306.5 L442.5 307.7 L443.0 308.0 L443.5 307.3 L444.0 305.7 L444.5 303.5 L445.0 301.1 L445.5 298.8 L446.0 297.0 L446.5 295.5 L447.0 294.0 L447.5 292.7 L448.0 291.5 L448.5 290.6 L449.0 290.0 L449.5 289.8 L450.0 289.9 L450.5 290.3 L451.0 290.8 L451.5 291.4 L452.0 292.0 L452.5 292.8 L453.0 293.9 L453.5 295.0 L454.0 295.8 L454.5 296.0 L455.0 295.5 L455.5 294.5 L456.0 293.3 L456.5 292.1 L457.0 291.0 L457.5 289.9 L458.0 288.7 L458.5 287.5 L459.0 286.5 L459.5 285.7 L460.0 285.4 L460.5 285.5 L461.0 285.9 L461.5 286.5 L462.0 287.2 L462.5 288.0 L463.0 288.8 L463.5 289.5 L464.0 290.0 L464.5 290.4 L465.0 290.8 L465.5 291.2 L466.0 291.5 L466.5 291.8 L467.0 292.1 L467.5 292.3 L468.0 292.4 L468.5 292.4 L469.0 292.4 L469.5 292.2 L470.0 292.1 L470.5 291.9 L471.0 291.7 L471.5 291.6 L472.0 291.6 L472.5 291.6 L473.0 291.7 L473.5 291.8 L474.0 292.0 L474.5 292.4 L475.0 293.0 L475.5 293.8 L476.0 294.9 L476.5 296.1 L477.0 297.4 L477.5 298.7 L478.0 300.0 L478.5 301.3 L479.0 302.7 L479.5 304.0 L480.0 305.4 L480.5 306.7 L481.0 308.0 L481.5 309.2 L482.0 310.5 L482.5 311.8 L483.0 312.9 L483.5 313.8 L484.0 314.4 L484.5 314.6 L485.0 314.6 L485.5 314.3 L486.0 313.9 L486.5 313.4 L487.0 313.0 L487.5 312.5 L488.0 311.9 L488.5 311.3 L489.0 310.7 L489.5 310.2 L490.0 310.0 L490.5 310.0 L491.0 310.2 L491.5 310.6 L492.0 311.0 L492.5 311.5 L493.0 312.0 L493.5 312.5 L494.0 313.2 L494.5 313.8 L495.0 314.6 L495.5 315.3 L496.0 316.0 L496.5 316.7 L497.0 317.5 L497.5 318.3 L498.0 319.1 L498.5 319.9 L499.0 320.7 L499.5 321.4 L500.0 322.0 L500.5 322.6 L501.0 323.1 L501.5 323.6 L502.0 324.0 L502.5 324.3 L503.0 324.4 L503.5 324.3 L504.0 324.0 L504.5 323.6 L505.0 323.2 L505.5 322.8 L506.0 322.4 L506.5 322.1 L507.0 321.9 L507.5 321.6 L508.0 321.4 L508.5 321.1 L509.0 320.9 L509.5 320.6 L510.0 320.4 L510.5 320.1 L511.0 319.8 L511.5 319.5 L512.0 319.2 L512.5 319.0 L513.0 319.0 L513.5 319.1 L514.0 319.5 L514.5 320.1 L515.0 321.0 L515.5 322.3 L516.0 323.8 L516.5 325.4 L517.0 327.1 L517.5 328.6 L518.0 330.0 L518.5 331.2 L519.0 332.4 L519.5 333.4 L520.0 334.3 L520.5 335.1 L521.0 335.6 L521.5 335.8 L522.0 335.7 L522.5 335.1 L523.0 334.0 L523.5 332.0 L524.0 329.4 L524.5 326.6 L525.0 324.0 L525.5 321.7 L526.0 319.5 L526.5 317.5 L527.0 316.0 L527.5 315.1 L528.0 314.5 L528.5 314.4 L529.0 314.4 L529.5 314.7 L530.0 315.4 L530.5 316.2 L531.0 317.0 L531.5 317.8 L532.0 318.5 L532.5 319.3 L533.0 320.2 L533.5 321.0 L534.0 322.0 L534.5 323.0 L535.0 324.1 L535.5 325.4 L536.0 327.0 L536.5 329.0 L537.0 331.3 L537.5 333.7 L538.0 336.0 L538.5 338.1 L539.0 340.2 L539.5 342.2 L540.0 344.0 L540.5 345.8 L541.0 347.5 L541.5 348.9 L542.0 349.6 L542.5 349.4 L543.0 348.5 L543.5 347.3 L544.0 346.0 L544.5 344.6 L545.0 343.0 L545.5 341.4 L546.0 340.0 L546.5 338.8 L547.0 337.9 L547.5 337.2 L548.0 336.9 L548.5 337.1 L549.0 337.7 L549.5 338.6 L550.0 339.7 L550.5 340.9 L551.0 342.0 L551.5 343.2 L552.0 344.7 L552.5 346.2 L553.0 347.5 L553.5 348.5 L554.0 349.0 L554.5 348.8 L555.0 348.1 L555.5 347.1 L556.0 346.0 L556.5 344.9 L557.0 344.0 L557.5 343.3 L558.0 342.7 L558.5 342.1 L559.0 341.6 L559.5 341.2 L560.0 341.0 L560.5 341.0 L561.0 341.2 L561.5 341.4 L562.0 341.8 L562.5 342.1 L563.0 342.3 L563.5 342.5 L564.0 342.4 L564.5 342.1 L565.0 341.7 L565.5 341.2 L566.0 340.6 L566.5 339.9 L567.0 339.3 L567.5 338.6 L568.0 338.0 L568.5 337.4 L569.0 336.7 L569.5 336.1 L570.0 335.4 L570.5 334.7 L571.0 334.1 L571.5 333.5 L572.0 333.0 L572.5 332.5 L573.0 332.1 L573.5 331.8 L574.0 331.5 L574.5 331.5 L575.0 331.6 L575.5 332.0 L576.0 332.6 L576.5 333.3 L577.0 334.2 L577.5 335.1 L578.0 336.0 L578.5 336.9 L579.0 338.0 L579.5 339.1 L580.0 340.2 L580.5 341.2 L581.0 342.0 L581.5 342.7 L582.0 343.4 L582.5 343.8 L583.0 344.0 L583.5 344.0 L584.0 343.5 L584.5 342.8 L585.0 341.9 L585.5 340.9 L586.0 340.0 L586.5 339.1 L587.0 338.2 L587.5 337.3 L588.0 336.4 L588.5 335.5 L589.0 334.6 L589.5 333.8 L590.0 333.0 L590.5 332.3 L591.0 331.7 L591.5 331.1 L592.0 330.6 L592.5 330.2 L593.0 330.0 L593.5 329.9 L594.0 329.9 L594.5 330.0 L595.0 330.2 L595.5 330.4 L596.0 330.6 L596.5 330.8 L597.0 331.0 L597.5 331.2 L598.0 331.6 L598.5 332.0 L599.0 332.3 L599.5 332.7 L600.0 332.9 L600.5 333.0 L601.0 333.0 L601.5 332.7 L602.0 332.2 L602.5 331.5 L603.0 330.7 L603.5 329.8 L604.0 329.0 L604.5 328.2 L605.0 327.3 L605.5 326.4 L606.0 325.5 L606.5 324.6 L607.0 323.7 L607.5 322.8 L608.0 322.0 L608.5 321.2 L609.0 320.4 L609.5 319.5 L610.0 318.7 L610.5 318.0 L611.0 317.2 L611.5 316.6 L612.0 316.0 L612.5 315.5 L613.0 315.1 L613.5 314.8 L614.0 314.8 L614.5 315.1 L615.0 315.7 L615.5 316.5 L616.0 317.6 L616.5 318.8 L617.0 320.0 L617.5 321.5 L618.0 323.2 L618.5 325.0 L619.0 326.7 L619.5 328.1 L620.0 329.0 L620.5 329.3 L621.0 329.1 L621.5 328.4 L622.0 327.2 L622.5 325.6 L623.0 323.3 L623.5 320.4 L624.0 317.3 L624.5 314.3 L625.0 312.0 L625.5 310.2 L626.0 308.8 L626.5 307.6 L627.0 306.8 L627.5 306.1 L628.0 305.7 L628.5 305.8 L629.0 306.1 L629.5 306.5 L630.0 307.0 L630.5 307.5 L631.0 308.0 L631.5 308.5 L632.0 309.0 L632.5 309.7 L633.0 310.3 L633.5 311.1 L634.0 312.0 L634.5 313.0 L635.0 314.2 L635.5 315.4 L636.0 316.9 L636.5 318.4 L637.0 320.0 L637.5 321.8 L638.0 323.9 L638.5 326.0 L639.0 328.1 L639.5 330.2 L640.0 332.0 L640.5 333.8 L641.0 335.5 L641.5 337.0 L642.0 337.9 L642.5 337.9 L643.0 336.9 L643.5 335.0 L644.0 332.8 L644.5 330.7 L645.0 329.0 L645.5 327.7 L646.0 326.4 L646.5 325.4 L647.0 324.5 L647.5 324.0 L648.0 324.0 L648.5 324.4 L649.0 325.1 L649.5 326.0 L650.0 327.0 L650.5 328.3 L651.0 329.9 L651.5 331.6 L652.0 333.2 L652.5 334.4 L653.0 335.0 L653.5 334.9 L654.0 334.3 L654.5 333.2 L655.0 332.1 L655.5 330.9 L656.0 330.0 L656.5 329.2 L657.0 328.3 L657.5 327.4 L658.0 326.7 L658.5 326.2 L659.0 326.0 L659.5 326.2 L660.0 326.8 L660.5 327.6 L661.0 328.4 L661.5 329.3 L662.0 330.0 L662.5 330.6 L663.0 331.2 L663.5 331.8 L664.0 332.4 L664.5 332.8 L665.0 333.0 L665.5 333.1 L666.0 333.0 L666.5 332.9 L667.0 332.7 L667.5 332.5 L668.0 332.3 L668.5 332.1 L669.0 332.0 L669.5 331.9 L670.0 331.8 L670.5 331.7 L671.0 331.6 L671.5 331.5 L672.0 331.6 L672.5 331.7 L673.0 332.0 L673.5 332.4 L674.0 333.1 L674.5 333.8 L675.0 334.8 L675.5 335.8 L676.0 337.0 L676.5 338.4 L677.0 340.1 L677.5 341.9 L678.0 343.7 L678.5 345.4 L679.0 347.0 L679.5 348.4 L680.0 349.7 L680.5 351.0 L681.0 352.1 L681.5 353.1 L682.0 354.0 L682.5 354.7 L683.0 355.2 L683.5 355.6 L684.0 355.7 L684.5 355.6 L685.0 355.1 L685.5 354.3 L686.0 353.4 L686.5 352.6 L687.0 352.0 L687.5 351.6 L688.0 351.3 L688.5 351.1 L689.0 350.9 L689.5 350.9 L690.0 351.0 L690.5 351.2 L691.0 351.6 L691.5 352.1 L692.0 352.7 L692.5 353.3 L693.0 354.0 L693.5 354.7 L694.0 355.5 L694.5 356.4 L695.0 357.3 L695.5 358.2 L696.0 359.0 L696.5 359.8 L697.0 360.7 L697.5 361.6 L698.0 362.5 L698.5 363.3 L699.0 364.0 L699.5 364.6 L700.0 365.0 L700.5 365.2 L701.0 365.3 L701.5 365.2 L702.0 365.0 L702.5 364.8 L703.0 364.5 L703.5 364.2 L704.0 364.0 L704.5 363.8 L705.0 363.6 L705.5 363.3 L706.0 363.1 L706.5 362.8 L707.0 362.5 L707.5 362.3 L708.0 362.0 L708.5 361.7 L709.0 361.4 L709.5 361.0 L710.0 360.7 L710.5 360.4 L711.0 360.1 L711.5 360.0 L712.0 360.0 L712.5 360.1 L713.0 360.4 L713.5 360.9 L714.0 361.4 L714.5 362.2 L715.0 363.0 L715.5 364.1 L716.0 365.5 L716.5 367.0 L717.0 368.5 L717.5 369.9 L718.0 371.0 L718.5 372.0 L719.0 373.0 L719.5 373.7 L720.0 373.9 L720.5 373.4 L721.0 372.2 L721.5 370.5 L722.0 368.4 L722.5 366.2 L723.0 364.0 L723.5 361.7 L724.0 359.1 L724.5 356.6 L725.0 354.2 L725.5 352.3 L726.0 351.0 L726.5 350.2 L727.0 349.7 L727.5 349.6 L728.0 349.6 L728.5 349.8 L729.0 350.3 L729.5 351.0 L730.0 351.7 L730.5 352.4 L731.0 353.0 L731.5 353.5 L732.0 354.0 L732.5 354.4 L733.0 354.9 L733.5 355.4 L734.0 356.0 L734.5 356.6 L735.0 357.1 L735.5 357.7 L736.0 358.8 L736.5 360.4 L737.0 363.2 L737.5 366.6 L738.0 370.0 L738.5 372.4 L739.0 374.2 L739.5 375.8 L740.0 377.0 L740.5 377.9 L741.0 378.4 L741.5 378.3 L742.0 377.5 L742.5 376.4 L743.0 375.0 L743.5 373.4 L744.0 371.5 L744.5 369.6 L745.0 367.7 L745.5 366.2 L746.0 365.2 L746.5 364.3 L747.0 363.7 L747.5 363.5 L748.0 363.6 L748.5 364.2 L749.0 365.4 L749.5 366.8 L750.0 368.1 L750.5 369.2 L751.0 370.2 L751.5 371.3 L752.0 372.3 L752.5 372.9 L753.0 373.0 L753.5 372.5 L754.0 371.4 L754.5 370.0 L755.0 368.5 L755.5 367.2 L756.0 366.2 L756.5 365.0 L757.0 364.0 L757.5 363.0 L758.0 362.3 L758.5 362.0 L759.0 362.0 L759.5 362.3 L760.0 362.9 L760.5 363.5 L761.0 364.0 L761.5 364.5 L762.0 365.0 L762.5 365.5 L763.0 366.1 L763.5 366.5 L764.0 366.8 L764.5 367.0 L765.0 367.0 L765.5 366.9 L766.0 366.7 L766.5 366.5 L767.0 366.2 L767.5 365.9 L768.0 365.6 L768.5 365.3 L769.0 364.9 L769.5 364.5 L770.0 364.1 L770.5 363.7 L771.0 363.4 L771.5 363.1 L772.0 363.0 L772.5 363.0 L773.0 363.1 L773.5 363.3 L774.0 363.6 L774.5 364.2 L775.0 365.0 L775.5 366.1 L776.0 367.6 L776.5 369.2 L777.0 370.9 L777.5 372.5 L778.0 374.0 L778.5 375.3 L779.0 376.7 L779.5 377.9 L780.0 379.1 L780.5 380.1 L781.0 381.0 L781.5 381.6 L782.0 381.9 L782.5 381.9 L783.0 381.6 L783.5 380.9 L784.0 380.0 L784.5 378.9 L785.0 377.8 L785.5 376.8 L786.0 376.0 L786.5 375.4 L787.0 374.9 L787.5 374.5 L788.0 374.3 L788.5 374.1 L789.0 374.0 L789.5 374.0 L790.0 374.2 L790.5 374.5 L791.0 374.8 L791.5 375.2 L792.0 375.6 L792.5 376.0 L793.0 376.5 L793.5 377.0 L794.0 377.5 L794.5 378.1 L795.0 378.6 L795.5 379.1 L796.0 379.6 L796.5 380.1 L797.0 380.7 L797.5 381.2 L798.0 381.8 L798.5 382.2 L799.0 382.6 L799.5 382.9 L800.0 383.0 L800.5 382.9 L801.0 382.6 L801.5 382.2 L802.0 381.7 L802.5 381.2 L803.0 380.6 L803.5 380.1 L804.0 379.6 L804.5 379.2 L805.0 378.7 L805.5 378.3 L806.0 377.8 L806.5 377.4 L807.0 376.9 L807.5 376.5 L808.0 376.0 L808.5 375.5 L809.0 375.0 L809.5 374.5 L810.0 373.9 L810.5 373.4 L811.0 373.0 L811.5 372.6 L812.0 372.4 L812.5 372.4 L813.0 372.6 L813.5 373.1 L814.0 374.0 L814.5 375.2 L815.0 376.7 L815.5 378.4 L816.0 380.1 L816.5 381.6 L817.0 383.0 L817.5 384.2 L818.0 385.3 L818.5 386.0 L819.0 386.0 L819.5 385.2 L820.0 383.8 L820.5 382.0 L821.0 380.0 L821.5 377.8 L822.0 375.3 L822.5 372.8 L823.0 370.2 L823.5 367.9 L824.0 366.0 L824.5 364.6 L825.0 363.5 L825.5 362.8 L826.0 362.3 L826.5 361.9 L827.0 361.8 L827.5 362.0 L828.0 362.3 L828.5 362.6 L829.0 363.0 L829.5 363.3 L830.0 363.7 L830.5 364.1 L831.0 364.6 L831.5 365.2 L832.0 366.0 L832.5 367.0 L833.0 368.1 L833.5 369.4 L834.0 370.9 L834.5 372.4 L835.0 374.0 L835.5 375.8 L836.0 377.9 L836.5 380.0 L837.0 382.2 L837.5 384.2 L838.0 386.0 L838.5 387.6 L839.0 389.2 L839.5 390.5 L840.0 391.4 L840.5 391.6 L841.0 391.1 L841.5 390.2 L842.0 388.9 L842.5 387.5 L843.0 386.0 L843.5 384.4 L844.0 382.5 L844.5 380.5 L845.0 378.7 L845.5 377.2 L846.0 376.2 L846.5 375.4 L847.0 374.9 L847.5 374.8 L848.0 375.0 L848.5 375.7 L849.0 376.7 L849.5 378.0 L850.0 379.4 L850.5 380.8 L851.0 382.0 L851.5 383.3 L852.0 384.7 L852.5 385.8 L853.0 386.0 L853.5 385.3 L854.0 384.0 L854.5 382.3 L855.0 380.7 L855.5 379.2 L856.0 378.1 L856.5 377.0 L857.0 375.9 L857.5 375.0 L858.0 374.3 L858.5 374.0 L859.0 374.0 L859.5 374.3 L860.0 374.8 L860.5 375.4 L861.0 376.0 L861.5 376.7 L862.0 377.5 L862.5 378.3 L863.0 379.1 L863.5 379.7 L864.0 380.0 L864.5 380.0 L865.0 379.7 L865.5 379.4 L866.0 378.9 L866.5 378.4 L867.0 377.8 L867.5 377.4 L868.0 377.0 L868.5 376.7 L869.0 376.3 L869.5 375.9 L870.0 375.5 L870.5 375.2 L871.0 375.0 L871.5 374.9 L872.0 375.0 L872.5 375.2 L873.0 375.6 L873.5 376.2 L874.0 377.0 L874.5 377.9 L875.0 379.0 L875.5 380.4 L876.0 382.1 L876.5 383.9 L877.0 385.8 L877.5 387.6 L878.0 389.0 L878.5 390.2 L879.0 391.2 L879.5 392.1 L880.0 392.9 L880.5 393.5 L881.0 394.0 L881.5 394.2 L882.0 394.0 L882.5 393.6 L883.0 393.0 L883.5 392.3 L884.0 391.4 L884.5 390.5 L885.0 389.6 L885.5 388.7 L886.0 388.0 L886.5 387.4 L887.0 386.9 L887.5 386.4 L888.0 386.0 L888.5 385.8 L889.0 385.6 L889.5 385.6 L890.0 385.7 L890.5 385.9 L891.0 386.2 L891.5 386.6 L892.0 387.0 L892.5 387.5 L893.0 388.1 L893.5 388.7 L894.0 389.4 L894.5 390.1 L895.0 390.8 L895.5 391.4 L896.0 392.0 L896.5 392.6 L897.0 393.2 L897.5 393.8 L898.0 394.4 L898.5 394.9 L899.0 395.3 L899.5 395.6 L900.0 395.6 L900.5 395.4 L901.0 395.0 L901.5 394.5 L902.0 393.8 L902.5 393.1 L903.0 392.3 L903.5 391.6 L904.0 391.0 L904.5 390.4 L905.0 389.9 L905.5 389.3 L906.0 388.7 L906.5 388.1 L907.0 387.6 L907.5 387.0 L908.0 386.5 L908.5 385.9 L909.0 385.4 L909.5 384.8 L910.0 384.4 L910.5 384.2 L911.0 384.0 L911.5 384.0 L912.0 384.1 L912.5 384.4 L913.0 385.1 L913.5 386.1 L914.0 387.4 L914.5 388.9 L915.0 390.3 L915.5 391.6 L916.0 392.9 L916.5 394.3 L917.0 395.6 L917.5 396.9 L918.0 398.6 L918.5 399.7 L919.0 398.4 L919.5 396.3 L920.0 393.9 L920.5 391.4 L921.0 389.1 L921.5 386.8 L922.0 384.5 L922.5 382.3 L923.0 380.3 L923.5 378.6 L924.0 377.0 L924.5 375.6 L925.0 374.5 L925.5 373.7 L926.0 373.6 L926.5 374.3 L927.0 375.3" fill="none" stroke="#0072B2" stroke-width="2.08" stroke-linejoin="round" stroke-linecap="butt"/>
<path d="M927.0 375.4 L929.6 377.6 L932.0 379.2 L933.6 381.2 L935.2 385.2 L936.8 390.8 L938.4 394.8 L940.0 398.0 L941.6 395.6 L943.6 390.4 L945.0 390.0 L945.0 471.6 L943.6 472.8 L942.4 477.6 L940.8 480.8 L939.6 482.8 L938.4 480.8 L936.8 475.2 L935.2 467.2 L933.6 462.4 L932.0 460.0 L928.8 458.0 L927.0 456.4Z" fill="#0072B2" stroke="#0072B2" stroke-width="0.3" stroke-linejoin="round"/>
<circle cx="934.5" cy="179.5" r="2.08" fill="#f00" fill-opacity="0.7" stroke="#f00" stroke-opacity="0.7" stroke-width="1.39"/>
<circle cx="934.5" cy="191.5" r="2.08" fill="#f00" fill-opacity="0.7" stroke="#f00" stroke-opacity="0.7" stroke-width="1.39"/>
<circle cx="935.5" cy="216.5" r="2.08" fill="#f00" fill-opacity="0.7" stroke="#f00" stroke-opacity="0.7" stroke-width="1.39"/>
<circle cx="933.3" cy="231.3" r="2.08" fill="#f00" fill-opacity="0.7" stroke="#f00" stroke-opacity="0.7" stroke-width="1.39"/>
<circle cx="935.7" cy="233.3" r="2.08" fill="#f00" fill-opacity="0.7" stroke="#f00" stroke-opacity="0.7" stroke-width="1.39"/>
<circle cx="933.3" cy="236.5" r="2.08" fill="#f00" fill-opacity="0.7" stroke="#f00" stroke-opacity="0.7" stroke-width="1.39"/>
<circle cx="935.5" cy="240.5" r="2.08" fill="#f00" fill-opacity="0.7" stroke="#f00" stroke-opacity="0.7" stroke-width="1.39"/>
<circle cx="933.5" cy="248.5" r="2.08" fill="#f00" fill-opacity="0.7" stroke="#f00" stroke-opacity="0.7" stroke-width="1.39"/>
<circle cx="931.2" cy="253.3" r="2.08" fill="#f00" fill-opacity="0.7" stroke="#f00" stroke-opacity="0.7" stroke-width="1.39"/>
<circle cx="932.5" cy="256.8" r="2.08" fill="#f00" fill-opacity="0.7" stroke="#f00" stroke-opacity="0.7" stroke-width="1.39"/>
<circle cx="935.8" cy="256.6" r="2.08" fill="#f00" fill-opacity="0.7" stroke="#f00" stroke-opacity="0.7" stroke-width="1.39"/>
<circle cx="931.5" cy="265.5" r="2.08" fill="#f00" fill-opacity="0.7" stroke="#f00" stroke-opacity="0.7" stroke-width="1.39"/>
<circle cx="931.5" cy="271.5" r="2.08" fill="#f00" fill-opacity="0.7" stroke="#f00" stroke-opacity="0.7" stroke-width="1.39"/>
<circle cx="931.5" cy="278.3" r="2.08" fill="#f00" fill-opacity="0.7" stroke="#f00" stroke-opacity="0.7" stroke-width="1.39"/>
<circle cx="929.4" cy="328.0" r="2.08" fill="#f00" fill-opacity="0.7" stroke="#f00" stroke-opacity="0.7" stroke-width="1.39"/>
<circle cx="929.4" cy="330.0" r="2.08" fill="#f00" fill-opacity="0.7" stroke="#f00" stroke-opacity="0.7" stroke-width="1.39"/>
<circle cx="929.6" cy="333.2" r="2.08" fill="#f00" fill-opacity="0.7" stroke="#f00" stroke-opacity="0.7" stroke-width="1.39"/>
<circle cx="930.4" cy="336.0" r="2.08" fill="#f00" fill-opacity="0.7" stroke="#f00" stroke-opacity="0.7" stroke-width="1.39"/>
<circle cx="928.4" cy="342.4" r="2.08" fill="#f00" fill-opacity="0.7" stroke="#f00" stroke-opacity="0.7" stroke-width="1.39"/>
<rect x="79.5" y="15.5" width="906.0" height="527.0" fill="none" stroke="#000" stroke-width="1.11"/>
<path d="M124.50 542.5v4.86M223.50 542.5v4.86M322.50 542.5v4.86M422.50 542.5v4.86M521.50 542.5v4.86M620.50 542.5v4.86M719.50 542.5v4.86M819.50 542.5v4.86M918.50 542.5v4.86M79.5 120.50h-4.86M79.5 236.50h-4.86M79.5 351.50h-4.86M79.5 466.50h-4.86" stroke="#000" stroke-width="1.11" fill="none"/>
<g font-family="Liberation Sans, sans-serif" font-size="14.3" fill="#000" opacity="0.999">
<text x="123.6" y="562.3" text-anchor="middle" textLength="34.4" lengthAdjust="spacingAndGlyphs">2018</text>
<text x="222.6" y="562.3" text-anchor="middle" textLength="34.4" lengthAdjust="spacingAndGlyphs">2019</text>
<text x="321.6" y="562.3" text-anchor="middle" textLength="34.4" lengthAdjust="spacingAndGlyphs">2020</text>
<text x="421.6" y="562.3" text-anchor="middle" textLength="34.4" lengthAdjust="spacingAndGlyphs">2021</text>
<text x="520.6" y="562.3" text-anchor="middle" textLength="34.4" lengthAdjust="spacingAndGlyphs">2022</text>
<text x="619.6" y="562.3" text-anchor="middle" textLength="34.4" lengthAdjust="spacingAndGlyphs">2023</text>
<text x="718.6" y="562.3" text-anchor="middle" textLength="34.4" lengthAdjust="spacingAndGlyphs">2024</text>
<text x="818.6" y="562.3" text-anchor="middle" textLength="34.4" lengthAdjust="spacingAndGlyphs">2025</text>
<text x="917.6" y="562.3" text-anchor="middle" textLength="34.4" lengthAdjust="spacingAndGlyphs">2026</text>
<text x="68.7" y="126.2" text-anchor="end" textLength="33.6" lengthAdjust="spacingAndGlyphs">4000</text>
<text x="68.7" y="241.3" text-anchor="end" textLength="33.6" lengthAdjust="spacingAndGlyphs">3000</text>
<text x="68.7" y="357.3" text-anchor="end" textLength="33.6" lengthAdjust="spacingAndGlyphs">2000</text>
<text x="68.7" y="472.3" text-anchor="end" textLength="33.6" lengthAdjust="spacingAndGlyphs">1000</text>
<text x="532.6" y="582" text-anchor="middle" textLength="14.2" lengthAdjust="spacingAndGlyphs">ds</text>
<text transform="translate(24.5,278.9) rotate(-90)" text-anchor="middle">y</text>
</g>
</svg>
</body></html>
